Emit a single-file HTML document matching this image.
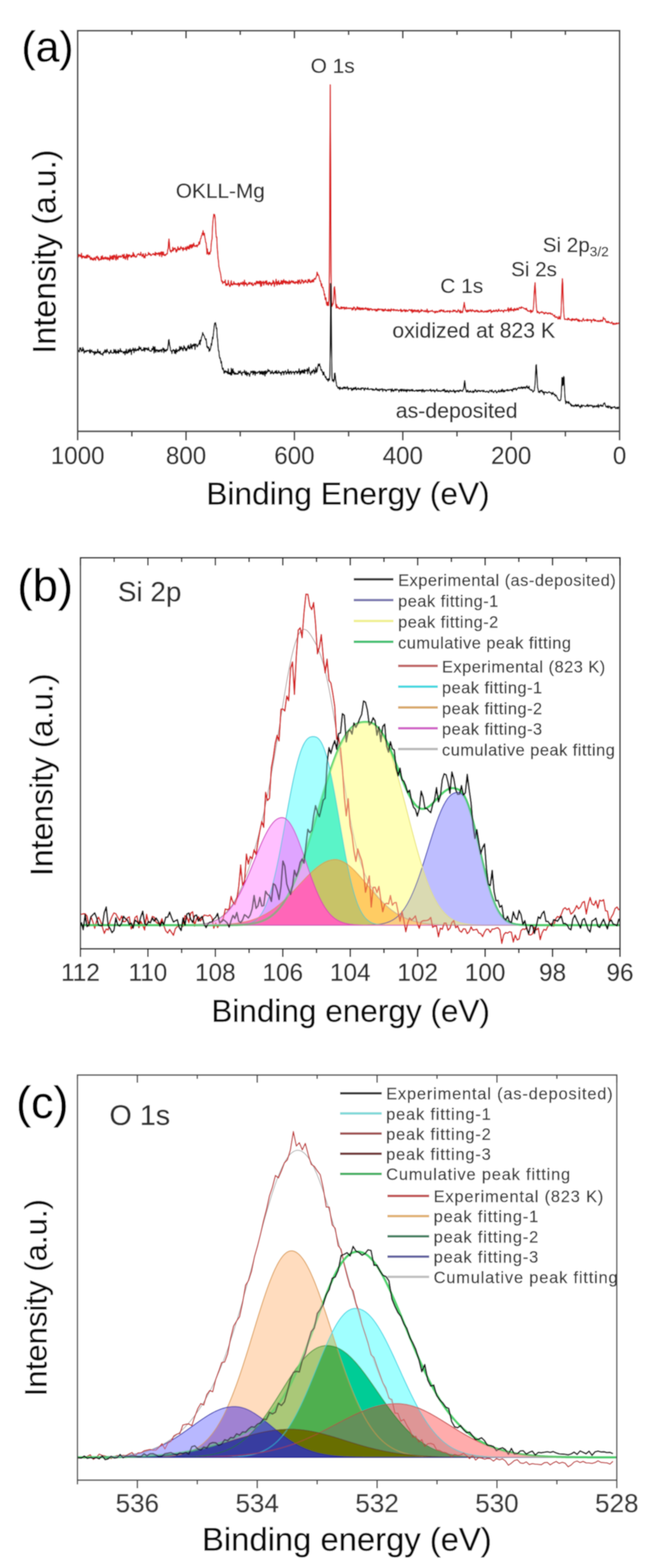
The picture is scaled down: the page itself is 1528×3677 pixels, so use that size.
<!DOCTYPE html>
<html><head><meta charset="utf-8"><title>XPS spectra</title>
<style>html,body{margin:0;padding:0;background:#fff;} svg{display:block;} text{font-family:"Liberation Sans", Arial, Helvetica, sans-serif;}</style>
</head><body>
<svg width="1528" height="3677" viewBox="0 0 1528 3677">
<defs><filter id="soft" x="0" y="0" width="1" height="1"><feGaussianBlur stdDeviation="1"/></filter></defs>
<rect width="1528" height="3677" fill="#fff"/>
<g filter="url(#soft)">
<rect width="1528" height="3677" fill="#fff"/>
<g>
<rect x="182" y="72" width="1270" height="939.5" fill="none" stroke="#4c4c4c" stroke-width="4"/>
<line x1="1452.0" y1="1011.5" x2="1452.0" y2="1032.5" stroke="#4c4c4c" stroke-width="4"/>
<line x1="1452.0" y1="72.0" x2="1452.0" y2="90.0" stroke="#4c4c4c" stroke-width="4"/>
<text x="1452.0" y="1087.5" font-size="56.60" fill="#333" text-anchor="middle" stroke="#333" stroke-width="0.6" >0</text>
<line x1="1325.0" y1="1011.5" x2="1325.0" y2="1023.5" stroke="#4c4c4c" stroke-width="4"/>
<line x1="1325.0" y1="72.0" x2="1325.0" y2="82.0" stroke="#4c4c4c" stroke-width="4"/>
<line x1="1198.0" y1="1011.5" x2="1198.0" y2="1032.5" stroke="#4c4c4c" stroke-width="4"/>
<line x1="1198.0" y1="72.0" x2="1198.0" y2="90.0" stroke="#4c4c4c" stroke-width="4"/>
<text x="1198.0" y="1087.5" font-size="56.60" fill="#333" text-anchor="middle" stroke="#333" stroke-width="0.6" >200</text>
<line x1="1071.0" y1="1011.5" x2="1071.0" y2="1023.5" stroke="#4c4c4c" stroke-width="4"/>
<line x1="1071.0" y1="72.0" x2="1071.0" y2="82.0" stroke="#4c4c4c" stroke-width="4"/>
<line x1="944.0" y1="1011.5" x2="944.0" y2="1032.5" stroke="#4c4c4c" stroke-width="4"/>
<line x1="944.0" y1="72.0" x2="944.0" y2="90.0" stroke="#4c4c4c" stroke-width="4"/>
<text x="944.0" y="1087.5" font-size="56.60" fill="#333" text-anchor="middle" stroke="#333" stroke-width="0.6" >400</text>
<line x1="817.0" y1="1011.5" x2="817.0" y2="1023.5" stroke="#4c4c4c" stroke-width="4"/>
<line x1="817.0" y1="72.0" x2="817.0" y2="82.0" stroke="#4c4c4c" stroke-width="4"/>
<line x1="690.0" y1="1011.5" x2="690.0" y2="1032.5" stroke="#4c4c4c" stroke-width="4"/>
<line x1="690.0" y1="72.0" x2="690.0" y2="90.0" stroke="#4c4c4c" stroke-width="4"/>
<text x="690.0" y="1087.5" font-size="56.60" fill="#333" text-anchor="middle" stroke="#333" stroke-width="0.6" >600</text>
<line x1="563.0" y1="1011.5" x2="563.0" y2="1023.5" stroke="#4c4c4c" stroke-width="4"/>
<line x1="563.0" y1="72.0" x2="563.0" y2="82.0" stroke="#4c4c4c" stroke-width="4"/>
<line x1="436.0" y1="1011.5" x2="436.0" y2="1032.5" stroke="#4c4c4c" stroke-width="4"/>
<line x1="436.0" y1="72.0" x2="436.0" y2="90.0" stroke="#4c4c4c" stroke-width="4"/>
<text x="436.0" y="1087.5" font-size="56.60" fill="#333" text-anchor="middle" stroke="#333" stroke-width="0.6" >800</text>
<line x1="309.0" y1="1011.5" x2="309.0" y2="1023.5" stroke="#4c4c4c" stroke-width="4"/>
<line x1="309.0" y1="72.0" x2="309.0" y2="82.0" stroke="#4c4c4c" stroke-width="4"/>
<line x1="182.0" y1="1011.5" x2="182.0" y2="1032.5" stroke="#4c4c4c" stroke-width="4"/>
<line x1="182.0" y1="72.0" x2="182.0" y2="90.0" stroke="#4c4c4c" stroke-width="4"/>
<text x="182.0" y="1087.5" font-size="56.60" fill="#333" text-anchor="middle" stroke="#333" stroke-width="0.6" >1000</text>
</g>
<polyline points="183,602.9 184,602.7 185,597 186,598 187,597.5 188,601.5 189,599.6 190,602.6 191,594 192,605.9 193,600.5 194,603.4 195,600.9 196,600.3 197,603.4 198,604.9 199,601.7 200,602.1 201,605.2 202,600.2 203,598.3 204,605 205,601.6 206,597.6 207,601.7 208,603.1 209,600.9 210,600.1 211,605.6 212,608.8 213,605.2 214,603.7 215,607.8 216,609.2 217,606 218,608.8 219,610.4 220,606.1 221,604 222,607.9 223,607.5 224,610.4 225,602.2 226,604.3 227,603.6 228,600.5 229,606.8 230,608.1 231,603.8 232,610.9 233,609 234,608.2 235,607.4 236,609.2 237,601.4 238,608 239,607.9 240,599.8 241,606.9 242,604.8 243,608.3 244,604.1 245,605.5 246,606.6 247,602.4 248,607.4 249,605 250,606.9 251,603.4 252,608.9 253,607.2 254,604.4 255,607.1 256,609.2 257,610.9 258,599.3 259,607.6 260,606 261,604 262,600.8 263,608.4 264,599.7 265,605.8 266,608.2 267,598.3 268,602.6 269,599 270,604.2 271,608.4 272,610 273,597 274,601 275,605.2 276,608.1 277,604.1 278,600 279,603.4 280,602.2 281,601.5 282,599.6 283,603.3 284,602.9 285,601.4 286,600.9 287,597.2 288,599.8 289,605.4 290,600.6 291,596.2 292,605.5 293,602.7 294,608 295,601 296,599.1 297,595.7 298,605 299,609.2 300,597.6 301,598.1 302,602.2 303,597.3 304,599.1 305,598.8 306,600.5 307,603.5 308,599.8 309,602.8 310,598.2 311,600.6 312,592.2 313,594.4 314,602 315,597.2 316,601.1 317,600.9 318,603.4 319,601.6 320,602.2 321,598.3 322,596.3 323,596.1 324,596.8 325,594.6 326,596.5 327,597.9 328,599 329,596.9 330,591.5 331,597.7 332,598.7 333,601.5 334,599.7 335,595.5 336,595.2 337,604.5 338,600.1 339,603.7 340,604.7 341,594.6 342,598.7 343,598.9 344,599.1 345,599 346,597.8 347,597.7 348,591.9 349,596.4 350,594.4 351,597.3 352,595.2 353,598.9 354,599.5 355,597.7 356,597.7 357,596.9 358,595 359,595.9 360,594.7 361,597.6 362,596.3 363,598.2 364,591.6 365,599.1 366,593.5 367,593.5 368,595.3 369,594.1 370,597 371,594 372,592.4 373,593.1 374,600.5 375,596.2 376,592 377,596 378,590.7 379,602.1 380,590.8 381,597.6 382,597.8 383,591.1 384,597 385,599.4 386,597.6 387,596.9 388,599.2 389,596.5 390,596.6 391,594.3 392,595.3 393,585.8 394,583.2 395,568 396,560.6 397,569.9 398,584.1 399,589.1 400,587.1 401,591.8 402,587.5 403,588.1 404,588.3 405,579.9 406,588.2 407,583.8 408,584.7 409,581.8 410,581.4 411,583.1 412,588.9 413,591.5 414,585.5 415,589.1 416,584.3 417,578.4 418,585.2 419,586 420,582.8 421,585 422,585.7 423,580.6 424,578.2 425,582.3 426,582.1 427,581.4 428,585.7 429,587.9 430,580.4 431,584 432,584.6 433,583.6 434,584.5 435,579.3 436,582.9 437,587.1 438,582.7 439,577.6 440,581.5 441,583.5 442,580.3 443,576.9 444,583.9 445,574.2 446,580 447,578 448,573.9 449,581.9 450,578.7 451,573.4 452,579.2 453,575.5 454,570.3 455,574.3 456,577.3 457,578.4 458,576.6 459,576 460,577.2 461,574.6 462,579 463,575 464,574.8 465,574.7 466,567.9 467,567.2 468,572.4 469,565.3 470,559.5 471,558.9 472,553.1 473,552.7 474,546.8 475,548.1 476,541.1 477,551.5 478,547.3 479,547 480,556 481,560.7 482,568.1 483,569.3 484,579.8 485,595.8 486,583.5 487,592.6 488,593.4 489,597.3 490,591.9 491,592.9 492,595.9 493,590 494,589.3 495,572.5 496,564.2 497,560.3 498,533.6 499,519.2 500,510.4 501,502.5 502,502.9 503,503.4 504,508.6 505,524 506,546.5 507,556.4 508,556.1 509,580.3 510,590.6 511,605.9 512,611.5 513,625.3 514,628.7 515,634.8 516,638.1 517,642.8 518,649.5 519,658.1 520,660.8 521,658.7 522,665.1 523,662.3 524,662.2 525,660.7 526,662.3 527,663 528,656.5 529,669.4 530,667.9 531,665.2 532,669.5 533,667.4 534,667.1 535,657.5 536,665.1 537,667.6 538,671.3 539,672 540,670.6 541,661.8 542,658.3 543,667.7 544,665.8 545,668.9 546,665.2 547,666.4 548,660.5 549,667.1 550,664.1 551,666.7 552,667.1 553,665.1 554,666.6 555,665.4 556,668 557,667.1 558,663.6 559,663.4 560,671.3 561,665 562,668.7 563,666.7 564,663.4 565,662.7 566,665.7 567,666.1 568,667.3 569,660.9 570,663.2 571,664.9 572,670.6 573,657.1 574,666.6 575,663.3 576,666.5 577,663.4 578,666.3 579,670.3 580,666.2 581,666.5 582,666.2 583,662.4 584,666.8 585,664.2 586,662.1 587,664.7 588,664.1 589,667.4 590,664.7 591,663 592,669.7 593,668.1 594,669.1 595,666.8 596,664.3 597,663.3 598,663.7 599,667.9 600,665 601,659.6 602,664.5 603,659.8 604,665.1 605,660.5 606,660.2 607,664.9 608,664.2 609,658.8 610,667 611,671.8 612,659.4 613,670.6 614,662 615,662.7 616,663.7 617,659.4 618,668.7 619,666 620,661.7 621,663.3 622,659.1 623,663 624,667.4 625,658.3 626,662.7 627,664.6 628,667.7 629,668.7 630,662.5 631,661.6 632,665.6 633,662.8 634,663 635,667.7 636,669.7 637,664.8 638,663.2 639,665.8 640,657.4 641,663.7 642,660.1 643,671.8 644,666 645,664 646,662.8 647,654.9 648,665.8 649,668.9 650,660.8 651,665.6 652,665.7 653,657.9 654,666.3 655,667.7 656,663.8 657,662.8 658,665.6 659,657.7 660,663.2 661,666.4 662,658.6 663,666.1 664,661.3 665,655.6 666,662.2 667,659.3 668,663.6 669,658.5 670,666 671,659.9 672,663.5 673,660.3 674,661.1 675,666.3 676,662.9 677,660.8 678,657.8 679,666 680,664.5 681,660.8 682,662.7 683,658.3 684,658.3 685,658.9 686,662.9 687,662.7 688,659.1 689,664.1 690,664.2 691,662.1 692,665 693,660.4 694,661 695,662.9 696,661.1 697,663.9 698,656.9 699,666 700,658.4 701,660.5 702,656.3 703,663 704,665.2 705,664.5 706,663.6 707,655.5 708,658.1 709,659.1 710,657.5 711,664.4 712,661.2 713,660.4 714,662.1 715,657.2 716,657.3 717,657.3 718,662 719,661.4 720,662.1 721,663.8 722,655.5 723,658.1 724,660.5 725,655.1 726,657.6 727,662.5 728,662.5 729,662.1 730,658.3 731,657.1 732,661.2 733,655.9 734,658 735,660.9 736,654.6 737,652.9 738,654.3 739,655 740,652.4 741,648.7 742,647.4 743,638.2 744,640.3 745,645.1 746,644.2 747,646.3 748,650.4 749,654.4 750,659.2 751,658.5 752,664.3 753,670.6 754,665.4 755,674.2 756,674.8 757,673.9 758,680.8 759,682.2 760,692.1 761,689.4 762,701.8 763,703.1 764,698.2 765,711.7 766,715.7 767,709.1 768,716.5 769,708.5 770,716.5 771,701.8 772,634.8 773,387.1 774,199 775,394.6 776,641 777,705.4 778,718.4 779,716.2 780,713.6 781,712 782,702.9 783,675.3 784,672.4 785,681 786,693 787,716.1 788,722.3 789,714.3 790,721.4 791,719.2 792,719.6 793,723.1 794,721.7 795,722.5 796,724.6 797,724.3 798,723.6 799,719.8 800,719.5 801,724.2 802,720.7 803,722.6 804,720.6 805,722.1 806,720.3 807,725.3 808,720.8 809,722.4 810,722.3 811,724.7 812,720.3 813,722.7 814,722.5 815,723.7 816,723.7 817,722.1 818,723.4 819,722.4 820,723.9 821,722.9 822,722 823,723.1 824,723.8 825,727.1 826,722.5 827,723.9 828,725.9 829,719.9 830,720.5 831,721.5 832,723.4 833,727.8 834,724.3 835,725.8 836,723.4 837,719.6 838,719.9 839,725.6 840,724.2 841,721.7 842,725.9 843,721.4 844,726 845,726.6 846,722.9 847,722.3 848,725.7 849,722.4 850,725.8 851,722.3 852,725.8 853,724.6 854,723.8 855,723 856,725 857,721.4 858,724.2 859,724 860,725.9 861,722.7 862,727.8 863,724.4 864,723 865,727.3 866,727.8 867,724.7 868,723.6 869,725.2 870,724 871,724.7 872,727.9 873,726 874,725.6 875,726 876,725.3 877,726.9 878,727 879,724.9 880,725.8 881,729.8 882,726.4 883,725.4 884,729.3 885,725.8 886,724 887,727 888,724.4 889,725.1 890,726.6 891,725.9 892,724.8 893,725.2 894,725.2 895,728.2 896,725.1 897,725.4 898,729.8 899,725.5 900,729 901,728.7 902,726.3 903,724.2 904,727.4 905,727.8 906,728.4 907,726.9 908,728.8 909,729.2 910,725.1 911,729.4 912,727.3 913,726 914,726.5 915,730.3 916,728.8 917,724.1 918,727.4 919,727 920,727 921,726.5 922,724.9 923,728.9 924,725.9 925,726.9 926,726.5 927,726.4 928,728.9 929,728.3 930,726.6 931,726.2 932,727 933,729.5 934,728.1 935,728.3 936,727.4 937,727.6 938,728.4 939,725 940,730.9 941,726.9 942,727.3 943,730.6 944,728.7 945,728.4 946,727.4 947,725.8 948,728.8 949,730.6 950,727 951,730.9 952,726.7 953,727.5 954,729.6 955,728.8 956,730 957,727.6 958,727.2 959,725.8 960,727 961,727.2 962,726.6 963,729.6 964,727.9 965,725.7 966,733.3 967,727.7 968,727 969,731.2 970,731.1 971,727.2 972,726.7 973,727.5 974,731.1 975,728.7 976,727.9 977,729.2 978,731.3 979,726.9 980,728.6 981,727 982,733 983,732.4 984,731 985,729.1 986,730.5 987,725.8 988,729.9 989,727.2 990,727.2 991,728.3 992,728.9 993,730.5 994,730.7 995,730 996,727.9 997,730.7 998,729.4 999,731.6 1000,728 1001,724.9 1002,728.8 1003,733.3 1004,730.4 1005,729.3 1006,731.1 1007,730.5 1008,730.4 1009,728.7 1010,729.7 1011,729.9 1012,728.5 1013,727.7 1014,729.8 1015,731.2 1016,730.7 1017,730.4 1018,730.5 1019,734 1020,730 1021,731.4 1022,732.9 1023,729.7 1024,730 1025,731.4 1026,732.5 1027,730.1 1028,730.2 1029,729.8 1030,727.6 1031,731.5 1032,729.2 1033,726.7 1034,729.4 1035,726.7 1036,727.9 1037,729.6 1038,728 1039,731.4 1040,727.1 1041,730.1 1042,730.6 1043,732.1 1044,731.2 1045,730 1046,729.8 1047,729.5 1048,731.6 1049,728.5 1050,730.5 1051,729.5 1052,730 1053,729.2 1054,733.2 1055,728.5 1056,730 1057,730.1 1058,730.7 1059,730.4 1060,730.3 1061,731.3 1062,727.1 1063,729.6 1064,727.5 1065,730 1066,727.6 1067,728 1068,729.5 1069,732 1070,730.6 1071,730.1 1072,732 1073,728 1074,726.1 1075,728.9 1076,729.1 1077,731.7 1078,733.3 1079,727.4 1080,733.8 1081,732.3 1082,731 1083,730.2 1084,733.2 1085,727.3 1086,721.4 1087,715.4 1088,709.3 1089,716 1090,722 1091,727.7 1092,729.7 1093,727.8 1094,731.9 1095,727.9 1096,731.1 1097,726.9 1098,730.3 1099,728.2 1100,729.7 1101,728.5 1102,725.9 1103,727.7 1104,729.7 1105,730.7 1106,727.1 1107,726 1108,728.1 1109,729.3 1110,728.5 1111,728.2 1112,731.1 1113,731.3 1114,730.9 1115,728 1116,729.8 1117,729.3 1118,727.2 1119,731.1 1120,729.8 1121,728.8 1122,732 1123,730.9 1124,731.1 1125,731.7 1126,730.8 1127,727.5 1128,729 1129,731.3 1130,728.3 1131,729.7 1132,730.3 1133,732.1 1134,731.8 1135,731.2 1136,729.3 1137,731.2 1138,730.5 1139,729.3 1140,731.9 1141,730.5 1142,728.3 1143,731.8 1144,729.2 1145,730.6 1146,727 1147,729.6 1148,728 1149,728 1150,726.4 1151,733.3 1152,729.4 1153,730 1154,731.5 1155,729.4 1156,730.5 1157,727.3 1158,730 1159,728.9 1160,730.5 1161,729.9 1162,727.3 1163,726.5 1164,727.9 1165,730.9 1166,730.3 1167,730.3 1168,726.2 1169,725 1170,728.6 1171,729 1172,728.6 1173,730.1 1174,729.1 1175,727.2 1176,727.6 1177,729.2 1178,729 1179,728.6 1180,732.5 1181,728.1 1182,728.6 1183,726.6 1184,727.5 1185,728.9 1186,728.9 1187,727.5 1188,728.3 1189,727.6 1190,724.2 1191,721.7 1192,731.1 1193,728.5 1194,726.8 1195,723.9 1196,724.5 1197,728.9 1198,721.7 1199,725.8 1200,727.7 1201,726.3 1202,727.3 1203,725.6 1204,729.8 1205,723.9 1206,723.2 1207,725.8 1208,727.7 1209,725 1210,726.8 1211,723.8 1212,722.5 1213,726.6 1214,726.6 1215,726.3 1216,722.7 1217,721.2 1218,720.9 1219,722.2 1220,723.3 1221,722.9 1222,719.4 1223,721.9 1224,721.3 1225,721.2 1226,721.6 1227,721.9 1228,723.8 1229,723.6 1230,724.4 1231,723.4 1232,725.9 1233,725.6 1234,722.8 1235,727.8 1236,727.2 1237,729.8 1238,728.5 1239,729.2 1240,730.4 1241,730.1 1242,729.4 1243,727.2 1244,733.5 1245,727.7 1246,729.9 1247,731.6 1248,730.8 1249,729.1 1250,722.9 1251,709.1 1252,685.7 1253,671.7 1254,663.1 1255,681.4 1256,702.8 1257,719.1 1258,728.6 1259,733.3 1260,730.3 1261,730.5 1262,733.1 1263,732.8 1264,735.3 1265,733.9 1266,732.7 1267,731.9 1268,732.9 1269,732.4 1270,730.5 1271,733 1272,732.8 1273,732.9 1274,732.7 1275,736.4 1276,734.9 1277,735.4 1278,733 1279,732.4 1280,733.8 1281,734.8 1282,734 1283,734.4 1284,736.5 1285,735.5 1286,733.5 1287,734.6 1288,734.3 1289,735.9 1290,733.7 1291,735.6 1292,737.2 1293,736.7 1294,735.7 1295,736.9 1296,738.8 1297,740.1 1298,741.3 1299,740.3 1300,738.9 1301,744.2 1302,743 1303,743.8 1304,744.3 1305,742.6 1306,744.5 1307,746.1 1308,748.1 1309,747.1 1310,741.8 1311,746.8 1312,747.8 1313,748.4 1314,742.8 1315,731.8 1316,702.2 1317,669.5 1318,653.7 1319,665.2 1320,701.8 1321,729.3 1322,741.7 1323,748.5 1324,749.4 1325,748.2 1326,748.8 1327,748.6 1328,749.5 1329,748.5 1330,750.2 1331,746 1332,748.9 1333,746.5 1334,748.6 1335,750.4 1336,749.6 1337,749.4 1338,749.7 1339,752.3 1340,747.8 1341,751.3 1342,747.2 1343,749.1 1344,750.2 1345,748.5 1346,750.4 1347,751.3 1348,748.1 1349,750 1350,749.6 1351,747 1352,750 1353,749 1354,752.7 1355,749 1356,753.4 1357,749.6 1358,753.9 1359,751.6 1360,751.5 1361,752.1 1362,752.3 1363,753.2 1364,753.8 1365,750.3 1366,748.9 1367,746.5 1368,750.4 1369,752.4 1370,751.8 1371,751.4 1372,750.7 1373,750.2 1374,750.9 1375,752.1 1376,748.5 1377,752.7 1378,749.1 1379,751.3 1380,750.6 1381,751.1 1382,750 1383,749.8 1384,751.4 1385,750 1386,756.1 1387,751.3 1388,750.9 1389,751.1 1390,750.3 1391,748 1392,751.8 1393,752.8 1394,749.8 1395,752.4 1396,750.4 1397,752.4 1398,753.1 1399,753.4 1400,753.3 1401,751.5 1402,754.2 1403,752 1404,753.4 1405,754 1406,752.4 1407,750.8 1408,754 1409,751.2 1410,751.7 1411,751.1 1412,753.7 1413,750.3 1414,744.1 1415,746.5 1416,747.8 1417,748.7 1418,747.5 1419,751.6 1420,754.4 1421,756.1 1422,755.2 1423,753.5 1424,756.8 1425,756.7 1426,753.6 1427,755.4 1428,756.6 1429,756.3 1430,757.4 1431,758 1432,757.7 1433,756.8 1434,754.8 1435,758.3 1436,759.8 1437,761 1438,757.7 1439,757.9 1440,760.5 1441,760.7 1442,759 1443,759.8 1444,757.4 1445,759.9 1446,757.6 1447,758.9 1448,759.1 1449,758.7 1450,756.1" fill="none" stroke="#dc2020" stroke-width="3.0" stroke-linejoin="round" />
<polyline points="183,822.8 184,821.9 185,822.1 186,825.3 187,815.9 188,818.1 189,815.9 190,820.2 191,824.2 192,820.9 193,822.9 194,814.9 195,822.1 196,818.7 197,828 198,825.2 199,825.6 200,822.4 201,824.9 202,825.2 203,822 204,821.7 205,823.2 206,821.7 207,822 208,823.2 209,821.9 210,827.2 211,819.4 212,827.8 213,823.1 214,823.5 215,821 216,825.3 217,825.2 218,826.6 219,824.2 220,826.3 221,832.1 222,827.3 223,824 224,829.1 225,825.5 226,827.9 227,828 228,824.5 229,819.3 230,824.6 231,827.7 232,824.5 233,827.3 234,829.1 235,823.9 236,829.9 237,831.2 238,829.4 239,829.7 240,829.4 241,833.3 242,826.3 243,825.7 244,827.7 245,822.5 246,820.3 247,822.6 248,826.9 249,827.2 250,820.3 251,819.1 252,824.5 253,824.9 254,825.3 255,827.8 256,829.7 257,826.3 258,827.5 259,821.7 260,821.4 261,826.2 262,827.7 263,827.9 264,827.4 265,828 266,828.1 267,819.4 268,822.8 269,826.9 270,827.3 271,820.1 272,829.3 273,823.8 274,824.4 275,826.2 276,827.8 277,820.3 278,828.6 279,825.4 280,822.5 281,824.2 282,817.7 283,822.9 284,825.7 285,822.7 286,824 287,824.6 288,825.2 289,828.5 290,824.9 291,824.1 292,826.8 293,831.9 294,823.5 295,826.3 296,819 297,828.8 298,826.3 299,828.4 300,823.5 301,820 302,826.4 303,825.8 304,820.2 305,817.9 306,824.3 307,822 308,831.4 309,820.2 310,820.4 311,821.6 312,816.2 313,818.7 314,827.1 315,820.9 316,819.1 317,816.7 318,822.9 319,823 320,821.5 321,819.1 322,821.3 323,821.4 324,817.6 325,821.9 326,812.4 327,815.1 328,818.3 329,818.8 330,815 331,820.2 332,822.7 333,820.7 334,820 335,822.1 336,820.7 337,815.5 338,818.7 339,823.9 340,815.7 341,819.8 342,818.3 343,816.6 344,816.3 345,820.2 346,820.9 347,821 348,815.1 349,819 350,821.3 351,823.4 352,822.5 353,823.1 354,824 355,823.2 356,817.6 357,820.7 358,818.1 359,812.5 360,814.9 361,827.8 362,816.9 363,813.2 364,818.8 365,826.1 366,820.8 367,822.4 368,820.1 369,820.8 370,825.4 371,823.9 372,820.9 373,824.3 374,825 375,820.6 376,822.3 377,822.3 378,819.2 379,825.4 380,821 381,819.5 382,816 383,817.4 384,826.9 385,817.9 386,823.3 387,820.6 388,823.7 389,824 390,819.4 391,820.9 392,821.2 393,817.7 394,809.3 395,798.1 396,796.4 397,803.8 398,811.4 399,815.1 400,822.6 401,822.5 402,824.1 403,828.9 404,821.9 405,822.6 406,819.7 407,821.8 408,820.9 409,828.3 410,823.9 411,821 412,829.6 413,818.2 414,825.3 415,825.6 416,823.8 417,820.6 418,820.8 419,819.8 420,823.3 421,812.4 422,818.3 423,820.2 424,817.5 425,813 426,818 427,816 428,821 429,822.7 430,817.9 431,810.8 432,816.4 433,813.6 434,818.8 435,821.9 436,816.9 437,822.5 438,820.4 439,817.3 440,811.8 441,815.1 442,809.5 443,817.7 444,814.3 445,818.3 446,814.3 447,806.5 448,815 449,815.7 450,817.9 451,808.7 452,808.7 453,811.8 454,807.7 455,806.4 456,807.1 457,819.4 458,808.2 459,806.6 460,808.2 461,809.4 462,813.4 463,811.7 464,810.5 465,807.1 466,806.2 467,802.6 468,798.2 469,808.3 470,797.3 471,799.5 472,791.8 473,789.4 474,786.4 475,780 476,783.2 477,784.6 478,787.2 479,788.2 480,793.1 481,794.3 482,797.4 483,794.7 484,803.4 485,813.9 486,811.9 487,816.5 488,814.9 489,814.2 490,824.1 491,818.5 492,822.2 493,818.3 494,814.2 495,805.4 496,809.9 497,799.3 498,790.5 499,794.7 500,784.3 501,775.1 502,765 503,758.6 504,757.2 505,756.9 506,761 507,770.7 508,769.2 509,790.9 510,795.7 511,811.8 512,822.3 513,823.2 514,835.1 515,840.1 516,839.2 517,844.7 518,851.5 519,847.8 520,858.1 521,864.5 522,866.5 523,863.2 524,868 525,875.1 526,875 527,870.7 528,869 529,872.3 530,873.1 531,870.8 532,872 533,875.3 534,876.5 535,865 536,876.7 537,873.9 538,877.5 539,873.5 540,875.2 541,879.3 542,863.7 543,879.3 544,874.6 545,867.8 546,865 547,875.2 548,870.7 549,877.7 550,875.1 551,874 552,877.9 553,875.2 554,877.1 555,877.5 556,875.8 557,877.5 558,877.6 559,870.3 560,874.1 561,874.6 562,873.7 563,869.5 564,873 565,876.1 566,875.6 567,880.1 568,872.8 569,873.4 570,872.9 571,873.7 572,872.7 573,868.4 574,875.9 575,878.1 576,878.5 577,871 578,874 579,881 580,874.3 581,875.8 582,874.1 583,878 584,877.9 585,882.5 586,876.2 587,876 588,870.4 589,873.1 590,872.1 591,873.3 592,870 593,878.5 594,870.8 595,875.3 596,870.1 597,875.5 598,880 599,871.5 600,875.5 601,874 602,875.2 603,875.7 604,872.1 605,873.6 606,872.2 607,871.4 608,870 609,877.4 610,871.6 611,876.4 612,876 613,870.7 614,877.6 615,871.1 616,876.1 617,878.9 618,871.5 619,870.8 620,870.7 621,881.7 622,872.6 623,869.6 624,876.6 625,873.2 626,873.7 627,870.4 628,866.2 629,871.3 630,870.2 631,868.2 632,870 633,870.4 634,876.4 635,876 636,875.4 637,871.8 638,869.3 639,874.6 640,875.1 641,876.9 642,873.4 643,873 644,874.5 645,870.3 646,870.7 647,875.6 648,869.1 649,873.1 650,876 651,874.1 652,874.8 653,869.5 654,872.9 655,872.4 656,875.3 657,874.7 658,873.4 659,879.7 660,875.1 661,872.2 662,871.1 663,873.1 664,871.2 665,878.7 666,875.1 667,872.1 668,870.9 669,869.5 670,872.2 671,877.6 672,875.9 673,872.8 674,873.4 675,866.6 676,875.4 677,872 678,877.4 679,872.1 680,871 681,873.3 682,870.3 683,877 684,873.3 685,873.6 686,873.4 687,871 688,873.8 689,872.7 690,878 691,872.2 692,873.2 693,870.3 694,870.5 695,870.7 696,876.1 697,872 698,874.9 699,870.7 700,870.3 701,864.9 702,874.2 703,878.4 704,870.5 705,876.1 706,874.1 707,868.8 708,873.7 709,868 710,869.9 711,875 712,871.4 713,866.8 714,875.5 715,866.9 716,870 717,869.4 718,869.9 719,867.5 720,864.8 721,876.6 722,867 723,867.1 724,861.8 725,870.3 726,874.3 727,874.7 728,879.2 729,874.9 730,871.1 731,869.8 732,874.5 733,869.4 734,870.2 735,866.2 736,869.7 737,876.2 738,869.4 739,871.1 740,861.5 741,873.8 742,869.6 743,871.5 744,865.1 745,858.4 746,853.7 747,857.9 748,855.4 749,853.2 750,858.8 751,860.2 752,868.1 753,867.3 754,866.8 755,872.3 756,871.7 757,879.4 758,873.4 759,872.5 760,878.8 761,880.1 762,883.9 763,885.7 764,883.4 765,888.7 766,890.5 767,888.8 768,891.2 769,894 770,888.1 771,890 772,891.4 773,879.1 774,805.3 775,665 776,670.8 777,806.3 778,885.7 779,893.1 780,892.5 781,890.4 782,895.3 783,891.5 784,875.6 785,875.1 786,882.1 787,892.7 788,897.1 789,905.3 790,905.8 791,906.3 792,910.4 793,910.6 794,908.4 795,910.9 796,913.5 797,907.7 798,911.4 799,911.8 800,910.4 801,910.9 802,909.9 803,912.7 804,908.9 805,910.2 806,907.2 807,911.1 808,911.2 809,907.7 810,909.1 811,911.5 812,909.8 813,908.6 814,906.5 815,911.3 816,914.1 817,910 818,911.6 819,911.6 820,910.8 821,911.1 822,911.2 823,909.5 824,915.3 825,915.7 826,911.7 827,914.2 828,909.8 829,910.8 830,913.2 831,909.3 832,909.1 833,912 834,908.1 835,914.4 836,912.8 837,912 838,912.7 839,910.1 840,910.1 841,913.1 842,913.4 843,912 844,911.8 845,911 846,914.3 847,909.4 848,910.5 849,911.1 850,909.5 851,909.8 852,910.4 853,913.9 854,915.3 855,912.8 856,909.5 857,911.3 858,912.1 859,911.9 860,911.8 861,913.3 862,909.2 863,911.6 864,912.9 865,913.8 866,913.1 867,912.7 868,912.5 869,911.6 870,913 871,912.5 872,911.7 873,915 874,915 875,912.4 876,914.1 877,915.1 878,913.6 879,913.4 880,914 881,910.4 882,910.9 883,914.2 884,913.8 885,915.7 886,912.6 887,915.3 888,915.3 889,916.9 890,912.2 891,913 892,914.1 893,914.1 894,912 895,912.8 896,911.6 897,917.8 898,913.8 899,913.9 900,912.9 901,914 902,915.4 903,913.5 904,914 905,917.8 906,915.7 907,914.6 908,913.5 909,914.2 910,913 911,914.8 912,913.2 913,913.2 914,913.7 915,912.6 916,914.8 917,918.8 918,913.5 919,911.8 920,916.2 921,914.5 922,918 923,915.3 924,916.3 925,913.4 926,912.1 927,914.5 928,916 929,913.4 930,912.2 931,913.9 932,914.2 933,914.4 934,914.9 935,919.1 936,915.1 937,914.2 938,913.3 939,916.5 940,912.5 941,917.7 942,915.2 943,912.7 944,915.6 945,915.2 946,917.5 947,912.9 948,915.8 949,915.5 950,917.1 951,913.6 952,914.3 953,919 954,916.6 955,913.2 956,916.3 957,914.4 958,914.6 959,913.8 960,917.5 961,915 962,916.2 963,916 964,913.3 965,914.6 966,917.2 967,913.2 968,916.3 969,915.7 970,917 971,917 972,917.3 973,916 974,916.3 975,914.7 976,915 977,917.4 978,914.9 979,917.6 980,917.6 981,914.5 982,916.8 983,914.5 984,916.5 985,914.6 986,916.5 987,916.2 988,914.1 989,919.4 990,917.5 991,913.2 992,916.5 993,915.2 994,919.4 995,915.8 996,916.6 997,915.6 998,917 999,915 1000,914.4 1001,915.1 1002,915.2 1003,917 1004,916.1 1005,915.2 1006,915.3 1007,914.5 1008,916.2 1009,912.6 1010,915.7 1011,918.1 1012,915.5 1013,915 1014,916.2 1015,914.5 1016,914.8 1017,917.3 1018,915.1 1019,919.5 1020,917.1 1021,916 1022,915.1 1023,915.8 1024,912.4 1025,916.6 1026,917.8 1027,917.2 1028,915.5 1029,917.3 1030,917.4 1031,916.1 1032,916.9 1033,918.1 1034,917.1 1035,915.7 1036,916.4 1037,916.6 1038,913.7 1039,916.6 1040,916.2 1041,912.7 1042,913.5 1043,919.5 1044,916.6 1045,918.8 1046,915.9 1047,919.1 1048,917.5 1049,915.4 1050,917 1051,919.2 1052,920.6 1053,917.5 1054,915.8 1055,915.1 1056,917.8 1057,918.5 1058,916.9 1059,916.5 1060,918.1 1061,917.5 1062,917.4 1063,914.1 1064,916.2 1065,920 1066,916.7 1067,920.9 1068,917.4 1069,916.3 1070,917.3 1071,917.9 1072,915.6 1073,917.3 1074,916.2 1075,919.3 1076,916.1 1077,917.1 1078,914.4 1079,914.6 1080,916.8 1081,915.4 1082,916.5 1083,917.4 1084,917.8 1085,914 1086,913.7 1087,909.1 1088,898.3 1089,892.8 1090,898.3 1091,910.8 1092,914.1 1093,919.1 1094,916.5 1095,919.1 1096,914.7 1097,916.7 1098,917.3 1099,920.1 1100,918 1101,919.1 1102,916.5 1103,916.5 1104,919.4 1105,919.7 1106,919.3 1107,919.3 1108,916.4 1109,920.9 1110,917.6 1111,919.5 1112,918.6 1113,914.3 1114,914 1115,914.6 1116,917.3 1117,919.3 1118,917 1119,918.8 1120,915.3 1121,916.4 1122,915.9 1123,917.5 1124,915.5 1125,917.3 1126,918.5 1127,916.7 1128,916 1129,916.7 1130,915.4 1131,915.8 1132,918.9 1133,918.1 1134,915.1 1135,917.1 1136,918.4 1137,919 1138,918.7 1139,919.3 1140,917.6 1141,917.6 1142,917.2 1143,919.5 1144,919.1 1145,920.7 1146,919.6 1147,916.3 1148,915.2 1149,915.4 1150,916.2 1151,918.8 1152,915.4 1153,914.3 1154,917.5 1155,919.2 1156,919.1 1157,920.7 1158,917.8 1159,916.9 1160,917.3 1161,915.6 1162,916.7 1163,920.1 1164,921.5 1165,920.1 1166,918.4 1167,917.5 1168,918.3 1169,914.7 1170,918.9 1171,919.3 1172,917.7 1173,917.8 1174,914.7 1175,918.8 1176,918.6 1177,912.4 1178,915.9 1179,917.3 1180,919.4 1181,914.9 1182,916.2 1183,918.6 1184,916.7 1185,915.3 1186,914.8 1187,915.4 1188,913.8 1189,916.8 1190,913.4 1191,915.7 1192,916.1 1193,916.4 1194,914.4 1195,914.1 1196,914.5 1197,913.9 1198,915.5 1199,913.3 1200,916.6 1201,917.9 1202,911.9 1203,913.5 1204,910.7 1205,913.7 1206,913 1207,911.7 1208,910.1 1209,911.8 1210,915 1211,914.1 1212,911.9 1213,910 1214,910.8 1215,909.3 1216,908.2 1217,908.7 1218,911.2 1219,910.5 1220,910.1 1221,907.8 1222,907.1 1223,911 1224,908.5 1225,911 1226,907.5 1227,910.3 1228,908.8 1229,907.5 1230,907.4 1231,911.2 1232,909.3 1233,907.1 1234,907.7 1235,904.6 1236,910 1237,910.3 1238,908.1 1239,910.4 1240,905.7 1241,913 1242,912.9 1243,913.4 1244,915.2 1245,915.2 1246,913.8 1247,915.2 1248,916.9 1249,919.6 1250,918 1251,916.4 1252,916.5 1253,908.2 1254,900.8 1255,877.5 1256,857 1257,855.2 1258,870.5 1259,890.6 1260,909.6 1261,911.9 1262,919.9 1263,917.8 1264,919.5 1265,920.9 1266,915.9 1267,915.7 1268,917.6 1269,915.5 1270,915.1 1271,918.8 1272,920.8 1273,918.1 1274,919.9 1275,925.5 1276,919.9 1277,918.9 1278,919.3 1279,920.4 1280,919.3 1281,921.1 1282,920.5 1283,921.8 1284,920.6 1285,920.3 1286,919 1287,918.4 1288,920.4 1289,920.3 1290,921.6 1291,921.1 1292,920.7 1293,925.4 1294,922.2 1295,923.8 1296,920.1 1297,923.7 1298,925.2 1299,925.2 1300,924.1 1301,929 1302,926.8 1303,926.6 1304,927.6 1305,931.7 1306,932 1307,935.4 1308,936.4 1309,938.8 1310,938.2 1311,939 1312,940 1313,938.7 1314,937.5 1315,930.3 1316,911.4 1317,885.6 1318,885.7 1319,904.1 1320,897.6 1321,883.1 1322,884.5 1323,911.4 1324,930.5 1325,940 1326,946.7 1327,940.8 1328,943.2 1329,943.9 1330,943.2 1331,941.9 1332,946.3 1333,941.9 1334,944.1 1335,946 1336,945.9 1337,949.6 1338,947.7 1339,952.1 1340,949.4 1341,952.7 1342,951.4 1343,950.8 1344,951.4 1345,953.6 1346,950.9 1347,951.8 1348,950.5 1349,948.4 1350,952.8 1351,952.9 1352,949.8 1353,952.6 1354,951.4 1355,948.6 1356,950.2 1357,953 1358,953.6 1359,952.5 1360,956.6 1361,952.5 1362,950.6 1363,949.3 1364,954.4 1365,951.1 1366,951.2 1367,950.5 1368,950.5 1369,951.3 1370,952.7 1371,952.8 1372,952.5 1373,953.5 1374,951.1 1375,950.2 1376,951.9 1377,948.4 1378,953.4 1379,952.8 1380,952.9 1381,950.1 1382,951.1 1383,952 1384,950.2 1385,950.1 1386,951.6 1387,952.2 1388,950.8 1389,953.7 1390,955.8 1391,953 1392,951.7 1393,951.4 1394,954.7 1395,952.5 1396,953 1397,952.4 1398,951 1399,954.6 1400,951.6 1401,952.2 1402,948.3 1403,955.7 1404,953.3 1405,951.8 1406,950.6 1407,950.9 1408,949.1 1409,952.8 1410,950.4 1411,952.5 1412,951.9 1413,953 1414,948 1415,946 1416,945.6 1417,944.7 1418,947.7 1419,951 1420,954.1 1421,954.2 1422,952.9 1423,955.6 1424,953.1 1425,951.2 1426,956.6 1427,954.1 1428,953.4 1429,952.3 1430,953.7 1431,957.5 1432,954.6 1433,958.6 1434,955 1435,957 1436,955.3 1437,954.6 1438,954.7 1439,955.1 1440,953.6 1441,953.7 1442,956.6 1443,958.2 1444,956.5 1445,956.4 1446,954.9 1447,958.5 1448,958.5 1449,954.8 1450,957" fill="none" stroke="#111" stroke-width="3.0" stroke-linejoin="round" />
<text x="50.2" y="144.1" font-size="100.00" fill="#000" text-anchor="start" stroke="#000" stroke-width="0.6" >(a)</text>
<text x="727.9" y="171.2" font-size="49.00" fill="#333" text-anchor="start" stroke="#333" stroke-width="0.6" >O 1s</text>
<text x="411.9" y="464.1" font-size="48.80" fill="#333" text-anchor="start" stroke="#333" stroke-width="0.6" >OKLL-Mg</text>
<text x="1031.7" y="686.8" font-size="49.00" fill="#333" text-anchor="start" stroke="#333" stroke-width="0.6" >C 1s</text>
<text x="1197.8" y="647.8" font-size="48.30" fill="#333" text-anchor="start" stroke="#333" stroke-width="0.6" >Si 2s</text>
<text x="1272" y="591" font-size="48.3" fill="#333" stroke="#333" stroke-width="0.6">Si 2p<tspan font-size="32" dy="10">3/2</tspan></text>
<text x="919.6" y="791.7" font-size="49.70" fill="#333" text-anchor="start" stroke="#333" stroke-width="0.6" >oxidized at 823 K</text>
<text x="927.4" y="980.0" font-size="49.90" fill="#333" text-anchor="start" stroke="#333" stroke-width="0.6" >as-deposited</text>
<text transform="translate(129.6,590.0) rotate(-90)" font-size="75.5" fill="#111" stroke="#111" stroke-width="0.6" text-anchor="middle">Intensity (a.u.)</text>
<text x="815.5" y="1183.0" font-size="74.20" fill="#111" text-anchor="middle" stroke="#111" stroke-width="0.6" >Binding Energy (eV)</text>
<polygon points="437.5,2169.2 440.5,2169.1 443.5,2169.1 446.5,2169 449.5,2168.9 452.5,2168.8 455.5,2168.6 458.5,2168.5 461.5,2168.3 464.5,2168 467.5,2167.8 470.5,2167.5 473.5,2167.1 476.5,2166.7 479.5,2166.3 482.5,2165.8 485.5,2165.2 488.5,2164.5 491.5,2163.8 494.5,2162.9 497.5,2161.9 500.5,2160.9 503.5,2159.7 506.5,2158.3 509.5,2156.8 512.5,2155.2 515.5,2153.4 518.5,2151.4 521.5,2149.2 524.5,2146.8 527.5,2144.1 530.5,2141.3 533.5,2138.2 536.5,2134.8 539.5,2131.3 542.5,2127.4 545.5,2123.3 548.5,2118.9 551.5,2114.2 554.5,2109.3 557.5,2104.1 560.5,2098.6 563.5,2092.9 566.5,2086.9 569.5,2080.6 572.5,2074.2 575.5,2067.5 578.5,2060.7 581.5,2053.6 584.5,2046.5 587.5,2039.2 590.5,2031.8 593.5,2024.4 596.5,2016.9 599.5,2009.5 602.5,2002.1 605.5,1994.8 608.5,1987.7 611.5,1980.7 614.5,1973.9 617.5,1967.3 620.5,1961.1 623.5,1955.1 626.5,1949.5 629.5,1944.3 632.5,1939.4 635.5,1935 638.5,1931.1 641.5,1927.7 644.5,1924.7 647.5,1922.3 650.5,1920.3 653.5,1918.9 656.5,1918 659.5,1917.5 662.5,1917.6 665.5,1918.2 668.5,1919.5 670.5,1920.7 670.5,2169.5 437.5,2169.5" fill="#ffc0ff"/>
<polygon points="669.5,1923.6 672.5,1907 675.5,1890.5 678.5,1874.3 681.5,1858.6 684.5,1843.4 687.5,1828.8 690.5,1815 693.5,1802.1 696.5,1790.1 699.5,1779.1 702.5,1769.2 705.5,1760.4 708.5,1752.7 711.5,1746.1 714.5,1740.6 717.5,1736.2 720.5,1732.8 723.5,1730.4 726.5,1728.7 729.5,1727.9 732.5,1727.5 735.5,1727.5 738.5,1727.9 741.5,1728.9 744.5,1730.8 747.5,1733.5 750.5,1737.4 753.5,1742.4 756.5,1748.6 759.5,1756 762.5,1764.7 765.5,1774.6 768.5,1785.6 771.5,1797.9 774.5,1811.2 774.5,2169.5 669.5,2169.5" fill="#a6ffff"/>
<polygon points="773.5,1808.7 776.5,1799.9 779.5,1791.4 782.5,1783.1 785.5,1775.2 788.5,1767.6 791.5,1760.3 794.5,1753.4 797.5,1746.9 800.5,1740.7 803.5,1735 806.5,1729.6 809.5,1724.6 812.5,1720.1 815.5,1715.9 818.5,1712.1 821.5,1708.7 824.5,1705.7 827.5,1703.1 830.5,1700.8 833.5,1698.9 836.5,1697.3 839.5,1696 842.5,1695 845.5,1694.3 848.5,1693.9 851.5,1693.6 854.5,1693.5 857.5,1693.5 860.5,1693.6 863.5,1694 866.5,1694.6 869.5,1695.6 872.5,1697 875.5,1698.7 878.5,1700.9 881.5,1703.5 884.5,1706.6 887.5,1710.2 890.5,1714.3 893.5,1718.9 896.5,1724.1 899.5,1729.7 902.5,1735.9 905.5,1742.5 908.5,1749.7 911.5,1757.4 914.5,1765.5 917.5,1774.1 920.5,1783.1 923.5,1792.5 926.5,1802.3 929.5,1812.4 932.5,1822.9 935.5,1833.6 938.5,1844.6 941.5,1855.8 944.5,1867.2 947.5,1878.7 950.5,1890.3 953.5,1901.9 956.5,1913.6 959.5,1925.3 962.5,1936.8 965.5,1948.3 968.5,1959.7 971.5,1970.9 974.5,1981.9 977.5,1992.6 980.5,2003.1 983.5,2013.3 986.5,2023.3 989.5,2032.9 990.5,2036 990.5,2169.5 773.5,2169.5" fill="#ffffb9"/>
<polygon points="989.5,2033.4 992.5,2024.1 995.5,2014.7 998.5,2005.1 1001.5,1995.5 1004.5,1985.9 1007.5,1976.2 1010.5,1966.7 1013.5,1957.3 1016.5,1948.1 1019.5,1939.1 1022.5,1930.4 1025.5,1922.1 1028.5,1914.1 1031.5,1906.6 1034.5,1899.5 1037.5,1893 1040.5,1886.9 1043.5,1881.5 1046.5,1876.6 1049.5,1872.3 1052.5,1868.6 1055.5,1865.6 1058.5,1863.1 1061.5,1861.2 1064.5,1859.8 1067.5,1858.9 1070.5,1858.6 1073.5,1858.5 1076.5,1859 1079.5,1860.4 1082.5,1862.7 1085.5,1866.1 1088.5,1870.6 1091.5,1876.2 1094.5,1882.9 1097.5,1890.6 1100.5,1899.3 1103.5,1908.9 1106.5,1919.4 1109.5,1930.7 1112.5,1942.5 1115.5,1954.8 1118.5,1967.6 1121.5,1980.5 1124.5,1993.6 1127.5,2006.6 1130.5,2019.5 1133.5,2032.1 1136.5,2044.4 1139.5,2056.2 1142.5,2067.6 1145.5,2078.3 1148.5,2088.3 1151.5,2097.7 1154.5,2106.4 1157.5,2114.3 1160.5,2121.6 1163.5,2128.2 1166.5,2134 1169.5,2139.3 1172.5,2143.9 1175.5,2148 1178.5,2151.5 1181.5,2154.5 1184.5,2157.2 1187.5,2159.4 1190.5,2161.3 1193.5,2162.8 1196.5,2164.1 1199.5,2165.2 1202.5,2166.1 1205.5,2166.8 1208.5,2167.4 1211.5,2167.9 1214.5,2168.2 1217.5,2168.5 1220.5,2168.8 1223.5,2169 1226.5,2169.1 1229.5,2169.2 1230.5,2169.2 1230.5,2169.5 989.5,2169.5" fill="#bebeff"/>
<polygon points="475.5,2169.2 478.5,2169.2 481.5,2169.1 484.5,2169.1 487.5,2169 490.5,2169 493.5,2168.9 496.5,2168.8 499.5,2168.8 502.5,2168.7 505.5,2168.6 508.5,2168.5 511.5,2168.4 514.5,2168.2 517.5,2168.1 520.5,2167.9 523.5,2167.8 526.5,2167.6 529.5,2167.4 532.5,2167.2 535.5,2166.9 538.5,2166.7 541.5,2166.4 544.5,2166.1 547.5,2165.8 550.5,2165.4 553.5,2165 556.5,2164.6 559.5,2164.2 562.5,2163.7 565.5,2163.2 568.5,2162.6 571.5,2162 574.5,2161.4 577.5,2160.7 580.5,2160 583.5,2159.2 586.5,2158.3 589.5,2157.5 592.5,2156.5 595.5,2155.5 598.5,2154.4 601.5,2153.3 604.5,2152.1 606.5,2151.3 606.5,2169.5 475.5,2169.5" fill="#ff66b8"/>
<polygon points="605.5,2152.2 608.5,2148.7 611.5,2144.6 614.5,2140 617.5,2134.6 620.5,2128.6 623.5,2121.9 626.5,2114.3 629.5,2106 632.5,2096.8 635.5,2086.7 638.5,2075.8 641.5,2064.1 644.5,2051.5 647.5,2038.2 650.5,2024.1 653.5,2009.4 656.5,1994.1 659.5,1978.3 662.5,1962.1 665.5,1945.7 668.5,1929.1 671.5,1921.5 674.5,1924.2 677.5,1927.6 680.5,1931.8 683.5,1936.5 686.5,1941.9 689.5,1947.9 692.5,1954.5 695.5,1961.5 698.5,1969 701.5,1976.8 704.5,1985 707.5,1993.4 710.5,2002 713.5,2010.7 713.5,2169.5 605.5,2169.5" fill="#dfa5ff"/>
<polygon points="712.5,2008.1 715.5,1999 718.5,1989.7 721.5,1980.2 724.5,1970.6 727.5,1960.8 730.5,1950.8 733.5,1940.8 736.5,1930.6 739.5,1920.4 742.5,1910.2 745.5,1899.9 748.5,1889.7 751.5,1879.5 754.5,1869.4 757.5,1859.4 760.5,1849.5 763.5,1839.8 766.5,1830.2 769.5,1820.8 772.5,1811.7 775.5,1815.9 778.5,1830.5 781.5,1845.9 784.5,1862 787.5,1878.7 790.5,1895.8 793.5,1913.2 796.5,1930.7 799.5,1948.2 802.5,1965.4 805.5,1982.4 808.5,1998.9 811.5,2014.8 814.5,2030 814.5,2169.5 712.5,2169.5" fill="#5af5c8"/>
<polygon points="813.5,2026.4 816.5,2028.6 819.5,2031 822.5,2033.6 825.5,2036.3 828.5,2039.2 831.5,2042.1 834.5,2045.2 837.5,2048.4 840.5,2051.7 843.5,2055.1 846.5,2058.5 849.5,2062 852.5,2065.5 855.5,2069.1 858.5,2072.6 861.5,2076.2 864.5,2079.8 867.5,2083.4 870.5,2086.9 873.5,2090.4 876.5,2093.9 879.5,2097.3 882.5,2100.6 885.5,2103.9 888.5,2107.1 891.5,2110.3 894.5,2113.4 897.5,2116.3 900.5,2119.2 903.5,2122 906.5,2124.7 909.5,2127.4 912.5,2129.9 915.5,2132.3 918.5,2134.6 921.5,2136.8 924.5,2139 927.5,2141 930.5,2142.9 933.5,2144.7 935.5,2145.9 935.5,2169.5 813.5,2169.5" fill="#ffcd64"/>
<polygon points="934.5,2146.6 937.5,2143.5 940.5,2140.1 943.5,2136.4 946.5,2132.3 949.5,2127.9 952.5,2123.1 955.5,2117.9 958.5,2112.3 961.5,2106.4 964.5,2100 967.5,2093.3 970.5,2086.2 973.5,2078.7 976.5,2070.9 979.5,2062.7 982.5,2054.2 985.5,2045.5 988.5,2036.5 991.5,2039.1 994.5,2048.1 997.5,2056.7 1000.5,2065 1003.5,2072.9 1006.5,2080.4 1009.5,2087.6 1012.5,2094.3 1015.5,2100.7 1018.5,2106.6 1021.5,2112.2 1024.5,2117.4 1027.5,2122.3 1030.5,2126.8 1033.5,2131 1036.5,2134.9 1039.5,2138.4 1042.5,2141.7 1045.5,2144.7 1048.5,2147.4 1051.5,2149.9 1054.5,2152.1 1057.5,2154.2 1060.5,2156 1063.5,2157.7 1066.5,2159.1 1069.5,2160.4 1072.5,2161.6 1075.5,2162.6 1078.5,2163.6 1081.5,2164.4 1084.5,2165.1 1087.5,2165.7 1090.5,2166.3 1093.5,2166.7 1096.5,2167.1 1099.5,2167.5 1102.5,2167.8 1105.5,2168.1 1108.5,2168.3 1111.5,2168.5 1114.5,2168.7 1117.5,2168.8 1120.5,2168.9 1123.5,2169 1126.5,2169.1 1129.5,2169.2 1131.5,2169.2 1131.5,2169.5 934.5,2169.5" fill="#dadab2"/>
<polygon points="542.5,2169.2 545.5,2169.2 548.5,2169.1 551.5,2169 554.5,2168.9 557.5,2168.8 560.5,2168.7 563.5,2168.6 566.5,2168.4 569.5,2168.2 572.5,2168 573.5,2167.9 573.5,2169.5 542.5,2169.5" fill="#ff66b8"/>
<polygon points="572.5,2168 575.5,2167.6 578.5,2167.1 581.5,2166.4 584.5,2165.5 587.5,2164.5 590.5,2163.3 593.5,2161.7 596.5,2159.9 599.5,2157.7 602.5,2155.2 605.5,2152.2 608.5,2150.4 611.5,2149.1 614.5,2147.6 617.5,2146.1 620.5,2144.6 623.5,2142.9 626.5,2141.2 629.5,2139.4 632.5,2137.5 635.5,2135.5 638.5,2133.4 641.5,2131.3 644.5,2129.1 647.5,2126.8 650.5,2124.4 653.5,2122 656.5,2119.5 659.5,2116.9 662.5,2114.2 665.5,2111.5 668.5,2108.7 671.5,2105.8 671.5,2169.5 572.5,2169.5" fill="#ff66b8"/>
<polygon points="670.5,2107.2 673.5,2102 676.5,2096.6 679.5,2090.8 682.5,2084.7 685.5,2078.3 688.5,2071.7 691.5,2064.7 694.5,2057.4 697.5,2049.9 700.5,2042.1 703.5,2034 706.5,2025.6 709.5,2017 712.5,2008.1 715.5,2016.5 718.5,2025.3 721.5,2034 724.5,2042.7 727.5,2051.2 727.5,2169.5 670.5,2169.5" fill="#e2aaf5"/>
<polygon points="726.5,2048.6 729.5,2045.8 732.5,2042.9 735.5,2040.2 738.5,2037.6 741.5,2035.1 744.5,2032.7 747.5,2030.4 750.5,2028.3 753.5,2026.3 756.5,2024.4 759.5,2022.7 762.5,2021.2 765.5,2019.8 768.5,2018.6 771.5,2017.6 774.5,2016.8 777.5,2016.2 780.5,2015.8 783.5,2015.5 786.5,2015.5 789.5,2015.8 792.5,2016.3 795.5,2017.1 798.5,2018.1 801.5,2019.3 804.5,2020.8 807.5,2022.4 810.5,2024.3 813.5,2026.4 816.5,2039.8 819.5,2053.7 822.5,2066.7 825.5,2078.9 828.5,2090.1 831.5,2100.3 834.5,2109.7 837.5,2118.1 840.5,2125.6 843.5,2132.2 846.5,2138.1 849.5,2143.2 852.5,2147.7 855.5,2151.5 858.5,2154.8 861.5,2157.5 864.5,2159.8 867.5,2161.8 870.5,2163.3 873.5,2164.6 876.5,2165.7 879.5,2166.5 882.5,2167.2 885.5,2167.8 886.5,2167.9 886.5,2169.5 726.5,2169.5" fill="#c8c369"/>
<polygon points="885.5,2167.8 888.5,2167.4 891.5,2167 894.5,2166.5 897.5,2165.9 900.5,2165.2 903.5,2164.5 906.5,2163.6 909.5,2162.5 912.5,2161.4 915.5,2160 918.5,2158.5 921.5,2156.8 924.5,2154.8 927.5,2152.7 930.5,2150.2 933.5,2147.5 936.5,2146.5 939.5,2148.1 942.5,2149.7 945.5,2151.1 948.5,2152.5 951.5,2153.8 954.5,2155 957.5,2156.2 960.5,2157.2 963.5,2158.2 966.5,2159.2 969.5,2160 972.5,2160.9 975.5,2161.6 978.5,2162.3 981.5,2162.9 984.5,2163.5 987.5,2164.1 990.5,2164.6 993.5,2165 996.5,2165.5 999.5,2165.9 1002.5,2166.2 1005.5,2166.5 1008.5,2166.8 1011.5,2167.1 1014.5,2167.3 1017.5,2167.6 1020.5,2167.8 1023.5,2168 1026.5,2168.1 1029.5,2168.3 1032.5,2168.4 1035.5,2168.5 1038.5,2168.6 1041.5,2168.7 1044.5,2168.8 1047.5,2168.9 1050.5,2169 1053.5,2169 1056.5,2169.1 1059.5,2169.1 1062.5,2169.2 1064.5,2169.2 1064.5,2169.5 885.5,2169.5" fill="#facd82"/>
<polygon points="555.5,2169.2 558.5,2169.1 561.5,2169 564.5,2168.8 567.5,2168.6 570.5,2168.3 573.5,2167.9 576.5,2167.7 579.5,2167.4 582.5,2167.1 585.5,2166.7 588.5,2166.3 591.5,2165.8 594.5,2165.3 597.5,2164.7 600.5,2164.1 603.5,2163.3 606.5,2162.5 609.5,2161.6 612.5,2160.5 615.5,2159.4 618.5,2158.1 621.5,2156.8 624.5,2155.2 627.5,2153.6 630.5,2151.7 633.5,2149.7 636.5,2147.6 639.5,2145.2 642.5,2142.6 645.5,2139.8 648.5,2136.8 651.5,2133.6 654.5,2130.1 657.5,2126.4 660.5,2122.5 663.5,2118.2 666.5,2113.7 669.5,2108.9 672.5,2104.8 675.5,2101.9 678.5,2098.9 681.5,2095.8 684.5,2092.7 687.5,2089.6 690.5,2086.5 693.5,2083.3 696.5,2080.1 699.5,2076.8 702.5,2073.6 705.5,2070.4 708.5,2067.2 711.5,2064 714.5,2060.8 717.5,2057.7 720.5,2054.6 723.5,2051.6 726.5,2048.6 729.5,2056.8 732.5,2065 735.5,2072.9 738.5,2080.6 741.5,2087.9 744.5,2094.9 747.5,2101.5 750.5,2107.8 753.5,2113.7 756.5,2119.2 759.5,2124.3 762.5,2129.1 765.5,2133.5 768.5,2137.5 771.5,2141.2 774.5,2144.5 777.5,2147.6 780.5,2150.3 783.5,2152.8 786.5,2155 789.5,2156.9 792.5,2158.6 795.5,2160.2 798.5,2161.5 801.5,2162.7 804.5,2163.7 807.5,2164.6 810.5,2165.4 813.5,2166 816.5,2166.6 819.5,2167.1 822.5,2167.5 825.5,2167.8 828.5,2168.1 831.5,2168.4 834.5,2168.6 837.5,2168.8 840.5,2168.9 843.5,2169 846.5,2169.1 849.5,2169.2 850.5,2169.2 850.5,2169.5 555.5,2169.5" fill="#ff66b8"/>
<polygon points="859.5,2169.2 862.5,2169.1 865.5,2169 868.5,2168.9 871.5,2168.8 874.5,2168.6 877.5,2168.5 880.5,2168.2 883.5,2168 886.5,2167.9 889.5,2168.3 892.5,2168.6 895.5,2168.8 898.5,2169 901.5,2169.1 903.5,2169.2 903.5,2169.5 859.5,2169.5" fill="#c8c369"/>
<polyline points="189.5,2169.5 191.5,2169.5 193.5,2169.5 195.5,2169.5 197.5,2169.5 199.5,2169.5 201.5,2169.5 203.5,2169.5 205.5,2169.5 207.5,2169.5 209.5,2169.5 211.5,2169.5 213.5,2169.5 215.5,2169.5 217.5,2169.5 219.5,2169.5 221.5,2169.5 223.5,2169.5 225.5,2169.5 227.5,2169.5 229.5,2169.5 231.5,2169.5 233.5,2169.5 235.5,2169.5 237.5,2169.5 239.5,2169.5 241.5,2169.5 243.5,2169.5 245.5,2169.5 247.5,2169.5 249.5,2169.5 251.5,2169.5 253.5,2169.5 255.5,2169.5 257.5,2169.5 259.5,2169.5 261.5,2169.5 263.5,2169.5 265.5,2169.5 267.5,2169.5 269.5,2169.5 271.5,2169.5 273.5,2169.5 275.5,2169.5 277.5,2169.5 279.5,2169.5 281.5,2169.5 283.5,2169.5 285.5,2169.5 287.5,2169.5 289.5,2169.5 291.5,2169.5 293.5,2169.5 295.5,2169.5 297.5,2169.5 299.5,2169.5 301.5,2169.5 303.5,2169.5 305.5,2169.5 307.5,2169.5 309.5,2169.5 311.5,2169.5 313.5,2169.5 315.5,2169.5 317.5,2169.5 319.5,2169.5 321.5,2169.5 323.5,2169.5 325.5,2169.5 327.5,2169.5 329.5,2169.5 331.5,2169.5 333.5,2169.5 335.5,2169.5 337.5,2169.5 339.5,2169.5 341.5,2169.5 343.5,2169.5 345.5,2169.5 347.5,2169.5 349.5,2169.5 351.5,2169.5 353.5,2169.5 355.5,2169.5 357.5,2169.5 359.5,2169.5 361.5,2169.5 363.5,2169.5 365.5,2169.5 367.5,2169.5 369.5,2169.5 371.5,2169.5 373.5,2169.5 375.5,2169.5 377.5,2169.5 379.5,2169.5 381.5,2169.5 383.5,2169.5 385.5,2169.5 387.5,2169.5 389.5,2169.5 391.5,2169.5 393.5,2169.5 395.5,2169.5 397.5,2169.5 399.5,2169.5 401.5,2169.5 403.5,2169.5 405.5,2169.5 407.5,2169.5 409.5,2169.5 411.5,2169.5 413.5,2169.5 415.5,2169.5 417.5,2169.5 419.5,2169.5 421.5,2169.5 423.5,2169.5 425.5,2169.5 427.5,2169.5 429.5,2169.5 431.5,2169.5 433.5,2169.5 435.5,2169.5 437.5,2169.5 439.5,2169.5 441.5,2169.5 443.5,2169.5 445.5,2169.5 447.5,2169.5 449.5,2169.5 451.5,2169.5 453.5,2169.5 455.5,2169.5 457.5,2169.5 459.5,2169.5 461.5,2169.5 463.5,2169.5 465.5,2169.5 467.5,2169.5 469.5,2169.5 471.5,2169.5 473.5,2169.5 475.5,2169.5 477.5,2169.5 479.5,2169.5 481.5,2169.5 483.5,2169.5 485.5,2169.5 487.5,2169.5 489.5,2169.5 491.5,2169.5 493.5,2169.5 495.5,2169.5 497.5,2169.5 499.5,2169.5 501.5,2169.5 503.5,2169.5 505.5,2169.5 507.5,2169.5 509.5,2169.5 511.5,2169.5 513.5,2169.5 515.5,2169.5 517.5,2169.5 519.5,2169.5 521.5,2169.5 523.5,2169.5 525.5,2169.5 527.5,2169.5 529.5,2169.5 531.5,2169.5 533.5,2169.5 535.5,2169.5 537.5,2169.5 539.5,2169.5 541.5,2169.5 543.5,2169.5 545.5,2169.5 547.5,2169.5 549.5,2169.5 551.5,2169.5 553.5,2169.5 555.5,2169.5 557.5,2169.5 559.5,2169.5 561.5,2169.5 563.5,2169.5 565.5,2169.5 567.5,2169.5 569.5,2169.5 571.5,2169.5 573.5,2169.5 575.5,2169.5 577.5,2169.5 579.5,2169.5 581.5,2169.5 583.5,2169.5 585.5,2169.5 587.5,2169.5 589.5,2169.5 591.5,2169.5 593.5,2169.5 595.5,2169.5 597.5,2169.5 599.5,2169.5 601.5,2169.5 603.5,2169.5 605.5,2169.5 607.5,2169.5 609.5,2169.5 611.5,2169.5 613.5,2169.5 615.5,2169.5 617.5,2169.5 619.5,2169.5 621.5,2169.5 623.5,2169.5 625.5,2169.5 627.5,2169.5 629.5,2169.5 631.5,2169.5 633.5,2169.5 635.5,2169.5 637.5,2169.5 639.5,2169.5 641.5,2169.5 643.5,2169.5 645.5,2169.5 647.5,2169.5 649.5,2169.5 651.5,2169.5 653.5,2169.5 655.5,2169.5 657.5,2169.5 659.5,2169.5 661.5,2169.5 663.5,2169.5 665.5,2169.5 667.5,2169.5 669.5,2169.5 671.5,2169.5 673.5,2169.5 675.5,2169.5 677.5,2169.5 679.5,2169.5 681.5,2169.5 683.5,2169.5 685.5,2169.5 687.5,2169.5 689.5,2169.5 691.5,2169.5 693.5,2169.5 695.5,2169.5 697.5,2169.5 699.5,2169.5 701.5,2169.5 703.5,2169.5 705.5,2169.5 707.5,2169.5 709.5,2169.5 711.5,2169.5 713.5,2169.5 715.5,2169.5 717.5,2169.5 719.5,2169.5 721.5,2169.5 723.5,2169.5 725.5,2169.5 727.5,2169.5 729.5,2169.5 731.5,2169.5 733.5,2169.5 735.5,2169.5 737.5,2169.5 739.5,2169.5 741.5,2169.5 743.5,2169.5 745.5,2169.5 747.5,2169.5 749.5,2169.5 751.5,2169.5 753.5,2169.5 755.5,2169.5 757.5,2169.5 759.5,2169.5 761.5,2169.5 763.5,2169.5 765.5,2169.5 767.5,2169.5 769.5,2169.5 771.5,2169.5 773.5,2169.5 775.5,2169.5 777.5,2169.5 779.5,2169.5 781.5,2169.5 783.5,2169.5 785.5,2169.5 787.5,2169.5 789.5,2169.5 791.5,2169.5 793.5,2169.5 795.5,2169.5 797.5,2169.5 799.5,2169.5 801.5,2169.5 803.5,2169.5 805.5,2169.5 807.5,2169.5 809.5,2169.5 811.5,2169.5 813.5,2169.5 815.5,2169.5 817.5,2169.5 819.5,2169.5 821.5,2169.5 823.5,2169.5 825.5,2169.5 827.5,2169.5 829.5,2169.5 831.5,2169.5 833.5,2169.5 835.5,2169.5 837.5,2169.4 839.5,2169.4 841.5,2169.4 843.5,2169.4 845.5,2169.4 847.5,2169.4 849.5,2169.4 851.5,2169.3 853.5,2169.3 855.5,2169.3 857.5,2169.2 859.5,2169.2 861.5,2169.2 863.5,2169.1 865.5,2169 867.5,2169 869.5,2168.9 871.5,2168.8 873.5,2168.7 875.5,2168.6 877.5,2168.5 879.5,2168.3 881.5,2168.1 883.5,2168 885.5,2167.8 887.5,2167.5 889.5,2167.3 891.5,2167 893.5,2166.7 895.5,2166.3 897.5,2165.9 899.5,2165.5 901.5,2165 903.5,2164.5 905.5,2163.9 907.5,2163.2 909.5,2162.5 911.5,2161.8 913.5,2160.9 915.5,2160 917.5,2159 919.5,2157.9 921.5,2156.8 923.5,2155.5 925.5,2154.1 927.5,2152.7 929.5,2151.1 931.5,2149.4 933.5,2147.5 935.5,2145.6 937.5,2143.5 939.5,2141.3 941.5,2138.9 943.5,2136.4 945.5,2133.7 947.5,2130.9 949.5,2127.9 951.5,2124.7 953.5,2121.4 955.5,2117.9 957.5,2114.2 959.5,2110.4 961.5,2106.4 963.5,2102.2 965.5,2097.8 967.5,2093.3 969.5,2088.6 971.5,2083.7 973.5,2078.7 975.5,2073.5 977.5,2068.2 979.5,2062.7 981.5,2057.1 983.5,2051.3 985.5,2045.5 987.5,2039.5 989.5,2033.4 991.5,2027.3 993.5,2021 995.5,2014.7 997.5,2008.3 999.5,2001.9 1001.5,1995.5 1003.5,1989.1 1005.5,1982.6 1007.5,1976.2 1009.5,1969.9 1011.5,1963.5 1013.5,1957.3 1015.5,1951.1 1017.5,1945 1019.5,1939.1 1021.5,1933.3 1023.5,1927.6 1025.5,1922.1 1027.5,1916.7 1029.5,1911.5 1031.5,1906.6 1033.5,1901.8 1035.5,1897.3 1037.5,1893 1039.5,1888.9 1041.5,1885.1 1043.5,1881.5 1045.5,1878.2 1047.5,1875.1 1049.5,1872.3 1051.5,1869.8 1053.5,1867.5 1055.5,1865.6 1057.5,1863.8 1059.5,1862.4 1061.5,1861.2 1063.5,1860.2 1065.5,1859.5 1067.5,1858.9 1069.5,1858.6 1071.5,1858.5 1073.5,1858.5 1075.5,1858.8 1077.5,1859.4 1079.5,1860.4 1081.5,1861.8 1083.5,1863.7 1085.5,1866.1 1087.5,1869 1089.5,1872.3 1091.5,1876.2 1093.5,1880.5 1095.5,1885.3 1097.5,1890.6 1099.5,1896.3 1101.5,1902.4 1103.5,1908.9 1105.5,1915.9 1107.5,1923.1 1109.5,1930.7 1111.5,1938.5 1113.5,1946.6 1115.5,1954.8 1117.5,1963.3 1119.5,1971.9 1121.5,1980.5 1123.5,1989.2 1125.5,1997.9 1127.5,2006.6 1129.5,2015.2 1131.5,2023.7 1133.5,2032.1 1135.5,2040.4 1137.5,2048.4 1139.5,2056.2 1141.5,2063.8 1143.5,2071.2 1145.5,2078.3 1147.5,2085 1149.5,2091.5 1151.5,2097.7 1153.5,2103.6 1155.5,2109.1 1157.5,2114.3 1159.5,2119.3 1161.5,2123.9 1163.5,2128.2 1165.5,2132.2 1167.5,2135.9 1169.5,2139.3 1171.5,2142.4 1173.5,2145.3 1175.5,2148 1177.5,2150.4 1179.5,2152.6 1181.5,2154.5 1183.5,2156.3 1185.5,2157.9 1187.5,2159.4 1189.5,2160.7 1191.5,2161.8 1193.5,2162.8 1195.5,2163.7 1197.5,2164.5 1199.5,2165.2 1201.5,2165.8 1203.5,2166.4 1205.5,2166.8 1207.5,2167.2 1209.5,2167.6 1211.5,2167.9 1213.5,2168.1 1215.5,2168.4 1217.5,2168.5 1219.5,2168.7 1221.5,2168.8 1223.5,2169 1225.5,2169 1227.5,2169.1 1229.5,2169.2 1231.5,2169.2 1233.5,2169.3 1235.5,2169.3 1237.5,2169.4 1239.5,2169.4 1241.5,2169.4 1243.5,2169.4 1245.5,2169.4 1247.5,2169.5 1249.5,2169.5 1251.5,2169.5 1253.5,2169.5 1255.5,2169.5 1257.5,2169.5 1259.5,2169.5 1261.5,2169.5 1263.5,2169.5 1265.5,2169.5 1267.5,2169.5 1269.5,2169.5 1271.5,2169.5 1273.5,2169.5 1275.5,2169.5 1277.5,2169.5 1279.5,2169.5 1281.5,2169.5 1283.5,2169.5 1285.5,2169.5 1287.5,2169.5 1289.5,2169.5 1291.5,2169.5 1293.5,2169.5 1295.5,2169.5 1297.5,2169.5 1299.5,2169.5 1301.5,2169.5 1303.5,2169.5 1305.5,2169.5 1307.5,2169.5 1309.5,2169.5 1311.5,2169.5 1313.5,2169.5 1315.5,2169.5 1317.5,2169.5 1319.5,2169.5 1321.5,2169.5 1323.5,2169.5 1325.5,2169.5 1327.5,2169.5 1329.5,2169.5 1331.5,2169.5 1333.5,2169.5 1335.5,2169.5 1337.5,2169.5 1339.5,2169.5 1341.5,2169.5 1343.5,2169.5 1345.5,2169.5 1347.5,2169.5 1349.5,2169.5 1351.5,2169.5 1353.5,2169.5 1355.5,2169.5 1357.5,2169.5 1359.5,2169.5 1361.5,2169.5 1363.5,2169.5 1365.5,2169.5 1367.5,2169.5 1369.5,2169.5 1371.5,2169.5 1373.5,2169.5 1375.5,2169.5 1377.5,2169.5 1379.5,2169.5 1381.5,2169.5 1383.5,2169.5 1385.5,2169.5 1387.5,2169.5 1389.5,2169.5 1391.5,2169.5 1393.5,2169.5 1395.5,2169.5 1397.5,2169.5 1399.5,2169.5 1401.5,2169.5 1403.5,2169.5 1405.5,2169.5 1407.5,2169.5 1409.5,2169.5 1411.5,2169.5 1413.5,2169.5 1415.5,2169.5 1417.5,2169.5 1419.5,2169.5 1421.5,2169.5 1423.5,2169.5 1425.5,2169.5 1427.5,2169.5 1429.5,2169.5 1431.5,2169.5 1433.5,2169.5 1435.5,2169.5 1437.5,2169.5 1439.5,2169.5 1441.5,2169.5 1443.5,2169.5 1445.5,2169.5 1447.5,2169.5 1449.5,2169.5 1451.5,2169.5" fill="none" stroke="#2828a8" stroke-width="2.5" stroke-linejoin="round" />
<polyline points="189.5,2169.5 191.5,2169.5 193.5,2169.5 195.5,2169.5 197.5,2169.5 199.5,2169.5 201.5,2169.5 203.5,2169.5 205.5,2169.5 207.5,2169.5 209.5,2169.5 211.5,2169.5 213.5,2169.5 215.5,2169.5 217.5,2169.5 219.5,2169.5 221.5,2169.5 223.5,2169.5 225.5,2169.5 227.5,2169.5 229.5,2169.5 231.5,2169.5 233.5,2169.5 235.5,2169.5 237.5,2169.5 239.5,2169.5 241.5,2169.5 243.5,2169.5 245.5,2169.5 247.5,2169.5 249.5,2169.5 251.5,2169.5 253.5,2169.5 255.5,2169.5 257.5,2169.5 259.5,2169.5 261.5,2169.5 263.5,2169.5 265.5,2169.5 267.5,2169.5 269.5,2169.5 271.5,2169.5 273.5,2169.5 275.5,2169.5 277.5,2169.5 279.5,2169.5 281.5,2169.5 283.5,2169.5 285.5,2169.5 287.5,2169.5 289.5,2169.5 291.5,2169.5 293.5,2169.5 295.5,2169.5 297.5,2169.5 299.5,2169.5 301.5,2169.5 303.5,2169.5 305.5,2169.5 307.5,2169.5 309.5,2169.5 311.5,2169.5 313.5,2169.5 315.5,2169.5 317.5,2169.5 319.5,2169.5 321.5,2169.5 323.5,2169.5 325.5,2169.5 327.5,2169.5 329.5,2169.5 331.5,2169.5 333.5,2169.5 335.5,2169.5 337.5,2169.5 339.5,2169.5 341.5,2169.5 343.5,2169.5 345.5,2169.5 347.5,2169.5 349.5,2169.5 351.5,2169.5 353.5,2169.5 355.5,2169.5 357.5,2169.5 359.5,2169.5 361.5,2169.5 363.5,2169.5 365.5,2169.5 367.5,2169.5 369.5,2169.5 371.5,2169.5 373.5,2169.5 375.5,2169.5 377.5,2169.5 379.5,2169.5 381.5,2169.5 383.5,2169.5 385.5,2169.5 387.5,2169.5 389.5,2169.5 391.5,2169.5 393.5,2169.5 395.5,2169.5 397.5,2169.5 399.5,2169.5 401.5,2169.5 403.5,2169.5 405.5,2169.5 407.5,2169.5 409.5,2169.5 411.5,2169.5 413.5,2169.5 415.5,2169.5 417.5,2169.5 419.5,2169.5 421.5,2169.5 423.5,2169.5 425.5,2169.5 427.5,2169.5 429.5,2169.5 431.5,2169.5 433.5,2169.5 435.5,2169.5 437.5,2169.5 439.5,2169.5 441.5,2169.5 443.5,2169.5 445.5,2169.5 447.5,2169.5 449.5,2169.5 451.5,2169.5 453.5,2169.5 455.5,2169.5 457.5,2169.5 459.5,2169.5 461.5,2169.5 463.5,2169.5 465.5,2169.5 467.5,2169.5 469.5,2169.5 471.5,2169.5 473.5,2169.5 475.5,2169.5 477.5,2169.5 479.5,2169.5 481.5,2169.5 483.5,2169.5 485.5,2169.5 487.5,2169.5 489.5,2169.5 491.5,2169.5 493.5,2169.5 495.5,2169.5 497.5,2169.5 499.5,2169.5 501.5,2169.5 503.5,2169.5 505.5,2169.5 507.5,2169.5 509.5,2169.5 511.5,2169.5 513.5,2169.5 515.5,2169.4 517.5,2169.4 519.5,2169.4 521.5,2169.4 523.5,2169.4 525.5,2169.4 527.5,2169.4 529.5,2169.4 531.5,2169.3 533.5,2169.3 535.5,2169.3 537.5,2169.3 539.5,2169.3 541.5,2169.2 543.5,2169.2 545.5,2169.2 547.5,2169.1 549.5,2169.1 551.5,2169 553.5,2169 555.5,2168.9 557.5,2168.8 559.5,2168.7 561.5,2168.7 563.5,2168.6 565.5,2168.5 567.5,2168.4 569.5,2168.2 571.5,2168.1 573.5,2167.9 575.5,2167.8 577.5,2167.6 579.5,2167.4 581.5,2167.2 583.5,2167 585.5,2166.7 587.5,2166.5 589.5,2166.2 591.5,2165.8 593.5,2165.5 595.5,2165.1 597.5,2164.7 599.5,2164.3 601.5,2163.8 603.5,2163.3 605.5,2162.8 607.5,2162.2 609.5,2161.6 611.5,2160.9 613.5,2160.2 615.5,2159.4 617.5,2158.6 619.5,2157.7 621.5,2156.8 623.5,2155.8 625.5,2154.7 627.5,2153.6 629.5,2152.4 631.5,2151.1 633.5,2149.7 635.5,2148.3 637.5,2146.8 639.5,2145.2 641.5,2143.5 643.5,2141.7 645.5,2139.8 647.5,2137.9 649.5,2135.8 651.5,2133.6 653.5,2131.3 655.5,2128.9 657.5,2126.4 659.5,2123.8 661.5,2121.1 663.5,2118.2 665.5,2115.2 667.5,2112.1 669.5,2108.9 671.5,2105.5 673.5,2102 675.5,2098.4 677.5,2094.7 679.5,2090.8 681.5,2086.8 683.5,2082.6 685.5,2078.3 687.5,2073.9 689.5,2069.4 691.5,2064.7 693.5,2059.9 695.5,2055 697.5,2049.9 699.5,2044.7 701.5,2039.4 703.5,2034 705.5,2028.4 707.5,2022.7 709.5,2017 711.5,2011.1 713.5,2005.1 715.5,1999 717.5,1992.8 719.5,1986.6 721.5,1980.2 723.5,1973.8 725.5,1967.3 727.5,1960.8 729.5,1954.1 731.5,1947.5 733.5,1940.8 735.5,1934 737.5,1927.2 739.5,1920.4 741.5,1913.6 743.5,1906.8 745.5,1899.9 747.5,1893.1 749.5,1886.3 751.5,1879.5 753.5,1872.8 755.5,1866.1 757.5,1859.4 759.5,1852.8 761.5,1846.3 763.5,1839.8 765.5,1833.4 767.5,1827.1 769.5,1820.8 771.5,1814.7 773.5,1808.7 775.5,1802.8 777.5,1797 779.5,1791.4 781.5,1785.8 783.5,1780.4 785.5,1775.2 787.5,1770.1 789.5,1765.1 791.5,1760.3 793.5,1755.7 795.5,1751.2 797.5,1746.9 799.5,1742.7 801.5,1738.8 803.5,1735 805.5,1731.3 807.5,1727.9 809.5,1724.6 811.5,1721.5 813.5,1718.6 815.5,1715.9 817.5,1713.3 819.5,1710.9 821.5,1708.7 823.5,1706.7 825.5,1704.8 827.5,1703.1 829.5,1701.5 831.5,1700.1 833.5,1698.9 835.5,1697.8 837.5,1696.8 839.5,1696 841.5,1695.3 843.5,1694.8 845.5,1694.3 847.5,1694 849.5,1693.8 851.5,1693.6 853.5,1693.5 855.5,1693.5 857.5,1693.5 859.5,1693.6 861.5,1693.7 863.5,1694 865.5,1694.4 867.5,1694.9 869.5,1695.6 871.5,1696.5 873.5,1697.5 875.5,1698.7 877.5,1700.1 879.5,1701.7 881.5,1703.5 883.5,1705.5 885.5,1707.8 887.5,1710.2 889.5,1712.9 891.5,1715.8 893.5,1718.9 895.5,1722.3 897.5,1725.9 899.5,1729.7 901.5,1733.8 903.5,1738 905.5,1742.5 907.5,1747.3 909.5,1752.2 911.5,1757.4 913.5,1762.7 915.5,1768.3 917.5,1774.1 919.5,1780 921.5,1786.2 923.5,1792.5 925.5,1799 927.5,1805.6 929.5,1812.4 931.5,1819.4 933.5,1826.4 935.5,1833.6 937.5,1840.9 939.5,1848.3 941.5,1855.8 943.5,1863.4 945.5,1871 947.5,1878.7 949.5,1886.4 951.5,1894.2 953.5,1901.9 955.5,1909.7 957.5,1917.5 959.5,1925.3 961.5,1933 963.5,1940.7 965.5,1948.3 967.5,1955.9 969.5,1963.4 971.5,1970.9 973.5,1978.2 975.5,1985.5 977.5,1992.6 979.5,1999.7 981.5,2006.6 983.5,2013.3 985.5,2020 987.5,2026.5 989.5,2032.9 991.5,2039.1 993.5,2045.1 995.5,2051 997.5,2056.7 999.5,2062.3 1001.5,2067.7 1003.5,2072.9 1005.5,2078 1007.5,2082.9 1009.5,2087.6 1011.5,2092.1 1013.5,2096.5 1015.5,2100.7 1017.5,2104.7 1019.5,2108.5 1021.5,2112.2 1023.5,2115.7 1025.5,2119.1 1027.5,2122.3 1029.5,2125.4 1031.5,2128.3 1033.5,2131 1035.5,2133.6 1037.5,2136.1 1039.5,2138.4 1041.5,2140.7 1043.5,2142.7 1045.5,2144.7 1047.5,2146.5 1049.5,2148.3 1051.5,2149.9 1053.5,2151.4 1055.5,2152.8 1057.5,2154.2 1059.5,2155.4 1061.5,2156.6 1063.5,2157.7 1065.5,2158.7 1067.5,2159.6 1069.5,2160.4 1071.5,2161.2 1073.5,2162 1075.5,2162.6 1077.5,2163.3 1079.5,2163.9 1081.5,2164.4 1083.5,2164.9 1085.5,2165.3 1087.5,2165.7 1089.5,2166.1 1091.5,2166.4 1093.5,2166.7 1095.5,2167 1097.5,2167.3 1099.5,2167.5 1101.5,2167.7 1103.5,2167.9 1105.5,2168.1 1107.5,2168.2 1109.5,2168.4 1111.5,2168.5 1113.5,2168.6 1115.5,2168.7 1117.5,2168.8 1119.5,2168.9 1121.5,2169 1123.5,2169 1125.5,2169.1 1127.5,2169.1 1129.5,2169.2 1131.5,2169.2 1133.5,2169.2 1135.5,2169.3 1137.5,2169.3 1139.5,2169.3 1141.5,2169.4 1143.5,2169.4 1145.5,2169.4 1147.5,2169.4 1149.5,2169.4 1151.5,2169.4 1153.5,2169.4 1155.5,2169.4 1157.5,2169.5 1159.5,2169.5 1161.5,2169.5 1163.5,2169.5 1165.5,2169.5 1167.5,2169.5 1169.5,2169.5 1171.5,2169.5 1173.5,2169.5 1175.5,2169.5 1177.5,2169.5 1179.5,2169.5 1181.5,2169.5 1183.5,2169.5 1185.5,2169.5 1187.5,2169.5 1189.5,2169.5 1191.5,2169.5 1193.5,2169.5 1195.5,2169.5 1197.5,2169.5 1199.5,2169.5 1201.5,2169.5 1203.5,2169.5 1205.5,2169.5 1207.5,2169.5 1209.5,2169.5 1211.5,2169.5 1213.5,2169.5 1215.5,2169.5 1217.5,2169.5 1219.5,2169.5 1221.5,2169.5 1223.5,2169.5 1225.5,2169.5 1227.5,2169.5 1229.5,2169.5 1231.5,2169.5 1233.5,2169.5 1235.5,2169.5 1237.5,2169.5 1239.5,2169.5 1241.5,2169.5 1243.5,2169.5 1245.5,2169.5 1247.5,2169.5 1249.5,2169.5 1251.5,2169.5 1253.5,2169.5 1255.5,2169.5 1257.5,2169.5 1259.5,2169.5 1261.5,2169.5 1263.5,2169.5 1265.5,2169.5 1267.5,2169.5 1269.5,2169.5 1271.5,2169.5 1273.5,2169.5 1275.5,2169.5 1277.5,2169.5 1279.5,2169.5 1281.5,2169.5 1283.5,2169.5 1285.5,2169.5 1287.5,2169.5 1289.5,2169.5 1291.5,2169.5 1293.5,2169.5 1295.5,2169.5 1297.5,2169.5 1299.5,2169.5 1301.5,2169.5 1303.5,2169.5 1305.5,2169.5 1307.5,2169.5 1309.5,2169.5 1311.5,2169.5 1313.5,2169.5 1315.5,2169.5 1317.5,2169.5 1319.5,2169.5 1321.5,2169.5 1323.5,2169.5 1325.5,2169.5 1327.5,2169.5 1329.5,2169.5 1331.5,2169.5 1333.5,2169.5 1335.5,2169.5 1337.5,2169.5 1339.5,2169.5 1341.5,2169.5 1343.5,2169.5 1345.5,2169.5 1347.5,2169.5 1349.5,2169.5 1351.5,2169.5 1353.5,2169.5 1355.5,2169.5 1357.5,2169.5 1359.5,2169.5 1361.5,2169.5 1363.5,2169.5 1365.5,2169.5 1367.5,2169.5 1369.5,2169.5 1371.5,2169.5 1373.5,2169.5 1375.5,2169.5 1377.5,2169.5 1379.5,2169.5 1381.5,2169.5 1383.5,2169.5 1385.5,2169.5 1387.5,2169.5 1389.5,2169.5 1391.5,2169.5 1393.5,2169.5 1395.5,2169.5 1397.5,2169.5 1399.5,2169.5 1401.5,2169.5 1403.5,2169.5 1405.5,2169.5 1407.5,2169.5 1409.5,2169.5 1411.5,2169.5 1413.5,2169.5 1415.5,2169.5 1417.5,2169.5 1419.5,2169.5 1421.5,2169.5 1423.5,2169.5 1425.5,2169.5 1427.5,2169.5 1429.5,2169.5 1431.5,2169.5 1433.5,2169.5 1435.5,2169.5 1437.5,2169.5 1439.5,2169.5 1441.5,2169.5 1443.5,2169.5 1445.5,2169.5 1447.5,2169.5 1449.5,2169.5 1451.5,2169.5" fill="none" stroke="#e6e070" stroke-width="2.5" stroke-linejoin="round" />
<polyline points="189.5,2169.5 191.5,2169.5 193.5,2169.5 195.5,2169.5 197.5,2169.5 199.5,2169.5 201.5,2169.5 203.5,2169.5 205.5,2169.5 207.5,2169.5 209.5,2169.5 211.5,2169.5 213.5,2169.5 215.5,2169.5 217.5,2169.5 219.5,2169.5 221.5,2169.5 223.5,2169.5 225.5,2169.5 227.5,2169.5 229.5,2169.5 231.5,2169.5 233.5,2169.5 235.5,2169.5 237.5,2169.5 239.5,2169.5 241.5,2169.5 243.5,2169.5 245.5,2169.5 247.5,2169.5 249.5,2169.5 251.5,2169.5 253.5,2169.5 255.5,2169.5 257.5,2169.5 259.5,2169.5 261.5,2169.5 263.5,2169.5 265.5,2169.5 267.5,2169.5 269.5,2169.5 271.5,2169.5 273.5,2169.5 275.5,2169.5 277.5,2169.5 279.5,2169.5 281.5,2169.5 283.5,2169.5 285.5,2169.5 287.5,2169.5 289.5,2169.5 291.5,2169.5 293.5,2169.5 295.5,2169.5 297.5,2169.5 299.5,2169.5 301.5,2169.5 303.5,2169.5 305.5,2169.5 307.5,2169.5 309.5,2169.5 311.5,2169.5 313.5,2169.5 315.5,2169.5 317.5,2169.5 319.5,2169.5 321.5,2169.5 323.5,2169.5 325.5,2169.5 327.5,2169.5 329.5,2169.5 331.5,2169.5 333.5,2169.5 335.5,2169.5 337.5,2169.5 339.5,2169.5 341.5,2169.5 343.5,2169.5 345.5,2169.5 347.5,2169.5 349.5,2169.5 351.5,2169.5 353.5,2169.5 355.5,2169.5 357.5,2169.5 359.5,2169.5 361.5,2169.5 363.5,2169.5 365.5,2169.5 367.5,2169.5 369.5,2169.5 371.5,2169.5 373.5,2169.5 375.5,2169.5 377.5,2169.5 379.5,2169.5 381.5,2169.5 383.5,2169.5 385.5,2169.5 387.5,2169.5 389.5,2169.5 391.5,2169.5 393.5,2169.5 395.5,2169.5 397.5,2169.5 399.5,2169.5 401.5,2169.5 403.5,2169.5 405.5,2169.5 407.5,2169.5 409.5,2169.5 411.5,2169.5 413.5,2169.5 415.5,2169.5 417.5,2169.5 419.5,2169.5 421.5,2169.5 423.5,2169.5 425.5,2169.5 427.5,2169.5 429.5,2169.5 431.5,2169.5 433.5,2169.5 435.5,2169.5 437.5,2169.5 439.5,2169.5 441.5,2169.5 443.5,2169.5 445.5,2169.5 447.5,2169.5 449.5,2169.5 451.5,2169.5 453.5,2169.5 455.5,2169.5 457.5,2169.5 459.5,2169.5 461.5,2169.5 463.5,2169.5 465.5,2169.5 467.5,2169.5 469.5,2169.5 471.5,2169.5 473.5,2169.5 475.5,2169.5 477.5,2169.5 479.5,2169.5 481.5,2169.5 483.5,2169.5 485.5,2169.5 487.5,2169.5 489.5,2169.5 491.5,2169.5 493.5,2169.5 495.5,2169.5 497.5,2169.5 499.5,2169.5 501.5,2169.5 503.5,2169.5 505.5,2169.5 507.5,2169.5 509.5,2169.5 511.5,2169.5 513.5,2169.5 515.5,2169.5 517.5,2169.5 519.5,2169.5 521.5,2169.5 523.5,2169.5 525.5,2169.5 527.5,2169.5 529.5,2169.5 531.5,2169.5 533.5,2169.5 535.5,2169.5 537.5,2169.5 539.5,2169.4 541.5,2169.4 543.5,2169.4 545.5,2169.4 547.5,2169.4 549.5,2169.3 551.5,2169.3 553.5,2169.3 555.5,2169.2 557.5,2169.1 559.5,2169.1 561.5,2169 563.5,2168.9 565.5,2168.7 567.5,2168.6 569.5,2168.4 571.5,2168.2 573.5,2167.9 575.5,2167.6 577.5,2167.3 579.5,2166.8 581.5,2166.4 583.5,2165.8 585.5,2165.2 587.5,2164.5 589.5,2163.7 591.5,2162.8 593.5,2161.7 595.5,2160.6 597.5,2159.2 599.5,2157.7 601.5,2156.1 603.5,2154.2 605.5,2152.2 607.5,2149.9 609.5,2147.4 611.5,2144.6 613.5,2141.6 615.5,2138.3 617.5,2134.6 619.5,2130.7 621.5,2126.5 623.5,2121.9 625.5,2116.9 627.5,2111.6 629.5,2106 631.5,2099.9 633.5,2093.5 635.5,2086.7 637.5,2079.6 639.5,2072 641.5,2064.1 643.5,2055.8 645.5,2047.2 647.5,2038.2 649.5,2028.9 651.5,2019.3 653.5,2009.4 655.5,1999.3 657.5,1988.9 659.5,1978.3 661.5,1967.6 663.5,1956.7 665.5,1945.7 667.5,1934.6 669.5,1923.6 671.5,1912.5 673.5,1901.5 675.5,1890.5 677.5,1879.7 679.5,1869 681.5,1858.6 683.5,1848.4 685.5,1838.5 687.5,1828.8 689.5,1819.5 691.5,1810.6 693.5,1802.1 695.5,1794 697.5,1786.3 699.5,1779.1 701.5,1772.4 703.5,1766.1 705.5,1760.4 707.5,1755.1 709.5,1750.4 711.5,1746.1 713.5,1742.3 715.5,1739.1 717.5,1736.2 719.5,1733.9 721.5,1731.9 723.5,1730.4 725.5,1729.2 727.5,1728.4 729.5,1727.9 731.5,1727.6 733.5,1727.5 735.5,1727.5 737.5,1727.7 739.5,1728.2 741.5,1728.9 743.5,1730 745.5,1731.6 747.5,1733.5 749.5,1736 751.5,1738.9 753.5,1742.4 755.5,1746.4 757.5,1750.9 759.5,1756 761.5,1761.6 763.5,1767.8 765.5,1774.6 767.5,1781.8 769.5,1789.6 771.5,1797.9 773.5,1806.6 775.5,1815.9 777.5,1825.5 779.5,1835.5 781.5,1845.9 783.5,1856.6 785.5,1867.5 787.5,1878.7 789.5,1890.1 791.5,1901.6 793.5,1913.2 795.5,1924.9 797.5,1936.5 799.5,1948.2 801.5,1959.7 803.5,1971.1 805.5,1982.4 807.5,1993.4 809.5,2004.2 811.5,2014.8 813.5,2025 815.5,2034.9 817.5,2044.5 819.5,2053.7 821.5,2062.5 823.5,2070.9 825.5,2078.9 827.5,2086.4 829.5,2093.6 831.5,2100.3 833.5,2106.7 835.5,2112.6 837.5,2118.1 839.5,2123.2 841.5,2127.9 843.5,2132.2 845.5,2136.2 847.5,2139.9 849.5,2143.2 851.5,2146.3 853.5,2149 855.5,2151.5 857.5,2153.7 859.5,2155.7 861.5,2157.5 863.5,2159.1 865.5,2160.5 867.5,2161.8 869.5,2162.8 871.5,2163.8 873.5,2164.6 875.5,2165.4 877.5,2166 879.5,2166.5 881.5,2167 883.5,2167.4 885.5,2167.8 887.5,2168 889.5,2168.3 891.5,2168.5 893.5,2168.7 895.5,2168.8 897.5,2168.9 899.5,2169 901.5,2169.1 903.5,2169.2 905.5,2169.3 907.5,2169.3 909.5,2169.3 911.5,2169.4 913.5,2169.4 915.5,2169.4 917.5,2169.4 919.5,2169.5 921.5,2169.5 923.5,2169.5 925.5,2169.5 927.5,2169.5 929.5,2169.5 931.5,2169.5 933.5,2169.5 935.5,2169.5 937.5,2169.5 939.5,2169.5 941.5,2169.5 943.5,2169.5 945.5,2169.5 947.5,2169.5 949.5,2169.5 951.5,2169.5 953.5,2169.5 955.5,2169.5 957.5,2169.5 959.5,2169.5 961.5,2169.5 963.5,2169.5 965.5,2169.5 967.5,2169.5 969.5,2169.5 971.5,2169.5 973.5,2169.5 975.5,2169.5 977.5,2169.5 979.5,2169.5 981.5,2169.5 983.5,2169.5 985.5,2169.5 987.5,2169.5 989.5,2169.5 991.5,2169.5 993.5,2169.5 995.5,2169.5 997.5,2169.5 999.5,2169.5 1001.5,2169.5 1003.5,2169.5 1005.5,2169.5 1007.5,2169.5 1009.5,2169.5 1011.5,2169.5 1013.5,2169.5 1015.5,2169.5 1017.5,2169.5 1019.5,2169.5 1021.5,2169.5 1023.5,2169.5 1025.5,2169.5 1027.5,2169.5 1029.5,2169.5 1031.5,2169.5 1033.5,2169.5 1035.5,2169.5 1037.5,2169.5 1039.5,2169.5 1041.5,2169.5 1043.5,2169.5 1045.5,2169.5 1047.5,2169.5 1049.5,2169.5 1051.5,2169.5 1053.5,2169.5 1055.5,2169.5 1057.5,2169.5 1059.5,2169.5 1061.5,2169.5 1063.5,2169.5 1065.5,2169.5 1067.5,2169.5 1069.5,2169.5 1071.5,2169.5 1073.5,2169.5 1075.5,2169.5 1077.5,2169.5 1079.5,2169.5 1081.5,2169.5 1083.5,2169.5 1085.5,2169.5 1087.5,2169.5 1089.5,2169.5 1091.5,2169.5 1093.5,2169.5 1095.5,2169.5 1097.5,2169.5 1099.5,2169.5 1101.5,2169.5 1103.5,2169.5 1105.5,2169.5 1107.5,2169.5 1109.5,2169.5 1111.5,2169.5 1113.5,2169.5 1115.5,2169.5 1117.5,2169.5 1119.5,2169.5 1121.5,2169.5 1123.5,2169.5 1125.5,2169.5 1127.5,2169.5 1129.5,2169.5 1131.5,2169.5 1133.5,2169.5 1135.5,2169.5 1137.5,2169.5 1139.5,2169.5 1141.5,2169.5 1143.5,2169.5 1145.5,2169.5 1147.5,2169.5 1149.5,2169.5 1151.5,2169.5 1153.5,2169.5 1155.5,2169.5 1157.5,2169.5 1159.5,2169.5 1161.5,2169.5 1163.5,2169.5 1165.5,2169.5 1167.5,2169.5 1169.5,2169.5 1171.5,2169.5 1173.5,2169.5 1175.5,2169.5 1177.5,2169.5 1179.5,2169.5 1181.5,2169.5 1183.5,2169.5 1185.5,2169.5 1187.5,2169.5 1189.5,2169.5 1191.5,2169.5 1193.5,2169.5 1195.5,2169.5 1197.5,2169.5 1199.5,2169.5 1201.5,2169.5 1203.5,2169.5 1205.5,2169.5 1207.5,2169.5 1209.5,2169.5 1211.5,2169.5 1213.5,2169.5 1215.5,2169.5 1217.5,2169.5 1219.5,2169.5 1221.5,2169.5 1223.5,2169.5 1225.5,2169.5 1227.5,2169.5 1229.5,2169.5 1231.5,2169.5 1233.5,2169.5 1235.5,2169.5 1237.5,2169.5 1239.5,2169.5 1241.5,2169.5 1243.5,2169.5 1245.5,2169.5 1247.5,2169.5 1249.5,2169.5 1251.5,2169.5 1253.5,2169.5 1255.5,2169.5 1257.5,2169.5 1259.5,2169.5 1261.5,2169.5 1263.5,2169.5 1265.5,2169.5 1267.5,2169.5 1269.5,2169.5 1271.5,2169.5 1273.5,2169.5 1275.5,2169.5 1277.5,2169.5 1279.5,2169.5 1281.5,2169.5 1283.5,2169.5 1285.5,2169.5 1287.5,2169.5 1289.5,2169.5 1291.5,2169.5 1293.5,2169.5 1295.5,2169.5 1297.5,2169.5 1299.5,2169.5 1301.5,2169.5 1303.5,2169.5 1305.5,2169.5 1307.5,2169.5 1309.5,2169.5 1311.5,2169.5 1313.5,2169.5 1315.5,2169.5 1317.5,2169.5 1319.5,2169.5 1321.5,2169.5 1323.5,2169.5 1325.5,2169.5 1327.5,2169.5 1329.5,2169.5 1331.5,2169.5 1333.5,2169.5 1335.5,2169.5 1337.5,2169.5 1339.5,2169.5 1341.5,2169.5 1343.5,2169.5 1345.5,2169.5 1347.5,2169.5 1349.5,2169.5 1351.5,2169.5 1353.5,2169.5 1355.5,2169.5 1357.5,2169.5 1359.5,2169.5 1361.5,2169.5 1363.5,2169.5 1365.5,2169.5 1367.5,2169.5 1369.5,2169.5 1371.5,2169.5 1373.5,2169.5 1375.5,2169.5 1377.5,2169.5 1379.5,2169.5 1381.5,2169.5 1383.5,2169.5 1385.5,2169.5 1387.5,2169.5 1389.5,2169.5 1391.5,2169.5 1393.5,2169.5 1395.5,2169.5 1397.5,2169.5 1399.5,2169.5 1401.5,2169.5 1403.5,2169.5 1405.5,2169.5 1407.5,2169.5 1409.5,2169.5 1411.5,2169.5 1413.5,2169.5 1415.5,2169.5 1417.5,2169.5 1419.5,2169.5 1421.5,2169.5 1423.5,2169.5 1425.5,2169.5 1427.5,2169.5 1429.5,2169.5 1431.5,2169.5 1433.5,2169.5 1435.5,2169.5 1437.5,2169.5 1439.5,2169.5 1441.5,2169.5 1443.5,2169.5 1445.5,2169.5 1447.5,2169.5 1449.5,2169.5 1451.5,2169.5" fill="none" stroke="#30c8d8" stroke-width="2.5" stroke-linejoin="round" />
<polyline points="189.5,2169.5 191.5,2169.5 193.5,2169.5 195.5,2169.5 197.5,2169.5 199.5,2169.5 201.5,2169.5 203.5,2169.5 205.5,2169.5 207.5,2169.5 209.5,2169.5 211.5,2169.5 213.5,2169.5 215.5,2169.5 217.5,2169.5 219.5,2169.5 221.5,2169.5 223.5,2169.5 225.5,2169.5 227.5,2169.5 229.5,2169.5 231.5,2169.5 233.5,2169.5 235.5,2169.5 237.5,2169.5 239.5,2169.5 241.5,2169.5 243.5,2169.5 245.5,2169.5 247.5,2169.5 249.5,2169.5 251.5,2169.5 253.5,2169.5 255.5,2169.5 257.5,2169.5 259.5,2169.5 261.5,2169.5 263.5,2169.5 265.5,2169.5 267.5,2169.5 269.5,2169.5 271.5,2169.5 273.5,2169.5 275.5,2169.5 277.5,2169.5 279.5,2169.5 281.5,2169.5 283.5,2169.5 285.5,2169.5 287.5,2169.5 289.5,2169.5 291.5,2169.5 293.5,2169.5 295.5,2169.5 297.5,2169.5 299.5,2169.5 301.5,2169.5 303.5,2169.5 305.5,2169.5 307.5,2169.5 309.5,2169.5 311.5,2169.5 313.5,2169.5 315.5,2169.5 317.5,2169.5 319.5,2169.5 321.5,2169.5 323.5,2169.5 325.5,2169.5 327.5,2169.5 329.5,2169.5 331.5,2169.5 333.5,2169.5 335.5,2169.5 337.5,2169.5 339.5,2169.5 341.5,2169.5 343.5,2169.5 345.5,2169.5 347.5,2169.5 349.5,2169.5 351.5,2169.5 353.5,2169.5 355.5,2169.5 357.5,2169.5 359.5,2169.5 361.5,2169.5 363.5,2169.5 365.5,2169.5 367.5,2169.5 369.5,2169.5 371.5,2169.5 373.5,2169.5 375.5,2169.5 377.5,2169.5 379.5,2169.5 381.5,2169.5 383.5,2169.5 385.5,2169.5 387.5,2169.5 389.5,2169.5 391.5,2169.5 393.5,2169.5 395.5,2169.5 397.5,2169.5 399.5,2169.5 401.5,2169.5 403.5,2169.5 405.5,2169.5 407.5,2169.5 409.5,2169.5 411.5,2169.5 413.5,2169.5 415.5,2169.5 417.5,2169.5 419.5,2169.5 421.5,2169.5 423.5,2169.5 425.5,2169.5 427.5,2169.5 429.5,2169.5 431.5,2169.5 433.5,2169.4 435.5,2169.4 437.5,2169.4 439.5,2169.4 441.5,2169.4 443.5,2169.4 445.5,2169.4 447.5,2169.4 449.5,2169.4 451.5,2169.4 453.5,2169.4 455.5,2169.4 457.5,2169.4 459.5,2169.3 461.5,2169.3 463.5,2169.3 465.5,2169.3 467.5,2169.3 469.5,2169.3 471.5,2169.2 473.5,2169.2 475.5,2169.2 477.5,2169.2 479.5,2169.1 481.5,2169.1 483.5,2169.1 485.5,2169.1 487.5,2169 489.5,2169 491.5,2168.9 493.5,2168.9 495.5,2168.9 497.5,2168.8 499.5,2168.8 501.5,2168.7 503.5,2168.6 505.5,2168.6 507.5,2168.5 509.5,2168.4 511.5,2168.4 513.5,2168.3 515.5,2168.2 517.5,2168.1 519.5,2168 521.5,2167.9 523.5,2167.8 525.5,2167.7 527.5,2167.5 529.5,2167.4 531.5,2167.3 533.5,2167.1 535.5,2166.9 537.5,2166.8 539.5,2166.6 541.5,2166.4 543.5,2166.2 545.5,2166 547.5,2165.8 549.5,2165.6 551.5,2165.3 553.5,2165 555.5,2164.8 557.5,2164.5 559.5,2164.2 561.5,2163.9 563.5,2163.5 565.5,2163.2 567.5,2162.8 569.5,2162.4 571.5,2162 573.5,2161.6 575.5,2161.2 577.5,2160.7 579.5,2160.2 581.5,2159.7 583.5,2159.2 585.5,2158.6 587.5,2158.1 589.5,2157.5 591.5,2156.8 593.5,2156.2 595.5,2155.5 597.5,2154.8 599.5,2154.1 601.5,2153.3 603.5,2152.5 605.5,2151.7 607.5,2150.8 609.5,2150 611.5,2149.1 613.5,2148.1 615.5,2147.1 617.5,2146.1 619.5,2145.1 621.5,2144 623.5,2142.9 625.5,2141.8 627.5,2140.6 629.5,2139.4 631.5,2138.1 633.5,2136.8 635.5,2135.5 637.5,2134.1 639.5,2132.7 641.5,2131.3 643.5,2129.9 645.5,2128.4 647.5,2126.8 649.5,2125.2 651.5,2123.6 653.5,2122 655.5,2120.3 657.5,2118.6 659.5,2116.9 661.5,2115.1 663.5,2113.3 665.5,2111.5 667.5,2109.6 669.5,2107.7 671.5,2105.8 673.5,2103.9 675.5,2101.9 677.5,2099.9 679.5,2097.9 681.5,2095.8 683.5,2093.8 685.5,2091.7 687.5,2089.6 689.5,2087.5 691.5,2085.4 693.5,2083.3 695.5,2081.1 697.5,2079 699.5,2076.8 701.5,2074.7 703.5,2072.5 705.5,2070.4 707.5,2068.3 709.5,2066.1 711.5,2064 713.5,2061.9 715.5,2059.8 717.5,2057.7 719.5,2055.7 721.5,2053.6 723.5,2051.6 725.5,2049.6 727.5,2047.7 729.5,2045.8 731.5,2043.9 733.5,2042 735.5,2040.2 737.5,2038.5 739.5,2036.8 741.5,2035.1 743.5,2033.5 745.5,2031.9 747.5,2030.4 749.5,2029 751.5,2027.6 753.5,2026.3 755.5,2025 757.5,2023.8 759.5,2022.7 761.5,2021.7 763.5,2020.7 765.5,2019.8 767.5,2019 769.5,2018.3 771.5,2017.6 773.5,2017.1 775.5,2016.6 777.5,2016.2 779.5,2015.9 781.5,2015.7 783.5,2015.5 785.5,2015.5 787.5,2015.6 789.5,2015.8 791.5,2016.1 793.5,2016.6 795.5,2017.1 797.5,2017.7 799.5,2018.5 801.5,2019.3 803.5,2020.3 805.5,2021.3 807.5,2022.4 809.5,2023.7 811.5,2025 813.5,2026.4 815.5,2027.8 817.5,2029.4 819.5,2031 821.5,2032.7 823.5,2034.5 825.5,2036.3 827.5,2038.2 829.5,2040.1 831.5,2042.1 833.5,2044.2 835.5,2046.3 837.5,2048.4 839.5,2050.6 841.5,2052.8 843.5,2055.1 845.5,2057.4 847.5,2059.7 849.5,2062 851.5,2064.3 853.5,2066.7 855.5,2069.1 857.5,2071.5 859.5,2073.8 861.5,2076.2 863.5,2078.6 865.5,2081 867.5,2083.4 869.5,2085.7 871.5,2088.1 873.5,2090.4 875.5,2092.7 877.5,2095 879.5,2097.3 881.5,2099.5 883.5,2101.7 885.5,2103.9 887.5,2106.1 889.5,2108.2 891.5,2110.3 893.5,2112.3 895.5,2114.4 897.5,2116.3 899.5,2118.3 901.5,2120.2 903.5,2122 905.5,2123.9 907.5,2125.6 909.5,2127.4 911.5,2129.1 913.5,2130.7 915.5,2132.3 917.5,2133.9 919.5,2135.4 921.5,2136.8 923.5,2138.3 925.5,2139.6 927.5,2141 929.5,2142.3 931.5,2143.5 933.5,2144.7 935.5,2145.9 937.5,2147 939.5,2148.1 941.5,2149.2 943.5,2150.2 945.5,2151.1 947.5,2152.1 949.5,2153 951.5,2153.8 953.5,2154.6 955.5,2155.4 957.5,2156.2 959.5,2156.9 961.5,2157.6 963.5,2158.2 965.5,2158.9 967.5,2159.5 969.5,2160 971.5,2160.6 973.5,2161.1 975.5,2161.6 977.5,2162.1 979.5,2162.5 981.5,2162.9 983.5,2163.3 985.5,2163.7 987.5,2164.1 989.5,2164.4 991.5,2164.7 993.5,2165 995.5,2165.3 997.5,2165.6 999.5,2165.9 1001.5,2166.1 1003.5,2166.3 1005.5,2166.5 1007.5,2166.7 1009.5,2166.9 1011.5,2167.1 1013.5,2167.3 1015.5,2167.4 1017.5,2167.6 1019.5,2167.7 1021.5,2167.8 1023.5,2168 1025.5,2168.1 1027.5,2168.2 1029.5,2168.3 1031.5,2168.4 1033.5,2168.4 1035.5,2168.5 1037.5,2168.6 1039.5,2168.7 1041.5,2168.7 1043.5,2168.8 1045.5,2168.9 1047.5,2168.9 1049.5,2168.9 1051.5,2169 1053.5,2169 1055.5,2169.1 1057.5,2169.1 1059.5,2169.1 1061.5,2169.2 1063.5,2169.2 1065.5,2169.2 1067.5,2169.2 1069.5,2169.3 1071.5,2169.3 1073.5,2169.3 1075.5,2169.3 1077.5,2169.3 1079.5,2169.4 1081.5,2169.4 1083.5,2169.4 1085.5,2169.4 1087.5,2169.4 1089.5,2169.4 1091.5,2169.4 1093.5,2169.4 1095.5,2169.4 1097.5,2169.4 1099.5,2169.4 1101.5,2169.4 1103.5,2169.5 1105.5,2169.5 1107.5,2169.5 1109.5,2169.5 1111.5,2169.5 1113.5,2169.5 1115.5,2169.5 1117.5,2169.5 1119.5,2169.5 1121.5,2169.5 1123.5,2169.5 1125.5,2169.5 1127.5,2169.5 1129.5,2169.5 1131.5,2169.5 1133.5,2169.5 1135.5,2169.5 1137.5,2169.5 1139.5,2169.5 1141.5,2169.5 1143.5,2169.5 1145.5,2169.5 1147.5,2169.5 1149.5,2169.5 1151.5,2169.5 1153.5,2169.5 1155.5,2169.5 1157.5,2169.5 1159.5,2169.5 1161.5,2169.5 1163.5,2169.5 1165.5,2169.5 1167.5,2169.5 1169.5,2169.5 1171.5,2169.5 1173.5,2169.5 1175.5,2169.5 1177.5,2169.5 1179.5,2169.5 1181.5,2169.5 1183.5,2169.5 1185.5,2169.5 1187.5,2169.5 1189.5,2169.5 1191.5,2169.5 1193.5,2169.5 1195.5,2169.5 1197.5,2169.5 1199.5,2169.5 1201.5,2169.5 1203.5,2169.5 1205.5,2169.5 1207.5,2169.5 1209.5,2169.5 1211.5,2169.5 1213.5,2169.5 1215.5,2169.5 1217.5,2169.5 1219.5,2169.5 1221.5,2169.5 1223.5,2169.5 1225.5,2169.5 1227.5,2169.5 1229.5,2169.5 1231.5,2169.5 1233.5,2169.5 1235.5,2169.5 1237.5,2169.5 1239.5,2169.5 1241.5,2169.5 1243.5,2169.5 1245.5,2169.5 1247.5,2169.5 1249.5,2169.5 1251.5,2169.5 1253.5,2169.5 1255.5,2169.5 1257.5,2169.5 1259.5,2169.5 1261.5,2169.5 1263.5,2169.5 1265.5,2169.5 1267.5,2169.5 1269.5,2169.5 1271.5,2169.5 1273.5,2169.5 1275.5,2169.5 1277.5,2169.5 1279.5,2169.5 1281.5,2169.5 1283.5,2169.5 1285.5,2169.5 1287.5,2169.5 1289.5,2169.5 1291.5,2169.5 1293.5,2169.5 1295.5,2169.5 1297.5,2169.5 1299.5,2169.5 1301.5,2169.5 1303.5,2169.5 1305.5,2169.5 1307.5,2169.5 1309.5,2169.5 1311.5,2169.5 1313.5,2169.5 1315.5,2169.5 1317.5,2169.5 1319.5,2169.5 1321.5,2169.5 1323.5,2169.5 1325.5,2169.5 1327.5,2169.5 1329.5,2169.5 1331.5,2169.5 1333.5,2169.5 1335.5,2169.5 1337.5,2169.5 1339.5,2169.5 1341.5,2169.5 1343.5,2169.5 1345.5,2169.5 1347.5,2169.5 1349.5,2169.5 1351.5,2169.5 1353.5,2169.5 1355.5,2169.5 1357.5,2169.5 1359.5,2169.5 1361.5,2169.5 1363.5,2169.5 1365.5,2169.5 1367.5,2169.5 1369.5,2169.5 1371.5,2169.5 1373.5,2169.5 1375.5,2169.5 1377.5,2169.5 1379.5,2169.5 1381.5,2169.5 1383.5,2169.5 1385.5,2169.5 1387.5,2169.5 1389.5,2169.5 1391.5,2169.5 1393.5,2169.5 1395.5,2169.5 1397.5,2169.5 1399.5,2169.5 1401.5,2169.5 1403.5,2169.5 1405.5,2169.5 1407.5,2169.5 1409.5,2169.5 1411.5,2169.5 1413.5,2169.5 1415.5,2169.5 1417.5,2169.5 1419.5,2169.5 1421.5,2169.5 1423.5,2169.5 1425.5,2169.5 1427.5,2169.5 1429.5,2169.5 1431.5,2169.5 1433.5,2169.5 1435.5,2169.5 1437.5,2169.5 1439.5,2169.5 1441.5,2169.5 1443.5,2169.5 1445.5,2169.5 1447.5,2169.5 1449.5,2169.5 1451.5,2169.5" fill="none" stroke="#d89040" stroke-width="2.5" stroke-linejoin="round" />
<polyline points="189.5,2169.5 191.5,2169.5 193.5,2169.5 195.5,2169.5 197.5,2169.5 199.5,2169.5 201.5,2169.5 203.5,2169.5 205.5,2169.5 207.5,2169.5 209.5,2169.5 211.5,2169.5 213.5,2169.5 215.5,2169.5 217.5,2169.5 219.5,2169.5 221.5,2169.5 223.5,2169.5 225.5,2169.5 227.5,2169.5 229.5,2169.5 231.5,2169.5 233.5,2169.5 235.5,2169.5 237.5,2169.5 239.5,2169.5 241.5,2169.5 243.5,2169.5 245.5,2169.5 247.5,2169.5 249.5,2169.5 251.5,2169.5 253.5,2169.5 255.5,2169.5 257.5,2169.5 259.5,2169.5 261.5,2169.5 263.5,2169.5 265.5,2169.5 267.5,2169.5 269.5,2169.5 271.5,2169.5 273.5,2169.5 275.5,2169.5 277.5,2169.5 279.5,2169.5 281.5,2169.5 283.5,2169.5 285.5,2169.5 287.5,2169.5 289.5,2169.5 291.5,2169.5 293.5,2169.5 295.5,2169.5 297.5,2169.5 299.5,2169.5 301.5,2169.5 303.5,2169.5 305.5,2169.5 307.5,2169.5 309.5,2169.5 311.5,2169.5 313.5,2169.5 315.5,2169.5 317.5,2169.5 319.5,2169.5 321.5,2169.5 323.5,2169.5 325.5,2169.5 327.5,2169.5 329.5,2169.5 331.5,2169.5 333.5,2169.5 335.5,2169.5 337.5,2169.5 339.5,2169.5 341.5,2169.5 343.5,2169.5 345.5,2169.5 347.5,2169.5 349.5,2169.5 351.5,2169.5 353.5,2169.5 355.5,2169.5 357.5,2169.5 359.5,2169.5 361.5,2169.5 363.5,2169.5 365.5,2169.5 367.5,2169.5 369.5,2169.5 371.5,2169.5 373.5,2169.5 375.5,2169.5 377.5,2169.5 379.5,2169.5 381.5,2169.5 383.5,2169.5 385.5,2169.5 387.5,2169.5 389.5,2169.5 391.5,2169.5 393.5,2169.5 395.5,2169.5 397.5,2169.5 399.5,2169.5 401.5,2169.5 403.5,2169.5 405.5,2169.5 407.5,2169.5 409.5,2169.5 411.5,2169.4 413.5,2169.4 415.5,2169.4 417.5,2169.4 419.5,2169.4 421.5,2169.4 423.5,2169.4 425.5,2169.4 427.5,2169.3 429.5,2169.3 431.5,2169.3 433.5,2169.3 435.5,2169.2 437.5,2169.2 439.5,2169.2 441.5,2169.1 443.5,2169.1 445.5,2169 447.5,2168.9 449.5,2168.9 451.5,2168.8 453.5,2168.7 455.5,2168.6 457.5,2168.5 459.5,2168.4 461.5,2168.3 463.5,2168.1 465.5,2168 467.5,2167.8 469.5,2167.6 471.5,2167.4 473.5,2167.1 475.5,2166.9 477.5,2166.6 479.5,2166.3 481.5,2165.9 483.5,2165.6 485.5,2165.2 487.5,2164.7 489.5,2164.3 491.5,2163.8 493.5,2163.2 495.5,2162.6 497.5,2161.9 499.5,2161.2 501.5,2160.5 503.5,2159.7 505.5,2158.8 507.5,2157.8 509.5,2156.8 511.5,2155.8 513.5,2154.6 515.5,2153.4 517.5,2152 519.5,2150.6 521.5,2149.2 523.5,2147.6 525.5,2145.9 527.5,2144.1 529.5,2142.3 531.5,2140.3 533.5,2138.2 535.5,2136 537.5,2133.7 539.5,2131.3 541.5,2128.7 543.5,2126.1 545.5,2123.3 547.5,2120.4 549.5,2117.4 551.5,2114.2 553.5,2111 555.5,2107.6 557.5,2104.1 559.5,2100.5 561.5,2096.7 563.5,2092.9 565.5,2088.9 567.5,2084.8 569.5,2080.6 571.5,2076.4 573.5,2072 575.5,2067.5 577.5,2063 579.5,2058.3 581.5,2053.6 583.5,2048.9 585.5,2044.1 587.5,2039.2 589.5,2034.3 591.5,2029.3 593.5,2024.4 595.5,2019.4 597.5,2014.5 599.5,2009.5 601.5,2004.6 603.5,1999.7 605.5,1994.8 607.5,1990.1 609.5,1985.3 611.5,1980.7 613.5,1976.1 615.5,1971.7 617.5,1967.3 619.5,1963.1 621.5,1959 623.5,1955.1 625.5,1951.3 627.5,1947.7 629.5,1944.3 631.5,1941 633.5,1937.9 635.5,1935 637.5,1932.4 639.5,1929.9 641.5,1927.7 643.5,1925.6 645.5,1923.8 647.5,1922.3 649.5,1920.9 651.5,1919.8 653.5,1918.9 655.5,1918.2 657.5,1917.8 659.5,1917.5 661.5,1917.5 663.5,1917.7 665.5,1918.2 667.5,1919 669.5,1920.1 671.5,1921.5 673.5,1923.2 675.5,1925.3 677.5,1927.6 679.5,1930.3 681.5,1933.3 683.5,1936.5 685.5,1940.1 687.5,1943.9 689.5,1947.9 691.5,1952.2 693.5,1956.8 695.5,1961.5 697.5,1966.4 699.5,1971.5 701.5,1976.8 703.5,1982.2 705.5,1987.7 707.5,1993.4 709.5,1999.1 711.5,2004.8 713.5,2010.7 715.5,2016.5 717.5,2022.4 719.5,2028.2 721.5,2034 723.5,2039.8 725.5,2045.6 727.5,2051.2 729.5,2056.8 731.5,2062.3 733.5,2067.7 735.5,2072.9 737.5,2078.1 739.5,2083.1 741.5,2087.9 743.5,2092.6 745.5,2097.2 747.5,2101.5 749.5,2105.8 751.5,2109.8 753.5,2113.7 755.5,2117.4 757.5,2121 759.5,2124.3 761.5,2127.6 763.5,2130.6 765.5,2133.5 767.5,2136.2 769.5,2138.8 771.5,2141.2 773.5,2143.5 775.5,2145.6 777.5,2147.6 779.5,2149.4 781.5,2151.2 783.5,2152.8 785.5,2154.3 787.5,2155.6 789.5,2156.9 791.5,2158.1 793.5,2159.2 795.5,2160.2 797.5,2161.1 799.5,2161.9 801.5,2162.7 803.5,2163.4 805.5,2164 807.5,2164.6 809.5,2165.1 811.5,2165.6 813.5,2166 815.5,2166.4 817.5,2166.8 819.5,2167.1 821.5,2167.4 823.5,2167.6 825.5,2167.8 827.5,2168 829.5,2168.2 831.5,2168.4 833.5,2168.5 835.5,2168.6 837.5,2168.8 839.5,2168.8 841.5,2168.9 843.5,2169 845.5,2169.1 847.5,2169.1 849.5,2169.2 851.5,2169.2 853.5,2169.3 855.5,2169.3 857.5,2169.3 859.5,2169.4 861.5,2169.4 863.5,2169.4 865.5,2169.4 867.5,2169.4 869.5,2169.4 871.5,2169.4 873.5,2169.5 875.5,2169.5 877.5,2169.5 879.5,2169.5 881.5,2169.5 883.5,2169.5 885.5,2169.5 887.5,2169.5 889.5,2169.5 891.5,2169.5 893.5,2169.5 895.5,2169.5 897.5,2169.5 899.5,2169.5 901.5,2169.5 903.5,2169.5 905.5,2169.5 907.5,2169.5 909.5,2169.5 911.5,2169.5 913.5,2169.5 915.5,2169.5 917.5,2169.5 919.5,2169.5 921.5,2169.5 923.5,2169.5 925.5,2169.5 927.5,2169.5 929.5,2169.5 931.5,2169.5 933.5,2169.5 935.5,2169.5 937.5,2169.5 939.5,2169.5 941.5,2169.5 943.5,2169.5 945.5,2169.5 947.5,2169.5 949.5,2169.5 951.5,2169.5 953.5,2169.5 955.5,2169.5 957.5,2169.5 959.5,2169.5 961.5,2169.5 963.5,2169.5 965.5,2169.5 967.5,2169.5 969.5,2169.5 971.5,2169.5 973.5,2169.5 975.5,2169.5 977.5,2169.5 979.5,2169.5 981.5,2169.5 983.5,2169.5 985.5,2169.5 987.5,2169.5 989.5,2169.5 991.5,2169.5 993.5,2169.5 995.5,2169.5 997.5,2169.5 999.5,2169.5 1001.5,2169.5 1003.5,2169.5 1005.5,2169.5 1007.5,2169.5 1009.5,2169.5 1011.5,2169.5 1013.5,2169.5 1015.5,2169.5 1017.5,2169.5 1019.5,2169.5 1021.5,2169.5 1023.5,2169.5 1025.5,2169.5 1027.5,2169.5 1029.5,2169.5 1031.5,2169.5 1033.5,2169.5 1035.5,2169.5 1037.5,2169.5 1039.5,2169.5 1041.5,2169.5 1043.5,2169.5 1045.5,2169.5 1047.5,2169.5 1049.5,2169.5 1051.5,2169.5 1053.5,2169.5 1055.5,2169.5 1057.5,2169.5 1059.5,2169.5 1061.5,2169.5 1063.5,2169.5 1065.5,2169.5 1067.5,2169.5 1069.5,2169.5 1071.5,2169.5 1073.5,2169.5 1075.5,2169.5 1077.5,2169.5 1079.5,2169.5 1081.5,2169.5 1083.5,2169.5 1085.5,2169.5 1087.5,2169.5 1089.5,2169.5 1091.5,2169.5 1093.5,2169.5 1095.5,2169.5 1097.5,2169.5 1099.5,2169.5 1101.5,2169.5 1103.5,2169.5 1105.5,2169.5 1107.5,2169.5 1109.5,2169.5 1111.5,2169.5 1113.5,2169.5 1115.5,2169.5 1117.5,2169.5 1119.5,2169.5 1121.5,2169.5 1123.5,2169.5 1125.5,2169.5 1127.5,2169.5 1129.5,2169.5 1131.5,2169.5 1133.5,2169.5 1135.5,2169.5 1137.5,2169.5 1139.5,2169.5 1141.5,2169.5 1143.5,2169.5 1145.5,2169.5 1147.5,2169.5 1149.5,2169.5 1151.5,2169.5 1153.5,2169.5 1155.5,2169.5 1157.5,2169.5 1159.5,2169.5 1161.5,2169.5 1163.5,2169.5 1165.5,2169.5 1167.5,2169.5 1169.5,2169.5 1171.5,2169.5 1173.5,2169.5 1175.5,2169.5 1177.5,2169.5 1179.5,2169.5 1181.5,2169.5 1183.5,2169.5 1185.5,2169.5 1187.5,2169.5 1189.5,2169.5 1191.5,2169.5 1193.5,2169.5 1195.5,2169.5 1197.5,2169.5 1199.5,2169.5 1201.5,2169.5 1203.5,2169.5 1205.5,2169.5 1207.5,2169.5 1209.5,2169.5 1211.5,2169.5 1213.5,2169.5 1215.5,2169.5 1217.5,2169.5 1219.5,2169.5 1221.5,2169.5 1223.5,2169.5 1225.5,2169.5 1227.5,2169.5 1229.5,2169.5 1231.5,2169.5 1233.5,2169.5 1235.5,2169.5 1237.5,2169.5 1239.5,2169.5 1241.5,2169.5 1243.5,2169.5 1245.5,2169.5 1247.5,2169.5 1249.5,2169.5 1251.5,2169.5 1253.5,2169.5 1255.5,2169.5 1257.5,2169.5 1259.5,2169.5 1261.5,2169.5 1263.5,2169.5 1265.5,2169.5 1267.5,2169.5 1269.5,2169.5 1271.5,2169.5 1273.5,2169.5 1275.5,2169.5 1277.5,2169.5 1279.5,2169.5 1281.5,2169.5 1283.5,2169.5 1285.5,2169.5 1287.5,2169.5 1289.5,2169.5 1291.5,2169.5 1293.5,2169.5 1295.5,2169.5 1297.5,2169.5 1299.5,2169.5 1301.5,2169.5 1303.5,2169.5 1305.5,2169.5 1307.5,2169.5 1309.5,2169.5 1311.5,2169.5 1313.5,2169.5 1315.5,2169.5 1317.5,2169.5 1319.5,2169.5 1321.5,2169.5 1323.5,2169.5 1325.5,2169.5 1327.5,2169.5 1329.5,2169.5 1331.5,2169.5 1333.5,2169.5 1335.5,2169.5 1337.5,2169.5 1339.5,2169.5 1341.5,2169.5 1343.5,2169.5 1345.5,2169.5 1347.5,2169.5 1349.5,2169.5 1351.5,2169.5 1353.5,2169.5 1355.5,2169.5 1357.5,2169.5 1359.5,2169.5 1361.5,2169.5 1363.5,2169.5 1365.5,2169.5 1367.5,2169.5 1369.5,2169.5 1371.5,2169.5 1373.5,2169.5 1375.5,2169.5 1377.5,2169.5 1379.5,2169.5 1381.5,2169.5 1383.5,2169.5 1385.5,2169.5 1387.5,2169.5 1389.5,2169.5 1391.5,2169.5 1393.5,2169.5 1395.5,2169.5 1397.5,2169.5 1399.5,2169.5 1401.5,2169.5 1403.5,2169.5 1405.5,2169.5 1407.5,2169.5 1409.5,2169.5 1411.5,2169.5 1413.5,2169.5 1415.5,2169.5 1417.5,2169.5 1419.5,2169.5 1421.5,2169.5 1423.5,2169.5 1425.5,2169.5 1427.5,2169.5 1429.5,2169.5 1431.5,2169.5 1433.5,2169.5 1435.5,2169.5 1437.5,2169.5 1439.5,2169.5 1441.5,2169.5 1443.5,2169.5 1445.5,2169.5 1447.5,2169.5 1449.5,2169.5 1451.5,2169.5" fill="none" stroke="#c828b8" stroke-width="2.5" stroke-linejoin="round" />
<line x1="190.5" y1="2169.5" x2="1451.0" y2="2169.5" stroke="#e060c0" stroke-width="2.5"/>
<polyline points="189.5,2169.5 191.5,2169.5 193.5,2169.5 195.5,2169.5 197.5,2169.5 199.5,2169.5 201.5,2169.5 203.5,2169.5 205.5,2169.5 207.5,2169.5 209.5,2169.5 211.5,2169.5 213.5,2169.5 215.5,2169.5 217.5,2169.5 219.5,2169.5 221.5,2169.5 223.5,2169.5 225.5,2169.5 227.5,2169.5 229.5,2169.5 231.5,2169.5 233.5,2169.5 235.5,2169.5 237.5,2169.5 239.5,2169.5 241.5,2169.5 243.5,2169.5 245.5,2169.5 247.5,2169.5 249.5,2169.5 251.5,2169.5 253.5,2169.5 255.5,2169.5 257.5,2169.5 259.5,2169.5 261.5,2169.5 263.5,2169.5 265.5,2169.5 267.5,2169.5 269.5,2169.5 271.5,2169.5 273.5,2169.5 275.5,2169.5 277.5,2169.5 279.5,2169.5 281.5,2169.5 283.5,2169.5 285.5,2169.5 287.5,2169.5 289.5,2169.5 291.5,2169.5 293.5,2169.5 295.5,2169.5 297.5,2169.5 299.5,2169.5 301.5,2169.5 303.5,2169.5 305.5,2169.5 307.5,2169.5 309.5,2169.5 311.5,2169.5 313.5,2169.5 315.5,2169.5 317.5,2169.5 319.5,2169.5 321.5,2169.5 323.5,2169.5 325.5,2169.5 327.5,2169.5 329.5,2169.5 331.5,2169.5 333.5,2169.5 335.5,2169.5 337.5,2169.5 339.5,2169.5 341.5,2169.5 343.5,2169.5 345.5,2169.5 347.5,2169.5 349.5,2169.5 351.5,2169.5 353.5,2169.5 355.5,2169.5 357.5,2169.5 359.5,2169.5 361.5,2169.5 363.5,2169.5 365.5,2169.5 367.5,2169.5 369.5,2169.5 371.5,2169.5 373.5,2169.5 375.5,2169.5 377.5,2169.5 379.5,2169.5 381.5,2169.5 383.5,2169.5 385.5,2169.5 387.5,2169.5 389.5,2169.5 391.5,2169.5 393.5,2169.5 395.5,2169.5 397.5,2169.5 399.5,2169.5 401.5,2169.5 403.5,2169.5 405.5,2169.5 407.5,2169.4 409.5,2169.4 411.5,2169.4 413.5,2169.4 415.5,2169.4 417.5,2169.4 419.5,2169.4 421.5,2169.4 423.5,2169.3 425.5,2169.3 427.5,2169.3 429.5,2169.3 431.5,2169.2 433.5,2169.2 435.5,2169.2 437.5,2169.1 439.5,2169.1 441.5,2169 443.5,2169 445.5,2168.9 447.5,2168.9 449.5,2168.8 451.5,2168.7 453.5,2168.6 455.5,2168.5 457.5,2168.4 459.5,2168.2 461.5,2168.1 463.5,2167.9 465.5,2167.8 467.5,2167.6 469.5,2167.3 471.5,2167.1 473.5,2166.9 475.5,2166.6 477.5,2166.3 479.5,2165.9 481.5,2165.6 483.5,2165.2 485.5,2164.7 487.5,2164.3 489.5,2163.8 491.5,2163.2 493.5,2162.6 495.5,2162 497.5,2161.3 499.5,2160.5 501.5,2159.7 503.5,2158.8 505.5,2157.9 507.5,2156.9 509.5,2155.8 511.5,2154.6 513.5,2153.4 515.5,2152 517.5,2150.6 519.5,2149.1 521.5,2147.5 523.5,2145.8 525.5,2144.1 527.5,2142.1 529.5,2140.1 531.5,2138 533.5,2135.8 535.5,2133.4 537.5,2130.9 539.5,2128.3 541.5,2125.6 543.5,2122.7 545.5,2119.7 547.5,2116.5 549.5,2113.3 551.5,2109.8 553.5,2106.3 555.5,2102.6 557.5,2098.7 559.5,2094.7 561.5,2090.6 563.5,2086.3 565.5,2081.8 567.5,2077.2 569.5,2072.5 571.5,2067.6 573.5,2062.5 575.5,2057.3 577.5,2051.9 579.5,2046.4 581.5,2040.7 583.5,2034.9 585.5,2028.9 587.5,2022.8 589.5,2016.4 591.5,2010 593.5,2003.3 595.5,1996.5 597.5,1989.5 599.5,1982.3 601.5,1975 603.5,1967.4 605.5,1959.7 607.5,1951.8 609.5,1943.7 611.5,1935.4 613.5,1926.8 615.5,1918.1 617.5,1909.1 619.5,1899.9 621.5,1890.5 623.5,1880.9 625.5,1871 627.5,1860.9 629.5,1850.6 631.5,1840 633.5,1829.3 635.5,1818.3 637.5,1807.1 639.5,1795.7 641.5,1784.1 643.5,1772.3 645.5,1760.4 647.5,1748.3 649.5,1736.1 651.5,1723.7 653.5,1711.3 655.5,1698.8 657.5,1686.3 659.5,1673.7 661.5,1661.2 663.5,1648.7 665.5,1636.3 667.5,1624.2 669.5,1612.3 671.5,1600.8 673.5,1589.5 675.5,1578.7 677.5,1568.2 679.5,1558.2 681.5,1548.7 683.5,1539.7 685.5,1531.2 687.5,1523.3 689.5,1516 691.5,1509.3 693.5,1503.1 695.5,1497.6 697.5,1492.8 699.5,1488.5 701.5,1484.9 703.5,1481.9 705.5,1479.5 707.5,1477.8 709.5,1476.6 711.5,1476 713.5,1475.9 715.5,1476.4 717.5,1477.3 719.5,1478.7 721.5,1480.6 723.5,1482.8 725.5,1485.4 727.5,1488.3 729.5,1491.4 731.5,1494.8 733.5,1498.2 735.5,1501.7 737.5,1505.2 739.5,1509 741.5,1512.9 743.5,1517.1 745.5,1521.6 747.5,1526.5 749.5,1531.7 751.5,1537.3 753.5,1543.4 755.5,1549.8 757.5,1556.7 759.5,1564.1 761.5,1571.9 763.5,1580.1 765.5,1588.9 767.5,1598 769.5,1607.7 771.5,1617.7 773.5,1628.2 775.5,1639 777.5,1650.2 779.5,1661.8 781.5,1673.7 783.5,1685.9 785.5,1698.3 787.5,1710.9 789.5,1723.8 791.5,1736.8 793.5,1749.9 795.5,1763.1 797.5,1776.4 799.5,1789.6 801.5,1802.7 803.5,1815.8 805.5,1828.7 807.5,1841.5 809.5,1854 811.5,1866.3 813.5,1878.4 815.5,1890.2 817.5,1901.6 819.5,1912.8 821.5,1923.5 823.5,1934 825.5,1944 827.5,1953.7 829.5,1963 831.5,1971.9 833.5,1980.4 835.5,1988.5 837.5,1996.2 839.5,2003.6 841.5,2010.7 843.5,2017.3 845.5,2023.7 847.5,2029.7 849.5,2035.4 851.5,2040.9 853.5,2046 855.5,2050.9 857.5,2055.5 859.5,2059.9 861.5,2064.1 863.5,2068.1 865.5,2071.9 867.5,2075.5 869.5,2079 871.5,2082.3 873.5,2085.5 875.5,2088.5 877.5,2091.5 879.5,2094.3 881.5,2097 883.5,2099.6 885.5,2102.1 887.5,2104.6 889.5,2107 891.5,2109.3 893.5,2111.5 895.5,2113.7 897.5,2115.8 899.5,2117.8 901.5,2119.8 903.5,2121.7 905.5,2123.6 907.5,2125.4 909.5,2127.2 911.5,2128.9 913.5,2130.6 915.5,2132.2 917.5,2133.8 919.5,2135.3 921.5,2136.8 923.5,2138.2 925.5,2139.6 927.5,2141 929.5,2142.3 931.5,2143.5 933.5,2144.7 935.5,2145.9 937.5,2147 939.5,2148.1 941.5,2149.2 943.5,2150.2 945.5,2151.1 947.5,2152.1 949.5,2153 951.5,2153.8 953.5,2154.6 955.5,2155.4 957.5,2156.2 959.5,2156.9 961.5,2157.6 963.5,2158.2 965.5,2158.9 967.5,2159.5 969.5,2160 971.5,2160.6 973.5,2161.1 975.5,2161.6 977.5,2162.1 979.5,2162.5 981.5,2162.9 983.5,2163.3 985.5,2163.7 987.5,2164.1 989.5,2164.4 991.5,2164.7 993.5,2165 995.5,2165.3 997.5,2165.6 999.5,2165.9 1001.5,2166.1 1003.5,2166.3 1005.5,2166.5 1007.5,2166.7 1009.5,2166.9 1011.5,2167.1 1013.5,2167.3 1015.5,2167.4 1017.5,2167.6 1019.5,2167.7 1021.5,2167.8 1023.5,2168 1025.5,2168.1 1027.5,2168.2 1029.5,2168.3 1031.5,2168.4 1033.5,2168.4 1035.5,2168.5 1037.5,2168.6 1039.5,2168.7 1041.5,2168.7 1043.5,2168.8 1045.5,2168.9 1047.5,2168.9 1049.5,2168.9 1051.5,2169 1053.5,2169 1055.5,2169.1 1057.5,2169.1 1059.5,2169.1 1061.5,2169.2 1063.5,2169.2 1065.5,2169.2 1067.5,2169.2 1069.5,2169.3 1071.5,2169.3 1073.5,2169.3 1075.5,2169.3 1077.5,2169.3 1079.5,2169.4 1081.5,2169.4 1083.5,2169.4 1085.5,2169.4 1087.5,2169.4 1089.5,2169.4 1091.5,2169.4 1093.5,2169.4 1095.5,2169.4 1097.5,2169.4 1099.5,2169.4 1101.5,2169.4 1103.5,2169.5 1105.5,2169.5 1107.5,2169.5 1109.5,2169.5 1111.5,2169.5 1113.5,2169.5 1115.5,2169.5 1117.5,2169.5 1119.5,2169.5 1121.5,2169.5 1123.5,2169.5 1125.5,2169.5 1127.5,2169.5 1129.5,2169.5 1131.5,2169.5 1133.5,2169.5 1135.5,2169.5 1137.5,2169.5 1139.5,2169.5 1141.5,2169.5 1143.5,2169.5 1145.5,2169.5 1147.5,2169.5 1149.5,2169.5 1151.5,2169.5 1153.5,2169.5 1155.5,2169.5 1157.5,2169.5 1159.5,2169.5 1161.5,2169.5 1163.5,2169.5 1165.5,2169.5 1167.5,2169.5 1169.5,2169.5 1171.5,2169.5 1173.5,2169.5 1175.5,2169.5 1177.5,2169.5 1179.5,2169.5 1181.5,2169.5 1183.5,2169.5 1185.5,2169.5 1187.5,2169.5 1189.5,2169.5 1191.5,2169.5 1193.5,2169.5 1195.5,2169.5 1197.5,2169.5 1199.5,2169.5 1201.5,2169.5 1203.5,2169.5 1205.5,2169.5 1207.5,2169.5 1209.5,2169.5 1211.5,2169.5 1213.5,2169.5 1215.5,2169.5 1217.5,2169.5 1219.5,2169.5 1221.5,2169.5 1223.5,2169.5 1225.5,2169.5 1227.5,2169.5 1229.5,2169.5 1231.5,2169.5 1233.5,2169.5 1235.5,2169.5 1237.5,2169.5 1239.5,2169.5 1241.5,2169.5 1243.5,2169.5 1245.5,2169.5 1247.5,2169.5 1249.5,2169.5 1251.5,2169.5 1253.5,2169.5 1255.5,2169.5 1257.5,2169.5 1259.5,2169.5 1261.5,2169.5 1263.5,2169.5 1265.5,2169.5 1267.5,2169.5 1269.5,2169.5 1271.5,2169.5 1273.5,2169.5 1275.5,2169.5 1277.5,2169.5 1279.5,2169.5 1281.5,2169.5 1283.5,2169.5 1285.5,2169.5 1287.5,2169.5 1289.5,2169.5 1291.5,2169.5 1293.5,2169.5 1295.5,2169.5 1297.5,2169.5 1299.5,2169.5 1301.5,2169.5 1303.5,2169.5 1305.5,2169.5 1307.5,2169.5 1309.5,2169.5 1311.5,2169.5 1313.5,2169.5 1315.5,2169.5 1317.5,2169.5 1319.5,2169.5 1321.5,2169.5 1323.5,2169.5 1325.5,2169.5 1327.5,2169.5 1329.5,2169.5 1331.5,2169.5 1333.5,2169.5 1335.5,2169.5 1337.5,2169.5 1339.5,2169.5 1341.5,2169.5 1343.5,2169.5 1345.5,2169.5 1347.5,2169.5 1349.5,2169.5 1351.5,2169.5 1353.5,2169.5 1355.5,2169.5 1357.5,2169.5 1359.5,2169.5 1361.5,2169.5 1363.5,2169.5 1365.5,2169.5 1367.5,2169.5 1369.5,2169.5 1371.5,2169.5 1373.5,2169.5 1375.5,2169.5 1377.5,2169.5 1379.5,2169.5 1381.5,2169.5 1383.5,2169.5 1385.5,2169.5 1387.5,2169.5 1389.5,2169.5 1391.5,2169.5 1393.5,2169.5 1395.5,2169.5 1397.5,2169.5 1399.5,2169.5 1401.5,2169.5 1403.5,2169.5 1405.5,2169.5 1407.5,2169.5 1409.5,2169.5 1411.5,2169.5 1413.5,2169.5 1415.5,2169.5 1417.5,2169.5 1419.5,2169.5 1421.5,2169.5 1423.5,2169.5 1425.5,2169.5 1427.5,2169.5 1429.5,2169.5 1431.5,2169.5 1433.5,2169.5 1435.5,2169.5 1437.5,2169.5 1439.5,2169.5 1441.5,2169.5 1443.5,2169.5 1445.5,2169.5 1447.5,2169.5 1449.5,2169.5 1451.5,2169.5" fill="none" stroke="#b0a0a0" stroke-width="2" stroke-linejoin="round" />
<polyline points="190.5,2144.2 195,2142.9 199.5,2142.7 204,2148.1 208.5,2171.6 213,2149.2 217.5,2161.3 222,2176.9 226.5,2159.5 231,2150.8 235.5,2160.1 240,2174.3 244.5,2188.8 249,2178.4 253.5,2180.8 258,2160.2 262.5,2149.3 267,2140.9 271.5,2142.8 276,2151.3 280.5,2158.8 285,2148 289.5,2161.7 294,2160.9 298.5,2152.7 303,2149.9 307.5,2178.5 312,2169.9 316.5,2151.6 321,2147.6 325.5,2175.6 330,2160.5 334.5,2169.8 339,2180.9 343.5,2144.1 348,2163.7 352.5,2162.7 357,2149.1 361.5,2150.7 366,2162.9 370.5,2166 375,2165.7 379.5,2154.3 384,2170.7 388.5,2182.9 393,2188 397.5,2179.7 402,2186.5 406.5,2193.3 411,2177.7 415.5,2173.2 420,2170.5 424.5,2168.8 429,2172.5 433.5,2147.1 438,2150.1 442.5,2163.5 447,2141.6 451.5,2137.9 456,2171.6 460.5,2154.3 465,2149.5 469.5,2160.1 474,2153.8 478.5,2145.9 483,2146.8 487.5,2148 492,2145.5 496.5,2151.5 501,2176.6 505.5,2164.4 510,2175.1 514.5,2166.8 519,2159.8 523.5,2152.9 528,2131.5 532.5,2133.3 537,2131.5 541.5,2102.1 546,2116 550.5,2121.2 555,2107.6 559.5,2079 564,2028.4 568.5,2075.8 573,2067.6 577.5,2002.8 582,2026.2 586.5,2008.5 591,2014 595.5,1992.6 600,2003.7 604.5,1975.5 609,1948.5 613.5,1926.4 618,1939.9 622.5,1858.1 627,1877.3 631.5,1871.9 636,1799.9 640.5,1775.6 645,1743 649.5,1724.4 654,1737.5 658.5,1663.1 663,1662.7 667.5,1667.3 672,1632.4 676.5,1643 681,1566.9 685.5,1552.3 690,1628.2 694.5,1537.8 699,1477.5 703.5,1472.3 708,1495.4 712.5,1436.1 717,1393.3 721.5,1393.6 726,1421.1 730.5,1429.5 735,1413.1 739.5,1462.8 744,1533.1 748.5,1518.2 753,1488.3 757.5,1540.3 762,1577.8 766.5,1545.7 771,1595.5 775.5,1601.9 780,1626.9 784.5,1656.8 789,1733.6 793.5,1729.3 798,1755.3 802.5,1804 807,1869.6 811.5,1913.2 816,1873.1 820.5,1935.9 825,1958.4 829.5,1995.4 834,2020 838.5,1990.8 843,2005.4 847.5,2017.6 852,2042 856.5,2092.3 861,2074.1 865.5,2054.1 870,2127 874.5,2080.9 879,2080.6 883.5,2092.9 888,2078.8 892.5,2110 897,2137.9 901.5,2120.5 906,2118.2 910.5,2119.8 915,2100.1 919.5,2122.8 924,2117 928.5,2116.3 933,2138.6 937.5,2160.1 942,2137.2 946.5,2159.1 951,2185 955.5,2164.8 960,2152.6 964.5,2157.6 969,2153.4 973.5,2147.8 978,2165.3 982.5,2176.9 987,2161.7 991.5,2159.2 996,2158.8 1000.5,2158.5 1005,2156.7 1009.5,2151.4 1014,2174.8 1018.5,2171.7 1023,2171.6 1027.5,2196.8 1032,2176.6 1036.5,2179.2 1041,2164.6 1045.5,2164.9 1050,2181.5 1054.5,2176.7 1059,2163.4 1063.5,2159 1068,2175.6 1072.5,2171.6 1077,2182.7 1081.5,2186 1086,2178.1 1090.5,2178.7 1095,2189.4 1099.5,2185.2 1104,2173.6 1108.5,2181.4 1113,2180.2 1117.5,2179.1 1122,2188 1126.5,2189.2 1131,2196.3 1135.5,2185.7 1140,2179 1144.5,2179.3 1149,2186.6 1153.5,2178.7 1158,2178.7 1162.5,2176.4 1167,2175.6 1171.5,2181 1176,2212.2 1180.5,2192.1 1185,2186.9 1189.5,2188.2 1194,2185 1198.5,2186.1 1203,2209.2 1207.5,2192.8 1212,2204.2 1216.5,2202 1221,2182.3 1225.5,2178.2 1230,2179.6 1234.5,2174.2 1239,2191.8 1243.5,2192.7 1248,2189.8 1252.5,2174.3 1257,2180.7 1261.5,2176.3 1266,2203.5 1270.5,2187.4 1275,2179.3 1279.5,2181.6 1284,2172.2 1288.5,2169.1 1293,2165.3 1297.5,2172 1302,2155.3 1306.5,2149.2 1311,2151.1 1315.5,2144 1320,2132.1 1324.5,2128.6 1329,2133.6 1333.5,2129.9 1338,2143.8 1342.5,2140 1347,2133.5 1351.5,2123.6 1356,2131.4 1360.5,2126.9 1365,2116.3 1369.5,2114 1374,2143.5 1378.5,2120.3 1383,2104.6 1387.5,2119.7 1392,2122.6 1396.5,2112.3 1401,2129.6 1405.5,2111 1410,2112.9 1414.5,2109.7 1419,2135.7 1423.5,2136.5 1428,2161.4 1432.5,2150.9 1437,2143.4 1441.5,2130.5 1446,2126.9 1450.5,2134.3" fill="none" stroke="#d42020" stroke-width="3.2" stroke-linejoin="round" />
<polyline points="189.5,2169.5 191.5,2169.5 193.5,2169.5 195.5,2169.5 197.5,2169.5 199.5,2169.5 201.5,2169.5 203.5,2169.5 205.5,2169.5 207.5,2169.5 209.5,2169.5 211.5,2169.5 213.5,2169.5 215.5,2169.5 217.5,2169.5 219.5,2169.5 221.5,2169.5 223.5,2169.5 225.5,2169.5 227.5,2169.5 229.5,2169.5 231.5,2169.5 233.5,2169.5 235.5,2169.5 237.5,2169.5 239.5,2169.5 241.5,2169.5 243.5,2169.5 245.5,2169.5 247.5,2169.5 249.5,2169.5 251.5,2169.5 253.5,2169.5 255.5,2169.5 257.5,2169.5 259.5,2169.5 261.5,2169.5 263.5,2169.5 265.5,2169.5 267.5,2169.5 269.5,2169.5 271.5,2169.5 273.5,2169.5 275.5,2169.5 277.5,2169.5 279.5,2169.5 281.5,2169.5 283.5,2169.5 285.5,2169.5 287.5,2169.5 289.5,2169.5 291.5,2169.5 293.5,2169.5 295.5,2169.5 297.5,2169.5 299.5,2169.5 301.5,2169.5 303.5,2169.5 305.5,2169.5 307.5,2169.5 309.5,2169.5 311.5,2169.5 313.5,2169.5 315.5,2169.5 317.5,2169.5 319.5,2169.5 321.5,2169.5 323.5,2169.5 325.5,2169.5 327.5,2169.5 329.5,2169.5 331.5,2169.5 333.5,2169.5 335.5,2169.5 337.5,2169.5 339.5,2169.5 341.5,2169.5 343.5,2169.5 345.5,2169.5 347.5,2169.5 349.5,2169.5 351.5,2169.5 353.5,2169.5 355.5,2169.5 357.5,2169.5 359.5,2169.5 361.5,2169.5 363.5,2169.5 365.5,2169.5 367.5,2169.5 369.5,2169.5 371.5,2169.5 373.5,2169.5 375.5,2169.5 377.5,2169.5 379.5,2169.5 381.5,2169.5 383.5,2169.5 385.5,2169.5 387.5,2169.5 389.5,2169.5 391.5,2169.5 393.5,2169.5 395.5,2169.5 397.5,2169.5 399.5,2169.5 401.5,2169.5 403.5,2169.5 405.5,2169.5 407.5,2169.5 409.5,2169.5 411.5,2169.5 413.5,2169.5 415.5,2169.5 417.5,2169.5 419.5,2169.5 421.5,2169.5 423.5,2169.5 425.5,2169.5 427.5,2169.5 429.5,2169.5 431.5,2169.5 433.5,2169.5 435.5,2169.5 437.5,2169.5 439.5,2169.5 441.5,2169.5 443.5,2169.5 445.5,2169.5 447.5,2169.5 449.5,2169.5 451.5,2169.5 453.5,2169.5 455.5,2169.5 457.5,2169.5 459.5,2169.5 461.5,2169.5 463.5,2169.5 465.5,2169.5 467.5,2169.5 469.5,2169.5 471.5,2169.5 473.5,2169.5 475.5,2169.5 477.5,2169.5 479.5,2169.5 481.5,2169.5 483.5,2169.5 485.5,2169.5 487.5,2169.5 489.5,2169.5 491.5,2169.5 493.5,2169.5 495.5,2169.5 497.5,2169.5 499.5,2169.5 501.5,2169.5 503.5,2169.5 505.5,2169.5 507.5,2169.5 509.5,2169.5 511.5,2169.5 513.5,2169.5 515.5,2169.4 517.5,2169.4 519.5,2169.4 521.5,2169.4 523.5,2169.4 525.5,2169.4 527.5,2169.4 529.5,2169.4 531.5,2169.3 533.5,2169.3 535.5,2169.3 537.5,2169.3 539.5,2169.3 541.5,2169.2 543.5,2169.2 545.5,2169.2 547.5,2169.1 549.5,2169.1 551.5,2169 553.5,2169 555.5,2168.9 557.5,2168.8 559.5,2168.7 561.5,2168.7 563.5,2168.6 565.5,2168.5 567.5,2168.4 569.5,2168.2 571.5,2168.1 573.5,2167.9 575.5,2167.8 577.5,2167.6 579.5,2167.4 581.5,2167.2 583.5,2167 585.5,2166.7 587.5,2166.5 589.5,2166.2 591.5,2165.8 593.5,2165.5 595.5,2165.1 597.5,2164.7 599.5,2164.3 601.5,2163.8 603.5,2163.3 605.5,2162.8 607.5,2162.2 609.5,2161.6 611.5,2160.9 613.5,2160.2 615.5,2159.4 617.5,2158.6 619.5,2157.7 621.5,2156.8 623.5,2155.8 625.5,2154.7 627.5,2153.6 629.5,2152.4 631.5,2151.1 633.5,2149.7 635.5,2148.3 637.5,2146.8 639.5,2145.2 641.5,2143.5 643.5,2141.7 645.5,2139.8 647.5,2137.9 649.5,2135.8 651.5,2133.6 653.5,2131.3 655.5,2128.9 657.5,2126.4 659.5,2123.8 661.5,2121.1 663.5,2118.2 665.5,2115.2 667.5,2112.1 669.5,2108.9 671.5,2105.5 673.5,2102 675.5,2098.4 677.5,2094.7 679.5,2090.8 681.5,2086.8 683.5,2082.6 685.5,2078.3 687.5,2073.9 689.5,2069.4 691.5,2064.7 693.5,2059.9 695.5,2055 697.5,2049.9 699.5,2044.7 701.5,2039.4 703.5,2034 705.5,2028.4 707.5,2022.7 709.5,2017 711.5,2011.1 713.5,2005.1 715.5,1999 717.5,1992.8 719.5,1986.6 721.5,1980.2 723.5,1973.8 725.5,1967.3 727.5,1960.8 729.5,1954.1 731.5,1947.5 733.5,1940.8 735.5,1934 737.5,1927.2 739.5,1920.4 741.5,1913.6 743.5,1906.8 745.5,1899.9 747.5,1893.1 749.5,1886.3 751.5,1879.5 753.5,1872.8 755.5,1866.1 757.5,1859.4 759.5,1852.8 761.5,1846.3 763.5,1839.8 765.5,1833.4 767.5,1827.1 769.5,1820.8 771.5,1814.7 773.5,1808.7 775.5,1802.8 777.5,1797 779.5,1791.4 781.5,1785.8 783.5,1780.4 785.5,1775.2 787.5,1770.1 789.5,1765.1 791.5,1760.3 793.5,1755.7 795.5,1751.2 797.5,1746.9 799.5,1742.7 801.5,1738.8 803.5,1735 805.5,1731.3 807.5,1727.9 809.5,1724.6 811.5,1721.5 813.5,1718.6 815.5,1715.9 817.5,1713.3 819.5,1710.9 821.5,1708.7 823.5,1706.6 825.5,1704.8 827.5,1703 829.5,1701.5 831.5,1700.1 833.5,1698.8 835.5,1697.7 837.5,1696.8 839.5,1695.9 841.5,1695.3 843.5,1694.7 845.5,1694.2 847.5,1693.9 849.5,1693.6 851.5,1693.4 853.5,1693.3 855.5,1693.3 857.5,1693.3 859.5,1693.3 861.5,1693.4 863.5,1693.6 865.5,1693.9 867.5,1694.4 869.5,1695 871.5,1695.8 873.5,1696.7 875.5,1697.8 877.5,1699.1 879.5,1700.5 881.5,1702.2 883.5,1704 885.5,1706 887.5,1708.2 889.5,1710.7 891.5,1713.3 893.5,1716.1 895.5,1719.1 897.5,1722.3 899.5,1725.7 901.5,1729.2 903.5,1733 905.5,1736.9 907.5,1741 909.5,1745.2 911.5,1749.6 913.5,1754.2 915.5,1758.8 917.5,1763.6 919.5,1768.5 921.5,1773.4 923.5,1778.5 925.5,1783.6 927.5,1788.8 929.5,1794 931.5,1799.2 933.5,1804.5 935.5,1809.7 937.5,1814.9 939.5,1820.1 941.5,1825.2 943.5,1830.2 945.5,1835.2 947.5,1840 949.5,1844.8 951.5,1849.4 953.5,1853.8 955.5,1858.1 957.5,1862.2 959.5,1866.1 961.5,1869.8 963.5,1873.4 965.5,1876.6 967.5,1879.7 969.5,1882.5 971.5,1885.1 973.5,1887.4 975.5,1889.5 977.5,1891.3 979.5,1892.9 981.5,1894.1 983.5,1895.2 985.5,1896 987.5,1896.5 989.5,1896.8 991.5,1896.8 993.5,1896.6 995.5,1896.2 997.5,1895.6 999.5,1894.7 1001.5,1893.7 1003.5,1892.5 1005.5,1891.1 1007.5,1889.6 1009.5,1887.9 1011.5,1886.1 1013.5,1884.2 1015.5,1882.3 1017.5,1880.2 1019.5,1878.1 1021.5,1876 1023.5,1873.8 1025.5,1871.7 1027.5,1869.5 1029.5,1867.4 1031.5,1865.3 1033.5,1863.3 1035.5,1861.4 1037.5,1859.6 1039.5,1857.8 1041.5,1856.2 1043.5,1854.7 1045.5,1853.4 1047.5,1852.2 1049.5,1851.1 1051.5,1850.2 1053.5,1849.5 1055.5,1848.9 1057.5,1848.5 1059.5,1848.3 1061.5,1848.2 1063.5,1848.3 1065.5,1848.6 1067.5,1849 1069.5,1849.6 1071.5,1850.2 1073.5,1851 1075.5,1851.9 1077.5,1853.2 1079.5,1854.8 1081.5,1856.7 1083.5,1859.1 1085.5,1861.9 1087.5,1865.2 1089.5,1868.9 1091.5,1873.1 1093.5,1877.7 1095.5,1882.8 1097.5,1888.3 1099.5,1894.3 1101.5,1900.6 1103.5,1907.4 1105.5,1914.4 1107.5,1921.8 1109.5,1929.5 1111.5,1937.5 1113.5,1945.7 1115.5,1954.1 1117.5,1962.6 1119.5,1971.2 1121.5,1980 1123.5,1988.7 1125.5,1997.5 1127.5,2006.2 1129.5,2014.9 1131.5,2023.5 1133.5,2031.9 1135.5,2040.2 1137.5,2048.2 1139.5,2056.1 1141.5,2063.7 1143.5,2071.1 1145.5,2078.1 1147.5,2084.9 1149.5,2091.4 1151.5,2097.6 1153.5,2103.5 1155.5,2109.1 1157.5,2114.3 1159.5,2119.2 1161.5,2123.8 1163.5,2128.1 1165.5,2132.1 1167.5,2135.8 1169.5,2139.3 1171.5,2142.4 1173.5,2145.3 1175.5,2147.9 1177.5,2150.4 1179.5,2152.5 1181.5,2154.5 1183.5,2156.3 1185.5,2157.9 1187.5,2159.4 1189.5,2160.7 1191.5,2161.8 1193.5,2162.8 1195.5,2163.7 1197.5,2164.5 1199.5,2165.2 1201.5,2165.8 1203.5,2166.4 1205.5,2166.8 1207.5,2167.2 1209.5,2167.6 1211.5,2167.9 1213.5,2168.1 1215.5,2168.4 1217.5,2168.5 1219.5,2168.7 1221.5,2168.8 1223.5,2169 1225.5,2169 1227.5,2169.1 1229.5,2169.2 1231.5,2169.2 1233.5,2169.3 1235.5,2169.3 1237.5,2169.4 1239.5,2169.4 1241.5,2169.4 1243.5,2169.4 1245.5,2169.4 1247.5,2169.5 1249.5,2169.5 1251.5,2169.5 1253.5,2169.5 1255.5,2169.5 1257.5,2169.5 1259.5,2169.5 1261.5,2169.5 1263.5,2169.5 1265.5,2169.5 1267.5,2169.5 1269.5,2169.5 1271.5,2169.5 1273.5,2169.5 1275.5,2169.5 1277.5,2169.5 1279.5,2169.5 1281.5,2169.5 1283.5,2169.5 1285.5,2169.5 1287.5,2169.5 1289.5,2169.5 1291.5,2169.5 1293.5,2169.5 1295.5,2169.5 1297.5,2169.5 1299.5,2169.5 1301.5,2169.5 1303.5,2169.5 1305.5,2169.5 1307.5,2169.5 1309.5,2169.5 1311.5,2169.5 1313.5,2169.5 1315.5,2169.5 1317.5,2169.5 1319.5,2169.5 1321.5,2169.5 1323.5,2169.5 1325.5,2169.5 1327.5,2169.5 1329.5,2169.5 1331.5,2169.5 1333.5,2169.5 1335.5,2169.5 1337.5,2169.5 1339.5,2169.5 1341.5,2169.5 1343.5,2169.5 1345.5,2169.5 1347.5,2169.5 1349.5,2169.5 1351.5,2169.5 1353.5,2169.5 1355.5,2169.5 1357.5,2169.5 1359.5,2169.5 1361.5,2169.5 1363.5,2169.5 1365.5,2169.5 1367.5,2169.5 1369.5,2169.5 1371.5,2169.5 1373.5,2169.5 1375.5,2169.5 1377.5,2169.5 1379.5,2169.5 1381.5,2169.5 1383.5,2169.5 1385.5,2169.5 1387.5,2169.5 1389.5,2169.5 1391.5,2169.5 1393.5,2169.5 1395.5,2169.5 1397.5,2169.5 1399.5,2169.5 1401.5,2169.5 1403.5,2169.5 1405.5,2169.5 1407.5,2169.5 1409.5,2169.5 1411.5,2169.5 1413.5,2169.5 1415.5,2169.5 1417.5,2169.5 1419.5,2169.5 1421.5,2169.5 1423.5,2169.5 1425.5,2169.5 1427.5,2169.5 1429.5,2169.5 1431.5,2169.5 1433.5,2169.5 1435.5,2169.5 1437.5,2169.5 1439.5,2169.5 1441.5,2169.5 1443.5,2169.5 1445.5,2169.5 1447.5,2169.5 1449.5,2169.5 1451.5,2169.5" fill="none" stroke="#3cd060" stroke-width="5.5" stroke-linejoin="round" stroke-opacity="0.9"/>
<polyline points="190.5,2162.8 195,2180.1 199.5,2145 204,2172.8 208.5,2169.2 213,2150.1 217.5,2145.3 222,2140.8 226.5,2152.1 231,2169.5 235.5,2171.1 240,2170.5 244.5,2139.5 249,2127 253.5,2170.6 258,2177.2 262.5,2187 267,2181.9 271.5,2152.3 276,2169.3 280.5,2171.8 285,2164.8 289.5,2148.7 294,2154.7 298.5,2157.3 303,2168.1 307.5,2164.6 312,2176.4 316.5,2157.7 321,2161.6 325.5,2167 330,2149.9 334.5,2136.9 339,2165.8 343.5,2169.8 348,2160.9 352.5,2163.9 357,2152.7 361.5,2160.2 366,2153 370.5,2160.1 375,2171.8 379.5,2161.6 384,2168.4 388.5,2150.7 393,2150.6 397.5,2138.8 402,2151.7 406.5,2162.1 411,2159.3 415.5,2156.7 420,2174.7 424.5,2182.2 429,2152.5 433.5,2169.5 438,2143.5 442.5,2141 447,2155.7 451.5,2163.4 456,2147.7 460.5,2145.7 465,2159.9 469.5,2153 474,2149.1 478.5,2167.3 483,2175.3 487.5,2166.1 492,2162.6 496.5,2162.3 501,2155 505.5,2151 510,2142.1 514.5,2163 519,2161.7 523.5,2156.7 528,2160.2 532.5,2164.2 537,2173.9 541.5,2159 546,2146.7 550.5,2153.8 555,2139.8 559.5,2160.1 564,2163.3 568.5,2157.1 573,2145 577.5,2148.2 582,2152.7 586.5,2145.5 591,2131.3 595.5,2100 600,2130.1 604.5,2124.4 609,2104.4 613.5,2124.7 618,2123.4 622.5,2089.8 627,2097.4 631.5,2100.6 636,2113.7 640.5,2072.2 645,2075.7 649.5,2088.9 654,2109.3 658.5,2079 663,2019.2 667.5,2031.2 672,2072.7 676.5,2086.6 681,2097.3 685.5,2077.7 690,2040.9 694.5,2054.8 699,2042.4 703.5,2022.4 708,2014.5 712.5,2024 717,1982.1 721.5,1944.7 726,1952.4 730.5,1947.3 735,1913.8 739.5,1889.3 744,1905.1 748.5,1915.2 753,1896.1 757.5,1876.4 762,1871.7 766.5,1789.9 771,1753.4 775.5,1766.8 780,1749.1 784.5,1736.9 789,1757.2 793.5,1720.2 798,1718.7 802.5,1673.5 807,1677.5 811.5,1739.8 816,1715.1 820.5,1711.8 825,1721.4 829.5,1695.4 834,1705.7 838.5,1696.9 843,1685 847.5,1675.4 852,1643.7 856.5,1646.7 861,1665.3 865.5,1700 870,1695.4 874.5,1683.2 879,1690.3 883.5,1723.9 888,1704.9 892.5,1739.3 897,1703.6 901.5,1698.2 906,1749.7 910.5,1763.7 915,1739.4 919.5,1755.8 924,1758.8 928.5,1801.9 933,1819.3 937.5,1801.4 942,1828.5 946.5,1832 951,1842.4 955.5,1858.7 960,1852.9 964.5,1878.5 969,1892.8 973.5,1898 978,1913.7 982.5,1897.6 987,1855.3 991.5,1868.9 996,1896.1 1000.5,1896 1005,1901.5 1009.5,1905.7 1014,1887.1 1018.5,1874.8 1023,1847 1027.5,1880.3 1032,1867 1036.5,1828.5 1041,1814.6 1045.5,1816.9 1050,1834.9 1054.5,1860.2 1059,1810.2 1063.5,1826.1 1068,1852.1 1072.5,1862.6 1077,1862.3 1081.5,1842.3 1086,1864.3 1090.5,1859.5 1095,1816.1 1099.5,1851.5 1104,1883 1108.5,1935.6 1113,1965.9 1117.5,1945.8 1122,1974.7 1126.5,2002.7 1131,1987.4 1135.5,1979.2 1140,2036 1144.5,2074.1 1149,2076.5 1153.5,2041.2 1158,2091.2 1162.5,2112.4 1167,2111.4 1171.5,2127.5 1176,2123.3 1180.5,2152.4 1185,2157.8 1189.5,2148.6 1194,2161.1 1198.5,2163.1 1203,2138.4 1207.5,2152.3 1212,2156.8 1216.5,2134.9 1221,2144.5 1225.5,2167.8 1230,2159.1 1234.5,2178.2 1239,2189.6 1243.5,2170 1248,2170.6 1252.5,2188.8 1257,2170.8 1261.5,2150.2 1266,2154 1270.5,2142.3 1275,2136.8 1279.5,2160.7 1284,2160.6 1288.5,2166.5 1293,2171.6 1297.5,2156.8 1302,2157.9 1306.5,2160.3 1311,2153.8 1315.5,2148.8 1320,2165.5 1324.5,2165.6 1329,2168.7 1333.5,2177.5 1338,2180.4 1342.5,2155.3 1347,2146.2 1351.5,2157 1356,2166.4 1360.5,2176.4 1365,2157.4 1369.5,2153.9 1374,2167.2 1378.5,2180 1383,2185.6 1387.5,2159.7 1392,2157.3 1396.5,2153.1 1401,2172.2 1405.5,2174.9 1410,2164.2 1414.5,2155.5 1419,2167.6 1423.5,2178.3 1428,2161.4 1432.5,2157.6 1437,2167 1441.5,2168 1446,2170.9 1450.5,2154.3" fill="none" stroke="#111" stroke-width="3.6" stroke-linejoin="round" />
<g fill-opacity="0.45">
<polygon points="438.5,2169.2 441.5,2169.1 444.5,2169 447.5,2168.9 450.5,2168.8 453.5,2168.7 456.5,2168.6 459.5,2168.4 462.5,2168.2 465.5,2168 468.5,2167.7 471.5,2167.4 474.5,2167 477.5,2166.6 480.5,2166.1 483.5,2165.6 486.5,2165 489.5,2164.3 492.5,2163.5 495.5,2162.6 498.5,2161.6 501.5,2160.5 504.5,2159.2 507.5,2157.8 510.5,2156.3 513.5,2154.6 516.5,2152.7 519.5,2150.6 522.5,2148.4 525.5,2145.9 528.5,2143.2 531.5,2140.3 534.5,2137.1 537.5,2133.7 540.5,2130 543.5,2126.1 546.5,2121.9 549.5,2117.4 552.5,2112.6 555.5,2107.6 558.5,2102.3 561.5,2096.7 564.5,2090.9 567.5,2084.8 570.5,2078.5 573.5,2072 576.5,2065.3 579.5,2058.3 582.5,2051.3 585.5,2044.1 588.5,2036.7 591.5,2029.3 594.5,2021.9 597.5,2014.5 600.5,2007.1 603.5,1999.7 606.5,1992.4 609.5,1985.3 612.5,1978.4 615.5,1971.7 618.5,1965.2 621.5,1959 624.5,1953.2 627.5,1947.7 630.5,1942.6 633.5,1937.9 636.5,1933.7 639.5,1929.9 642.5,1926.6 645.5,1923.8 648.5,1921.6 651.5,1919.8 654.5,1918.5 657.5,1917.8 660.5,1917.5 663.5,1917.7 666.5,1918.5 669.5,1920.1 669.5,1923.6 666.5,1940.2 663.5,1956.7 660.5,1973 657.5,1988.9 654.5,2004.4 651.5,2019.3 648.5,2033.6 645.5,2047.2 642.5,2060 639.5,2072 636.5,2083.2 633.5,2093.5 630.5,2103 627.5,2111.6 624.5,2119.4 621.5,2126.5 618.5,2132.7 615.5,2138.3 612.5,2143.1 609.5,2147.4 606.5,2151.1 603.5,2152.5 600.5,2153.7 597.5,2154.8 594.5,2155.8 591.5,2156.8 588.5,2157.8 585.5,2158.6 582.5,2159.5 579.5,2160.2 576.5,2160.9 573.5,2161.6 570.5,2162.2 567.5,2162.8 564.5,2163.4 561.5,2163.9 558.5,2164.3 555.5,2164.8 552.5,2165.2 549.5,2165.6 546.5,2165.9 543.5,2166.2 540.5,2166.5 537.5,2166.8 534.5,2167 531.5,2167.3 528.5,2167.5 525.5,2167.7 522.5,2167.8 519.5,2168 516.5,2168.1 513.5,2168.3 510.5,2168.4 507.5,2168.5 504.5,2168.6 501.5,2168.7 498.5,2168.8 495.5,2168.9 492.5,2168.9 489.5,2169 486.5,2169 483.5,2169.1 480.5,2169.1 477.5,2169.2 474.5,2169.5 471.5,2169.5 468.5,2169.5 465.5,2169.5 462.5,2169.5 459.5,2169.5 456.5,2169.5 453.5,2169.5 450.5,2169.5 447.5,2169.5 444.5,2169.5 441.5,2169.5 438.5,2169.5" fill="#ffc0ff"/>
<polygon points="670.5,1918 673.5,1901.5 676.5,1885.1 679.5,1869 682.5,1853.5 685.5,1838.5 688.5,1824.1 691.5,1810.6 694.5,1798 697.5,1786.3 700.5,1775.7 703.5,1766.1 706.5,1757.7 709.5,1750.4 712.5,1744.2 715.5,1739.1 718.5,1735 721.5,1731.9 724.5,1729.7 727.5,1728.4 730.5,1727.7 733.5,1727.5 736.5,1727.6 739.5,1728.2 742.5,1729.4 745.5,1731.6 748.5,1734.7 751.5,1738.9 754.5,1744.3 757.5,1750.9 760.5,1758.7 763.5,1767.8 766.5,1778.1 769.5,1789.6 772.5,1802.2 773.5,1806.6 773.5,1808.7 770.5,1817.8 767.5,1827.1 764.5,1836.6 761.5,1846.3 758.5,1856.1 755.5,1866.1 752.5,1876.2 749.5,1886.3 746.5,1896.5 743.5,1906.8 740.5,1917 737.5,1927.2 734.5,1937.4 731.5,1947.5 728.5,1957.5 725.5,1967.3 722.5,1977 719.5,1986.6 716.5,1995.9 713.5,2005.1 710.5,2002 707.5,1993.4 704.5,1985 701.5,1976.8 698.5,1969 695.5,1961.5 692.5,1954.5 689.5,1947.9 686.5,1941.9 683.5,1936.5 680.5,1931.8 677.5,1927.6 674.5,1924.2 671.5,1921.5 670.5,1920.7" fill="#a6ffff"/>
<polygon points="774.5,1805.7 777.5,1797 780.5,1788.6 783.5,1780.4 786.5,1772.6 789.5,1765.1 792.5,1758 795.5,1751.2 798.5,1744.8 801.5,1738.8 804.5,1733.1 807.5,1727.9 810.5,1723.1 813.5,1718.6 816.5,1714.6 819.5,1710.9 822.5,1707.7 825.5,1704.8 828.5,1702.3 831.5,1700.1 834.5,1698.3 837.5,1696.8 840.5,1695.7 843.5,1694.8 846.5,1694.1 849.5,1693.8 852.5,1693.6 855.5,1693.5 858.5,1693.5 861.5,1693.7 864.5,1694.2 867.5,1694.9 870.5,1696 873.5,1697.5 876.5,1699.4 879.5,1701.7 882.5,1704.5 885.5,1707.8 888.5,1711.5 891.5,1715.8 894.5,1720.6 897.5,1725.9 900.5,1731.7 903.5,1738 906.5,1744.9 909.5,1752.2 912.5,1760 915.5,1768.3 918.5,1777 921.5,1786.2 924.5,1795.7 927.5,1805.6 930.5,1815.9 933.5,1826.4 936.5,1837.3 939.5,1848.3 942.5,1859.6 945.5,1871 948.5,1882.6 951.5,1894.2 954.5,1905.8 957.5,1917.5 960.5,1929.1 963.5,1940.7 966.5,1952.1 969.5,1963.4 972.5,1974.6 975.5,1985.5 978.5,1996.2 981.5,2006.6 984.5,2016.7 987.5,2026.5 989.5,2032.9 989.5,2033.4 986.5,2042.5 983.5,2051.3 980.5,2059.9 977.5,2068.2 974.5,2076.1 971.5,2083.7 968.5,2091 965.5,2097.8 962.5,2104.3 959.5,2110.4 956.5,2116.1 953.5,2121.4 950.5,2126.3 947.5,2130.9 944.5,2135 941.5,2138.9 938.5,2142.4 935.5,2145.6 932.5,2144.1 929.5,2142.3 926.5,2140.3 923.5,2138.3 920.5,2136.1 917.5,2133.9 914.5,2131.5 911.5,2129.1 908.5,2126.5 905.5,2123.9 902.5,2121.1 899.5,2118.3 896.5,2115.4 893.5,2112.3 890.5,2109.2 887.5,2106.1 884.5,2102.8 881.5,2099.5 878.5,2096.1 875.5,2092.7 872.5,2089.2 869.5,2085.7 866.5,2082.2 863.5,2078.6 860.5,2075 857.5,2071.5 854.5,2067.9 851.5,2064.3 848.5,2060.8 845.5,2057.4 842.5,2054 839.5,2050.6 836.5,2047.4 833.5,2044.2 830.5,2041.1 827.5,2038.2 824.5,2035.4 821.5,2032.7 818.5,2030.2 815.5,2027.8 812.5,2019.9 809.5,2004.2 806.5,1987.9 803.5,1971.1 800.5,1953.9 797.5,1936.5 794.5,1919 791.5,1901.6 788.5,1884.4 785.5,1867.5 782.5,1851.2 779.5,1835.5 776.5,1820.6 774.5,1811.2" fill="#ffffb9"/>
<polygon points="990.5,2030.3 993.5,2021 996.5,2011.5 999.5,2001.9 1002.5,1992.3 1005.5,1982.6 1008.5,1973 1011.5,1963.5 1014.5,1954.2 1017.5,1945 1020.5,1936.2 1023.5,1927.6 1026.5,1919.4 1029.5,1911.5 1032.5,1904.2 1035.5,1897.3 1038.5,1890.9 1041.5,1885.1 1044.5,1879.8 1047.5,1875.1 1050.5,1871 1053.5,1867.5 1056.5,1864.7 1059.5,1862.4 1062.5,1860.6 1065.5,1859.5 1068.5,1858.8 1071.5,1858.5 1074.5,1858.6 1077.5,1859.4 1080.5,1861.1 1083.5,1863.7 1086.5,1867.5 1089.5,1872.3 1092.5,1878.3 1095.5,1885.3 1098.5,1893.4 1101.5,1902.4 1104.5,1912.4 1107.5,1923.1 1110.5,1934.5 1113.5,1946.6 1116.5,1959.1 1119.5,1971.9 1122.5,1984.9 1125.5,1997.9 1128.5,2010.9 1131.5,2023.7 1134.5,2036.3 1137.5,2048.4 1140.5,2060.1 1143.5,2071.2 1146.5,2081.7 1149.5,2091.5 1152.5,2100.7 1155.5,2109.1 1158.5,2116.8 1161.5,2123.9 1164.5,2130.2 1167.5,2135.9 1170.5,2140.9 1173.5,2145.3 1176.5,2149.2 1179.5,2152.6 1182.5,2155.5 1185.5,2157.9 1188.5,2160 1191.5,2161.8 1194.5,2163.3 1197.5,2164.5 1200.5,2165.5 1203.5,2166.4 1206.5,2167 1209.5,2167.6 1212.5,2168 1215.5,2168.4 1218.5,2168.6 1221.5,2168.8 1224.5,2169 1227.5,2169.1 1229.5,2169.2 1229.5,2169.5 1226.5,2169.5 1223.5,2169.5 1220.5,2169.5 1217.5,2169.5 1214.5,2169.5 1211.5,2169.5 1208.5,2169.5 1205.5,2169.5 1202.5,2169.5 1199.5,2169.5 1196.5,2169.5 1193.5,2169.5 1190.5,2169.5 1187.5,2169.5 1184.5,2169.5 1181.5,2169.5 1178.5,2169.5 1175.5,2169.5 1172.5,2169.5 1169.5,2169.5 1166.5,2169.5 1163.5,2169.5 1160.5,2169.5 1157.5,2169.5 1154.5,2169.5 1151.5,2169.5 1148.5,2169.5 1145.5,2169.5 1142.5,2169.5 1139.5,2169.5 1136.5,2169.5 1133.5,2169.5 1130.5,2169.2 1127.5,2169.1 1124.5,2169 1121.5,2169 1118.5,2168.8 1115.5,2168.7 1112.5,2168.6 1109.5,2168.4 1106.5,2168.2 1103.5,2167.9 1100.5,2167.6 1097.5,2167.3 1094.5,2166.9 1091.5,2166.4 1088.5,2165.9 1085.5,2165.3 1082.5,2164.6 1079.5,2163.9 1076.5,2163 1073.5,2162 1070.5,2160.8 1067.5,2159.6 1064.5,2158.2 1061.5,2156.6 1058.5,2154.8 1055.5,2152.8 1052.5,2150.7 1049.5,2148.3 1046.5,2145.6 1043.5,2142.7 1040.5,2139.6 1037.5,2136.1 1034.5,2132.3 1031.5,2128.3 1028.5,2123.9 1025.5,2119.1 1022.5,2114 1019.5,2108.5 1016.5,2102.7 1013.5,2096.5 1010.5,2089.9 1007.5,2082.9 1004.5,2075.5 1001.5,2067.7 998.5,2059.5 995.5,2051 992.5,2042.1 990.5,2036" fill="#bebeff"/>
<polygon points="476.5,2169.2 479.5,2169.1 482.5,2169.1 485.5,2169.1 488.5,2169 491.5,2168.9 494.5,2168.9 497.5,2168.8 500.5,2168.7 503.5,2168.6 506.5,2168.5 509.5,2168.4 512.5,2168.3 515.5,2168.2 518.5,2168 521.5,2167.9 524.5,2167.7 527.5,2167.5 530.5,2167.3 533.5,2167.1 536.5,2166.9 539.5,2166.6 542.5,2166.3 545.5,2166 548.5,2165.7 551.5,2165.3 554.5,2164.9 557.5,2164.5 560.5,2164 563.5,2163.5 566.5,2163 569.5,2162.4 572.5,2161.8 575.5,2161.2 578.5,2160.5 581.5,2159.7 584.5,2158.9 587.5,2158.1 590.5,2157.1 593.5,2156.2 596.5,2155.2 599.5,2154.1 602.5,2152.9 605.5,2151.7 605.5,2152.2 602.5,2155.2 599.5,2157.7 596.5,2159.9 593.5,2161.7 590.5,2163.3 587.5,2164.5 584.5,2165.5 581.5,2166.4 578.5,2167.1 575.5,2167.6 572.5,2168 569.5,2168.2 566.5,2168.4 563.5,2168.6 560.5,2168.7 557.5,2168.8 554.5,2168.9 551.5,2169 548.5,2169.1 545.5,2169.2 542.5,2169.5 539.5,2169.5 536.5,2169.5 533.5,2169.5 530.5,2169.5 527.5,2169.5 524.5,2169.5 521.5,2169.5 518.5,2169.5 515.5,2169.5 512.5,2169.5 509.5,2169.5 506.5,2169.5 503.5,2169.5 500.5,2169.5 497.5,2169.5 494.5,2169.5 491.5,2169.5 488.5,2169.5 485.5,2169.5 482.5,2169.5 479.5,2169.5 476.5,2169.5" fill="#ff66b8"/>
<polygon points="606.5,2151.1 609.5,2147.4 612.5,2143.1 615.5,2138.3 618.5,2132.7 621.5,2126.5 624.5,2119.4 627.5,2111.6 630.5,2103 633.5,2093.5 636.5,2083.2 639.5,2072 642.5,2060 645.5,2047.2 648.5,2033.6 651.5,2019.3 654.5,2004.4 657.5,1988.9 660.5,1973 663.5,1956.7 666.5,1940.2 669.5,1923.6 672.5,1922.3 675.5,1925.3 678.5,1928.9 681.5,1933.3 684.5,1938.3 687.5,1943.9 690.5,1950.1 693.5,1956.8 696.5,1964 699.5,1971.5 702.5,1979.5 705.5,1987.7 708.5,1996.2 711.5,2004.8 712.5,2007.8 712.5,2008.1 709.5,2017 706.5,2025.6 703.5,2034 700.5,2042.1 697.5,2049.9 694.5,2057.4 691.5,2064.7 688.5,2071.7 685.5,2078.3 682.5,2084.7 679.5,2090.8 676.5,2096.6 673.5,2102 670.5,2106.8 667.5,2109.6 664.5,2112.4 661.5,2115.1 658.5,2117.8 655.5,2120.3 652.5,2122.8 649.5,2125.2 646.5,2127.6 643.5,2129.9 640.5,2132 637.5,2134.1 634.5,2136.2 631.5,2138.1 628.5,2140 625.5,2141.8 622.5,2143.5 619.5,2145.1 616.5,2146.6 613.5,2148.1 610.5,2149.5 607.5,2150.8 606.5,2151.3" fill="#dfa5ff"/>
<polygon points="713.5,2005.1 716.5,1995.9 719.5,1986.6 722.5,1977 725.5,1967.3 728.5,1957.5 731.5,1947.5 734.5,1937.4 737.5,1927.2 740.5,1917 743.5,1906.8 746.5,1896.5 749.5,1886.3 752.5,1876.2 755.5,1866.1 758.5,1856.1 761.5,1846.3 764.5,1836.6 767.5,1827.1 770.5,1817.8 773.5,1808.7 776.5,1820.6 779.5,1835.5 782.5,1851.2 785.5,1867.5 788.5,1884.4 791.5,1901.6 794.5,1919 797.5,1936.5 800.5,1953.9 803.5,1971.1 806.5,1987.9 809.5,2004.2 812.5,2019.9 813.5,2025 813.5,2026.4 810.5,2024.3 807.5,2022.4 804.5,2020.8 801.5,2019.3 798.5,2018.1 795.5,2017.1 792.5,2016.3 789.5,2015.8 786.5,2015.5 783.5,2015.5 780.5,2015.8 777.5,2016.2 774.5,2016.8 771.5,2017.6 768.5,2018.6 765.5,2019.8 762.5,2021.2 759.5,2022.7 756.5,2024.4 753.5,2026.3 750.5,2028.3 747.5,2030.4 744.5,2032.7 741.5,2035.1 738.5,2037.6 735.5,2040.2 732.5,2042.9 729.5,2045.8 726.5,2048.4 723.5,2039.8 720.5,2031.1 717.5,2022.4 714.5,2013.6 713.5,2010.7" fill="#5af5c8"/>
<polygon points="814.5,2027.1 817.5,2029.4 820.5,2031.8 823.5,2034.5 826.5,2037.2 829.5,2040.1 832.5,2043.2 835.5,2046.3 838.5,2049.5 841.5,2052.8 844.5,2056.2 847.5,2059.7 850.5,2063.2 853.5,2066.7 856.5,2070.3 859.5,2073.8 862.5,2077.4 865.5,2081 868.5,2084.5 871.5,2088.1 874.5,2091.5 877.5,2095 880.5,2098.4 883.5,2101.7 886.5,2105 889.5,2108.2 892.5,2111.3 895.5,2114.4 898.5,2117.3 901.5,2120.2 904.5,2123 907.5,2125.6 910.5,2128.2 913.5,2130.7 916.5,2133.1 919.5,2135.4 922.5,2137.6 925.5,2139.6 928.5,2141.6 931.5,2143.5 934.5,2145.3 934.5,2146.6 931.5,2149.4 928.5,2151.9 925.5,2154.1 922.5,2156.2 919.5,2157.9 916.5,2159.5 913.5,2160.9 910.5,2162.2 907.5,2163.2 904.5,2164.2 901.5,2165 898.5,2165.7 895.5,2166.3 892.5,2166.8 889.5,2167.3 886.5,2167.6 883.5,2167.4 880.5,2166.8 877.5,2166 874.5,2165 871.5,2163.8 868.5,2162.3 865.5,2160.5 862.5,2158.3 859.5,2155.7 856.5,2152.7 853.5,2149 850.5,2144.8 847.5,2139.9 844.5,2134.3 841.5,2127.9 838.5,2120.7 835.5,2112.6 832.5,2103.5 829.5,2093.6 826.5,2082.7 823.5,2070.9 820.5,2058.1 817.5,2044.5 814.5,2030" fill="#ffcd64"/>
<polygon points="935.5,2145.6 938.5,2142.4 941.5,2138.9 944.5,2135 947.5,2130.9 950.5,2126.3 953.5,2121.4 956.5,2116.1 959.5,2110.4 962.5,2104.3 965.5,2097.8 968.5,2091 971.5,2083.7 974.5,2076.1 977.5,2068.2 980.5,2059.9 983.5,2051.3 986.5,2042.5 989.5,2033.4 992.5,2042.1 995.5,2051 998.5,2059.5 1001.5,2067.7 1004.5,2075.5 1007.5,2082.9 1010.5,2089.9 1013.5,2096.5 1016.5,2102.7 1019.5,2108.5 1022.5,2114 1025.5,2119.1 1028.5,2123.9 1031.5,2128.3 1034.5,2132.3 1037.5,2136.1 1040.5,2139.6 1043.5,2142.7 1046.5,2145.6 1049.5,2148.3 1052.5,2150.7 1055.5,2152.8 1058.5,2154.8 1061.5,2156.6 1064.5,2158.2 1067.5,2159.6 1070.5,2160.8 1073.5,2162 1076.5,2163 1079.5,2163.9 1082.5,2164.6 1085.5,2165.3 1088.5,2165.9 1091.5,2166.4 1094.5,2166.9 1097.5,2167.3 1100.5,2167.6 1103.5,2167.9 1106.5,2168.2 1109.5,2168.4 1112.5,2168.6 1115.5,2168.7 1118.5,2168.8 1121.5,2169 1124.5,2169 1127.5,2169.1 1130.5,2169.2 1130.5,2169.5 1127.5,2169.5 1124.5,2169.5 1121.5,2169.5 1118.5,2169.5 1115.5,2169.5 1112.5,2169.5 1109.5,2169.5 1106.5,2169.5 1103.5,2169.5 1100.5,2169.5 1097.5,2169.5 1094.5,2169.5 1091.5,2169.5 1088.5,2169.5 1085.5,2169.5 1082.5,2169.5 1079.5,2169.5 1076.5,2169.5 1073.5,2169.5 1070.5,2169.5 1067.5,2169.5 1064.5,2169.5 1061.5,2169.2 1058.5,2169.1 1055.5,2169.1 1052.5,2169 1049.5,2168.9 1046.5,2168.9 1043.5,2168.8 1040.5,2168.7 1037.5,2168.6 1034.5,2168.5 1031.5,2168.4 1028.5,2168.2 1025.5,2168.1 1022.5,2167.9 1019.5,2167.7 1016.5,2167.5 1013.5,2167.3 1010.5,2167 1007.5,2166.7 1004.5,2166.4 1001.5,2166.1 998.5,2165.7 995.5,2165.3 992.5,2164.9 989.5,2164.4 986.5,2163.9 983.5,2163.3 980.5,2162.7 977.5,2162.1 974.5,2161.4 971.5,2160.6 968.5,2159.8 965.5,2158.9 962.5,2157.9 959.5,2156.9 956.5,2155.8 953.5,2154.6 950.5,2153.4 947.5,2152.1 944.5,2150.7 941.5,2149.2 938.5,2147.6 935.5,2145.9" fill="#dadab2"/>
<polygon points="543.5,2169.2 546.5,2169.1 549.5,2169.1 552.5,2169 555.5,2168.9 558.5,2168.8 561.5,2168.7 564.5,2168.5 567.5,2168.4 570.5,2168.2 572.5,2168 572.5,2168 569.5,2168.4 566.5,2168.6 563.5,2168.9 560.5,2169 557.5,2169.1 554.5,2169.5 551.5,2169.5 548.5,2169.5 545.5,2169.5 543.5,2169.5" fill="#ff66b8"/>
<polygon points="573.5,2167.9 576.5,2167.4 579.5,2166.8 582.5,2166.1 585.5,2165.2 588.5,2164.1 591.5,2162.8 594.5,2161.2 597.5,2159.2 600.5,2156.9 603.5,2154.2 606.5,2151.3 609.5,2150 612.5,2148.6 615.5,2147.1 618.5,2145.6 621.5,2144 624.5,2142.3 627.5,2140.6 630.5,2138.7 633.5,2136.8 636.5,2134.8 639.5,2132.7 642.5,2130.6 645.5,2128.4 648.5,2126 651.5,2123.6 654.5,2121.2 657.5,2118.6 660.5,2116 663.5,2113.3 666.5,2110.5 669.5,2107.7 670.5,2106.8 670.5,2107.2 667.5,2112.1 664.5,2116.7 661.5,2121.1 658.5,2125.1 655.5,2128.9 652.5,2132.5 649.5,2135.8 646.5,2138.9 643.5,2141.7 640.5,2144.4 637.5,2146.8 634.5,2149 631.5,2151.1 628.5,2153 625.5,2154.7 622.5,2156.3 619.5,2157.7 616.5,2159 613.5,2160.2 610.5,2161.2 607.5,2162.2 604.5,2163 601.5,2163.8 598.5,2164.5 595.5,2165.1 592.5,2165.7 589.5,2166.2 586.5,2166.6 583.5,2167 580.5,2167.3 577.5,2167.6 574.5,2167.9 573.5,2167.9" fill="#ff66b8"/>
<polygon points="671.5,2105.5 674.5,2100.2 677.5,2094.7 680.5,2088.8 683.5,2082.6 686.5,2076.2 689.5,2069.4 692.5,2062.3 695.5,2055 698.5,2047.3 701.5,2039.4 704.5,2031.2 707.5,2022.7 710.5,2014 713.5,2010.7 716.5,2019.4 719.5,2028.2 722.5,2036.9 725.5,2045.6 726.5,2048.4 726.5,2048.6 723.5,2051.6 720.5,2054.6 717.5,2057.7 714.5,2060.8 711.5,2064 708.5,2067.2 705.5,2070.4 702.5,2073.6 699.5,2076.8 696.5,2080.1 693.5,2083.3 690.5,2086.5 687.5,2089.6 684.5,2092.7 681.5,2095.8 678.5,2098.9 675.5,2101.9 672.5,2104.8 671.5,2105.8" fill="#e2aaf5"/>
<polygon points="727.5,2047.7 730.5,2044.8 733.5,2042 736.5,2039.3 739.5,2036.8 742.5,2034.3 745.5,2031.9 748.5,2029.7 751.5,2027.6 754.5,2025.6 757.5,2023.8 760.5,2022.2 763.5,2020.7 766.5,2019.4 769.5,2018.3 772.5,2017.3 775.5,2016.6 778.5,2016 781.5,2015.7 784.5,2015.5 787.5,2015.6 790.5,2016 793.5,2016.6 796.5,2017.4 799.5,2018.5 802.5,2019.8 805.5,2021.3 808.5,2023 811.5,2025 814.5,2030 817.5,2044.5 820.5,2058.1 823.5,2070.9 826.5,2082.7 829.5,2093.6 832.5,2103.5 835.5,2112.6 838.5,2120.7 841.5,2127.9 844.5,2134.3 847.5,2139.9 850.5,2144.8 853.5,2149 856.5,2152.7 859.5,2155.7 862.5,2158.3 865.5,2160.5 868.5,2162.3 871.5,2163.8 874.5,2165 877.5,2166 880.5,2166.8 883.5,2167.4 885.5,2167.8 885.5,2167.8 882.5,2168.1 879.5,2168.3 876.5,2168.5 873.5,2168.7 870.5,2168.8 867.5,2169 864.5,2169.1 861.5,2169.2 858.5,2169.5 855.5,2169.5 852.5,2169.5 849.5,2169.2 846.5,2169.1 843.5,2169 840.5,2168.9 837.5,2168.8 834.5,2168.6 831.5,2168.4 828.5,2168.1 825.5,2167.8 822.5,2167.5 819.5,2167.1 816.5,2166.6 813.5,2166 810.5,2165.4 807.5,2164.6 804.5,2163.7 801.5,2162.7 798.5,2161.5 795.5,2160.2 792.5,2158.6 789.5,2156.9 786.5,2155 783.5,2152.8 780.5,2150.3 777.5,2147.6 774.5,2144.5 771.5,2141.2 768.5,2137.5 765.5,2133.5 762.5,2129.1 759.5,2124.3 756.5,2119.2 753.5,2113.7 750.5,2107.8 747.5,2101.5 744.5,2094.9 741.5,2087.9 738.5,2080.6 735.5,2072.9 732.5,2065 729.5,2056.8 727.5,2051.2" fill="#c8c369"/>
<polygon points="886.5,2167.6 889.5,2167.3 892.5,2166.8 895.5,2166.3 898.5,2165.7 901.5,2165 904.5,2164.2 907.5,2163.2 910.5,2162.2 913.5,2160.9 916.5,2159.5 919.5,2157.9 922.5,2156.2 925.5,2154.1 928.5,2151.9 931.5,2149.4 934.5,2146.6 937.5,2147 940.5,2148.6 943.5,2150.2 946.5,2151.6 949.5,2153 952.5,2154.2 955.5,2155.4 958.5,2156.5 961.5,2157.6 964.5,2158.6 967.5,2159.5 970.5,2160.3 973.5,2161.1 976.5,2161.8 979.5,2162.5 982.5,2163.1 985.5,2163.7 988.5,2164.2 991.5,2164.7 994.5,2165.2 997.5,2165.6 1000.5,2166 1003.5,2166.3 1006.5,2166.6 1009.5,2166.9 1012.5,2167.2 1015.5,2167.4 1018.5,2167.6 1021.5,2167.8 1024.5,2168 1027.5,2168.2 1030.5,2168.3 1033.5,2168.4 1036.5,2168.6 1039.5,2168.7 1042.5,2168.8 1045.5,2168.9 1048.5,2168.9 1051.5,2169 1054.5,2169.1 1057.5,2169.1 1060.5,2169.2 1063.5,2169.2 1063.5,2169.5 1060.5,2169.5 1057.5,2169.5 1054.5,2169.5 1051.5,2169.5 1048.5,2169.5 1045.5,2169.5 1042.5,2169.5 1039.5,2169.5 1036.5,2169.5 1033.5,2169.5 1030.5,2169.5 1027.5,2169.5 1024.5,2169.5 1021.5,2169.5 1018.5,2169.5 1015.5,2169.5 1012.5,2169.5 1009.5,2169.5 1006.5,2169.5 1003.5,2169.5 1000.5,2169.5 997.5,2169.5 994.5,2169.5 991.5,2169.5 988.5,2169.5 985.5,2169.5 982.5,2169.5 979.5,2169.5 976.5,2169.5 973.5,2169.5 970.5,2169.5 967.5,2169.5 964.5,2169.5 961.5,2169.5 958.5,2169.5 955.5,2169.5 952.5,2169.5 949.5,2169.5 946.5,2169.5 943.5,2169.5 940.5,2169.5 937.5,2169.5 934.5,2169.5 931.5,2169.5 928.5,2169.5 925.5,2169.5 922.5,2169.5 919.5,2169.5 916.5,2169.5 913.5,2169.5 910.5,2169.5 907.5,2169.5 904.5,2169.5 901.5,2169.1 898.5,2169 895.5,2168.8 892.5,2168.6 889.5,2168.3 886.5,2167.9" fill="#facd82"/>
<polygon points="556.5,2169.2 559.5,2169.1 562.5,2168.9 565.5,2168.7 568.5,2168.5 571.5,2168.2 574.5,2167.9 577.5,2167.6 580.5,2167.3 583.5,2167 586.5,2166.6 589.5,2166.2 592.5,2165.7 595.5,2165.1 598.5,2164.5 601.5,2163.8 604.5,2163 607.5,2162.2 610.5,2161.2 613.5,2160.2 616.5,2159 619.5,2157.7 622.5,2156.3 625.5,2154.7 628.5,2153 631.5,2151.1 634.5,2149 637.5,2146.8 640.5,2144.4 643.5,2141.7 646.5,2138.9 649.5,2135.8 652.5,2132.5 655.5,2128.9 658.5,2125.1 661.5,2121.1 664.5,2116.7 667.5,2112.1 670.5,2107.2 673.5,2103.9 676.5,2100.9 679.5,2097.9 682.5,2094.8 685.5,2091.7 688.5,2088.6 691.5,2085.4 694.5,2082.2 697.5,2079 700.5,2075.8 703.5,2072.5 706.5,2069.3 709.5,2066.1 712.5,2062.9 715.5,2059.8 718.5,2056.7 721.5,2053.6 724.5,2050.6 727.5,2051.2 730.5,2059.6 733.5,2067.7 736.5,2075.5 739.5,2083.1 742.5,2090.3 745.5,2097.2 748.5,2103.7 751.5,2109.8 754.5,2115.6 757.5,2121 760.5,2126 763.5,2130.6 766.5,2134.9 769.5,2138.8 772.5,2142.3 775.5,2145.6 778.5,2148.5 781.5,2151.2 784.5,2153.5 787.5,2155.6 790.5,2157.5 793.5,2159.2 796.5,2160.6 799.5,2161.9 802.5,2163.1 805.5,2164 808.5,2164.9 811.5,2165.6 814.5,2166.2 817.5,2166.8 820.5,2167.2 823.5,2167.6 826.5,2167.9 829.5,2168.2 832.5,2168.4 835.5,2168.6 838.5,2168.8 841.5,2168.9 844.5,2169 847.5,2169.1 849.5,2169.2 849.5,2169.5 846.5,2169.5 843.5,2169.5 840.5,2169.5 837.5,2169.5 834.5,2169.5 831.5,2169.5 828.5,2169.5 825.5,2169.5 822.5,2169.5 819.5,2169.5 816.5,2169.5 813.5,2169.5 810.5,2169.5 807.5,2169.5 804.5,2169.5 801.5,2169.5 798.5,2169.5 795.5,2169.5 792.5,2169.5 789.5,2169.5 786.5,2169.5 783.5,2169.5 780.5,2169.5 777.5,2169.5 774.5,2169.5 771.5,2169.5 768.5,2169.5 765.5,2169.5 762.5,2169.5 759.5,2169.5 756.5,2169.5 753.5,2169.5 750.5,2169.5 747.5,2169.5 744.5,2169.5 741.5,2169.5 738.5,2169.5 735.5,2169.5 732.5,2169.5 729.5,2169.5 726.5,2169.5 723.5,2169.5 720.5,2169.5 717.5,2169.5 714.5,2169.5 711.5,2169.5 708.5,2169.5 705.5,2169.5 702.5,2169.5 699.5,2169.5 696.5,2169.5 693.5,2169.5 690.5,2169.5 687.5,2169.5 684.5,2169.5 681.5,2169.5 678.5,2169.5 675.5,2169.5 672.5,2169.5 669.5,2169.5 666.5,2169.5 663.5,2169.5 660.5,2169.5 657.5,2169.5 654.5,2169.5 651.5,2169.5 648.5,2169.5 645.5,2169.5 642.5,2169.5 639.5,2169.5 636.5,2169.5 633.5,2169.5 630.5,2169.5 627.5,2169.5 624.5,2169.5 621.5,2169.5 618.5,2169.5 615.5,2169.5 612.5,2169.5 609.5,2169.5 606.5,2169.5 603.5,2169.5 600.5,2169.5 597.5,2169.5 594.5,2169.5 591.5,2169.5 588.5,2169.5 585.5,2169.5 582.5,2169.5 579.5,2169.5 576.5,2169.5 573.5,2169.5 570.5,2169.5 567.5,2169.5 564.5,2169.5 561.5,2169.5 558.5,2169.5 556.5,2169.5" fill="#ff66b8"/>
<polygon points="860.5,2169.2 863.5,2169.1 866.5,2169 869.5,2168.9 872.5,2168.8 875.5,2168.6 878.5,2168.4 881.5,2168.1 884.5,2167.9 887.5,2168 890.5,2168.4 893.5,2168.7 896.5,2168.9 899.5,2169 902.5,2169.2 902.5,2169.5 899.5,2169.5 896.5,2169.5 893.5,2169.5 890.5,2169.5 887.5,2169.5 884.5,2169.5 881.5,2169.5 878.5,2169.5 875.5,2169.5 872.5,2169.5 869.5,2169.5 866.5,2169.5 863.5,2169.5 860.5,2169.5" fill="#c8c369"/>
</g>
<rect x="188.5" y="1308" width="1264.5" height="917" fill="none" stroke="#111" stroke-width="3.2"/>
<line x1="1453.0" y1="2225.0" x2="1453.0" y2="2244.0" stroke="#111" stroke-width="3.2"/>
<line x1="1453.0" y1="1308.0" x2="1453.0" y2="1326.0" stroke="#111" stroke-width="3.2"/>
<text x="1453.0" y="2300.0" font-size="57.00" fill="#333" text-anchor="middle" stroke="#333" stroke-width="0.6" >96</text>
<line x1="1374.0" y1="2225.0" x2="1374.0" y2="2235.0" stroke="#111" stroke-width="3.2"/>
<line x1="1374.0" y1="1308.0" x2="1374.0" y2="1318.0" stroke="#111" stroke-width="3.2"/>
<line x1="1294.9" y1="2225.0" x2="1294.9" y2="2244.0" stroke="#111" stroke-width="3.2"/>
<line x1="1294.9" y1="1308.0" x2="1294.9" y2="1326.0" stroke="#111" stroke-width="3.2"/>
<text x="1294.9" y="2300.0" font-size="57.00" fill="#333" text-anchor="middle" stroke="#333" stroke-width="0.6" >98</text>
<line x1="1215.9" y1="2225.0" x2="1215.9" y2="2235.0" stroke="#111" stroke-width="3.2"/>
<line x1="1215.9" y1="1308.0" x2="1215.9" y2="1318.0" stroke="#111" stroke-width="3.2"/>
<line x1="1136.9" y1="2225.0" x2="1136.9" y2="2244.0" stroke="#111" stroke-width="3.2"/>
<line x1="1136.9" y1="1308.0" x2="1136.9" y2="1326.0" stroke="#111" stroke-width="3.2"/>
<text x="1136.9" y="2300.0" font-size="57.00" fill="#333" text-anchor="middle" stroke="#333" stroke-width="0.6" >100</text>
<line x1="1057.8" y1="2225.0" x2="1057.8" y2="2235.0" stroke="#111" stroke-width="3.2"/>
<line x1="1057.8" y1="1308.0" x2="1057.8" y2="1318.0" stroke="#111" stroke-width="3.2"/>
<line x1="978.8" y1="2225.0" x2="978.8" y2="2244.0" stroke="#111" stroke-width="3.2"/>
<line x1="978.8" y1="1308.0" x2="978.8" y2="1326.0" stroke="#111" stroke-width="3.2"/>
<text x="978.8" y="2300.0" font-size="57.00" fill="#333" text-anchor="middle" stroke="#333" stroke-width="0.6" >102</text>
<line x1="899.8" y1="2225.0" x2="899.8" y2="2235.0" stroke="#111" stroke-width="3.2"/>
<line x1="899.8" y1="1308.0" x2="899.8" y2="1318.0" stroke="#111" stroke-width="3.2"/>
<line x1="820.8" y1="2225.0" x2="820.8" y2="2244.0" stroke="#111" stroke-width="3.2"/>
<line x1="820.8" y1="1308.0" x2="820.8" y2="1326.0" stroke="#111" stroke-width="3.2"/>
<text x="820.8" y="2300.0" font-size="57.00" fill="#333" text-anchor="middle" stroke="#333" stroke-width="0.6" >104</text>
<line x1="741.7" y1="2225.0" x2="741.7" y2="2235.0" stroke="#111" stroke-width="3.2"/>
<line x1="741.7" y1="1308.0" x2="741.7" y2="1318.0" stroke="#111" stroke-width="3.2"/>
<line x1="662.7" y1="2225.0" x2="662.7" y2="2244.0" stroke="#111" stroke-width="3.2"/>
<line x1="662.7" y1="1308.0" x2="662.7" y2="1326.0" stroke="#111" stroke-width="3.2"/>
<text x="662.7" y="2300.0" font-size="57.00" fill="#333" text-anchor="middle" stroke="#333" stroke-width="0.6" >106</text>
<line x1="583.7" y1="2225.0" x2="583.7" y2="2235.0" stroke="#111" stroke-width="3.2"/>
<line x1="583.7" y1="1308.0" x2="583.7" y2="1318.0" stroke="#111" stroke-width="3.2"/>
<line x1="504.6" y1="2225.0" x2="504.6" y2="2244.0" stroke="#111" stroke-width="3.2"/>
<line x1="504.6" y1="1308.0" x2="504.6" y2="1326.0" stroke="#111" stroke-width="3.2"/>
<text x="504.6" y="2300.0" font-size="57.00" fill="#333" text-anchor="middle" stroke="#333" stroke-width="0.6" >108</text>
<line x1="425.6" y1="2225.0" x2="425.6" y2="2235.0" stroke="#111" stroke-width="3.2"/>
<line x1="425.6" y1="1308.0" x2="425.6" y2="1318.0" stroke="#111" stroke-width="3.2"/>
<line x1="346.6" y1="2225.0" x2="346.6" y2="2244.0" stroke="#111" stroke-width="3.2"/>
<line x1="346.6" y1="1308.0" x2="346.6" y2="1326.0" stroke="#111" stroke-width="3.2"/>
<text x="346.6" y="2300.0" font-size="57.00" fill="#333" text-anchor="middle" stroke="#333" stroke-width="0.6" >110</text>
<line x1="267.5" y1="2225.0" x2="267.5" y2="2235.0" stroke="#111" stroke-width="3.2"/>
<line x1="267.5" y1="1308.0" x2="267.5" y2="1318.0" stroke="#111" stroke-width="3.2"/>
<line x1="188.5" y1="2225.0" x2="188.5" y2="2244.0" stroke="#111" stroke-width="3.2"/>
<line x1="188.5" y1="1308.0" x2="188.5" y2="1326.0" stroke="#111" stroke-width="3.2"/>
<text x="188.5" y="2300.0" font-size="57.00" fill="#333" text-anchor="middle" stroke="#333" stroke-width="0.6" >112</text>
<line x1="829.0" y1="1358.4" x2="922.0" y2="1358.4" stroke="#303030" stroke-width="5.5"/>
<text x="933.0" y="1373.9" font-size="38.50" fill="#3a3a3a" text-anchor="start" stroke="#3a3a3a" stroke-width="0.6" letter-spacing="1.1">Experimental (as-deposited)</text>
<line x1="829.0" y1="1407.3" x2="922.0" y2="1407.3" stroke="#7a78b0" stroke-width="5.5"/>
<text x="933.0" y="1422.8" font-size="38.50" fill="#3a3a3a" text-anchor="start" stroke="#3a3a3a" stroke-width="0.6" letter-spacing="1.1">peak fitting-1</text>
<line x1="829.0" y1="1456.2" x2="922.0" y2="1456.2" stroke="#f0f090" stroke-width="5.5"/>
<text x="933.0" y="1471.7" font-size="38.50" fill="#3a3a3a" text-anchor="start" stroke="#3a3a3a" stroke-width="0.6" letter-spacing="1.1">peak fitting-2</text>
<line x1="829.0" y1="1505.1" x2="922.0" y2="1505.1" stroke="#40c070" stroke-width="5.5"/>
<text x="933.0" y="1520.6" font-size="38.50" fill="#3a3a3a" text-anchor="start" stroke="#3a3a3a" stroke-width="0.6" letter-spacing="1.1">cumulative peak fitting</text>
<line x1="933.0" y1="1561.4" x2="1026.0" y2="1561.4" stroke="#c06060" stroke-width="5.5"/>
<text x="1035.8" y="1576.9" font-size="38.50" fill="#3a3a3a" text-anchor="start" stroke="#3a3a3a" stroke-width="0.6" letter-spacing="1.1">Experimental (823 K)</text>
<line x1="933.0" y1="1610.2" x2="1026.0" y2="1610.2" stroke="#40d8e0" stroke-width="5.5"/>
<text x="1035.8" y="1625.7" font-size="38.50" fill="#3a3a3a" text-anchor="start" stroke="#3a3a3a" stroke-width="0.6" letter-spacing="1.1">peak fitting-1</text>
<line x1="933.0" y1="1659.0" x2="1026.0" y2="1659.0" stroke="#d8a868" stroke-width="5.5"/>
<text x="1035.8" y="1674.5" font-size="38.50" fill="#3a3a3a" text-anchor="start" stroke="#3a3a3a" stroke-width="0.6" letter-spacing="1.1">peak fitting-2</text>
<line x1="933.0" y1="1707.8" x2="1026.0" y2="1707.8" stroke="#d060c8" stroke-width="5.5"/>
<text x="1035.8" y="1723.3" font-size="38.50" fill="#3a3a3a" text-anchor="start" stroke="#3a3a3a" stroke-width="0.6" letter-spacing="1.1">peak fitting-3</text>
<line x1="933.0" y1="1756.6" x2="1026.0" y2="1756.6" stroke="#b8b8b8" stroke-width="5.5"/>
<text x="1035.8" y="1772.1" font-size="38.50" fill="#3a3a3a" text-anchor="start" stroke="#3a3a3a" stroke-width="0.6" letter-spacing="1.1">cumulative peak fitting</text>
<text x="40.5" y="1409.8" font-size="107.00" fill="#000" text-anchor="start" stroke="#000" stroke-width="0.6" >(b)</text>
<text x="276.2" y="1409.6" font-size="65.30" fill="#333" text-anchor="start" stroke="#333" stroke-width="0.6" >Si 2p</text>
<text transform="translate(122.8,1816.8) rotate(-90)" font-size="75" fill="#111" stroke="#111" stroke-width="0.6" text-anchor="middle">Intensity (a.u.)</text>
<text x="821.7" y="2395.7" font-size="73.90" fill="#111" text-anchor="middle" stroke="#111" stroke-width="0.6" >Binding energy (eV)</text>
<polygon points="204.5,3417.2 207.5,3417.2 210.5,3417.1 213.5,3417.1 216.5,3417.1 219.5,3417 222.5,3417 225.5,3416.9 228.5,3416.8 231.5,3416.8 234.5,3416.7 237.5,3416.6 240.5,3416.5 243.5,3416.4 246.5,3416.3 249.5,3416.2 252.5,3416.1 255.5,3416 258.5,3415.8 261.5,3415.7 264.5,3415.5 267.5,3415.3 270.5,3415.1 273.5,3414.9 276.5,3414.7 279.5,3414.5 282.5,3414.2 285.5,3413.9 288.5,3413.6 291.5,3413.3 294.5,3413 297.5,3412.6 300.5,3412.2 303.5,3411.8 306.5,3411.4 309.5,3410.9 312.5,3410.4 315.5,3409.9 318.5,3409.4 321.5,3408.8 324.5,3408.2 327.5,3407.5 330.5,3406.8 333.5,3406.1 336.5,3405.4 339.5,3404.6 342.5,3403.7 345.5,3402.8 348.5,3401.9 351.5,3400.9 354.5,3399.9 357.5,3398.9 360.5,3397.8 363.5,3396.6 366.5,3395.4 369.5,3394.2 372.5,3392.9 375.5,3391.5 378.5,3390.2 381.5,3388.7 384.5,3387.2 387.5,3385.7 390.5,3384.1 393.5,3382.5 396.5,3380.8 399.5,3379.1 402.5,3377.4 405.5,3375.6 408.5,3373.7 411.5,3371.8 414.5,3369.9 417.5,3368 420.5,3366 423.5,3364 426.5,3361.9 429.5,3359.8 432.5,3357.7 435.5,3355.6 438.5,3353.5 441.5,3351.3 444.5,3349.2 447.5,3347 450.5,3344.8 453.5,3342.6 456.5,3340.5 459.5,3338.3 462.5,3336.2 465.5,3334.1 468.5,3331.9 471.5,3329.9 474.5,3327.8 477.5,3325.8 480.5,3323.8 483.5,3321.9 486.5,3320 489.5,3318.2 492.5,3316.4 495.5,3314.7 498.5,3313.1 501.5,3311.5 504.5,3310 507.5,3308.6 510.5,3307.3 513.5,3306 516.5,3304.8 519.5,3303.8 522.5,3302.8 525.5,3301.9 528.5,3301.1 531.5,3300.4 533.5,3300 533.5,3417.5 204.5,3417.5" fill="#b9b9ff"/>
<polygon points="532.5,3301.3 535.5,3294.6 538.5,3287.6 541.5,3280.4 544.5,3272.9 547.5,3265.2 550.5,3257.3 553.5,3249.2 556.5,3240.9 559.5,3232.3 562.5,3223.6 565.5,3214.7 568.5,3205.6 571.5,3196.3 574.5,3186.9 577.5,3177.4 580.5,3167.8 583.5,3158.1 586.5,3148.3 589.5,3138.4 592.5,3128.6 595.5,3118.7 598.5,3108.8 601.5,3099 604.5,3089.2 607.5,3079.5 610.5,3069.9 613.5,3060.5 616.5,3051.2 619.5,3042.1 622.5,3033.2 625.5,3024.5 628.5,3016.1 631.5,3008 634.5,3000.2 637.5,2992.7 640.5,2985.5 643.5,2978.8 646.5,2972.5 649.5,2966.5 652.5,2961 655.5,2956 658.5,2951.5 661.5,2947.4 664.5,2943.8 667.5,2940.8 670.5,2938.2 673.5,2936.2 676.5,2934.8 679.5,2933.9 682.5,2933.5 685.5,2933.7 688.5,2934.3 691.5,2935.4 694.5,2937.1 697.5,2939.1 700.5,2941.7 703.5,2944.7 706.5,2948.2 709.5,2952.1 712.5,2956.4 715.5,2961.1 718.5,2966.3 721.5,2971.8 724.5,2977.8 727.5,2984 730.5,2990.7 733.5,2997.6 736.5,3004.8 739.5,3012.3 742.5,3020.1 745.5,3028.1 748.5,3036.4 751.5,3044.8 754.5,3053.4 757.5,3062.2 760.5,3071.1 763.5,3080.1 766.5,3089.2 769.5,3098.4 772.5,3107.7 775.5,3117 778.5,3126.3 778.5,3417.5 532.5,3417.5" fill="#ffdcbe"/>
<polygon points="777.5,3126.5 780.5,3120.6 783.5,3115 786.5,3109.6 789.5,3104.5 792.5,3099.7 795.5,3095.3 798.5,3091.1 801.5,3087.3 804.5,3083.8 807.5,3080.7 810.5,3077.9 813.5,3075.5 816.5,3073.4 819.5,3071.7 822.5,3070.4 825.5,3069.4 828.5,3068.8 831.5,3068.5 834.5,3068.5 837.5,3068.8 840.5,3069.2 843.5,3070 846.5,3071.1 849.5,3072.4 852.5,3074 855.5,3075.9 858.5,3078.1 861.5,3080.6 864.5,3083.4 867.5,3086.4 870.5,3089.8 873.5,3093.4 876.5,3097.2 879.5,3101.3 882.5,3105.7 885.5,3110.3 888.5,3115.1 891.5,3120.1 894.5,3125.3 897.5,3130.7 900.5,3136.3 903.5,3142.1 906.5,3148 909.5,3154 912.5,3160.2 915.5,3166.4 918.5,3172.8 921.5,3179.2 924.5,3185.7 927.5,3192.3 930.5,3198.9 933.5,3205.5 936.5,3212.1 939.5,3218.8 942.5,3225.4 945.5,3232 948.5,3238.5 951.5,3245 954.5,3251.4 957.5,3257.8 960.5,3264 963.5,3270.2 966.5,3276.3 969.5,3282.3 972.5,3288.1 975.5,3293.9 978.5,3299.5 980.5,3303.2 980.5,3417.5 777.5,3417.5" fill="#a0ffff"/>
<polygon points="979.5,3301.5 982.5,3302.7 985.5,3304 988.5,3305.3 991.5,3306.6 994.5,3308 997.5,3309.5 1000.5,3311 1003.5,3312.5 1006.5,3314.1 1009.5,3315.7 1012.5,3317.4 1015.5,3319.1 1018.5,3320.8 1021.5,3322.6 1024.5,3324.3 1027.5,3326.1 1030.5,3327.9 1033.5,3329.8 1036.5,3331.6 1039.5,3333.5 1042.5,3335.4 1045.5,3337.2 1048.5,3339.1 1051.5,3341 1054.5,3342.9 1057.5,3344.8 1060.5,3346.6 1063.5,3348.5 1066.5,3350.4 1069.5,3352.2 1072.5,3354.1 1075.5,3355.9 1078.5,3357.7 1081.5,3359.5 1084.5,3361.3 1087.5,3363 1090.5,3364.8 1093.5,3366.5 1096.5,3368.1 1099.5,3369.8 1102.5,3371.4 1105.5,3373 1108.5,3374.6 1111.5,3376.1 1114.5,3377.6 1117.5,3379.1 1120.5,3380.5 1123.5,3382 1126.5,3383.3 1129.5,3384.7 1132.5,3386 1135.5,3387.3 1138.5,3388.5 1141.5,3389.7 1144.5,3390.9 1147.5,3392 1150.5,3393.1 1153.5,3394.2 1156.5,3395.3 1159.5,3396.3 1162.5,3397.2 1165.5,3398.2 1168.5,3399.1 1171.5,3400 1174.5,3400.8 1177.5,3401.6 1180.5,3402.4 1183.5,3403.1 1186.5,3403.9 1189.5,3404.6 1192.5,3405.2 1195.5,3405.9 1198.5,3406.5 1201.5,3407.1 1204.5,3407.6 1207.5,3408.2 1210.5,3408.7 1213.5,3409.2 1216.5,3409.6 1219.5,3410.1 1222.5,3410.5 1225.5,3410.9 1228.5,3411.3 1231.5,3411.7 1234.5,3412 1237.5,3412.3 1240.5,3412.7 1243.5,3413 1246.5,3413.2 1249.5,3413.5 1252.5,3413.8 1255.5,3414 1258.5,3414.2 1261.5,3414.4 1264.5,3414.6 1267.5,3414.8 1270.5,3415 1273.5,3415.2 1276.5,3415.3 1279.5,3415.5 1282.5,3415.6 1285.5,3415.7 1288.5,3415.9 1291.5,3416 1294.5,3416.1 1297.5,3416.2 1300.5,3416.3 1303.5,3416.4 1306.5,3416.5 1309.5,3416.5 1312.5,3416.6 1315.5,3416.7 1318.5,3416.7 1321.5,3416.8 1324.5,3416.8 1327.5,3416.9 1330.5,3416.9 1333.5,3417 1336.5,3417 1339.5,3417.1 1342.5,3417.1 1345.5,3417.1 1348.5,3417.2 1351.5,3417.2 1353.5,3417.2 1353.5,3417.5 979.5,3417.5" fill="#ffacac"/>
<polygon points="238.5,3417.2 241.5,3417.2 244.5,3417.2 247.5,3417.1 250.5,3417.1 253.5,3417.1 256.5,3417 259.5,3417 262.5,3417 265.5,3416.9 268.5,3416.9 271.5,3416.9 274.5,3416.8 277.5,3416.8 280.5,3416.7 283.5,3416.7 286.5,3416.6 289.5,3416.5 292.5,3416.5 295.5,3416.4 298.5,3416.3 301.5,3416.3 304.5,3416.2 307.5,3416.1 310.5,3416 313.5,3415.9 316.5,3415.8 319.5,3415.7 322.5,3415.6 325.5,3415.5 328.5,3415.3 331.5,3415.2 334.5,3415.1 337.5,3414.9 340.5,3414.8 343.5,3414.6 346.5,3414.5 349.5,3414.3 352.5,3414.1 355.5,3413.9 358.5,3413.7 361.5,3413.5 364.5,3413.3 367.5,3413.1 370.5,3412.9 373.5,3412.6 376.5,3412.4 379.5,3412.1 382.5,3411.8 385.5,3411.5 388.5,3411.2 391.5,3410.9 394.5,3410.6 397.5,3410.3 400.5,3409.9 403.5,3409.6 406.5,3409.2 409.5,3408.8 412.5,3408.4 415.5,3408 418.5,3407.6 421.5,3407.1 424.5,3406.7 427.5,3406.2 430.5,3405.7 433.5,3405.2 436.5,3404.7 439.5,3404.2 442.5,3403.7 445.5,3403.1 448.5,3402.5 448.5,3417.5 238.5,3417.5" fill="#373ca0"/>
<polygon points="447.5,3402.8 450.5,3401.4 453.5,3400 456.5,3398.4 459.5,3396.7 462.5,3394.9 465.5,3392.9 468.5,3390.8 471.5,3388.6 474.5,3386.2 477.5,3383.6 480.5,3380.9 483.5,3378 486.5,3375 489.5,3371.7 492.5,3368.3 495.5,3364.6 498.5,3360.8 501.5,3356.7 504.5,3352.5 507.5,3348 510.5,3343.2 513.5,3338.3 516.5,3333.1 519.5,3327.6 522.5,3322 525.5,3316 528.5,3309.9 531.5,3303.5 534.5,3299.8 537.5,3299.4 540.5,3299 543.5,3298.7 546.5,3298.6 549.5,3298.5 552.5,3298.6 555.5,3298.8 558.5,3299.1 561.5,3299.6 564.5,3300.2 567.5,3301 570.5,3301.9 573.5,3302.9 576.5,3304 579.5,3305.3 582.5,3306.6 585.5,3308.1 588.5,3309.7 591.5,3311.4 594.5,3313.2 597.5,3315.1 600.5,3317 603.5,3319.1 606.5,3321.2 609.5,3323.3 612.5,3325.6 615.5,3327.9 616.5,3328.6 616.5,3417.5 447.5,3417.5" fill="#a082d2"/>
<polygon points="615.5,3328.6 618.5,3324.6 621.5,3320.4 624.5,3316.2 627.5,3311.8 630.5,3307.4 633.5,3303 636.5,3298.4 639.5,3293.8 642.5,3289.2 645.5,3284.5 648.5,3279.8 651.5,3275 654.5,3270.2 657.5,3265.4 660.5,3260.6 663.5,3255.8 666.5,3251 669.5,3246.3 672.5,3241.5 675.5,3236.8 678.5,3232.2 681.5,3227.6 684.5,3223.1 687.5,3218.6 690.5,3214.3 693.5,3210 696.5,3205.9 699.5,3201.8 702.5,3197.9 705.5,3194.1 708.5,3190.5 711.5,3187 714.5,3183.7 717.5,3180.5 720.5,3177.5 723.5,3174.7 726.5,3172 729.5,3169.6 732.5,3167.3 735.5,3165.2 738.5,3163.4 741.5,3161.7 744.5,3160.2 747.5,3158.9 750.5,3157.9 753.5,3157 756.5,3156.4 759.5,3155.9 762.5,3155.6 764.5,3155.5 764.5,3417.5 615.5,3417.5" fill="#aac878"/>
<polygon points="763.5,3156.8 766.5,3149.9 769.5,3143.3 772.5,3136.8 775.5,3130.6 778.5,3126.3 781.5,3135.5 784.5,3144.8 787.5,3154 789.5,3160.2 789.5,3417.5 763.5,3417.5" fill="#b9d7a0"/>
<polygon points="788.5,3159.7 791.5,3161 794.5,3162.4 797.5,3164 800.5,3165.7 803.5,3167.7 806.5,3169.7 809.5,3172 812.5,3174.3 815.5,3176.9 818.5,3179.6 821.5,3182.4 824.5,3185.3 827.5,3188.4 830.5,3191.6 833.5,3195 836.5,3198.4 839.5,3202 842.5,3205.6 845.5,3209.4 848.5,3213.2 851.5,3217.1 854.5,3221.1 857.5,3225.2 860.5,3229.3 863.5,3233.5 866.5,3237.7 869.5,3242 872.5,3246.3 875.5,3250.6 878.5,3254.9 881.5,3259.3 884.5,3263.6 887.5,3268 890.5,3272.3 893.5,3276.7 896.5,3281 899.5,3285.3 902.5,3289.5 905.5,3293.7 905.5,3417.5 788.5,3417.5" fill="#00cd96"/>
<polygon points="904.5,3293.4 907.5,3293 910.5,3292.6 913.5,3292.3 916.5,3292 919.5,3291.8 922.5,3291.7 925.5,3291.6 928.5,3291.5 931.5,3291.5 934.5,3291.6 937.5,3291.7 940.5,3292 943.5,3292.3 946.5,3292.7 949.5,3293.1 952.5,3293.6 955.5,3294.2 958.5,3294.9 961.5,3295.7 964.5,3296.5 967.5,3297.3 970.5,3298.3 973.5,3299.3 976.5,3300.4 979.5,3301.5 982.5,3306.8 985.5,3312 988.5,3317.2 991.5,3322.2 994.5,3327 997.5,3331.7 1000.5,3336.2 1003.5,3340.6 1006.5,3344.8 1009.5,3348.9 1012.5,3352.8 1015.5,3356.5 1018.5,3360.1 1021.5,3363.6 1024.5,3366.9 1027.5,3370 1030.5,3373 1033.5,3375.9 1036.5,3378.6 1039.5,3381.1 1042.5,3383.6 1045.5,3385.9 1048.5,3388.1 1051.5,3390.2 1054.5,3392.1 1057.5,3393.9 1060.5,3395.7 1063.5,3397.3 1066.5,3398.8 1069.5,3400.3 1072.5,3401.6 1075.5,3402.8 1078.5,3404 1081.5,3405.1 1084.5,3406.1 1087.5,3407 1090.5,3407.9 1093.5,3408.7 1096.5,3409.5 1099.5,3410.2 1102.5,3410.8 1105.5,3411.4 1108.5,3412 1111.5,3412.5 1114.5,3412.9 1117.5,3413.4 1120.5,3413.7 1123.5,3414.1 1126.5,3414.4 1129.5,3414.7 1132.5,3415 1135.5,3415.2 1138.5,3415.5 1141.5,3415.7 1144.5,3415.9 1147.5,3416 1150.5,3416.2 1153.5,3416.3 1156.5,3416.4 1159.5,3416.6 1162.5,3416.7 1165.5,3416.8 1168.5,3416.8 1171.5,3416.9 1174.5,3417 1177.5,3417 1180.5,3417.1 1183.5,3417.1 1186.5,3417.2 1188.5,3417.2 1188.5,3417.5 904.5,3417.5" fill="#de9696"/>
<polygon points="340.5,3417.2 343.5,3417.2 346.5,3417.1 349.5,3417.1 352.5,3417 355.5,3416.9 358.5,3416.9 361.5,3416.8 364.5,3416.7 367.5,3416.6 370.5,3416.5 373.5,3416.3 376.5,3416.2 379.5,3416 382.5,3415.9 385.5,3415.7 388.5,3415.4 391.5,3415.2 394.5,3414.9 397.5,3414.6 400.5,3414.3 403.5,3414 406.5,3413.6 409.5,3413.1 412.5,3412.7 415.5,3412.2 418.5,3411.6 421.5,3411 424.5,3410.3 427.5,3409.6 430.5,3408.8 433.5,3407.9 436.5,3407 439.5,3405.9 442.5,3404.8 445.5,3403.6 448.5,3402.5 451.5,3402 454.5,3401.4 457.5,3400.8 460.5,3400.1 463.5,3399.5 466.5,3398.8 469.5,3398.2 472.5,3397.5 475.5,3396.8 478.5,3396.1 481.5,3395.3 484.5,3394.6 487.5,3393.9 490.5,3393.1 493.5,3392.3 496.5,3391.5 499.5,3390.7 502.5,3389.9 505.5,3389.1 508.5,3388.3 511.5,3387.4 514.5,3386.6 517.5,3385.7 520.5,3384.9 523.5,3384 526.5,3383.1 529.5,3382.3 532.5,3381.4 535.5,3380.5 538.5,3379.6 541.5,3378.7 544.5,3377.8 547.5,3376.9 550.5,3376 553.5,3375.1 556.5,3374.2 559.5,3373.4 562.5,3372.5 565.5,3371.6 568.5,3370.7 571.5,3369.9 574.5,3369 577.5,3368.2 580.5,3367.3 582.5,3366.8 582.5,3417.5 340.5,3417.5" fill="#373ca0"/>
<polygon points="581.5,3367.6 584.5,3364.7 587.5,3361.7 590.5,3358.6 593.5,3355.4 596.5,3352.1 599.5,3348.7 602.5,3345.1 605.5,3341.5 608.5,3337.8 611.5,3333.9 614.5,3330 617.5,3329.4 620.5,3331.8 623.5,3334.2 626.5,3336.6 629.5,3339 632.5,3341.5 635.5,3343.9 638.5,3346.4 641.5,3348.9 644.5,3351.3 647.5,3353.8 647.5,3417.5 581.5,3417.5" fill="#555fb9"/>
<polygon points="646.5,3353.5 649.5,3353.2 652.5,3352.9 655.5,3352.6 658.5,3352.3 661.5,3352.1 664.5,3351.9 667.5,3351.8 670.5,3351.7 673.5,3351.6 674.5,3351.6 674.5,3417.5 646.5,3417.5" fill="#696e00"/>
<polygon points="673.5,3351.7 676.5,3347.3 679.5,3342.6 682.5,3337.8 685.5,3332.8 688.5,3327.6 691.5,3322.1 694.5,3316.5 697.5,3310.7 700.5,3304.8 703.5,3298.6 706.5,3292.3 709.5,3285.9 712.5,3279.2 715.5,3272.5 718.5,3265.6 721.5,3258.6 724.5,3251.5 727.5,3244.3 730.5,3237 733.5,3229.6 736.5,3222.2 739.5,3214.8 742.5,3207.4 745.5,3200 748.5,3192.6 751.5,3185.3 754.5,3178 757.5,3170.8 760.5,3163.7 763.5,3156.8 766.5,3155.5 769.5,3155.6 772.5,3155.8 775.5,3156.2 778.5,3156.7 781.5,3157.4 784.5,3158.3 787.5,3159.3 790.5,3163.2 793.5,3172.3 796.5,3181.3 799.5,3190.2 802.5,3199 805.5,3207.7 808.5,3216.2 811.5,3224.5 814.5,3232.7 817.5,3240.8 820.5,3248.6 823.5,3256.3 826.5,3263.8 829.5,3271 832.5,3278.1 835.5,3285 838.5,3291.6 841.5,3298 844.5,3304.3 847.5,3310.3 848.5,3312.2 848.5,3417.5 673.5,3417.5" fill="#50af50"/>
<polygon points="847.5,3310.3 850.5,3309.1 853.5,3307.9 856.5,3306.7 859.5,3305.6 862.5,3304.4 865.5,3303.4 868.5,3302.3 871.5,3301.4 874.5,3300.4 877.5,3299.5 880.5,3298.6 883.5,3297.8 886.5,3297 889.5,3296.3 892.5,3295.6 895.5,3295 898.5,3294.4 901.5,3293.9 904.5,3293.4 907.5,3296.5 910.5,3300.6 913.5,3304.7 916.5,3308.8 919.5,3312.7 922.5,3316.6 925.5,3320.5 928.5,3324.3 931.5,3328 934.5,3331.6 937.5,3335.1 940.5,3338.6 943.5,3342 946.5,3345.2 949.5,3348.4 952.5,3351.6 955.5,3354.6 958.5,3357.5 961.5,3360.4 964.5,3363.1 967.5,3365.8 970.5,3368.4 973.5,3370.9 976.5,3373.3 979.5,3375.6 982.5,3377.8 985.5,3379.9 988.5,3382 991.5,3384 994.5,3385.8 997.5,3387.7 1000.5,3389.4 1003.5,3391 1006.5,3392.6 1009.5,3394.1 1012.5,3395.5 1015.5,3396.9 1018.5,3398.2 1021.5,3399.4 1024.5,3400.6 1027.5,3401.7 1030.5,3402.7 1033.5,3403.7 1036.5,3404.6 1039.5,3405.5 1042.5,3406.3 1045.5,3407.1 1048.5,3407.8 1051.5,3408.5 1054.5,3409.2 1057.5,3409.8 1060.5,3410.3 1063.5,3410.9 1066.5,3411.4 1069.5,3411.8 1072.5,3412.3 1075.5,3412.7 1078.5,3413.1 1081.5,3413.4 1084.5,3413.7 1087.5,3414 1090.5,3414.3 1093.5,3414.6 1096.5,3414.8 1099.5,3415.1 1102.5,3415.3 1105.5,3415.5 1108.5,3415.6 1111.5,3415.8 1114.5,3415.9 1117.5,3416.1 1120.5,3416.2 1123.5,3416.3 1126.5,3416.4 1129.5,3416.5 1132.5,3416.6 1135.5,3416.7 1138.5,3416.8 1141.5,3416.8 1144.5,3416.9 1147.5,3417 1150.5,3417 1153.5,3417.1 1156.5,3417.1 1159.5,3417.1 1162.5,3417.2 1164.5,3417.2 1164.5,3417.5 847.5,3417.5" fill="#64915a"/>
<polygon points="404.5,3417.2 407.5,3417.2 410.5,3417.1 413.5,3417.1 416.5,3417 419.5,3417 422.5,3416.9 425.5,3416.9 428.5,3416.8 431.5,3416.7 434.5,3416.6 437.5,3416.5 440.5,3416.4 443.5,3416.3 446.5,3416.1 449.5,3416 452.5,3415.8 455.5,3415.6 458.5,3415.4 461.5,3415.2 464.5,3415 467.5,3414.7 470.5,3414.5 473.5,3414.2 476.5,3413.8 479.5,3413.5 482.5,3413.1 485.5,3412.7 488.5,3412.2 491.5,3411.8 494.5,3411.2 497.5,3410.7 500.5,3410.1 503.5,3409.4 506.5,3408.7 509.5,3408 512.5,3407.2 515.5,3406.3 518.5,3405.4 521.5,3404.4 524.5,3403.4 527.5,3402.2 530.5,3401.1 533.5,3399.8 536.5,3398.5 539.5,3397.1 542.5,3395.6 545.5,3394 548.5,3392.3 551.5,3390.6 554.5,3388.7 557.5,3386.8 560.5,3384.8 563.5,3382.6 566.5,3380.4 569.5,3378 572.5,3375.6 575.5,3373 578.5,3370.4 581.5,3367.6 584.5,3366.2 587.5,3365.4 590.5,3364.6 593.5,3363.9 596.5,3363.1 599.5,3362.3 602.5,3361.6 605.5,3360.9 608.5,3360.2 611.5,3359.5 614.5,3358.9 617.5,3358.3 620.5,3357.7 623.5,3357.1 626.5,3356.5 629.5,3356 632.5,3355.5 635.5,3355 638.5,3354.6 641.5,3354.2 644.5,3353.8 647.5,3353.8 650.5,3356.2 653.5,3358.6 656.5,3361 659.5,3363.3 662.5,3365.6 663.5,3366.4 663.5,3417.5 404.5,3417.5" fill="#373ca0"/>
<polygon points="662.5,3366.3 665.5,3362.6 668.5,3358.6 671.5,3354.5 674.5,3351.6 677.5,3351.5 680.5,3351.5 683.5,3351.5 686.5,3351.6 689.5,3351.7 692.5,3351.8 695.5,3352 698.5,3352.2 701.5,3352.4 704.5,3352.7 707.5,3353 710.5,3353.4 713.5,3353.7 716.5,3354.2 719.5,3354.6 722.5,3355.1 725.5,3355.6 728.5,3356.1 731.5,3356.7 734.5,3357.3 737.5,3357.9 740.5,3358.6 743.5,3359.2 746.5,3359.9 748.5,3360.4 748.5,3417.5 662.5,3417.5" fill="#696e00"/>
<polygon points="747.5,3360.5 750.5,3359 753.5,3357.5 756.5,3355.9 759.5,3354.4 762.5,3352.9 765.5,3351.3 768.5,3349.8 771.5,3348.2 774.5,3346.6 777.5,3345.1 780.5,3343.5 783.5,3341.9 786.5,3340.3 789.5,3338.7 792.5,3337.1 795.5,3335.6 798.5,3334 801.5,3332.4 804.5,3330.9 807.5,3329.3 810.5,3327.8 813.5,3326.3 816.5,3324.8 819.5,3323.3 822.5,3321.8 825.5,3320.3 828.5,3318.9 831.5,3317.5 834.5,3316.1 837.5,3314.7 840.5,3313.4 843.5,3312 846.5,3310.8 849.5,3314.1 852.5,3319.8 855.5,3325.2 858.5,3330.4 861.5,3335.4 864.5,3340.2 867.5,3344.8 870.5,3349.2 873.5,3353.4 876.5,3357.3 879.5,3361.1 882.5,3364.8 885.5,3368.2 888.5,3371.4 891.5,3374.5 894.5,3377.4 897.5,3380.2 900.5,3382.8 903.5,3385.2 906.5,3387.5 909.5,3389.7 912.5,3391.7 915.5,3393.7 918.5,3395.4 921.5,3397.1 924.5,3398.7 927.5,3400.2 930.5,3401.5 933.5,3402.8 936.5,3404 939.5,3405.1 942.5,3406.1 945.5,3407.1 948.5,3408 951.5,3408.8 954.5,3409.5 957.5,3410.2 960.5,3410.9 963.5,3411.4 966.5,3412 969.5,3412.5 970.5,3412.7 970.5,3417.5 747.5,3417.5" fill="#64915a"/>
<polygon points="969.5,3412.5 972.5,3412.8 975.5,3413 978.5,3413.3 981.5,3413.5 984.5,3413.7 987.5,3413.9 990.5,3414.1 993.5,3414.3 996.5,3414.5 999.5,3414.7 1002.5,3414.8 1005.5,3415 1008.5,3415.1 1011.5,3415.3 1014.5,3415.4 1017.5,3415.5 1020.5,3415.7 1023.5,3415.8 1026.5,3415.9 1029.5,3416 1032.5,3416.1 1035.5,3416.2 1038.5,3416.3 1041.5,3416.3 1044.5,3416.4 1047.5,3416.5 1050.5,3416.5 1053.5,3416.6 1056.5,3416.7 1059.5,3416.7 1062.5,3416.8 1065.5,3416.8 1068.5,3416.9 1071.5,3416.9 1074.5,3417 1077.5,3417 1080.5,3417 1083.5,3417.1 1086.5,3417.1 1089.5,3417.1 1092.5,3417.2 1095.5,3417.2 1098.5,3417.2 1098.5,3417.5 969.5,3417.5" fill="#738719"/>
<polygon points="425.5,3417.2 428.5,3417.2 431.5,3417.2 434.5,3417.1 437.5,3417.1 440.5,3417.1 443.5,3417 446.5,3417 449.5,3417 452.5,3416.9 455.5,3416.9 458.5,3416.9 461.5,3416.8 464.5,3416.8 467.5,3416.7 470.5,3416.7 473.5,3416.6 476.5,3416.6 479.5,3416.5 482.5,3416.4 485.5,3416.4 488.5,3416.3 491.5,3416.2 494.5,3416.1 497.5,3416 500.5,3415.9 503.5,3415.8 506.5,3415.7 509.5,3415.6 512.5,3415.5 515.5,3415.4 518.5,3415.3 521.5,3415.1 524.5,3415 527.5,3414.8 530.5,3414.7 533.5,3414.5 536.5,3414.3 539.5,3414.2 542.5,3414 545.5,3413.8 548.5,3413.6 551.5,3413.3 554.5,3413.1 557.5,3412.9 560.5,3412.6 563.5,3412.3 566.5,3412.1 569.5,3411.8 572.5,3411.5 575.5,3411.2 578.5,3410.8 581.5,3410.5 584.5,3410.1 587.5,3409.8 590.5,3409.4 593.5,3409 596.5,3408.6 599.5,3408.1 602.5,3407.7 605.5,3407.2 605.5,3417.5 425.5,3417.5" fill="#373ca0"/>
<polygon points="604.5,3407.5 607.5,3406.4 610.5,3405.3 613.5,3404.1 616.5,3402.8 619.5,3401.4 622.5,3399.9 625.5,3398.3 628.5,3396.5 631.5,3394.6 634.5,3392.6 637.5,3390.5 640.5,3388.2 643.5,3385.7 646.5,3383.1 649.5,3380.3 652.5,3377.4 655.5,3374.3 658.5,3371 661.5,3367.5 664.5,3367.1 667.5,3369.4 670.5,3371.6 673.5,3373.7 676.5,3375.8 679.5,3377.9 682.5,3379.8 685.5,3381.8 688.5,3383.6 691.5,3385.4 691.5,3417.5 604.5,3417.5" fill="#373ca0"/>
<polygon points="690.5,3385.3 693.5,3384.2 696.5,3383.1 699.5,3381.9 702.5,3380.7 705.5,3379.5 708.5,3378.3 711.5,3377 714.5,3375.8 717.5,3374.5 720.5,3373.2 723.5,3371.8 726.5,3370.5 729.5,3369.1 732.5,3367.7 735.5,3366.3 738.5,3364.9 741.5,3363.4 744.5,3361.9 747.5,3360.5 750.5,3360.9 753.5,3361.6 756.5,3362.4 759.5,3363.2 762.5,3364 765.5,3364.8 768.5,3365.7 771.5,3366.5 774.5,3367.4 777.5,3368.3 780.5,3369.2 783.5,3370.1 786.5,3371 789.5,3371.9 792.5,3372.8 795.5,3373.8 798.5,3374.7 801.5,3375.7 804.5,3376.6 807.5,3377.5 810.5,3378.5 813.5,3379.4 816.5,3380.4 819.5,3381.3 822.5,3382.2 825.5,3383.2 828.5,3384.1 831.5,3385 834.5,3385.9 837.5,3386.8 840.5,3387.7 843.5,3388.6 846.5,3389.4 849.5,3390.3 852.5,3391.2 855.5,3392 858.5,3392.8 861.5,3393.6 864.5,3394.4 867.5,3395.2 870.5,3396 873.5,3396.7 876.5,3397.5 879.5,3398.2 882.5,3398.9 885.5,3399.6 888.5,3400.2 891.5,3400.9 894.5,3401.5 897.5,3402.2 900.5,3402.8 903.5,3403.4 906.5,3404 909.5,3404.5 912.5,3405.1 915.5,3405.6 918.5,3406.1 921.5,3406.6 924.5,3407.1 927.5,3407.5 930.5,3408 933.5,3408.4 936.5,3408.8 939.5,3409.2 942.5,3409.6 945.5,3410 948.5,3410.4 951.5,3410.7 954.5,3411.1 957.5,3411.4 960.5,3411.7 963.5,3412 966.5,3412.3 969.5,3412.5 972.5,3413 975.5,3413.4 978.5,3413.8 981.5,3414.1 984.5,3414.4 987.5,3414.7 990.5,3415 993.5,3415.2 996.5,3415.5 999.5,3415.7 1002.5,3415.9 1005.5,3416 1008.5,3416.2 1011.5,3416.3 1014.5,3416.4 1017.5,3416.5 1020.5,3416.6 1023.5,3416.7 1026.5,3416.8 1029.5,3416.9 1032.5,3417 1035.5,3417 1038.5,3417.1 1041.5,3417.1 1044.5,3417.2 1047.5,3417.2 1047.5,3417.5 690.5,3417.5" fill="#696e00"/>
<polygon points="515.5,3417.2 518.5,3417.2 521.5,3417.1 524.5,3417.1 527.5,3417 530.5,3416.9 533.5,3416.8 536.5,3416.7 539.5,3416.6 542.5,3416.5 545.5,3416.4 548.5,3416.2 551.5,3416.1 554.5,3415.9 557.5,3415.7 560.5,3415.5 563.5,3415.2 566.5,3414.9 569.5,3414.6 572.5,3414.2 575.5,3413.9 578.5,3413.4 581.5,3413 584.5,3412.4 587.5,3411.9 590.5,3411.2 593.5,3410.6 596.5,3409.8 599.5,3409 602.5,3408.1 605.5,3407.2 608.5,3406.7 611.5,3406.2 614.5,3405.7 617.5,3405.2 620.5,3404.6 623.5,3404 626.5,3403.4 629.5,3402.8 632.5,3402.2 635.5,3401.5 638.5,3400.8 641.5,3400.1 644.5,3399.4 647.5,3398.6 650.5,3397.9 653.5,3397.1 656.5,3396.3 659.5,3395.4 662.5,3394.5 665.5,3393.7 668.5,3392.7 671.5,3391.8 674.5,3390.8 677.5,3389.9 680.5,3388.9 683.5,3387.8 686.5,3386.8 689.5,3385.7 692.5,3386 695.5,3387.8 698.5,3389.4 701.5,3391 704.5,3392.6 707.5,3394 710.5,3395.4 713.5,3396.8 716.5,3398.1 719.5,3399.3 722.5,3400.5 725.5,3401.6 728.5,3402.7 731.5,3403.7 734.5,3404.7 737.5,3405.6 740.5,3406.4 743.5,3407.2 746.5,3408 749.5,3408.7 752.5,3409.3 755.5,3410 758.5,3410.6 761.5,3411.1 764.5,3411.6 767.5,3412.1 770.5,3412.5 773.5,3412.9 776.5,3413.3 779.5,3413.7 782.5,3414 785.5,3414.3 788.5,3414.6 791.5,3414.9 794.5,3415.1 797.5,3415.3 800.5,3415.5 803.5,3415.7 806.5,3415.9 809.5,3416 812.5,3416.2 815.5,3416.3 818.5,3416.4 821.5,3416.5 824.5,3416.6 827.5,3416.7 830.5,3416.8 833.5,3416.9 836.5,3416.9 839.5,3417 842.5,3417.1 845.5,3417.1 848.5,3417.1 851.5,3417.2 853.5,3417.2 853.5,3417.5 515.5,3417.5" fill="#373ca0"/>
<polyline points="182.5,3417.5 184.5,3417.5 186.5,3417.5 188.5,3417.5 190.5,3417.5 192.5,3417.5 194.5,3417.5 196.5,3417.5 198.5,3417.5 200.5,3417.5 202.5,3417.5 204.5,3417.5 206.5,3417.5 208.5,3417.5 210.5,3417.5 212.5,3417.5 214.5,3417.5 216.5,3417.5 218.5,3417.5 220.5,3417.5 222.5,3417.5 224.5,3417.5 226.5,3417.5 228.5,3417.5 230.5,3417.5 232.5,3417.5 234.5,3417.5 236.5,3417.5 238.5,3417.5 240.5,3417.5 242.5,3417.5 244.5,3417.5 246.5,3417.5 248.5,3417.5 250.5,3417.5 252.5,3417.5 254.5,3417.5 256.5,3417.5 258.5,3417.5 260.5,3417.5 262.5,3417.5 264.5,3417.5 266.5,3417.5 268.5,3417.5 270.5,3417.5 272.5,3417.5 274.5,3417.5 276.5,3417.5 278.5,3417.5 280.5,3417.5 282.5,3417.5 284.5,3417.5 286.5,3417.5 288.5,3417.5 290.5,3417.5 292.5,3417.5 294.5,3417.5 296.5,3417.5 298.5,3417.5 300.5,3417.5 302.5,3417.4 304.5,3417.4 306.5,3417.4 308.5,3417.4 310.5,3417.4 312.5,3417.4 314.5,3417.4 316.5,3417.4 318.5,3417.4 320.5,3417.4 322.5,3417.4 324.5,3417.4 326.5,3417.3 328.5,3417.3 330.5,3417.3 332.5,3417.3 334.5,3417.3 336.5,3417.2 338.5,3417.2 340.5,3417.2 342.5,3417.2 344.5,3417.1 346.5,3417.1 348.5,3417.1 350.5,3417 352.5,3417 354.5,3417 356.5,3416.9 358.5,3416.9 360.5,3416.8 362.5,3416.8 364.5,3416.7 366.5,3416.6 368.5,3416.5 370.5,3416.5 372.5,3416.4 374.5,3416.3 376.5,3416.2 378.5,3416.1 380.5,3416 382.5,3415.9 384.5,3415.7 386.5,3415.6 388.5,3415.4 390.5,3415.3 392.5,3415.1 394.5,3414.9 396.5,3414.7 398.5,3414.5 400.5,3414.3 402.5,3414.1 404.5,3413.8 406.5,3413.6 408.5,3413.3 410.5,3413 412.5,3412.7 414.5,3412.3 416.5,3412 418.5,3411.6 420.5,3411.2 422.5,3410.8 424.5,3410.3 426.5,3409.8 428.5,3409.3 430.5,3408.8 432.5,3408.2 434.5,3407.6 436.5,3407 438.5,3406.3 440.5,3405.6 442.5,3404.8 444.5,3404 446.5,3403.2 448.5,3402.3 450.5,3401.4 452.5,3400.5 454.5,3399.4 456.5,3398.4 458.5,3397.3 460.5,3396.1 462.5,3394.9 464.5,3393.6 466.5,3392.2 468.5,3390.8 470.5,3389.3 472.5,3387.8 474.5,3386.2 476.5,3384.5 478.5,3382.8 480.5,3380.9 482.5,3379 484.5,3377 486.5,3375 488.5,3372.8 490.5,3370.6 492.5,3368.3 494.5,3365.9 496.5,3363.4 498.5,3360.8 500.5,3358.1 502.5,3355.3 504.5,3352.5 506.5,3349.5 508.5,3346.4 510.5,3343.2 512.5,3339.9 514.5,3336.6 516.5,3333.1 518.5,3329.5 520.5,3325.8 522.5,3322 524.5,3318 526.5,3314 528.5,3309.9 530.5,3305.6 532.5,3301.3 534.5,3296.8 536.5,3292.3 538.5,3287.6 540.5,3282.8 542.5,3277.9 544.5,3272.9 546.5,3267.8 548.5,3262.6 550.5,3257.3 552.5,3251.9 554.5,3246.4 556.5,3240.9 558.5,3235.2 560.5,3229.4 562.5,3223.6 564.5,3217.6 566.5,3211.6 568.5,3205.6 570.5,3199.4 572.5,3193.2 574.5,3186.9 576.5,3180.6 578.5,3174.2 580.5,3167.8 582.5,3161.3 584.5,3154.8 586.5,3148.3 588.5,3141.7 590.5,3135.2 592.5,3128.6 594.5,3122 596.5,3115.4 598.5,3108.8 600.5,3102.2 602.5,3095.7 604.5,3089.2 606.5,3082.7 608.5,3076.3 610.5,3069.9 612.5,3063.6 614.5,3057.3 616.5,3051.2 618.5,3045.1 620.5,3039.1 622.5,3033.2 624.5,3027.4 626.5,3021.7 628.5,3016.1 630.5,3010.6 632.5,3005.3 634.5,3000.2 636.5,2995.1 638.5,2990.3 640.5,2985.5 642.5,2981 644.5,2976.6 646.5,2972.5 648.5,2968.5 650.5,2964.7 652.5,2961 654.5,2957.6 656.5,2954.4 658.5,2951.5 660.5,2948.7 662.5,2946.1 664.5,2943.8 666.5,2941.7 668.5,2939.9 670.5,2938.2 672.5,2936.8 674.5,2935.7 676.5,2934.8 678.5,2934.1 680.5,2933.7 682.5,2933.5 684.5,2933.6 686.5,2933.8 688.5,2934.3 690.5,2935 692.5,2935.9 694.5,2937.1 696.5,2938.4 698.5,2939.9 700.5,2941.7 702.5,2943.6 704.5,2945.8 706.5,2948.2 708.5,2950.7 710.5,2953.5 712.5,2956.4 714.5,2959.5 716.5,2962.8 718.5,2966.3 720.5,2970 722.5,2973.8 724.5,2977.8 726.5,2981.9 728.5,2986.2 730.5,2990.7 732.5,2995.2 734.5,3000 736.5,3004.8 738.5,3009.8 740.5,3014.9 742.5,3020.1 744.5,3025.4 746.5,3030.8 748.5,3036.4 750.5,3042 752.5,3047.7 754.5,3053.4 756.5,3059.3 758.5,3065.1 760.5,3071.1 762.5,3077.1 764.5,3083.2 766.5,3089.2 768.5,3095.4 770.5,3101.5 772.5,3107.7 774.5,3113.9 776.5,3120.1 778.5,3126.3 780.5,3132.4 782.5,3138.6 784.5,3144.8 786.5,3151 788.5,3157.1 790.5,3163.2 792.5,3169.3 794.5,3175.3 796.5,3181.3 798.5,3187.3 800.5,3193.2 802.5,3199 804.5,3204.8 806.5,3210.5 808.5,3216.2 810.5,3221.8 812.5,3227.3 814.5,3232.7 816.5,3238.1 818.5,3243.4 820.5,3248.6 822.5,3253.8 824.5,3258.8 826.5,3263.8 828.5,3268.6 830.5,3273.4 832.5,3278.1 834.5,3282.7 836.5,3287.2 838.5,3291.6 840.5,3295.9 842.5,3300.1 844.5,3304.3 846.5,3308.3 848.5,3312.2 850.5,3316 852.5,3319.8 854.5,3323.4 856.5,3327 858.5,3330.4 860.5,3333.8 862.5,3337 864.5,3340.2 866.5,3343.3 868.5,3346.3 870.5,3349.2 872.5,3352 874.5,3354.7 876.5,3357.3 878.5,3359.9 880.5,3362.4 882.5,3364.8 884.5,3367.1 886.5,3369.3 888.5,3371.4 890.5,3373.5 892.5,3375.5 894.5,3377.4 896.5,3379.3 898.5,3381.1 900.5,3382.8 902.5,3384.4 904.5,3386 906.5,3387.5 908.5,3389 910.5,3390.4 912.5,3391.7 914.5,3393 916.5,3394.3 918.5,3395.4 920.5,3396.6 922.5,3397.7 924.5,3398.7 926.5,3399.7 928.5,3400.6 930.5,3401.5 932.5,3402.4 934.5,3403.2 936.5,3404 938.5,3404.7 940.5,3405.4 942.5,3406.1 944.5,3406.8 946.5,3407.4 948.5,3408 950.5,3408.5 952.5,3409 954.5,3409.5 956.5,3410 958.5,3410.4 960.5,3410.9 962.5,3411.3 964.5,3411.6 966.5,3412 968.5,3412.3 970.5,3412.7 972.5,3413 974.5,3413.2 976.5,3413.5 978.5,3413.8 980.5,3414 982.5,3414.2 984.5,3414.4 986.5,3414.6 988.5,3414.8 990.5,3415 992.5,3415.2 994.5,3415.3 996.5,3415.5 998.5,3415.6 1000.5,3415.7 1002.5,3415.9 1004.5,3416 1006.5,3416.1 1008.5,3416.2 1010.5,3416.3 1012.5,3416.4 1014.5,3416.4 1016.5,3416.5 1018.5,3416.6 1020.5,3416.6 1022.5,3416.7 1024.5,3416.8 1026.5,3416.8 1028.5,3416.9 1030.5,3416.9 1032.5,3417 1034.5,3417 1036.5,3417 1038.5,3417.1 1040.5,3417.1 1042.5,3417.1 1044.5,3417.2 1046.5,3417.2 1048.5,3417.2 1050.5,3417.2 1052.5,3417.3 1054.5,3417.3 1056.5,3417.3 1058.5,3417.3 1060.5,3417.3 1062.5,3417.3 1064.5,3417.4 1066.5,3417.4 1068.5,3417.4 1070.5,3417.4 1072.5,3417.4 1074.5,3417.4 1076.5,3417.4 1078.5,3417.4 1080.5,3417.4 1082.5,3417.4 1084.5,3417.4 1086.5,3417.4 1088.5,3417.4 1090.5,3417.5 1092.5,3417.5 1094.5,3417.5 1096.5,3417.5 1098.5,3417.5 1100.5,3417.5 1102.5,3417.5 1104.5,3417.5 1106.5,3417.5 1108.5,3417.5 1110.5,3417.5 1112.5,3417.5 1114.5,3417.5 1116.5,3417.5 1118.5,3417.5 1120.5,3417.5 1122.5,3417.5 1124.5,3417.5 1126.5,3417.5 1128.5,3417.5 1130.5,3417.5 1132.5,3417.5 1134.5,3417.5 1136.5,3417.5 1138.5,3417.5 1140.5,3417.5 1142.5,3417.5 1144.5,3417.5 1146.5,3417.5 1148.5,3417.5 1150.5,3417.5 1152.5,3417.5 1154.5,3417.5 1156.5,3417.5 1158.5,3417.5 1160.5,3417.5 1162.5,3417.5 1164.5,3417.5 1166.5,3417.5 1168.5,3417.5 1170.5,3417.5 1172.5,3417.5 1174.5,3417.5 1176.5,3417.5 1178.5,3417.5 1180.5,3417.5 1182.5,3417.5 1184.5,3417.5 1186.5,3417.5 1188.5,3417.5 1190.5,3417.5 1192.5,3417.5 1194.5,3417.5 1196.5,3417.5 1198.5,3417.5 1200.5,3417.5 1202.5,3417.5 1204.5,3417.5 1206.5,3417.5 1208.5,3417.5 1210.5,3417.5 1212.5,3417.5 1214.5,3417.5 1216.5,3417.5 1218.5,3417.5 1220.5,3417.5 1222.5,3417.5 1224.5,3417.5 1226.5,3417.5 1228.5,3417.5 1230.5,3417.5 1232.5,3417.5 1234.5,3417.5 1236.5,3417.5 1238.5,3417.5 1240.5,3417.5 1242.5,3417.5 1244.5,3417.5 1246.5,3417.5 1248.5,3417.5 1250.5,3417.5 1252.5,3417.5 1254.5,3417.5 1256.5,3417.5 1258.5,3417.5 1260.5,3417.5 1262.5,3417.5 1264.5,3417.5 1266.5,3417.5 1268.5,3417.5 1270.5,3417.5 1272.5,3417.5 1274.5,3417.5 1276.5,3417.5 1278.5,3417.5 1280.5,3417.5 1282.5,3417.5 1284.5,3417.5 1286.5,3417.5 1288.5,3417.5 1290.5,3417.5 1292.5,3417.5 1294.5,3417.5 1296.5,3417.5 1298.5,3417.5 1300.5,3417.5 1302.5,3417.5 1304.5,3417.5 1306.5,3417.5 1308.5,3417.5 1310.5,3417.5 1312.5,3417.5 1314.5,3417.5 1316.5,3417.5 1318.5,3417.5 1320.5,3417.5 1322.5,3417.5 1324.5,3417.5 1326.5,3417.5 1328.5,3417.5 1330.5,3417.5 1332.5,3417.5 1334.5,3417.5 1336.5,3417.5 1338.5,3417.5 1340.5,3417.5 1342.5,3417.5 1344.5,3417.5 1346.5,3417.5 1348.5,3417.5 1350.5,3417.5 1352.5,3417.5 1354.5,3417.5 1356.5,3417.5 1358.5,3417.5 1360.5,3417.5 1362.5,3417.5 1364.5,3417.5 1366.5,3417.5 1368.5,3417.5 1370.5,3417.5 1372.5,3417.5 1374.5,3417.5 1376.5,3417.5 1378.5,3417.5 1380.5,3417.5 1382.5,3417.5 1384.5,3417.5 1386.5,3417.5 1388.5,3417.5 1390.5,3417.5 1392.5,3417.5 1394.5,3417.5 1396.5,3417.5 1398.5,3417.5 1400.5,3417.5 1402.5,3417.5 1404.5,3417.5 1406.5,3417.5 1408.5,3417.5 1410.5,3417.5 1412.5,3417.5 1414.5,3417.5 1416.5,3417.5 1418.5,3417.5 1420.5,3417.5 1422.5,3417.5 1424.5,3417.5 1426.5,3417.5 1428.5,3417.5 1430.5,3417.5 1432.5,3417.5 1434.5,3417.5 1436.5,3417.5 1438.5,3417.5 1440.5,3417.5 1442.5,3417.5 1443.5,3417.5" fill="none" stroke="#d89848" stroke-width="2.5" stroke-linejoin="round" />
<polyline points="182.5,3417.5 184.5,3417.5 186.5,3417.5 188.5,3417.5 190.5,3417.5 192.5,3417.5 194.5,3417.5 196.5,3417.5 198.5,3417.5 200.5,3417.5 202.5,3417.5 204.5,3417.5 206.5,3417.5 208.5,3417.5 210.5,3417.5 212.5,3417.5 214.5,3417.5 216.5,3417.5 218.5,3417.5 220.5,3417.5 222.5,3417.5 224.5,3417.5 226.5,3417.5 228.5,3417.5 230.5,3417.5 232.5,3417.5 234.5,3417.5 236.5,3417.5 238.5,3417.5 240.5,3417.5 242.5,3417.5 244.5,3417.5 246.5,3417.5 248.5,3417.5 250.5,3417.5 252.5,3417.5 254.5,3417.5 256.5,3417.5 258.5,3417.5 260.5,3417.5 262.5,3417.5 264.5,3417.5 266.5,3417.5 268.5,3417.5 270.5,3417.5 272.5,3417.5 274.5,3417.5 276.5,3417.5 278.5,3417.5 280.5,3417.5 282.5,3417.5 284.5,3417.5 286.5,3417.5 288.5,3417.5 290.5,3417.5 292.5,3417.5 294.5,3417.5 296.5,3417.5 298.5,3417.5 300.5,3417.5 302.5,3417.5 304.5,3417.5 306.5,3417.5 308.5,3417.5 310.5,3417.5 312.5,3417.5 314.5,3417.5 316.5,3417.5 318.5,3417.5 320.5,3417.5 322.5,3417.5 324.5,3417.5 326.5,3417.5 328.5,3417.5 330.5,3417.5 332.5,3417.5 334.5,3417.5 336.5,3417.5 338.5,3417.5 340.5,3417.5 342.5,3417.5 344.5,3417.5 346.5,3417.5 348.5,3417.5 350.5,3417.5 352.5,3417.5 354.5,3417.5 356.5,3417.5 358.5,3417.5 360.5,3417.5 362.5,3417.5 364.5,3417.4 366.5,3417.4 368.5,3417.4 370.5,3417.4 372.5,3417.4 374.5,3417.4 376.5,3417.4 378.5,3417.4 380.5,3417.4 382.5,3417.4 384.5,3417.4 386.5,3417.4 388.5,3417.3 390.5,3417.3 392.5,3417.3 394.5,3417.3 396.5,3417.3 398.5,3417.3 400.5,3417.3 402.5,3417.2 404.5,3417.2 406.5,3417.2 408.5,3417.2 410.5,3417.1 412.5,3417.1 414.5,3417.1 416.5,3417 418.5,3417 420.5,3417 422.5,3416.9 424.5,3416.9 426.5,3416.8 428.5,3416.8 430.5,3416.7 432.5,3416.7 434.5,3416.6 436.5,3416.5 438.5,3416.5 440.5,3416.4 442.5,3416.3 444.5,3416.2 446.5,3416.1 448.5,3416 450.5,3415.9 452.5,3415.8 454.5,3415.7 456.5,3415.6 458.5,3415.4 460.5,3415.3 462.5,3415.2 464.5,3415 466.5,3414.8 468.5,3414.7 470.5,3414.5 472.5,3414.3 474.5,3414.1 476.5,3413.8 478.5,3413.6 480.5,3413.4 482.5,3413.1 484.5,3412.8 486.5,3412.5 488.5,3412.2 490.5,3411.9 492.5,3411.6 494.5,3411.2 496.5,3410.9 498.5,3410.5 500.5,3410.1 502.5,3409.6 504.5,3409.2 506.5,3408.7 508.5,3408.2 510.5,3407.7 512.5,3407.2 514.5,3406.6 516.5,3406 518.5,3405.4 520.5,3404.7 522.5,3404.1 524.5,3403.4 526.5,3402.6 528.5,3401.9 530.5,3401.1 532.5,3400.2 534.5,3399.4 536.5,3398.5 538.5,3397.5 540.5,3396.6 542.5,3395.6 544.5,3394.5 546.5,3393.5 548.5,3392.3 550.5,3391.2 552.5,3390 554.5,3388.7 556.5,3387.5 558.5,3386.1 560.5,3384.8 562.5,3383.3 564.5,3381.9 566.5,3380.4 568.5,3378.8 570.5,3377.2 572.5,3375.6 574.5,3373.9 576.5,3372.2 578.5,3370.4 580.5,3368.5 582.5,3366.7 584.5,3364.7 586.5,3362.7 588.5,3360.7 590.5,3358.6 592.5,3356.5 594.5,3354.3 596.5,3352.1 598.5,3349.8 600.5,3347.5 602.5,3345.1 604.5,3342.7 606.5,3340.3 608.5,3337.8 610.5,3335.2 612.5,3332.6 614.5,3330 616.5,3327.3 618.5,3324.6 620.5,3321.8 622.5,3319 624.5,3316.2 626.5,3313.3 628.5,3310.4 630.5,3307.4 632.5,3304.5 634.5,3301.5 636.5,3298.4 638.5,3295.4 640.5,3292.3 642.5,3289.2 644.5,3286.1 646.5,3282.9 648.5,3279.8 650.5,3276.6 652.5,3273.4 654.5,3270.2 656.5,3267 658.5,3263.8 660.5,3260.6 662.5,3257.4 664.5,3254.2 666.5,3251 668.5,3247.8 670.5,3244.7 672.5,3241.5 674.5,3238.4 676.5,3235.3 678.5,3232.2 680.5,3229.1 682.5,3226.1 684.5,3223.1 686.5,3220.1 688.5,3217.2 690.5,3214.3 692.5,3211.4 694.5,3208.6 696.5,3205.9 698.5,3203.2 700.5,3200.5 702.5,3197.9 704.5,3195.4 706.5,3192.9 708.5,3190.5 710.5,3188.1 712.5,3185.9 714.5,3183.7 716.5,3181.5 718.5,3179.5 720.5,3177.5 722.5,3175.6 724.5,3173.8 726.5,3172 728.5,3170.4 730.5,3168.8 732.5,3167.3 734.5,3165.9 736.5,3164.6 738.5,3163.4 740.5,3162.2 742.5,3161.2 744.5,3160.2 746.5,3159.3 748.5,3158.6 750.5,3157.9 752.5,3157.3 754.5,3156.8 756.5,3156.4 758.5,3156 760.5,3155.8 762.5,3155.6 764.5,3155.5 766.5,3155.5 768.5,3155.5 770.5,3155.6 772.5,3155.8 774.5,3156.1 776.5,3156.4 778.5,3156.7 780.5,3157.2 782.5,3157.7 784.5,3158.3 786.5,3159 788.5,3159.7 790.5,3160.5 792.5,3161.4 794.5,3162.4 796.5,3163.4 798.5,3164.6 800.5,3165.7 802.5,3167 804.5,3168.3 806.5,3169.7 808.5,3171.2 810.5,3172.7 812.5,3174.3 814.5,3176 816.5,3177.8 818.5,3179.6 820.5,3181.4 822.5,3183.3 824.5,3185.3 826.5,3187.4 828.5,3189.5 830.5,3191.6 832.5,3193.8 834.5,3196.1 836.5,3198.4 838.5,3200.8 840.5,3203.2 842.5,3205.6 844.5,3208.1 846.5,3210.6 848.5,3213.2 850.5,3215.8 852.5,3218.5 854.5,3221.1 856.5,3223.8 858.5,3226.6 860.5,3229.3 862.5,3232.1 864.5,3234.9 866.5,3237.7 868.5,3240.6 870.5,3243.4 872.5,3246.3 874.5,3249.2 876.5,3252 878.5,3254.9 880.5,3257.8 882.5,3260.7 884.5,3263.6 886.5,3266.5 888.5,3269.4 890.5,3272.3 892.5,3275.2 894.5,3278.1 896.5,3281 898.5,3283.8 900.5,3286.7 902.5,3289.5 904.5,3292.3 906.5,3295.1 908.5,3297.9 910.5,3300.6 912.5,3303.4 914.5,3306.1 916.5,3308.8 918.5,3311.4 920.5,3314 922.5,3316.6 924.5,3319.2 926.5,3321.7 928.5,3324.3 930.5,3326.7 932.5,3329.2 934.5,3331.6 936.5,3333.9 938.5,3336.3 940.5,3338.6 942.5,3340.8 944.5,3343.1 946.5,3345.2 948.5,3347.4 950.5,3349.5 952.5,3351.6 954.5,3353.6 956.5,3355.6 958.5,3357.5 960.5,3359.4 962.5,3361.3 964.5,3363.1 966.5,3364.9 968.5,3366.7 970.5,3368.4 972.5,3370.1 974.5,3371.7 976.5,3373.3 978.5,3374.8 980.5,3376.3 982.5,3377.8 984.5,3379.2 986.5,3380.6 988.5,3382 990.5,3383.3 992.5,3384.6 994.5,3385.8 996.5,3387.1 998.5,3388.2 1000.5,3389.4 1002.5,3390.5 1004.5,3391.6 1006.5,3392.6 1008.5,3393.6 1010.5,3394.6 1012.5,3395.5 1014.5,3396.4 1016.5,3397.3 1018.5,3398.2 1020.5,3399 1022.5,3399.8 1024.5,3400.6 1026.5,3401.3 1028.5,3402 1030.5,3402.7 1032.5,3403.4 1034.5,3404 1036.5,3404.6 1038.5,3405.2 1040.5,3405.8 1042.5,3406.3 1044.5,3406.8 1046.5,3407.4 1048.5,3407.8 1050.5,3408.3 1052.5,3408.7 1054.5,3409.2 1056.5,3409.6 1058.5,3410 1060.5,3410.3 1062.5,3410.7 1064.5,3411.1 1066.5,3411.4 1068.5,3411.7 1070.5,3412 1072.5,3412.3 1074.5,3412.6 1076.5,3412.8 1078.5,3413.1 1080.5,3413.3 1082.5,3413.5 1084.5,3413.7 1086.5,3413.9 1088.5,3414.1 1090.5,3414.3 1092.5,3414.5 1094.5,3414.7 1096.5,3414.8 1098.5,3415 1100.5,3415.1 1102.5,3415.3 1104.5,3415.4 1106.5,3415.5 1108.5,3415.6 1110.5,3415.7 1112.5,3415.8 1114.5,3415.9 1116.5,3416 1118.5,3416.1 1120.5,3416.2 1122.5,3416.3 1124.5,3416.4 1126.5,3416.4 1128.5,3416.5 1130.5,3416.6 1132.5,3416.6 1134.5,3416.7 1136.5,3416.7 1138.5,3416.8 1140.5,3416.8 1142.5,3416.9 1144.5,3416.9 1146.5,3417 1148.5,3417 1150.5,3417 1152.5,3417.1 1154.5,3417.1 1156.5,3417.1 1158.5,3417.1 1160.5,3417.2 1162.5,3417.2 1164.5,3417.2 1166.5,3417.2 1168.5,3417.2 1170.5,3417.3 1172.5,3417.3 1174.5,3417.3 1176.5,3417.3 1178.5,3417.3 1180.5,3417.3 1182.5,3417.3 1184.5,3417.4 1186.5,3417.4 1188.5,3417.4 1190.5,3417.4 1192.5,3417.4 1194.5,3417.4 1196.5,3417.4 1198.5,3417.4 1200.5,3417.4 1202.5,3417.4 1204.5,3417.4 1206.5,3417.4 1208.5,3417.4 1210.5,3417.4 1212.5,3417.5 1214.5,3417.5 1216.5,3417.5 1218.5,3417.5 1220.5,3417.5 1222.5,3417.5 1224.5,3417.5 1226.5,3417.5 1228.5,3417.5 1230.5,3417.5 1232.5,3417.5 1234.5,3417.5 1236.5,3417.5 1238.5,3417.5 1240.5,3417.5 1242.5,3417.5 1244.5,3417.5 1246.5,3417.5 1248.5,3417.5 1250.5,3417.5 1252.5,3417.5 1254.5,3417.5 1256.5,3417.5 1258.5,3417.5 1260.5,3417.5 1262.5,3417.5 1264.5,3417.5 1266.5,3417.5 1268.5,3417.5 1270.5,3417.5 1272.5,3417.5 1274.5,3417.5 1276.5,3417.5 1278.5,3417.5 1280.5,3417.5 1282.5,3417.5 1284.5,3417.5 1286.5,3417.5 1288.5,3417.5 1290.5,3417.5 1292.5,3417.5 1294.5,3417.5 1296.5,3417.5 1298.5,3417.5 1300.5,3417.5 1302.5,3417.5 1304.5,3417.5 1306.5,3417.5 1308.5,3417.5 1310.5,3417.5 1312.5,3417.5 1314.5,3417.5 1316.5,3417.5 1318.5,3417.5 1320.5,3417.5 1322.5,3417.5 1324.5,3417.5 1326.5,3417.5 1328.5,3417.5 1330.5,3417.5 1332.5,3417.5 1334.5,3417.5 1336.5,3417.5 1338.5,3417.5 1340.5,3417.5 1342.5,3417.5 1344.5,3417.5 1346.5,3417.5 1348.5,3417.5 1350.5,3417.5 1352.5,3417.5 1354.5,3417.5 1356.5,3417.5 1358.5,3417.5 1360.5,3417.5 1362.5,3417.5 1364.5,3417.5 1366.5,3417.5 1368.5,3417.5 1370.5,3417.5 1372.5,3417.5 1374.5,3417.5 1376.5,3417.5 1378.5,3417.5 1380.5,3417.5 1382.5,3417.5 1384.5,3417.5 1386.5,3417.5 1388.5,3417.5 1390.5,3417.5 1392.5,3417.5 1394.5,3417.5 1396.5,3417.5 1398.5,3417.5 1400.5,3417.5 1402.5,3417.5 1404.5,3417.5 1406.5,3417.5 1408.5,3417.5 1410.5,3417.5 1412.5,3417.5 1414.5,3417.5 1416.5,3417.5 1418.5,3417.5 1420.5,3417.5 1422.5,3417.5 1424.5,3417.5 1426.5,3417.5 1428.5,3417.5 1430.5,3417.5 1432.5,3417.5 1434.5,3417.5 1436.5,3417.5 1438.5,3417.5 1440.5,3417.5 1442.5,3417.5 1443.5,3417.5" fill="none" stroke="#208020" stroke-width="2.5" stroke-linejoin="round" />
<polyline points="182.5,3417.4 184.5,3417.4 186.5,3417.3 188.5,3417.3 190.5,3417.3 192.5,3417.3 194.5,3417.3 196.5,3417.3 198.5,3417.3 200.5,3417.2 202.5,3417.2 204.5,3417.2 206.5,3417.2 208.5,3417.2 210.5,3417.1 212.5,3417.1 214.5,3417.1 216.5,3417.1 218.5,3417 220.5,3417 222.5,3417 224.5,3416.9 226.5,3416.9 228.5,3416.8 230.5,3416.8 232.5,3416.7 234.5,3416.7 236.5,3416.6 238.5,3416.6 240.5,3416.5 242.5,3416.5 244.5,3416.4 246.5,3416.3 248.5,3416.3 250.5,3416.2 252.5,3416.1 254.5,3416 256.5,3415.9 258.5,3415.8 260.5,3415.7 262.5,3415.6 264.5,3415.5 266.5,3415.4 268.5,3415.3 270.5,3415.1 272.5,3415 274.5,3414.8 276.5,3414.7 278.5,3414.5 280.5,3414.4 282.5,3414.2 284.5,3414 286.5,3413.8 288.5,3413.6 290.5,3413.4 292.5,3413.2 294.5,3413 296.5,3412.7 298.5,3412.5 300.5,3412.2 302.5,3412 304.5,3411.7 306.5,3411.4 308.5,3411.1 310.5,3410.8 312.5,3410.4 314.5,3410.1 316.5,3409.7 318.5,3409.4 320.5,3409 322.5,3408.6 324.5,3408.2 326.5,3407.7 328.5,3407.3 330.5,3406.8 332.5,3406.4 334.5,3405.9 336.5,3405.4 338.5,3404.8 340.5,3404.3 342.5,3403.7 344.5,3403.1 346.5,3402.5 348.5,3401.9 350.5,3401.3 352.5,3400.6 354.5,3399.9 356.5,3399.2 358.5,3398.5 360.5,3397.8 362.5,3397 364.5,3396.2 366.5,3395.4 368.5,3394.6 370.5,3393.8 372.5,3392.9 374.5,3392 376.5,3391.1 378.5,3390.2 380.5,3389.2 382.5,3388.2 384.5,3387.2 386.5,3386.2 388.5,3385.2 390.5,3384.1 392.5,3383.1 394.5,3382 396.5,3380.8 398.5,3379.7 400.5,3378.5 402.5,3377.4 404.5,3376.2 406.5,3375 408.5,3373.7 410.5,3372.5 412.5,3371.2 414.5,3369.9 416.5,3368.6 418.5,3367.3 420.5,3366 422.5,3364.6 424.5,3363.3 426.5,3361.9 428.5,3360.5 430.5,3359.1 432.5,3357.7 434.5,3356.3 436.5,3354.9 438.5,3353.5 440.5,3352 442.5,3350.6 444.5,3349.2 446.5,3347.7 448.5,3346.3 450.5,3344.8 452.5,3343.4 454.5,3341.9 456.5,3340.5 458.5,3339 460.5,3337.6 462.5,3336.2 464.5,3334.8 466.5,3333.3 468.5,3331.9 470.5,3330.6 472.5,3329.2 474.5,3327.8 476.5,3326.5 478.5,3325.2 480.5,3323.8 482.5,3322.6 484.5,3321.3 486.5,3320 488.5,3318.8 490.5,3317.6 492.5,3316.4 494.5,3315.3 496.5,3314.2 498.5,3313.1 500.5,3312 502.5,3311 504.5,3310 506.5,3309.1 508.5,3308.1 510.5,3307.3 512.5,3306.4 514.5,3305.6 516.5,3304.8 518.5,3304.1 520.5,3303.4 522.5,3302.8 524.5,3302.2 526.5,3301.6 528.5,3301.1 530.5,3300.6 532.5,3300.2 534.5,3299.8 536.5,3299.5 538.5,3299.2 540.5,3299 542.5,3298.8 544.5,3298.6 546.5,3298.6 548.5,3298.5 550.5,3298.5 552.5,3298.6 554.5,3298.7 556.5,3298.9 558.5,3299.1 560.5,3299.4 562.5,3299.8 564.5,3300.2 566.5,3300.7 568.5,3301.3 570.5,3301.9 572.5,3302.5 574.5,3303.2 576.5,3304 578.5,3304.8 580.5,3305.7 582.5,3306.6 584.5,3307.6 586.5,3308.6 588.5,3309.7 590.5,3310.8 592.5,3312 594.5,3313.2 596.5,3314.4 598.5,3315.7 600.5,3317 602.5,3318.4 604.5,3319.8 606.5,3321.2 608.5,3322.6 610.5,3324.1 612.5,3325.6 614.5,3327.1 616.5,3328.6 618.5,3330.2 620.5,3331.8 622.5,3333.4 624.5,3335 626.5,3336.6 628.5,3338.2 630.5,3339.8 632.5,3341.5 634.5,3343.1 636.5,3344.8 638.5,3346.4 640.5,3348.1 642.5,3349.7 644.5,3351.3 646.5,3353 648.5,3354.6 650.5,3356.2 652.5,3357.8 654.5,3359.4 656.5,3361 658.5,3362.5 660.5,3364.1 662.5,3365.6 664.5,3367.1 666.5,3368.6 668.5,3370.1 670.5,3371.6 672.5,3373 674.5,3374.4 676.5,3375.8 678.5,3377.2 680.5,3378.5 682.5,3379.8 684.5,3381.1 686.5,3382.4 688.5,3383.6 690.5,3384.8 692.5,3386 694.5,3387.2 696.5,3388.3 698.5,3389.4 700.5,3390.5 702.5,3391.5 704.5,3392.6 706.5,3393.5 708.5,3394.5 710.5,3395.4 712.5,3396.4 714.5,3397.2 716.5,3398.1 718.5,3398.9 720.5,3399.7 722.5,3400.5 724.5,3401.3 726.5,3402 728.5,3402.7 730.5,3403.4 732.5,3404 734.5,3404.7 736.5,3405.3 738.5,3405.8 740.5,3406.4 742.5,3406.9 744.5,3407.5 746.5,3408 748.5,3408.4 750.5,3408.9 752.5,3409.3 754.5,3409.8 756.5,3410.2 758.5,3410.6 760.5,3410.9 762.5,3411.3 764.5,3411.6 766.5,3411.9 768.5,3412.2 770.5,3412.5 772.5,3412.8 774.5,3413.1 776.5,3413.3 778.5,3413.6 780.5,3413.8 782.5,3414 784.5,3414.2 786.5,3414.4 788.5,3414.6 790.5,3414.8 792.5,3414.9 794.5,3415.1 796.5,3415.2 798.5,3415.4 800.5,3415.5 802.5,3415.6 804.5,3415.8 806.5,3415.9 808.5,3416 810.5,3416.1 812.5,3416.2 814.5,3416.3 816.5,3416.3 818.5,3416.4 820.5,3416.5 822.5,3416.6 824.5,3416.6 826.5,3416.7 828.5,3416.7 830.5,3416.8 832.5,3416.8 834.5,3416.9 836.5,3416.9 838.5,3417 840.5,3417 842.5,3417.1 844.5,3417.1 846.5,3417.1 848.5,3417.1 850.5,3417.2 852.5,3417.2 854.5,3417.2 856.5,3417.2 858.5,3417.3 860.5,3417.3 862.5,3417.3 864.5,3417.3 866.5,3417.3 868.5,3417.3 870.5,3417.4 872.5,3417.4 874.5,3417.4 876.5,3417.4 878.5,3417.4 880.5,3417.4 882.5,3417.4 884.5,3417.4 886.5,3417.4 888.5,3417.4 890.5,3417.4 892.5,3417.4 894.5,3417.4 896.5,3417.5 898.5,3417.5 900.5,3417.5 902.5,3417.5 904.5,3417.5 906.5,3417.5 908.5,3417.5 910.5,3417.5 912.5,3417.5 914.5,3417.5 916.5,3417.5 918.5,3417.5 920.5,3417.5 922.5,3417.5 924.5,3417.5 926.5,3417.5 928.5,3417.5 930.5,3417.5 932.5,3417.5 934.5,3417.5 936.5,3417.5 938.5,3417.5 940.5,3417.5 942.5,3417.5 944.5,3417.5 946.5,3417.5 948.5,3417.5 950.5,3417.5 952.5,3417.5 954.5,3417.5 956.5,3417.5 958.5,3417.5 960.5,3417.5 962.5,3417.5 964.5,3417.5 966.5,3417.5 968.5,3417.5 970.5,3417.5 972.5,3417.5 974.5,3417.5 976.5,3417.5 978.5,3417.5 980.5,3417.5 982.5,3417.5 984.5,3417.5 986.5,3417.5 988.5,3417.5 990.5,3417.5 992.5,3417.5 994.5,3417.5 996.5,3417.5 998.5,3417.5 1000.5,3417.5 1002.5,3417.5 1004.5,3417.5 1006.5,3417.5 1008.5,3417.5 1010.5,3417.5 1012.5,3417.5 1014.5,3417.5 1016.5,3417.5 1018.5,3417.5 1020.5,3417.5 1022.5,3417.5 1024.5,3417.5 1026.5,3417.5 1028.5,3417.5 1030.5,3417.5 1032.5,3417.5 1034.5,3417.5 1036.5,3417.5 1038.5,3417.5 1040.5,3417.5 1042.5,3417.5 1044.5,3417.5 1046.5,3417.5 1048.5,3417.5 1050.5,3417.5 1052.5,3417.5 1054.5,3417.5 1056.5,3417.5 1058.5,3417.5 1060.5,3417.5 1062.5,3417.5 1064.5,3417.5 1066.5,3417.5 1068.5,3417.5 1070.5,3417.5 1072.5,3417.5 1074.5,3417.5 1076.5,3417.5 1078.5,3417.5 1080.5,3417.5 1082.5,3417.5 1084.5,3417.5 1086.5,3417.5 1088.5,3417.5 1090.5,3417.5 1092.5,3417.5 1094.5,3417.5 1096.5,3417.5 1098.5,3417.5 1100.5,3417.5 1102.5,3417.5 1104.5,3417.5 1106.5,3417.5 1108.5,3417.5 1110.5,3417.5 1112.5,3417.5 1114.5,3417.5 1116.5,3417.5 1118.5,3417.5 1120.5,3417.5 1122.5,3417.5 1124.5,3417.5 1126.5,3417.5 1128.5,3417.5 1130.5,3417.5 1132.5,3417.5 1134.5,3417.5 1136.5,3417.5 1138.5,3417.5 1140.5,3417.5 1142.5,3417.5 1144.5,3417.5 1146.5,3417.5 1148.5,3417.5 1150.5,3417.5 1152.5,3417.5 1154.5,3417.5 1156.5,3417.5 1158.5,3417.5 1160.5,3417.5 1162.5,3417.5 1164.5,3417.5 1166.5,3417.5 1168.5,3417.5 1170.5,3417.5 1172.5,3417.5 1174.5,3417.5 1176.5,3417.5 1178.5,3417.5 1180.5,3417.5 1182.5,3417.5 1184.5,3417.5 1186.5,3417.5 1188.5,3417.5 1190.5,3417.5 1192.5,3417.5 1194.5,3417.5 1196.5,3417.5 1198.5,3417.5 1200.5,3417.5 1202.5,3417.5 1204.5,3417.5 1206.5,3417.5 1208.5,3417.5 1210.5,3417.5 1212.5,3417.5 1214.5,3417.5 1216.5,3417.5 1218.5,3417.5 1220.5,3417.5 1222.5,3417.5 1224.5,3417.5 1226.5,3417.5 1228.5,3417.5 1230.5,3417.5 1232.5,3417.5 1234.5,3417.5 1236.5,3417.5 1238.5,3417.5 1240.5,3417.5 1242.5,3417.5 1244.5,3417.5 1246.5,3417.5 1248.5,3417.5 1250.5,3417.5 1252.5,3417.5 1254.5,3417.5 1256.5,3417.5 1258.5,3417.5 1260.5,3417.5 1262.5,3417.5 1264.5,3417.5 1266.5,3417.5 1268.5,3417.5 1270.5,3417.5 1272.5,3417.5 1274.5,3417.5 1276.5,3417.5 1278.5,3417.5 1280.5,3417.5 1282.5,3417.5 1284.5,3417.5 1286.5,3417.5 1288.5,3417.5 1290.5,3417.5 1292.5,3417.5 1294.5,3417.5 1296.5,3417.5 1298.5,3417.5 1300.5,3417.5 1302.5,3417.5 1304.5,3417.5 1306.5,3417.5 1308.5,3417.5 1310.5,3417.5 1312.5,3417.5 1314.5,3417.5 1316.5,3417.5 1318.5,3417.5 1320.5,3417.5 1322.5,3417.5 1324.5,3417.5 1326.5,3417.5 1328.5,3417.5 1330.5,3417.5 1332.5,3417.5 1334.5,3417.5 1336.5,3417.5 1338.5,3417.5 1340.5,3417.5 1342.5,3417.5 1344.5,3417.5 1346.5,3417.5 1348.5,3417.5 1350.5,3417.5 1352.5,3417.5 1354.5,3417.5 1356.5,3417.5 1358.5,3417.5 1360.5,3417.5 1362.5,3417.5 1364.5,3417.5 1366.5,3417.5 1368.5,3417.5 1370.5,3417.5 1372.5,3417.5 1374.5,3417.5 1376.5,3417.5 1378.5,3417.5 1380.5,3417.5 1382.5,3417.5 1384.5,3417.5 1386.5,3417.5 1388.5,3417.5 1390.5,3417.5 1392.5,3417.5 1394.5,3417.5 1396.5,3417.5 1398.5,3417.5 1400.5,3417.5 1402.5,3417.5 1404.5,3417.5 1406.5,3417.5 1408.5,3417.5 1410.5,3417.5 1412.5,3417.5 1414.5,3417.5 1416.5,3417.5 1418.5,3417.5 1420.5,3417.5 1422.5,3417.5 1424.5,3417.5 1426.5,3417.5 1428.5,3417.5 1430.5,3417.5 1432.5,3417.5 1434.5,3417.5 1436.5,3417.5 1438.5,3417.5 1440.5,3417.5 1442.5,3417.5 1443.5,3417.5" fill="none" stroke="#2020a0" stroke-width="2.5" stroke-linejoin="round" />
<polyline points="182.5,3417.5 184.5,3417.5 186.5,3417.5 188.5,3417.5 190.5,3417.5 192.5,3417.5 194.5,3417.5 196.5,3417.5 198.5,3417.5 200.5,3417.5 202.5,3417.5 204.5,3417.5 206.5,3417.5 208.5,3417.5 210.5,3417.5 212.5,3417.5 214.5,3417.5 216.5,3417.5 218.5,3417.5 220.5,3417.5 222.5,3417.5 224.5,3417.5 226.5,3417.5 228.5,3417.5 230.5,3417.5 232.5,3417.5 234.5,3417.5 236.5,3417.5 238.5,3417.5 240.5,3417.5 242.5,3417.5 244.5,3417.5 246.5,3417.5 248.5,3417.5 250.5,3417.5 252.5,3417.5 254.5,3417.5 256.5,3417.5 258.5,3417.5 260.5,3417.5 262.5,3417.5 264.5,3417.5 266.5,3417.5 268.5,3417.5 270.5,3417.5 272.5,3417.5 274.5,3417.5 276.5,3417.5 278.5,3417.5 280.5,3417.5 282.5,3417.5 284.5,3417.5 286.5,3417.5 288.5,3417.5 290.5,3417.5 292.5,3417.5 294.5,3417.5 296.5,3417.5 298.5,3417.5 300.5,3417.5 302.5,3417.5 304.5,3417.5 306.5,3417.5 308.5,3417.5 310.5,3417.5 312.5,3417.5 314.5,3417.5 316.5,3417.5 318.5,3417.5 320.5,3417.5 322.5,3417.5 324.5,3417.5 326.5,3417.5 328.5,3417.5 330.5,3417.5 332.5,3417.5 334.5,3417.5 336.5,3417.5 338.5,3417.5 340.5,3417.5 342.5,3417.5 344.5,3417.5 346.5,3417.5 348.5,3417.5 350.5,3417.5 352.5,3417.5 354.5,3417.5 356.5,3417.5 358.5,3417.5 360.5,3417.5 362.5,3417.5 364.5,3417.5 366.5,3417.5 368.5,3417.5 370.5,3417.5 372.5,3417.5 374.5,3417.5 376.5,3417.5 378.5,3417.5 380.5,3417.5 382.5,3417.5 384.5,3417.5 386.5,3417.5 388.5,3417.5 390.5,3417.5 392.5,3417.5 394.5,3417.5 396.5,3417.5 398.5,3417.5 400.5,3417.5 402.5,3417.5 404.5,3417.5 406.5,3417.5 408.5,3417.5 410.5,3417.5 412.5,3417.5 414.5,3417.5 416.5,3417.5 418.5,3417.5 420.5,3417.5 422.5,3417.5 424.5,3417.5 426.5,3417.5 428.5,3417.5 430.5,3417.5 432.5,3417.5 434.5,3417.5 436.5,3417.5 438.5,3417.5 440.5,3417.5 442.5,3417.5 444.5,3417.5 446.5,3417.5 448.5,3417.5 450.5,3417.5 452.5,3417.5 454.5,3417.5 456.5,3417.5 458.5,3417.5 460.5,3417.5 462.5,3417.5 464.5,3417.5 466.5,3417.5 468.5,3417.5 470.5,3417.5 472.5,3417.5 474.5,3417.5 476.5,3417.5 478.5,3417.5 480.5,3417.4 482.5,3417.4 484.5,3417.4 486.5,3417.4 488.5,3417.4 490.5,3417.4 492.5,3417.4 494.5,3417.4 496.5,3417.4 498.5,3417.4 500.5,3417.4 502.5,3417.3 504.5,3417.3 506.5,3417.3 508.5,3417.3 510.5,3417.3 512.5,3417.2 514.5,3417.2 516.5,3417.2 518.5,3417.2 520.5,3417.1 522.5,3417.1 524.5,3417.1 526.5,3417 528.5,3417 530.5,3416.9 532.5,3416.9 534.5,3416.8 536.5,3416.7 538.5,3416.7 540.5,3416.6 542.5,3416.5 544.5,3416.4 546.5,3416.3 548.5,3416.2 550.5,3416.1 552.5,3416 554.5,3415.9 556.5,3415.8 558.5,3415.6 560.5,3415.5 562.5,3415.3 564.5,3415.1 566.5,3414.9 568.5,3414.7 570.5,3414.5 572.5,3414.2 574.5,3414 576.5,3413.7 578.5,3413.4 580.5,3413.1 582.5,3412.8 584.5,3412.4 586.5,3412.1 588.5,3411.7 590.5,3411.2 592.5,3410.8 594.5,3410.3 596.5,3409.8 598.5,3409.3 600.5,3408.7 602.5,3408.1 604.5,3407.5 606.5,3406.8 608.5,3406.1 610.5,3405.3 612.5,3404.5 614.5,3403.7 616.5,3402.8 618.5,3401.9 620.5,3400.9 622.5,3399.9 624.5,3398.8 626.5,3397.7 628.5,3396.5 630.5,3395.3 632.5,3394 634.5,3392.6 636.5,3391.2 638.5,3389.7 640.5,3388.2 642.5,3386.5 644.5,3384.9 646.5,3383.1 648.5,3381.3 650.5,3379.4 652.5,3377.4 654.5,3375.3 656.5,3373.2 658.5,3371 660.5,3368.7 662.5,3366.3 664.5,3363.8 666.5,3361.3 668.5,3358.6 670.5,3355.9 672.5,3353.1 674.5,3350.2 676.5,3347.3 678.5,3344.2 680.5,3341 682.5,3337.8 684.5,3334.5 686.5,3331.1 688.5,3327.6 690.5,3324 692.5,3320.3 694.5,3316.5 696.5,3312.7 698.5,3308.8 700.5,3304.8 702.5,3300.7 704.5,3296.6 706.5,3292.3 708.5,3288 710.5,3283.7 712.5,3279.2 714.5,3274.7 716.5,3270.2 718.5,3265.6 720.5,3260.9 722.5,3256.2 724.5,3251.5 726.5,3246.7 728.5,3241.8 730.5,3237 732.5,3232.1 734.5,3227.2 736.5,3222.2 738.5,3217.3 740.5,3212.4 742.5,3207.4 744.5,3202.5 746.5,3197.5 748.5,3192.6 750.5,3187.7 752.5,3182.8 754.5,3178 756.5,3173.2 758.5,3168.4 760.5,3163.7 762.5,3159.1 764.5,3154.5 766.5,3149.9 768.5,3145.5 770.5,3141.1 772.5,3136.8 774.5,3132.6 776.5,3128.5 778.5,3124.5 780.5,3120.6 782.5,3116.8 784.5,3113.2 786.5,3109.6 788.5,3106.2 790.5,3102.9 792.5,3099.7 794.5,3096.7 796.5,3093.8 798.5,3091.1 800.5,3088.5 802.5,3086.1 804.5,3083.8 806.5,3081.7 808.5,3079.7 810.5,3077.9 812.5,3076.2 814.5,3074.8 816.5,3073.4 818.5,3072.3 820.5,3071.3 822.5,3070.4 824.5,3069.7 826.5,3069.2 828.5,3068.8 830.5,3068.6 832.5,3068.5 834.5,3068.5 836.5,3068.7 838.5,3068.9 840.5,3069.2 842.5,3069.7 844.5,3070.3 846.5,3071.1 848.5,3071.9 850.5,3072.9 852.5,3074 854.5,3075.3 856.5,3076.6 858.5,3078.1 860.5,3079.8 862.5,3081.5 864.5,3083.4 866.5,3085.4 868.5,3087.5 870.5,3089.8 872.5,3092.1 874.5,3094.6 876.5,3097.2 878.5,3099.9 880.5,3102.8 882.5,3105.7 884.5,3108.7 886.5,3111.9 888.5,3115.1 890.5,3118.4 892.5,3121.8 894.5,3125.3 896.5,3128.9 898.5,3132.6 900.5,3136.3 902.5,3140.1 904.5,3144 906.5,3148 908.5,3152 910.5,3156.1 912.5,3160.2 914.5,3164.3 916.5,3168.5 918.5,3172.8 920.5,3177.1 922.5,3181.4 924.5,3185.7 926.5,3190.1 928.5,3194.5 930.5,3198.9 932.5,3203.3 934.5,3207.7 936.5,3212.1 938.5,3216.6 940.5,3221 942.5,3225.4 944.5,3229.8 946.5,3234.1 948.5,3238.5 950.5,3242.8 952.5,3247.1 954.5,3251.4 956.5,3255.7 958.5,3259.9 960.5,3264 962.5,3268.2 964.5,3272.3 966.5,3276.3 968.5,3280.3 970.5,3284.3 972.5,3288.1 974.5,3292 976.5,3295.8 978.5,3299.5 980.5,3303.2 982.5,3306.8 984.5,3310.3 986.5,3313.8 988.5,3317.2 990.5,3320.5 992.5,3323.8 994.5,3327 996.5,3330.2 998.5,3333.2 1000.5,3336.2 1002.5,3339.2 1004.5,3342 1006.5,3344.8 1008.5,3347.6 1010.5,3350.2 1012.5,3352.8 1014.5,3355.3 1016.5,3357.8 1018.5,3360.1 1020.5,3362.5 1022.5,3364.7 1024.5,3366.9 1026.5,3369 1028.5,3371 1030.5,3373 1032.5,3374.9 1034.5,3376.8 1036.5,3378.6 1038.5,3380.3 1040.5,3382 1042.5,3383.6 1044.5,3385.1 1046.5,3386.6 1048.5,3388.1 1050.5,3389.5 1052.5,3390.8 1054.5,3392.1 1056.5,3393.3 1058.5,3394.5 1060.5,3395.7 1062.5,3396.8 1064.5,3397.8 1066.5,3398.8 1068.5,3399.8 1070.5,3400.7 1072.5,3401.6 1074.5,3402.4 1076.5,3403.2 1078.5,3404 1080.5,3404.7 1082.5,3405.4 1084.5,3406.1 1086.5,3406.7 1088.5,3407.3 1090.5,3407.9 1092.5,3408.5 1094.5,3409 1096.5,3409.5 1098.5,3410 1100.5,3410.4 1102.5,3410.8 1104.5,3411.2 1106.5,3411.6 1108.5,3412 1110.5,3412.3 1112.5,3412.6 1114.5,3412.9 1116.5,3413.2 1118.5,3413.5 1120.5,3413.7 1122.5,3414 1124.5,3414.2 1126.5,3414.4 1128.5,3414.6 1130.5,3414.8 1132.5,3415 1134.5,3415.2 1136.5,3415.3 1138.5,3415.5 1140.5,3415.6 1142.5,3415.7 1144.5,3415.9 1146.5,3416 1148.5,3416.1 1150.5,3416.2 1152.5,3416.3 1154.5,3416.4 1156.5,3416.4 1158.5,3416.5 1160.5,3416.6 1162.5,3416.7 1164.5,3416.7 1166.5,3416.8 1168.5,3416.8 1170.5,3416.9 1172.5,3416.9 1174.5,3417 1176.5,3417 1178.5,3417.1 1180.5,3417.1 1182.5,3417.1 1184.5,3417.2 1186.5,3417.2 1188.5,3417.2 1190.5,3417.2 1192.5,3417.3 1194.5,3417.3 1196.5,3417.3 1198.5,3417.3 1200.5,3417.3 1202.5,3417.3 1204.5,3417.4 1206.5,3417.4 1208.5,3417.4 1210.5,3417.4 1212.5,3417.4 1214.5,3417.4 1216.5,3417.4 1218.5,3417.4 1220.5,3417.4 1222.5,3417.4 1224.5,3417.4 1226.5,3417.4 1228.5,3417.5 1230.5,3417.5 1232.5,3417.5 1234.5,3417.5 1236.5,3417.5 1238.5,3417.5 1240.5,3417.5 1242.5,3417.5 1244.5,3417.5 1246.5,3417.5 1248.5,3417.5 1250.5,3417.5 1252.5,3417.5 1254.5,3417.5 1256.5,3417.5 1258.5,3417.5 1260.5,3417.5 1262.5,3417.5 1264.5,3417.5 1266.5,3417.5 1268.5,3417.5 1270.5,3417.5 1272.5,3417.5 1274.5,3417.5 1276.5,3417.5 1278.5,3417.5 1280.5,3417.5 1282.5,3417.5 1284.5,3417.5 1286.5,3417.5 1288.5,3417.5 1290.5,3417.5 1292.5,3417.5 1294.5,3417.5 1296.5,3417.5 1298.5,3417.5 1300.5,3417.5 1302.5,3417.5 1304.5,3417.5 1306.5,3417.5 1308.5,3417.5 1310.5,3417.5 1312.5,3417.5 1314.5,3417.5 1316.5,3417.5 1318.5,3417.5 1320.5,3417.5 1322.5,3417.5 1324.5,3417.5 1326.5,3417.5 1328.5,3417.5 1330.5,3417.5 1332.5,3417.5 1334.5,3417.5 1336.5,3417.5 1338.5,3417.5 1340.5,3417.5 1342.5,3417.5 1344.5,3417.5 1346.5,3417.5 1348.5,3417.5 1350.5,3417.5 1352.5,3417.5 1354.5,3417.5 1356.5,3417.5 1358.5,3417.5 1360.5,3417.5 1362.5,3417.5 1364.5,3417.5 1366.5,3417.5 1368.5,3417.5 1370.5,3417.5 1372.5,3417.5 1374.5,3417.5 1376.5,3417.5 1378.5,3417.5 1380.5,3417.5 1382.5,3417.5 1384.5,3417.5 1386.5,3417.5 1388.5,3417.5 1390.5,3417.5 1392.5,3417.5 1394.5,3417.5 1396.5,3417.5 1398.5,3417.5 1400.5,3417.5 1402.5,3417.5 1404.5,3417.5 1406.5,3417.5 1408.5,3417.5 1410.5,3417.5 1412.5,3417.5 1414.5,3417.5 1416.5,3417.5 1418.5,3417.5 1420.5,3417.5 1422.5,3417.5 1424.5,3417.5 1426.5,3417.5 1428.5,3417.5 1430.5,3417.5 1432.5,3417.5 1434.5,3417.5 1436.5,3417.5 1438.5,3417.5 1440.5,3417.5 1442.5,3417.5 1443.5,3417.5" fill="none" stroke="#30d0e0" stroke-width="2.5" stroke-linejoin="round" />
<polyline points="182.5,3417.5 184.5,3417.5 186.5,3417.5 188.5,3417.5 190.5,3417.5 192.5,3417.5 194.5,3417.5 196.5,3417.5 198.5,3417.5 200.5,3417.5 202.5,3417.5 204.5,3417.5 206.5,3417.5 208.5,3417.5 210.5,3417.5 212.5,3417.5 214.5,3417.5 216.5,3417.5 218.5,3417.5 220.5,3417.5 222.5,3417.5 224.5,3417.5 226.5,3417.5 228.5,3417.5 230.5,3417.5 232.5,3417.5 234.5,3417.5 236.5,3417.5 238.5,3417.5 240.5,3417.5 242.5,3417.5 244.5,3417.5 246.5,3417.5 248.5,3417.5 250.5,3417.5 252.5,3417.5 254.5,3417.5 256.5,3417.5 258.5,3417.5 260.5,3417.5 262.5,3417.5 264.5,3417.5 266.5,3417.5 268.5,3417.5 270.5,3417.5 272.5,3417.5 274.5,3417.5 276.5,3417.5 278.5,3417.5 280.5,3417.5 282.5,3417.5 284.5,3417.5 286.5,3417.5 288.5,3417.5 290.5,3417.5 292.5,3417.5 294.5,3417.5 296.5,3417.5 298.5,3417.5 300.5,3417.5 302.5,3417.5 304.5,3417.5 306.5,3417.5 308.5,3417.5 310.5,3417.5 312.5,3417.5 314.5,3417.5 316.5,3417.5 318.5,3417.5 320.5,3417.5 322.5,3417.5 324.5,3417.5 326.5,3417.5 328.5,3417.5 330.5,3417.5 332.5,3417.5 334.5,3417.5 336.5,3417.5 338.5,3417.5 340.5,3417.5 342.5,3417.5 344.5,3417.5 346.5,3417.5 348.5,3417.5 350.5,3417.5 352.5,3417.5 354.5,3417.5 356.5,3417.4 358.5,3417.4 360.5,3417.4 362.5,3417.4 364.5,3417.4 366.5,3417.4 368.5,3417.4 370.5,3417.4 372.5,3417.4 374.5,3417.4 376.5,3417.4 378.5,3417.4 380.5,3417.4 382.5,3417.4 384.5,3417.4 386.5,3417.4 388.5,3417.4 390.5,3417.4 392.5,3417.4 394.5,3417.4 396.5,3417.4 398.5,3417.3 400.5,3417.3 402.5,3417.3 404.5,3417.3 406.5,3417.3 408.5,3417.3 410.5,3417.3 412.5,3417.3 414.5,3417.3 416.5,3417.3 418.5,3417.3 420.5,3417.2 422.5,3417.2 424.5,3417.2 426.5,3417.2 428.5,3417.2 430.5,3417.2 432.5,3417.2 434.5,3417.1 436.5,3417.1 438.5,3417.1 440.5,3417.1 442.5,3417.1 444.5,3417 446.5,3417 448.5,3417 450.5,3417 452.5,3416.9 454.5,3416.9 456.5,3416.9 458.5,3416.9 460.5,3416.8 462.5,3416.8 464.5,3416.8 466.5,3416.7 468.5,3416.7 470.5,3416.7 472.5,3416.6 474.5,3416.6 476.5,3416.6 478.5,3416.5 480.5,3416.5 482.5,3416.4 484.5,3416.4 486.5,3416.3 488.5,3416.3 490.5,3416.2 492.5,3416.2 494.5,3416.1 496.5,3416.1 498.5,3416 500.5,3415.9 502.5,3415.9 504.5,3415.8 506.5,3415.7 508.5,3415.7 510.5,3415.6 512.5,3415.5 514.5,3415.4 516.5,3415.3 518.5,3415.3 520.5,3415.2 522.5,3415.1 524.5,3415 526.5,3414.9 528.5,3414.8 530.5,3414.7 532.5,3414.6 534.5,3414.5 536.5,3414.3 538.5,3414.2 540.5,3414.1 542.5,3414 544.5,3413.8 546.5,3413.7 548.5,3413.6 550.5,3413.4 552.5,3413.3 554.5,3413.1 556.5,3412.9 558.5,3412.8 560.5,3412.6 562.5,3412.4 564.5,3412.3 566.5,3412.1 568.5,3411.9 570.5,3411.7 572.5,3411.5 574.5,3411.3 576.5,3411.1 578.5,3410.8 580.5,3410.6 582.5,3410.4 584.5,3410.1 586.5,3409.9 588.5,3409.6 590.5,3409.4 592.5,3409.1 594.5,3408.8 596.5,3408.6 598.5,3408.3 600.5,3408 602.5,3407.7 604.5,3407.4 606.5,3407.1 608.5,3406.7 610.5,3406.4 612.5,3406.1 614.5,3405.7 616.5,3405.3 618.5,3405 620.5,3404.6 622.5,3404.2 624.5,3403.8 626.5,3403.4 628.5,3403 630.5,3402.6 632.5,3402.2 634.5,3401.7 636.5,3401.3 638.5,3400.8 640.5,3400.4 642.5,3399.9 644.5,3399.4 646.5,3398.9 648.5,3398.4 650.5,3397.9 652.5,3397.3 654.5,3396.8 656.5,3396.3 658.5,3395.7 660.5,3395.1 662.5,3394.5 664.5,3394 666.5,3393.4 668.5,3392.7 670.5,3392.1 672.5,3391.5 674.5,3390.8 676.5,3390.2 678.5,3389.5 680.5,3388.9 682.5,3388.2 684.5,3387.5 686.5,3386.8 688.5,3386 690.5,3385.3 692.5,3384.6 694.5,3383.8 696.5,3383.1 698.5,3382.3 700.5,3381.5 702.5,3380.7 704.5,3379.9 706.5,3379.1 708.5,3378.3 710.5,3377.5 712.5,3376.6 714.5,3375.8 716.5,3374.9 718.5,3374 720.5,3373.2 722.5,3372.3 724.5,3371.4 726.5,3370.5 728.5,3369.6 730.5,3368.6 732.5,3367.7 734.5,3366.8 736.5,3365.8 738.5,3364.9 740.5,3363.9 742.5,3362.9 744.5,3361.9 746.5,3361 748.5,3360 750.5,3359 752.5,3358 754.5,3357 756.5,3355.9 758.5,3354.9 760.5,3353.9 762.5,3352.9 764.5,3351.8 766.5,3350.8 768.5,3349.8 770.5,3348.7 772.5,3347.7 774.5,3346.6 776.5,3345.6 778.5,3344.5 780.5,3343.5 782.5,3342.4 784.5,3341.4 786.5,3340.3 788.5,3339.3 790.5,3338.2 792.5,3337.1 794.5,3336.1 796.5,3335 798.5,3334 800.5,3333 802.5,3331.9 804.5,3330.9 806.5,3329.9 808.5,3328.8 810.5,3327.8 812.5,3326.8 814.5,3325.8 816.5,3324.8 818.5,3323.8 820.5,3322.8 822.5,3321.8 824.5,3320.8 826.5,3319.9 828.5,3318.9 830.5,3317.9 832.5,3317 834.5,3316.1 836.5,3315.2 838.5,3314.3 840.5,3313.4 842.5,3312.5 844.5,3311.6 846.5,3310.8 848.5,3309.9 850.5,3309.1 852.5,3308.3 854.5,3307.5 856.5,3306.7 858.5,3305.9 860.5,3305.2 862.5,3304.4 864.5,3303.7 866.5,3303 868.5,3302.3 870.5,3301.7 872.5,3301 874.5,3300.4 876.5,3299.8 878.5,3299.2 880.5,3298.6 882.5,3298.1 884.5,3297.6 886.5,3297 888.5,3296.6 890.5,3296.1 892.5,3295.6 894.5,3295.2 896.5,3294.8 898.5,3294.4 900.5,3294.1 902.5,3293.7 904.5,3293.4 906.5,3293.1 908.5,3292.9 910.5,3292.6 912.5,3292.4 914.5,3292.2 916.5,3292 918.5,3291.9 920.5,3291.8 922.5,3291.7 924.5,3291.6 926.5,3291.5 928.5,3291.5 930.5,3291.5 932.5,3291.5 934.5,3291.6 936.5,3291.7 938.5,3291.8 940.5,3292 942.5,3292.2 944.5,3292.4 946.5,3292.7 948.5,3292.9 950.5,3293.3 952.5,3293.6 954.5,3294 956.5,3294.5 958.5,3294.9 960.5,3295.4 962.5,3295.9 964.5,3296.5 966.5,3297 968.5,3297.7 970.5,3298.3 972.5,3299 974.5,3299.7 976.5,3300.4 978.5,3301.1 980.5,3301.9 982.5,3302.7 984.5,3303.5 986.5,3304.4 988.5,3305.3 990.5,3306.2 992.5,3307.1 994.5,3308 996.5,3309 998.5,3310 1000.5,3311 1002.5,3312 1004.5,3313.1 1006.5,3314.1 1008.5,3315.2 1010.5,3316.3 1012.5,3317.4 1014.5,3318.5 1016.5,3319.7 1018.5,3320.8 1020.5,3322 1022.5,3323.1 1024.5,3324.3 1026.5,3325.5 1028.5,3326.7 1030.5,3327.9 1032.5,3329.2 1034.5,3330.4 1036.5,3331.6 1038.5,3332.9 1040.5,3334.1 1042.5,3335.4 1044.5,3336.6 1046.5,3337.9 1048.5,3339.1 1050.5,3340.4 1052.5,3341.6 1054.5,3342.9 1056.5,3344.1 1058.5,3345.4 1060.5,3346.6 1062.5,3347.9 1064.5,3349.1 1066.5,3350.4 1068.5,3351.6 1070.5,3352.8 1072.5,3354.1 1074.5,3355.3 1076.5,3356.5 1078.5,3357.7 1080.5,3358.9 1082.5,3360.1 1084.5,3361.3 1086.5,3362.4 1088.5,3363.6 1090.5,3364.8 1092.5,3365.9 1094.5,3367 1096.5,3368.1 1098.5,3369.2 1100.5,3370.3 1102.5,3371.4 1104.5,3372.5 1106.5,3373.5 1108.5,3374.6 1110.5,3375.6 1112.5,3376.6 1114.5,3377.6 1116.5,3378.6 1118.5,3379.6 1120.5,3380.5 1122.5,3381.5 1124.5,3382.4 1126.5,3383.3 1128.5,3384.2 1130.5,3385.1 1132.5,3386 1134.5,3386.8 1136.5,3387.7 1138.5,3388.5 1140.5,3389.3 1142.5,3390.1 1144.5,3390.9 1146.5,3391.7 1148.5,3392.4 1150.5,3393.1 1152.5,3393.9 1154.5,3394.6 1156.5,3395.3 1158.5,3395.9 1160.5,3396.6 1162.5,3397.2 1164.5,3397.9 1166.5,3398.5 1168.5,3399.1 1170.5,3399.7 1172.5,3400.2 1174.5,3400.8 1176.5,3401.3 1178.5,3401.9 1180.5,3402.4 1182.5,3402.9 1184.5,3403.4 1186.5,3403.9 1188.5,3404.3 1190.5,3404.8 1192.5,3405.2 1194.5,3405.7 1196.5,3406.1 1198.5,3406.5 1200.5,3406.9 1202.5,3407.3 1204.5,3407.6 1206.5,3408 1208.5,3408.3 1210.5,3408.7 1212.5,3409 1214.5,3409.3 1216.5,3409.6 1218.5,3409.9 1220.5,3410.2 1222.5,3410.5 1224.5,3410.8 1226.5,3411 1228.5,3411.3 1230.5,3411.5 1232.5,3411.8 1234.5,3412 1236.5,3412.2 1238.5,3412.5 1240.5,3412.7 1242.5,3412.9 1244.5,3413 1246.5,3413.2 1248.5,3413.4 1250.5,3413.6 1252.5,3413.8 1254.5,3413.9 1256.5,3414.1 1258.5,3414.2 1260.5,3414.4 1262.5,3414.5 1264.5,3414.6 1266.5,3414.8 1268.5,3414.9 1270.5,3415 1272.5,3415.1 1274.5,3415.2 1276.5,3415.3 1278.5,3415.4 1280.5,3415.5 1282.5,3415.6 1284.5,3415.7 1286.5,3415.8 1288.5,3415.9 1290.5,3415.9 1292.5,3416 1294.5,3416.1 1296.5,3416.2 1298.5,3416.2 1300.5,3416.3 1302.5,3416.3 1304.5,3416.4 1306.5,3416.5 1308.5,3416.5 1310.5,3416.6 1312.5,3416.6 1314.5,3416.6 1316.5,3416.7 1318.5,3416.7 1320.5,3416.8 1322.5,3416.8 1324.5,3416.8 1326.5,3416.9 1328.5,3416.9 1330.5,3416.9 1332.5,3417 1334.5,3417 1336.5,3417 1338.5,3417.1 1340.5,3417.1 1342.5,3417.1 1344.5,3417.1 1346.5,3417.1 1348.5,3417.2 1350.5,3417.2 1352.5,3417.2 1354.5,3417.2 1356.5,3417.2 1358.5,3417.2 1360.5,3417.3 1362.5,3417.3 1364.5,3417.3 1366.5,3417.3 1368.5,3417.3 1370.5,3417.3 1372.5,3417.3 1374.5,3417.3 1376.5,3417.4 1378.5,3417.4 1380.5,3417.4 1382.5,3417.4 1384.5,3417.4 1386.5,3417.4 1388.5,3417.4 1390.5,3417.4 1392.5,3417.4 1394.5,3417.4 1396.5,3417.4 1398.5,3417.4 1400.5,3417.4 1402.5,3417.4 1404.5,3417.4 1406.5,3417.4 1408.5,3417.4 1410.5,3417.4 1412.5,3417.5 1414.5,3417.5 1416.5,3417.5 1418.5,3417.5 1420.5,3417.5 1422.5,3417.5 1424.5,3417.5 1426.5,3417.5 1428.5,3417.5 1430.5,3417.5 1432.5,3417.5 1434.5,3417.5 1436.5,3417.5 1438.5,3417.5 1440.5,3417.5 1442.5,3417.5 1443.5,3417.5" fill="none" stroke="#c04040" stroke-width="2.5" stroke-linejoin="round" />
<polyline points="182.5,3417.4 184.5,3417.4 186.5,3417.4 188.5,3417.4 190.5,3417.4 192.5,3417.4 194.5,3417.4 196.5,3417.4 198.5,3417.4 200.5,3417.4 202.5,3417.4 204.5,3417.4 206.5,3417.4 208.5,3417.4 210.5,3417.4 212.5,3417.3 214.5,3417.3 216.5,3417.3 218.5,3417.3 220.5,3417.3 222.5,3417.3 224.5,3417.3 226.5,3417.3 228.5,3417.3 230.5,3417.3 232.5,3417.2 234.5,3417.2 236.5,3417.2 238.5,3417.2 240.5,3417.2 242.5,3417.2 244.5,3417.2 246.5,3417.1 248.5,3417.1 250.5,3417.1 252.5,3417.1 254.5,3417.1 256.5,3417 258.5,3417 260.5,3417 262.5,3417 264.5,3416.9 266.5,3416.9 268.5,3416.9 270.5,3416.9 272.5,3416.8 274.5,3416.8 276.5,3416.8 278.5,3416.7 280.5,3416.7 282.5,3416.7 284.5,3416.6 286.5,3416.6 288.5,3416.6 290.5,3416.5 292.5,3416.5 294.5,3416.4 296.5,3416.4 298.5,3416.3 300.5,3416.3 302.5,3416.2 304.5,3416.2 306.5,3416.1 308.5,3416.1 310.5,3416 312.5,3415.9 314.5,3415.9 316.5,3415.8 318.5,3415.7 320.5,3415.7 322.5,3415.6 324.5,3415.5 326.5,3415.4 328.5,3415.3 330.5,3415.3 332.5,3415.2 334.5,3415.1 336.5,3415 338.5,3414.9 340.5,3414.8 342.5,3414.7 344.5,3414.6 346.5,3414.5 348.5,3414.4 350.5,3414.2 352.5,3414.1 354.5,3414 356.5,3413.9 358.5,3413.7 360.5,3413.6 362.5,3413.5 364.5,3413.3 366.5,3413.2 368.5,3413 370.5,3412.9 372.5,3412.7 374.5,3412.5 376.5,3412.4 378.5,3412.2 380.5,3412 382.5,3411.8 384.5,3411.6 386.5,3411.4 388.5,3411.2 390.5,3411 392.5,3410.8 394.5,3410.6 396.5,3410.4 398.5,3410.2 400.5,3409.9 402.5,3409.7 404.5,3409.4 406.5,3409.2 408.5,3408.9 410.5,3408.7 412.5,3408.4 414.5,3408.1 416.5,3407.9 418.5,3407.6 420.5,3407.3 422.5,3407 424.5,3406.7 426.5,3406.4 428.5,3406.1 430.5,3405.7 432.5,3405.4 434.5,3405.1 436.5,3404.7 438.5,3404.4 440.5,3404 442.5,3403.7 444.5,3403.3 446.5,3402.9 448.5,3402.5 450.5,3402.2 452.5,3401.8 454.5,3401.4 456.5,3401 458.5,3400.5 460.5,3400.1 462.5,3399.7 464.5,3399.3 466.5,3398.8 468.5,3398.4 470.5,3397.9 472.5,3397.5 474.5,3397 476.5,3396.5 478.5,3396.1 480.5,3395.6 482.5,3395.1 484.5,3394.6 486.5,3394.1 488.5,3393.6 490.5,3393.1 492.5,3392.6 494.5,3392.1 496.5,3391.5 498.5,3391 500.5,3390.5 502.5,3389.9 504.5,3389.4 506.5,3388.8 508.5,3388.3 510.5,3387.7 512.5,3387.2 514.5,3386.6 516.5,3386 518.5,3385.5 520.5,3384.9 522.5,3384.3 524.5,3383.7 526.5,3383.1 528.5,3382.6 530.5,3382 532.5,3381.4 534.5,3380.8 536.5,3380.2 538.5,3379.6 540.5,3379 542.5,3378.4 544.5,3377.8 546.5,3377.2 548.5,3376.6 550.5,3376 552.5,3375.4 554.5,3374.8 556.5,3374.2 558.5,3373.7 560.5,3373.1 562.5,3372.5 564.5,3371.9 566.5,3371.3 568.5,3370.7 570.5,3370.2 572.5,3369.6 574.5,3369 576.5,3368.4 578.5,3367.9 580.5,3367.3 582.5,3366.8 584.5,3366.2 586.5,3365.7 588.5,3365.2 590.5,3364.6 592.5,3364.1 594.5,3363.6 596.5,3363.1 598.5,3362.6 600.5,3362.1 602.5,3361.6 604.5,3361.1 606.5,3360.7 608.5,3360.2 610.5,3359.8 612.5,3359.3 614.5,3358.9 616.5,3358.5 618.5,3358.1 620.5,3357.7 622.5,3357.3 624.5,3356.9 626.5,3356.5 628.5,3356.2 630.5,3355.8 632.5,3355.5 634.5,3355.2 636.5,3354.9 638.5,3354.6 640.5,3354.3 642.5,3354 644.5,3353.8 646.5,3353.5 648.5,3353.3 650.5,3353.1 652.5,3352.9 654.5,3352.7 656.5,3352.5 658.5,3352.3 660.5,3352.2 662.5,3352.1 664.5,3351.9 666.5,3351.8 668.5,3351.7 670.5,3351.7 672.5,3351.6 674.5,3351.6 676.5,3351.5 678.5,3351.5 680.5,3351.5 682.5,3351.5 684.5,3351.5 686.5,3351.6 688.5,3351.6 690.5,3351.7 692.5,3351.8 694.5,3351.9 696.5,3352.1 698.5,3352.2 700.5,3352.4 702.5,3352.5 704.5,3352.7 706.5,3352.9 708.5,3353.1 710.5,3353.4 712.5,3353.6 714.5,3353.9 716.5,3354.2 718.5,3354.5 720.5,3354.8 722.5,3355.1 724.5,3355.4 726.5,3355.8 728.5,3356.1 730.5,3356.5 732.5,3356.9 734.5,3357.3 736.5,3357.7 738.5,3358.1 740.5,3358.6 742.5,3359 744.5,3359.5 746.5,3359.9 748.5,3360.4 750.5,3360.9 752.5,3361.4 754.5,3361.9 756.5,3362.4 758.5,3362.9 760.5,3363.5 762.5,3364 764.5,3364.6 766.5,3365.1 768.5,3365.7 770.5,3366.2 772.5,3366.8 774.5,3367.4 776.5,3368 778.5,3368.6 780.5,3369.2 782.5,3369.8 784.5,3370.4 786.5,3371 788.5,3371.6 790.5,3372.2 792.5,3372.8 794.5,3373.5 796.5,3374.1 798.5,3374.7 800.5,3375.3 802.5,3376 804.5,3376.6 806.5,3377.2 808.5,3377.9 810.5,3378.5 812.5,3379.1 814.5,3379.7 816.5,3380.4 818.5,3381 820.5,3381.6 822.5,3382.2 824.5,3382.9 826.5,3383.5 828.5,3384.1 830.5,3384.7 832.5,3385.3 834.5,3385.9 836.5,3386.5 838.5,3387.1 840.5,3387.7 842.5,3388.3 844.5,3388.9 846.5,3389.4 848.5,3390 850.5,3390.6 852.5,3391.2 854.5,3391.7 856.5,3392.3 858.5,3392.8 860.5,3393.4 862.5,3393.9 864.5,3394.4 866.5,3394.9 868.5,3395.5 870.5,3396 872.5,3396.5 874.5,3397 876.5,3397.5 878.5,3397.9 880.5,3398.4 882.5,3398.9 884.5,3399.3 886.5,3399.8 888.5,3400.2 890.5,3400.7 892.5,3401.1 894.5,3401.5 896.5,3402 898.5,3402.4 900.5,3402.8 902.5,3403.2 904.5,3403.6 906.5,3404 908.5,3404.3 910.5,3404.7 912.5,3405.1 914.5,3405.4 916.5,3405.8 918.5,3406.1 920.5,3406.4 922.5,3406.8 924.5,3407.1 926.5,3407.4 928.5,3407.7 930.5,3408 932.5,3408.3 934.5,3408.6 936.5,3408.8 938.5,3409.1 940.5,3409.4 942.5,3409.6 944.5,3409.9 946.5,3410.1 948.5,3410.4 950.5,3410.6 952.5,3410.8 954.5,3411.1 956.5,3411.3 958.5,3411.5 960.5,3411.7 962.5,3411.9 964.5,3412.1 966.5,3412.3 968.5,3412.4 970.5,3412.6 972.5,3412.8 974.5,3413 976.5,3413.1 978.5,3413.3 980.5,3413.4 982.5,3413.6 984.5,3413.7 986.5,3413.9 988.5,3414 990.5,3414.1 992.5,3414.3 994.5,3414.4 996.5,3414.5 998.5,3414.6 1000.5,3414.7 1002.5,3414.8 1004.5,3414.9 1006.5,3415 1008.5,3415.1 1010.5,3415.2 1012.5,3415.3 1014.5,3415.4 1016.5,3415.5 1018.5,3415.6 1020.5,3415.7 1022.5,3415.7 1024.5,3415.8 1026.5,3415.9 1028.5,3415.9 1030.5,3416 1032.5,3416.1 1034.5,3416.1 1036.5,3416.2 1038.5,3416.3 1040.5,3416.3 1042.5,3416.4 1044.5,3416.4 1046.5,3416.5 1048.5,3416.5 1050.5,3416.5 1052.5,3416.6 1054.5,3416.6 1056.5,3416.7 1058.5,3416.7 1060.5,3416.7 1062.5,3416.8 1064.5,3416.8 1066.5,3416.8 1068.5,3416.9 1070.5,3416.9 1072.5,3416.9 1074.5,3417 1076.5,3417 1078.5,3417 1080.5,3417 1082.5,3417.1 1084.5,3417.1 1086.5,3417.1 1088.5,3417.1 1090.5,3417.1 1092.5,3417.2 1094.5,3417.2 1096.5,3417.2 1098.5,3417.2 1100.5,3417.2 1102.5,3417.2 1104.5,3417.2 1106.5,3417.3 1108.5,3417.3 1110.5,3417.3 1112.5,3417.3 1114.5,3417.3 1116.5,3417.3 1118.5,3417.3 1120.5,3417.3 1122.5,3417.3 1124.5,3417.4 1126.5,3417.4 1128.5,3417.4 1130.5,3417.4 1132.5,3417.4 1134.5,3417.4 1136.5,3417.4 1138.5,3417.4 1140.5,3417.4 1142.5,3417.4 1144.5,3417.4 1146.5,3417.4 1148.5,3417.4 1150.5,3417.4 1152.5,3417.4 1154.5,3417.4 1156.5,3417.4 1158.5,3417.4 1160.5,3417.4 1162.5,3417.4 1164.5,3417.5 1166.5,3417.5 1168.5,3417.5 1170.5,3417.5 1172.5,3417.5 1174.5,3417.5 1176.5,3417.5 1178.5,3417.5 1180.5,3417.5 1182.5,3417.5 1184.5,3417.5 1186.5,3417.5 1188.5,3417.5 1190.5,3417.5 1192.5,3417.5 1194.5,3417.5 1196.5,3417.5 1198.5,3417.5 1200.5,3417.5 1202.5,3417.5 1204.5,3417.5 1206.5,3417.5 1208.5,3417.5 1210.5,3417.5 1212.5,3417.5 1214.5,3417.5 1216.5,3417.5 1218.5,3417.5 1220.5,3417.5 1222.5,3417.5 1224.5,3417.5 1226.5,3417.5 1228.5,3417.5 1230.5,3417.5 1232.5,3417.5 1234.5,3417.5 1236.5,3417.5 1238.5,3417.5 1240.5,3417.5 1242.5,3417.5 1244.5,3417.5 1246.5,3417.5 1248.5,3417.5 1250.5,3417.5 1252.5,3417.5 1254.5,3417.5 1256.5,3417.5 1258.5,3417.5 1260.5,3417.5 1262.5,3417.5 1264.5,3417.5 1266.5,3417.5 1268.5,3417.5 1270.5,3417.5 1272.5,3417.5 1274.5,3417.5 1276.5,3417.5 1278.5,3417.5 1280.5,3417.5 1282.5,3417.5 1284.5,3417.5 1286.5,3417.5 1288.5,3417.5 1290.5,3417.5 1292.5,3417.5 1294.5,3417.5 1296.5,3417.5 1298.5,3417.5 1300.5,3417.5 1302.5,3417.5 1304.5,3417.5 1306.5,3417.5 1308.5,3417.5 1310.5,3417.5 1312.5,3417.5 1314.5,3417.5 1316.5,3417.5 1318.5,3417.5 1320.5,3417.5 1322.5,3417.5 1324.5,3417.5 1326.5,3417.5 1328.5,3417.5 1330.5,3417.5 1332.5,3417.5 1334.5,3417.5 1336.5,3417.5 1338.5,3417.5 1340.5,3417.5 1342.5,3417.5 1344.5,3417.5 1346.5,3417.5 1348.5,3417.5 1350.5,3417.5 1352.5,3417.5 1354.5,3417.5 1356.5,3417.5 1358.5,3417.5 1360.5,3417.5 1362.5,3417.5 1364.5,3417.5 1366.5,3417.5 1368.5,3417.5 1370.5,3417.5 1372.5,3417.5 1374.5,3417.5 1376.5,3417.5 1378.5,3417.5 1380.5,3417.5 1382.5,3417.5 1384.5,3417.5 1386.5,3417.5 1388.5,3417.5 1390.5,3417.5 1392.5,3417.5 1394.5,3417.5 1396.5,3417.5 1398.5,3417.5 1400.5,3417.5 1402.5,3417.5 1404.5,3417.5 1406.5,3417.5 1408.5,3417.5 1410.5,3417.5 1412.5,3417.5 1414.5,3417.5 1416.5,3417.5 1418.5,3417.5 1420.5,3417.5 1422.5,3417.5 1424.5,3417.5 1426.5,3417.5 1428.5,3417.5 1430.5,3417.5 1432.5,3417.5 1434.5,3417.5 1436.5,3417.5 1438.5,3417.5 1440.5,3417.5 1442.5,3417.5 1443.5,3417.5" fill="none" stroke="#603020" stroke-width="2" stroke-linejoin="round" />
<line x1="183.5" y1="3417.5" x2="1443.5" y2="3417.5" stroke="#2020a0" stroke-width="3"/>
<polyline points="182.5,3417.4 184.5,3417.4 186.5,3417.3 188.5,3417.3 190.5,3417.3 192.5,3417.3 194.5,3417.3 196.5,3417.3 198.5,3417.3 200.5,3417.2 202.5,3417.2 204.5,3417.2 206.5,3417.2 208.5,3417.2 210.5,3417.1 212.5,3417.1 214.5,3417.1 216.5,3417 218.5,3417 220.5,3417 222.5,3417 224.5,3416.9 226.5,3416.9 228.5,3416.8 230.5,3416.8 232.5,3416.7 234.5,3416.7 236.5,3416.6 238.5,3416.6 240.5,3416.5 242.5,3416.5 244.5,3416.4 246.5,3416.3 248.5,3416.2 250.5,3416.2 252.5,3416.1 254.5,3416 256.5,3415.9 258.5,3415.8 260.5,3415.7 262.5,3415.6 264.5,3415.5 266.5,3415.4 268.5,3415.2 270.5,3415.1 272.5,3415 274.5,3414.8 276.5,3414.7 278.5,3414.5 280.5,3414.4 282.5,3414.2 284.5,3414 286.5,3413.8 288.5,3413.6 290.5,3413.4 292.5,3413.2 294.5,3412.9 296.5,3412.7 298.5,3412.5 300.5,3412.2 302.5,3411.9 304.5,3411.6 306.5,3411.3 308.5,3411 310.5,3410.7 312.5,3410.4 314.5,3410 316.5,3409.6 318.5,3409.3 320.5,3408.9 322.5,3408.4 324.5,3408 326.5,3407.6 328.5,3407.1 330.5,3406.6 332.5,3406.1 334.5,3405.6 336.5,3405.1 338.5,3404.5 340.5,3404 342.5,3403.4 344.5,3402.8 346.5,3402.1 348.5,3401.5 350.5,3400.8 352.5,3400.1 354.5,3399.3 356.5,3398.6 358.5,3397.8 360.5,3397 362.5,3396.2 364.5,3395.4 366.5,3394.5 368.5,3393.6 370.5,3392.7 372.5,3391.7 374.5,3390.7 376.5,3389.7 378.5,3388.7 380.5,3387.6 382.5,3386.5 384.5,3385.3 386.5,3384.2 388.5,3383 390.5,3381.8 392.5,3380.5 394.5,3379.2 396.5,3377.9 398.5,3376.5 400.5,3375.1 402.5,3373.7 404.5,3372.2 406.5,3370.7 408.5,3369.2 410.5,3367.6 412.5,3366 414.5,3364.3 416.5,3362.6 418.5,3360.9 420.5,3359.1 422.5,3357.3 424.5,3355.5 426.5,3353.6 428.5,3351.6 430.5,3349.6 432.5,3347.6 434.5,3345.5 436.5,3343.4 438.5,3341.2 440.5,3339 442.5,3336.7 444.5,3334.4 446.5,3332.1 448.5,3329.6 450.5,3327.2 452.5,3324.6 454.5,3322.1 456.5,3319.4 458.5,3316.7 460.5,3314 462.5,3311.2 464.5,3308.3 466.5,3305.4 468.5,3302.4 470.5,3299.4 472.5,3296.3 474.5,3293.1 476.5,3289.8 478.5,3286.5 480.5,3283.1 482.5,3279.7 484.5,3276.2 486.5,3272.6 488.5,3268.9 490.5,3265.1 492.5,3261.3 494.5,3257.4 496.5,3253.4 498.5,3249.4 500.5,3245.2 502.5,3241 504.5,3236.7 506.5,3232.3 508.5,3227.8 510.5,3223.2 512.5,3218.5 514.5,3213.8 516.5,3208.9 518.5,3204 520.5,3198.9 522.5,3193.8 524.5,3188.6 526.5,3183.3 528.5,3177.9 530.5,3172.3 532.5,3166.7 534.5,3161 536.5,3155.2 538.5,3149.4 540.5,3143.4 542.5,3137.3 544.5,3131.1 546.5,3124.8 548.5,3118.5 550.5,3112 552.5,3105.5 554.5,3098.9 556.5,3092.2 558.5,3085.4 560.5,3078.6 562.5,3071.7 564.5,3064.8 566.5,3057.7 568.5,3050.7 570.5,3043.5 572.5,3036.3 574.5,3029.1 576.5,3021.8 578.5,3014.4 580.5,3007 582.5,2999.6 584.5,2992.2 586.5,2984.7 588.5,2977.2 590.5,2969.6 592.5,2962.1 594.5,2954.5 596.5,2946.9 598.5,2939.4 600.5,2931.8 602.5,2924.2 604.5,2916.7 606.5,2909.2 608.5,2901.7 610.5,2894.2 612.5,2886.8 614.5,2879.4 616.5,2872.1 618.5,2864.8 620.5,2857.6 622.5,2850.5 624.5,2843.5 626.5,2836.5 628.5,2829.7 630.5,2822.9 632.5,2816.3 634.5,2809.7 636.5,2803.3 638.5,2797 640.5,2790.9 642.5,2784.9 644.5,2779 646.5,2773.3 648.5,2767.8 650.5,2762.4 652.5,2757.3 654.5,2752.3 656.5,2747.4 658.5,2742.8 660.5,2738.4 662.5,2734.2 664.5,2730.2 666.5,2726.4 668.5,2722.8 670.5,2719.5 672.5,2716.4 674.5,2713.5 676.5,2710.9 678.5,2708.5 680.5,2706.3 682.5,2704.4 684.5,2702.8 686.5,2701.3 688.5,2700.1 690.5,2699.1 692.5,2698.4 694.5,2697.8 696.5,2697.6 698.5,2697.5 700.5,2697.7 702.5,2698.1 704.5,2698.7 706.5,2699.6 708.5,2700.7 710.5,2702.1 712.5,2703.6 714.5,2705.4 716.5,2707.5 718.5,2709.7 720.5,2712.2 722.5,2714.9 724.5,2717.8 726.5,2720.9 728.5,2724.3 730.5,2727.8 732.5,2731.6 734.5,2735.5 736.5,2739.7 738.5,2744 740.5,2748.5 742.5,2753.2 744.5,2758.1 746.5,2763.2 748.5,2768.4 750.5,2773.8 752.5,2779.3 754.5,2785 756.5,2790.8 758.5,2796.7 760.5,2802.8 762.5,2809 764.5,2815.3 766.5,2821.7 768.5,2828.2 770.5,2834.7 772.5,2841.3 774.5,2848 776.5,2854.7 778.5,2861.6 780.5,2868.4 782.5,2875.4 784.5,2882.3 786.5,2889.4 788.5,2896.4 790.5,2903.5 792.5,2910.7 794.5,2917.8 796.5,2925 798.5,2932.2 800.5,2939.4 802.5,2946.6 804.5,2953.9 806.5,2961.1 808.5,2968.4 810.5,2975.6 812.5,2982.8 814.5,2990 816.5,2997.2 818.5,3004.4 820.5,3011.5 822.5,3018.7 824.5,3025.8 826.5,3032.8 828.5,3039.9 830.5,3046.8 832.5,3053.8 834.5,3060.7 836.5,3067.5 838.5,3074.4 840.5,3081.1 842.5,3087.8 844.5,3094.5 846.5,3101 848.5,3107.6 850.5,3114 852.5,3120.4 854.5,3126.8 856.5,3133 858.5,3139.3 860.5,3145.4 862.5,3151.4 864.5,3157.4 866.5,3163.3 868.5,3169.2 870.5,3174.9 872.5,3180.6 874.5,3186.2 876.5,3191.8 878.5,3197.2 880.5,3202.6 882.5,3207.9 884.5,3213.1 886.5,3218.2 888.5,3223.3 890.5,3228.3 892.5,3233.2 894.5,3238 896.5,3242.7 898.5,3247.3 900.5,3251.9 902.5,3256.4 904.5,3260.8 906.5,3265.1 908.5,3269.4 910.5,3273.5 912.5,3277.6 914.5,3281.6 916.5,3285.5 918.5,3289.3 920.5,3293.1 922.5,3296.8 924.5,3300.4 926.5,3303.9 928.5,3307.4 930.5,3310.7 932.5,3314 934.5,3317.3 936.5,3320.4 938.5,3323.5 940.5,3326.5 942.5,3329.4 944.5,3332.3 946.5,3335.1 948.5,3337.8 950.5,3340.5 952.5,3343.1 954.5,3345.6 956.5,3348.1 958.5,3350.5 960.5,3352.8 962.5,3355.1 964.5,3357.3 966.5,3359.4 968.5,3361.5 970.5,3363.5 972.5,3365.5 974.5,3367.4 976.5,3369.3 978.5,3371.1 980.5,3372.8 982.5,3374.5 984.5,3376.2 986.5,3377.8 988.5,3379.3 990.5,3380.8 992.5,3382.3 994.5,3383.7 996.5,3385 998.5,3386.3 1000.5,3387.6 1002.5,3388.8 1004.5,3390 1006.5,3391.2 1008.5,3392.3 1010.5,3393.3 1012.5,3394.4 1014.5,3395.4 1016.5,3396.3 1018.5,3397.3 1020.5,3398.1 1022.5,3399 1024.5,3399.8 1026.5,3400.6 1028.5,3401.4 1030.5,3402.1 1032.5,3402.8 1034.5,3403.5 1036.5,3404.2 1038.5,3404.8 1040.5,3405.4 1042.5,3406 1044.5,3406.5 1046.5,3407 1048.5,3407.6 1050.5,3408 1052.5,3408.5 1054.5,3408.9 1056.5,3409.4 1058.5,3409.8 1060.5,3410.2 1062.5,3410.5 1064.5,3410.9 1066.5,3411.2 1068.5,3411.6 1070.5,3411.9 1072.5,3412.2 1074.5,3412.5 1076.5,3412.7 1078.5,3413 1080.5,3413.2 1082.5,3413.5 1084.5,3413.7 1086.5,3413.9 1088.5,3414.1 1090.5,3414.3 1092.5,3414.5 1094.5,3414.6 1096.5,3414.8 1098.5,3415 1100.5,3415.1 1102.5,3415.2 1104.5,3415.4 1106.5,3415.5 1108.5,3415.6 1110.5,3415.7 1112.5,3415.8 1114.5,3415.9 1116.5,3416 1118.5,3416.1 1120.5,3416.2 1122.5,3416.3 1124.5,3416.4 1126.5,3416.4 1128.5,3416.5 1130.5,3416.6 1132.5,3416.6 1134.5,3416.7 1136.5,3416.7 1138.5,3416.8 1140.5,3416.8 1142.5,3416.9 1144.5,3416.9 1146.5,3416.9 1148.5,3417 1150.5,3417 1152.5,3417.1 1154.5,3417.1 1156.5,3417.1 1158.5,3417.1 1160.5,3417.2 1162.5,3417.2 1164.5,3417.2 1166.5,3417.2 1168.5,3417.2 1170.5,3417.3 1172.5,3417.3 1174.5,3417.3 1176.5,3417.3 1178.5,3417.3 1180.5,3417.3 1182.5,3417.3 1184.5,3417.4 1186.5,3417.4 1188.5,3417.4 1190.5,3417.4 1192.5,3417.4 1194.5,3417.4 1196.5,3417.4 1198.5,3417.4 1200.5,3417.4 1202.5,3417.4 1204.5,3417.4 1206.5,3417.4 1208.5,3417.4 1210.5,3417.4 1212.5,3417.5 1214.5,3417.5 1216.5,3417.5 1218.5,3417.5 1220.5,3417.5 1222.5,3417.5 1224.5,3417.5 1226.5,3417.5 1228.5,3417.5 1230.5,3417.5 1232.5,3417.5 1234.5,3417.5 1236.5,3417.5 1238.5,3417.5 1240.5,3417.5 1242.5,3417.5 1244.5,3417.5 1246.5,3417.5 1248.5,3417.5 1250.5,3417.5 1252.5,3417.5 1254.5,3417.5 1256.5,3417.5 1258.5,3417.5 1260.5,3417.5 1262.5,3417.5 1264.5,3417.5 1266.5,3417.5 1268.5,3417.5 1270.5,3417.5 1272.5,3417.5 1274.5,3417.5 1276.5,3417.5 1278.5,3417.5 1280.5,3417.5 1282.5,3417.5 1284.5,3417.5 1286.5,3417.5 1288.5,3417.5 1290.5,3417.5 1292.5,3417.5 1294.5,3417.5 1296.5,3417.5 1298.5,3417.5 1300.5,3417.5 1302.5,3417.5 1304.5,3417.5 1306.5,3417.5 1308.5,3417.5 1310.5,3417.5 1312.5,3417.5 1314.5,3417.5 1316.5,3417.5 1318.5,3417.5 1320.5,3417.5 1322.5,3417.5 1324.5,3417.5 1326.5,3417.5 1328.5,3417.5 1330.5,3417.5 1332.5,3417.5 1334.5,3417.5 1336.5,3417.5 1338.5,3417.5 1340.5,3417.5 1342.5,3417.5 1344.5,3417.5 1346.5,3417.5 1348.5,3417.5 1350.5,3417.5 1352.5,3417.5 1354.5,3417.5 1356.5,3417.5 1358.5,3417.5 1360.5,3417.5 1362.5,3417.5 1364.5,3417.5 1366.5,3417.5 1368.5,3417.5 1370.5,3417.5 1372.5,3417.5 1374.5,3417.5 1376.5,3417.5 1378.5,3417.5 1380.5,3417.5 1382.5,3417.5 1384.5,3417.5 1386.5,3417.5 1388.5,3417.5 1390.5,3417.5 1392.5,3417.5 1394.5,3417.5 1396.5,3417.5 1398.5,3417.5 1400.5,3417.5 1402.5,3417.5 1404.5,3417.5 1406.5,3417.5 1408.5,3417.5 1410.5,3417.5 1412.5,3417.5 1414.5,3417.5 1416.5,3417.5 1418.5,3417.5 1420.5,3417.5 1422.5,3417.5 1424.5,3417.5 1426.5,3417.5 1428.5,3417.5 1430.5,3417.5 1432.5,3417.5 1434.5,3417.5 1436.5,3417.5 1438.5,3417.5 1440.5,3417.5 1442.5,3417.5 1443.5,3417.5" fill="none" stroke="#b0b0b0" stroke-width="2" stroke-linejoin="round" />
<polyline points="183.5,3419.7 190.5,3417.2 197.5,3419.3 204.5,3415.1 211.5,3411.3 218.5,3422.4 225.5,3418.4 232.5,3409.9 239.5,3413 246.5,3414.2 253.5,3417.2 260.5,3420.3 267.5,3416.4 274.5,3413.3 281.5,3416 288.5,3412.8 295.5,3413.5 302.5,3409.4 309.5,3406.2 316.5,3414.7 323.5,3407 330.5,3407.1 337.5,3402.3 344.5,3400.4 351.5,3398.9 358.5,3400.8 365.5,3400.5 372.5,3394.2 379.5,3385.5 386.5,3397.9 393.5,3384.1 400.5,3380 407.5,3367.1 414.5,3363 421.5,3361.6 428.5,3341.7 435.5,3339.9 442.5,3339.1 449.5,3343.2 456.5,3322.1 463.5,3303.1 470.5,3291.3 477.5,3294.8 484.5,3270.5 491.5,3260.8 498.5,3263.7 505.5,3234.9 512.5,3215.8 519.5,3195.3 526.5,3193.9 533.5,3174.8 540.5,3137.6 547.5,3109.4 554.5,3097.8 561.5,3087.7 568.5,3054.9 575.5,3013.8 582.5,3002.9 589.5,2981.1 596.5,2946.6 603.5,2922.2 610.5,2894.2 617.5,2863 624.5,2836.2 631.5,2804.4 638.5,2783.6 645.5,2756.4 652.5,2762.3 659.5,2746.1 666.5,2727 673.5,2719.8 680.5,2696.7 687.5,2653.6 694.5,2687.5 701.5,2679.7 708.5,2696.4 715.5,2681.3 722.5,2708.2 729.5,2730.5 736.5,2735.1 743.5,2745.4 750.5,2754.7 757.5,2785.6 764.5,2830.6 771.5,2830.7 778.5,2872.5 785.5,2880.3 792.5,2921.3 799.5,2929.9 806.5,2964.6 813.5,2992.5 820.5,3017.2 827.5,3027.1 834.5,3057.3 841.5,3076.4 848.5,3106.2 855.5,3127 862.5,3149.2 869.5,3177 876.5,3183.3 883.5,3204.2 890.5,3223.8 897.5,3243.2 904.5,3255 911.5,3279 918.5,3282 925.5,3313.7 932.5,3314.4 939.5,3332.3 946.5,3328.6 953.5,3342.5 960.5,3353.6 967.5,3370.3 974.5,3368.1 981.5,3381.5 988.5,3375.9 995.5,3391.9 1002.5,3385.8 1009.5,3384.7 1016.5,3387.5 1023.5,3400.4 1030.5,3401.3 1037.5,3405.6 1044.5,3406.3 1051.5,3410.3 1058.5,3416.3 1065.5,3410.4 1072.5,3413.3 1079.5,3411.8 1086.5,3407.7 1093.5,3413.7 1100.5,3420.5 1107.5,3412.9 1114.5,3423.9 1121.5,3418.5 1128.5,3419.3 1135.5,3421.9 1142.5,3419.9 1149.5,3421 1156.5,3426.2 1163.5,3420.5 1170.5,3423.3 1177.5,3421 1184.5,3426 1191.5,3436 1198.5,3431.1 1205.5,3425.1 1212.5,3423.1 1219.5,3430.7 1226.5,3431.6 1233.5,3428.1 1240.5,3434.5 1247.5,3432.2 1254.5,3433.5 1261.5,3434 1268.5,3434.9 1275.5,3430.1 1282.5,3429.2 1289.5,3435.2 1296.5,3430.5 1303.5,3427.1 1310.5,3431.8 1317.5,3429.1 1324.5,3431.3 1331.5,3439.7 1338.5,3435.4 1345.5,3428.6 1352.5,3426.1 1359.5,3429.8 1366.5,3427 1373.5,3430.5 1380.5,3430.7 1387.5,3431.8 1394.5,3429.8 1401.5,3425.7 1408.5,3429.4 1415.5,3430 1422.5,3430.5 1429.5,3433.4 1436.5,3426.7" fill="none" stroke="#c03030" stroke-width="2.6" stroke-linejoin="round" />
<polyline points="182.5,3417.4 184.5,3417.4 186.5,3417.4 188.5,3417.4 190.5,3417.4 192.5,3417.4 194.5,3417.4 196.5,3417.4 198.5,3417.4 200.5,3417.4 202.5,3417.4 204.5,3417.4 206.5,3417.4 208.5,3417.4 210.5,3417.4 212.5,3417.3 214.5,3417.3 216.5,3417.3 218.5,3417.3 220.5,3417.3 222.5,3417.3 224.5,3417.3 226.5,3417.3 228.5,3417.3 230.5,3417.3 232.5,3417.2 234.5,3417.2 236.5,3417.2 238.5,3417.2 240.5,3417.2 242.5,3417.2 244.5,3417.2 246.5,3417.1 248.5,3417.1 250.5,3417.1 252.5,3417.1 254.5,3417.1 256.5,3417 258.5,3417 260.5,3417 262.5,3417 264.5,3416.9 266.5,3416.9 268.5,3416.9 270.5,3416.9 272.5,3416.8 274.5,3416.8 276.5,3416.8 278.5,3416.7 280.5,3416.7 282.5,3416.7 284.5,3416.6 286.5,3416.6 288.5,3416.5 290.5,3416.5 292.5,3416.5 294.5,3416.4 296.5,3416.4 298.5,3416.3 300.5,3416.3 302.5,3416.2 304.5,3416.2 306.5,3416.1 308.5,3416 310.5,3416 312.5,3415.9 314.5,3415.9 316.5,3415.8 318.5,3415.7 320.5,3415.6 322.5,3415.6 324.5,3415.5 326.5,3415.4 328.5,3415.3 330.5,3415.2 332.5,3415.1 334.5,3415.1 336.5,3415 338.5,3414.9 340.5,3414.8 342.5,3414.7 344.5,3414.5 346.5,3414.4 348.5,3414.3 350.5,3414.2 352.5,3414.1 354.5,3413.9 356.5,3413.8 358.5,3413.7 360.5,3413.5 362.5,3413.4 364.5,3413.2 366.5,3413.1 368.5,3412.9 370.5,3412.8 372.5,3412.6 374.5,3412.4 376.5,3412.3 378.5,3412.1 380.5,3411.9 382.5,3411.7 384.5,3411.5 386.5,3411.3 388.5,3411.1 390.5,3410.9 392.5,3410.7 394.5,3410.5 396.5,3410.2 398.5,3410 400.5,3409.8 402.5,3409.5 404.5,3409.3 406.5,3409 408.5,3408.7 410.5,3408.5 412.5,3408.2 414.5,3407.9 416.5,3407.6 418.5,3407.3 420.5,3407 422.5,3406.7 424.5,3406.4 426.5,3406.1 428.5,3405.7 430.5,3405.4 432.5,3405.1 434.5,3404.7 436.5,3404.3 438.5,3404 440.5,3403.6 442.5,3403.2 444.5,3402.8 446.5,3402.4 448.5,3402 450.5,3401.6 452.5,3401.2 454.5,3400.8 456.5,3400.3 458.5,3399.9 460.5,3399.4 462.5,3399 464.5,3398.5 466.5,3398 468.5,3397.6 470.5,3397.1 472.5,3396.6 474.5,3396.1 476.5,3395.6 478.5,3395 480.5,3394.5 482.5,3394 484.5,3393.4 486.5,3392.9 488.5,3392.3 490.5,3391.7 492.5,3391.2 494.5,3390.6 496.5,3390 498.5,3389.4 500.5,3388.8 502.5,3388.1 504.5,3387.5 506.5,3386.9 508.5,3386.2 510.5,3385.6 512.5,3384.9 514.5,3384.2 516.5,3383.6 518.5,3382.9 520.5,3382.2 522.5,3381.5 524.5,3380.8 526.5,3380 528.5,3379.3 530.5,3378.6 532.5,3377.8 534.5,3377 536.5,3376.3 538.5,3375.5 540.5,3374.7 542.5,3373.9 544.5,3373.1 546.5,3372.3 548.5,3371.4 550.5,3370.6 552.5,3369.7 554.5,3368.8 556.5,3367.9 558.5,3367 560.5,3366.1 562.5,3365.2 564.5,3364.2 566.5,3363.3 568.5,3362.3 570.5,3361.3 572.5,3360.3 574.5,3359.3 576.5,3358.2 578.5,3357.2 580.5,3356.1 582.5,3354.9 584.5,3353.8 586.5,3352.7 588.5,3351.5 590.5,3350.3 592.5,3349 594.5,3347.8 596.5,3346.5 598.5,3345.1 600.5,3343.8 602.5,3342.4 604.5,3341 606.5,3339.5 608.5,3338 610.5,3336.5 612.5,3334.9 614.5,3333.3 616.5,3331.7 618.5,3329.9 620.5,3328.2 622.5,3326.4 624.5,3324.6 626.5,3322.7 628.5,3320.7 630.5,3318.7 632.5,3316.6 634.5,3314.5 636.5,3312.3 638.5,3310.1 640.5,3307.8 642.5,3305.4 644.5,3303 646.5,3300.5 648.5,3297.9 650.5,3295.3 652.5,3292.6 654.5,3289.8 656.5,3286.9 658.5,3284 660.5,3281 662.5,3277.9 664.5,3274.7 666.5,3271.5 668.5,3268.1 670.5,3264.7 672.5,3261.2 674.5,3257.6 676.5,3254 678.5,3250.2 680.5,3246.4 682.5,3242.5 684.5,3238.5 686.5,3234.4 688.5,3230.2 690.5,3226 692.5,3221.7 694.5,3217.3 696.5,3212.8 698.5,3208.3 700.5,3203.7 702.5,3199 704.5,3194.2 706.5,3189.4 708.5,3184.5 710.5,3179.5 712.5,3174.5 714.5,3169.4 716.5,3164.3 718.5,3159.1 720.5,3153.8 722.5,3148.6 724.5,3143.2 726.5,3137.9 728.5,3132.5 730.5,3127.1 732.5,3121.7 734.5,3116.2 736.5,3110.7 738.5,3105.3 740.5,3099.8 742.5,3094.3 744.5,3088.9 746.5,3083.4 748.5,3078 750.5,3072.6 752.5,3067.2 754.5,3061.8 756.5,3056.5 758.5,3051.3 760.5,3046.1 762.5,3040.9 764.5,3035.9 766.5,3030.8 768.5,3025.9 770.5,3021.1 772.5,3016.3 774.5,3011.6 776.5,3007.1 778.5,3002.6 780.5,2998.3 782.5,2994 784.5,2989.9 786.5,2985.9 788.5,2982.1 790.5,2978.3 792.5,2974.7 794.5,2971.3 796.5,2968 798.5,2964.8 800.5,2961.8 802.5,2959 804.5,2956.3 806.5,2953.8 808.5,2951.4 810.5,2949.2 812.5,2947.1 814.5,2945.3 816.5,2943.6 818.5,2942 820.5,2940.6 822.5,2939.4 824.5,2938.4 826.5,2937.5 828.5,2936.8 830.5,2936.2 832.5,2935.8 834.5,2935.5 836.5,2935.3 838.5,2935.3 840.5,2935.3 842.5,2935.5 844.5,2935.8 846.5,2936.3 848.5,2936.9 850.5,2937.6 852.5,2938.5 854.5,2939.5 856.5,2940.6 858.5,2941.9 860.5,2943.3 862.5,2944.8 864.5,2946.5 866.5,2948.4 868.5,2950.3 870.5,2952.4 872.5,2954.6 874.5,2957 876.5,2959.5 878.5,2962.1 880.5,2964.8 882.5,2967.7 884.5,2970.6 886.5,2973.7 888.5,2976.9 890.5,2980.2 892.5,2983.6 894.5,2987.1 896.5,2990.7 898.5,2994.4 900.5,2998.2 902.5,3002.1 904.5,3006 906.5,3010.1 908.5,3014.2 910.5,3018.4 912.5,3022.6 914.5,3027 916.5,3031.3 918.5,3035.8 920.5,3040.3 922.5,3044.8 924.5,3049.4 926.5,3054 928.5,3058.7 930.5,3063.4 932.5,3068.1 934.5,3072.9 936.5,3077.7 938.5,3082.5 940.5,3087.3 942.5,3092.2 944.5,3097 946.5,3101.9 948.5,3106.8 950.5,3111.7 952.5,3116.6 954.5,3121.5 956.5,3126.4 958.5,3131.3 960.5,3136.1 962.5,3141 964.5,3145.8 966.5,3150.6 968.5,3155.4 970.5,3160.2 972.5,3164.9 974.5,3169.6 976.5,3174.3 978.5,3178.9 980.5,3183.5 982.5,3188 984.5,3192.6 986.5,3197 988.5,3201.4 990.5,3205.8 992.5,3210.1 994.5,3214.4 996.5,3218.7 998.5,3222.8 1000.5,3226.9 1002.5,3231 1004.5,3235 1006.5,3239 1008.5,3242.9 1010.5,3246.7 1012.5,3250.5 1014.5,3254.2 1016.5,3257.9 1018.5,3261.5 1020.5,3265.1 1022.5,3268.6 1024.5,3272 1026.5,3275.4 1028.5,3278.7 1030.5,3282 1032.5,3285.2 1034.5,3288.3 1036.5,3291.4 1038.5,3294.4 1040.5,3297.4 1042.5,3300.3 1044.5,3303.2 1046.5,3306 1048.5,3308.7 1050.5,3311.4 1052.5,3314 1054.5,3316.6 1056.5,3319.2 1058.5,3321.6 1060.5,3324.1 1062.5,3326.4 1064.5,3328.8 1066.5,3331 1068.5,3333.3 1070.5,3335.5 1072.5,3337.6 1074.5,3339.7 1076.5,3341.7 1078.5,3343.7 1080.5,3345.7 1082.5,3347.6 1084.5,3349.5 1086.5,3351.3 1088.5,3353.1 1090.5,3354.8 1092.5,3356.5 1094.5,3358.2 1096.5,3359.8 1098.5,3361.4 1100.5,3363 1102.5,3364.5 1104.5,3366 1106.5,3367.4 1108.5,3368.8 1110.5,3370.2 1112.5,3371.5 1114.5,3372.9 1116.5,3374.1 1118.5,3375.4 1120.5,3376.6 1122.5,3377.8 1124.5,3379 1126.5,3380.1 1128.5,3381.2 1130.5,3382.3 1132.5,3383.4 1134.5,3384.4 1136.5,3385.4 1138.5,3386.4 1140.5,3387.3 1142.5,3388.3 1144.5,3389.2 1146.5,3390.1 1148.5,3390.9 1150.5,3391.8 1152.5,3392.6 1154.5,3393.4 1156.5,3394.1 1158.5,3394.9 1160.5,3395.6 1162.5,3396.3 1164.5,3397 1166.5,3397.7 1168.5,3398.4 1170.5,3399 1172.5,3399.6 1174.5,3400.2 1176.5,3400.8 1178.5,3401.4 1180.5,3402 1182.5,3402.5 1184.5,3403 1186.5,3403.5 1188.5,3404 1190.5,3404.5 1192.5,3405 1194.5,3405.4 1196.5,3405.9 1198.5,3406.3 1200.5,3406.7 1202.5,3407.1 1204.5,3407.5 1206.5,3407.8 1208.5,3408.2 1210.5,3408.6 1212.5,3408.9 1214.5,3409.2 1216.5,3409.5 1218.5,3409.9 1220.5,3410.1 1222.5,3410.4 1224.5,3410.7 1226.5,3411 1228.5,3411.2 1230.5,3411.5 1232.5,3411.7 1234.5,3412 1236.5,3412.2 1238.5,3412.4 1240.5,3412.6 1242.5,3412.8 1244.5,3413 1246.5,3413.2 1248.5,3413.4 1250.5,3413.6 1252.5,3413.7 1254.5,3413.9 1256.5,3414.1 1258.5,3414.2 1260.5,3414.3 1262.5,3414.5 1264.5,3414.6 1266.5,3414.7 1268.5,3414.9 1270.5,3415 1272.5,3415.1 1274.5,3415.2 1276.5,3415.3 1278.5,3415.4 1280.5,3415.5 1282.5,3415.6 1284.5,3415.7 1286.5,3415.8 1288.5,3415.9 1290.5,3415.9 1292.5,3416 1294.5,3416.1 1296.5,3416.2 1298.5,3416.2 1300.5,3416.3 1302.5,3416.3 1304.5,3416.4 1306.5,3416.5 1308.5,3416.5 1310.5,3416.6 1312.5,3416.6 1314.5,3416.6 1316.5,3416.7 1318.5,3416.7 1320.5,3416.8 1322.5,3416.8 1324.5,3416.8 1326.5,3416.9 1328.5,3416.9 1330.5,3416.9 1332.5,3417 1334.5,3417 1336.5,3417 1338.5,3417.1 1340.5,3417.1 1342.5,3417.1 1344.5,3417.1 1346.5,3417.1 1348.5,3417.2 1350.5,3417.2 1352.5,3417.2 1354.5,3417.2 1356.5,3417.2 1358.5,3417.2 1360.5,3417.3 1362.5,3417.3 1364.5,3417.3 1366.5,3417.3 1368.5,3417.3 1370.5,3417.3 1372.5,3417.3 1374.5,3417.3 1376.5,3417.4 1378.5,3417.4 1380.5,3417.4 1382.5,3417.4 1384.5,3417.4 1386.5,3417.4 1388.5,3417.4 1390.5,3417.4 1392.5,3417.4 1394.5,3417.4 1396.5,3417.4 1398.5,3417.4 1400.5,3417.4 1402.5,3417.4 1404.5,3417.4 1406.5,3417.4 1408.5,3417.4 1410.5,3417.4 1412.5,3417.5 1414.5,3417.5 1416.5,3417.5 1418.5,3417.5 1420.5,3417.5 1422.5,3417.5 1424.5,3417.5 1426.5,3417.5 1428.5,3417.5 1430.5,3417.5 1432.5,3417.5 1434.5,3417.5 1436.5,3417.5 1438.5,3417.5 1440.5,3417.5 1442.5,3417.5 1443.5,3417.5" fill="none" stroke="#3cd060" stroke-width="5.5" stroke-linejoin="round" stroke-opacity="0.9"/>
<polyline points="183.5,3418.2 190.5,3419.3 197.5,3414.4 204.5,3419.8 211.5,3418.2 218.5,3419.8 225.5,3418.2 232.5,3421 239.5,3414.2 246.5,3422.9 253.5,3421 260.5,3415 267.5,3419.1 274.5,3418.3 281.5,3410.8 288.5,3418.6 295.5,3414.4 302.5,3415.4 309.5,3413.9 316.5,3414.3 323.5,3415.8 330.5,3415.6 337.5,3409.2 344.5,3413.5 351.5,3409.1 358.5,3408.9 365.5,3411.8 372.5,3415.9 379.5,3414.5 386.5,3408.9 393.5,3407.7 400.5,3406.3 407.5,3409.5 414.5,3411.9 421.5,3406.9 428.5,3408.8 435.5,3405.9 442.5,3410 449.5,3392.6 456.5,3390.4 463.5,3397.8 470.5,3400.2 477.5,3393.3 484.5,3395.5 491.5,3385.5 498.5,3382.9 505.5,3383.4 512.5,3389.4 519.5,3386.3 526.5,3376.1 533.5,3378.4 540.5,3371 547.5,3371.9 554.5,3362.3 561.5,3365.4 568.5,3357.9 575.5,3358.5 582.5,3350.9 589.5,3345.7 596.5,3347.2 603.5,3339.5 610.5,3336.6 617.5,3328 624.5,3328.8 631.5,3311.9 638.5,3315.7 645.5,3311.6 652.5,3290.6 659.5,3296 666.5,3287.5 673.5,3263 680.5,3235.1 687.5,3218.6 694.5,3215.8 701.5,3217.3 708.5,3189.7 715.5,3174 722.5,3146.1 729.5,3122.4 736.5,3114.5 743.5,3080.1 750.5,3070.5 757.5,3059.4 764.5,3036.2 771.5,3024.5 778.5,2997.6 785.5,2994.7 792.5,2979.4 799.5,2944.1 806.5,2941.5 813.5,2937.6 820.5,2945.3 827.5,2922.9 834.5,2934.1 841.5,2937.4 848.5,2943.6 855.5,2939.7 862.5,2930.8 869.5,2932.4 876.5,2967.3 883.5,2966.7 890.5,2980.8 897.5,2990.6 904.5,2993.5 911.5,3003.7 918.5,3046.3 925.5,3063.5 932.5,3078 939.5,3087.1 946.5,3104.7 953.5,3114.9 960.5,3136.8 967.5,3149.1 974.5,3164.5 981.5,3187.7 988.5,3216.7 995.5,3200 1002.5,3236.2 1009.5,3250.5 1016.5,3248 1023.5,3272.8 1030.5,3282.7 1037.5,3289.4 1044.5,3299.5 1051.5,3302.7 1058.5,3333.6 1065.5,3345.9 1072.5,3348.1 1079.5,3342.8 1086.5,3353.1 1093.5,3359.7 1100.5,3358.1 1107.5,3366.6 1114.5,3375.9 1121.5,3374.9 1128.5,3371.6 1135.5,3378.2 1142.5,3389.6 1149.5,3389.6 1156.5,3392 1163.5,3401.9 1170.5,3397.4 1177.5,3395 1184.5,3399.3 1191.5,3410.2 1198.5,3396.5 1205.5,3409.7 1212.5,3408.7 1219.5,3402.4 1226.5,3402.3 1233.5,3409.8 1240.5,3405.6 1247.5,3402.9 1254.5,3412 1261.5,3406 1268.5,3406.7 1275.5,3405.6 1282.5,3404.4 1289.5,3405.9 1296.5,3404 1303.5,3407.2 1310.5,3409.4 1317.5,3409.8 1324.5,3410.4 1331.5,3411.7 1338.5,3409.5 1345.5,3405.3 1352.5,3410.6 1359.5,3402.5 1366.5,3405.7 1373.5,3409.1 1380.5,3403 1387.5,3412.7 1394.5,3404.6 1401.5,3402.8 1408.5,3404.8 1415.5,3404.5 1422.5,3406.4 1429.5,3405.7 1436.5,3409" fill="none" stroke="#111" stroke-width="3.4" stroke-linejoin="round" />
<g fill-opacity="0.45">
<polygon points="205.5,3417.2 208.5,3417.2 211.5,3417.1 214.5,3417.1 217.5,3417 220.5,3417 223.5,3416.9 226.5,3416.9 229.5,3416.8 232.5,3416.7 235.5,3416.7 238.5,3416.6 241.5,3416.5 244.5,3416.4 247.5,3416.3 250.5,3416.2 253.5,3416 256.5,3415.9 259.5,3415.8 262.5,3415.6 265.5,3415.4 268.5,3415.3 271.5,3415.1 274.5,3414.8 277.5,3414.6 280.5,3414.4 283.5,3414.1 286.5,3413.8 289.5,3413.5 292.5,3413.2 295.5,3412.9 298.5,3412.5 301.5,3412.1 304.5,3411.7 307.5,3411.2 310.5,3410.8 313.5,3410.3 316.5,3409.7 319.5,3409.2 322.5,3408.6 325.5,3408 328.5,3407.3 331.5,3406.6 334.5,3405.9 337.5,3405.1 340.5,3404.3 343.5,3403.4 346.5,3402.5 349.5,3401.6 352.5,3400.6 355.5,3399.6 358.5,3398.5 361.5,3397.4 364.5,3396.2 367.5,3395 370.5,3393.8 373.5,3392.4 376.5,3391.1 379.5,3389.7 382.5,3388.2 385.5,3386.7 388.5,3385.2 391.5,3383.6 394.5,3382 397.5,3380.3 400.5,3378.5 403.5,3376.8 406.5,3375 409.5,3373.1 412.5,3371.2 415.5,3369.3 418.5,3367.3 421.5,3365.3 424.5,3363.3 427.5,3361.2 430.5,3359.1 433.5,3357 436.5,3354.9 439.5,3352.8 442.5,3350.6 445.5,3348.4 448.5,3346.3 451.5,3344.1 454.5,3341.9 457.5,3339.8 460.5,3337.6 463.5,3335.5 466.5,3333.3 469.5,3331.3 472.5,3329.2 475.5,3327.2 478.5,3325.2 481.5,3323.2 484.5,3321.3 487.5,3319.4 490.5,3317.6 493.5,3315.9 496.5,3314.2 499.5,3312.6 502.5,3311 505.5,3309.5 508.5,3308.1 511.5,3306.8 514.5,3305.6 517.5,3304.5 520.5,3303.4 523.5,3302.5 526.5,3301.6 529.5,3300.9 532.5,3300.2 532.5,3301.3 529.5,3307.8 526.5,3314 523.5,3320 520.5,3325.8 517.5,3331.3 514.5,3336.6 511.5,3341.6 508.5,3346.4 505.5,3351 502.5,3355.3 499.5,3359.5 496.5,3363.4 493.5,3367.1 490.5,3370.6 487.5,3373.9 484.5,3377 481.5,3380 478.5,3382.8 475.5,3385.4 472.5,3387.8 469.5,3390.1 466.5,3392.2 463.5,3394.2 460.5,3396.1 457.5,3397.8 454.5,3399.4 451.5,3400.9 448.5,3402.3 445.5,3403.1 442.5,3403.7 439.5,3404.2 436.5,3404.7 433.5,3405.2 430.5,3405.7 427.5,3406.2 424.5,3406.7 421.5,3407.1 418.5,3407.6 415.5,3408 412.5,3408.4 409.5,3408.8 406.5,3409.2 403.5,3409.6 400.5,3409.9 397.5,3410.3 394.5,3410.6 391.5,3410.9 388.5,3411.2 385.5,3411.5 382.5,3411.8 379.5,3412.1 376.5,3412.4 373.5,3412.6 370.5,3412.9 367.5,3413.1 364.5,3413.3 361.5,3413.5 358.5,3413.7 355.5,3413.9 352.5,3414.1 349.5,3414.3 346.5,3414.5 343.5,3414.6 340.5,3414.8 337.5,3414.9 334.5,3415.1 331.5,3415.2 328.5,3415.3 325.5,3415.5 322.5,3415.6 319.5,3415.7 316.5,3415.8 313.5,3415.9 310.5,3416 307.5,3416.1 304.5,3416.2 301.5,3416.3 298.5,3416.3 295.5,3416.4 292.5,3416.5 289.5,3416.5 286.5,3416.6 283.5,3416.7 280.5,3416.7 277.5,3416.8 274.5,3416.8 271.5,3416.9 268.5,3416.9 265.5,3416.9 262.5,3417 259.5,3417 256.5,3417 253.5,3417.1 250.5,3417.1 247.5,3417.1 244.5,3417.2 241.5,3417.2 238.5,3417.5 235.5,3417.5 232.5,3417.5 229.5,3417.5 226.5,3417.5 223.5,3417.5 220.5,3417.5 217.5,3417.5 214.5,3417.5 211.5,3417.5 208.5,3417.5 205.5,3417.5" fill="#b9b9ff"/>
<polygon points="533.5,3299.1 536.5,3292.3 539.5,3285.2 542.5,3277.9 545.5,3270.4 548.5,3262.6 551.5,3254.6 554.5,3246.4 557.5,3238 560.5,3229.4 563.5,3220.6 566.5,3211.6 569.5,3202.5 572.5,3193.2 575.5,3183.8 578.5,3174.2 581.5,3164.6 584.5,3154.8 587.5,3145 590.5,3135.2 593.5,3125.3 596.5,3115.4 599.5,3105.5 602.5,3095.7 605.5,3086 608.5,3076.3 611.5,3066.8 614.5,3057.3 617.5,3048.1 620.5,3039.1 623.5,3030.2 626.5,3021.7 629.5,3013.3 632.5,3005.3 635.5,2997.6 638.5,2990.3 641.5,2983.3 644.5,2976.6 647.5,2970.4 650.5,2964.7 653.5,2959.3 656.5,2954.4 659.5,2950 662.5,2946.1 665.5,2942.7 668.5,2939.9 671.5,2937.5 674.5,2935.7 677.5,2934.4 680.5,2933.7 683.5,2933.5 686.5,2933.8 689.5,2934.6 692.5,2935.9 695.5,2937.7 698.5,2939.9 701.5,2942.6 704.5,2945.8 707.5,2949.4 710.5,2953.5 713.5,2957.9 716.5,2962.8 719.5,2968.1 722.5,2973.8 725.5,2979.8 728.5,2986.2 731.5,2992.9 734.5,3000 737.5,3007.3 740.5,3014.9 743.5,3022.8 746.5,3030.8 749.5,3039.2 752.5,3047.7 755.5,3056.3 758.5,3065.1 761.5,3074.1 764.5,3083.2 767.5,3092.3 770.5,3101.5 773.5,3110.8 776.5,3120.1 777.5,3123.2 777.5,3126.5 774.5,3132.6 771.5,3139 768.5,3145.5 765.5,3152.2 762.5,3155.6 759.5,3155.9 756.5,3156.4 753.5,3157 750.5,3157.9 747.5,3158.9 744.5,3160.2 741.5,3161.7 738.5,3163.4 735.5,3165.2 732.5,3167.3 729.5,3169.6 726.5,3172 723.5,3174.7 720.5,3177.5 717.5,3180.5 714.5,3183.7 711.5,3187 708.5,3190.5 705.5,3194.1 702.5,3197.9 699.5,3201.8 696.5,3205.9 693.5,3210 690.5,3214.3 687.5,3218.6 684.5,3223.1 681.5,3227.6 678.5,3232.2 675.5,3236.8 672.5,3241.5 669.5,3246.3 666.5,3251 663.5,3255.8 660.5,3260.6 657.5,3265.4 654.5,3270.2 651.5,3275 648.5,3279.8 645.5,3284.5 642.5,3289.2 639.5,3293.8 636.5,3298.4 633.5,3303 630.5,3307.4 627.5,3311.8 624.5,3316.2 621.5,3320.4 618.5,3324.6 615.5,3327.9 612.5,3325.6 609.5,3323.3 606.5,3321.2 603.5,3319.1 600.5,3317 597.5,3315.1 594.5,3313.2 591.5,3311.4 588.5,3309.7 585.5,3308.1 582.5,3306.6 579.5,3305.3 576.5,3304 573.5,3302.9 570.5,3301.9 567.5,3301 564.5,3300.2 561.5,3299.6 558.5,3299.1 555.5,3298.8 552.5,3298.6 549.5,3298.5 546.5,3298.6 543.5,3298.7 540.5,3299 537.5,3299.4 534.5,3299.8 533.5,3300" fill="#ffdcbe"/>
<polygon points="778.5,3124.5 781.5,3118.7 784.5,3113.2 787.5,3107.9 790.5,3102.9 793.5,3098.2 796.5,3093.8 799.5,3089.8 802.5,3086.1 805.5,3082.7 808.5,3079.7 811.5,3077.1 814.5,3074.8 817.5,3072.8 820.5,3071.3 823.5,3070.1 826.5,3069.2 829.5,3068.7 832.5,3068.5 835.5,3068.6 838.5,3068.9 841.5,3069.5 844.5,3070.3 847.5,3071.5 850.5,3072.9 853.5,3074.6 856.5,3076.6 859.5,3078.9 862.5,3081.5 865.5,3084.4 868.5,3087.5 871.5,3090.9 874.5,3094.6 877.5,3098.6 880.5,3102.8 883.5,3107.2 886.5,3111.9 889.5,3116.7 892.5,3121.8 895.5,3127.1 898.5,3132.6 901.5,3138.2 904.5,3144 907.5,3150 910.5,3156.1 913.5,3162.2 916.5,3168.5 919.5,3174.9 922.5,3181.4 925.5,3187.9 928.5,3194.5 931.5,3201.1 934.5,3207.7 937.5,3214.3 940.5,3221 943.5,3227.6 946.5,3234.1 949.5,3240.7 952.5,3247.1 955.5,3253.5 958.5,3259.9 961.5,3266.1 964.5,3272.3 967.5,3278.3 970.5,3284.3 973.5,3290.1 976.5,3295.8 979.5,3301.3 979.5,3301.5 976.5,3300.4 973.5,3299.3 970.5,3298.3 967.5,3297.3 964.5,3296.5 961.5,3295.7 958.5,3294.9 955.5,3294.2 952.5,3293.6 949.5,3293.1 946.5,3292.7 943.5,3292.3 940.5,3292 937.5,3291.7 934.5,3291.6 931.5,3291.5 928.5,3291.5 925.5,3291.6 922.5,3291.7 919.5,3291.8 916.5,3292 913.5,3292.3 910.5,3292.6 907.5,3293 904.5,3292.3 901.5,3288.1 898.5,3283.8 895.5,3279.5 892.5,3275.2 889.5,3270.9 886.5,3266.5 883.5,3262.2 880.5,3257.8 877.5,3253.5 874.5,3249.2 871.5,3244.8 868.5,3240.6 865.5,3236.3 862.5,3232.1 859.5,3227.9 856.5,3223.8 853.5,3219.8 850.5,3215.8 847.5,3211.9 844.5,3208.1 841.5,3204.4 838.5,3200.8 835.5,3197.3 832.5,3193.8 829.5,3190.5 826.5,3187.4 823.5,3184.3 820.5,3181.4 817.5,3178.6 814.5,3176 811.5,3173.5 808.5,3171.2 805.5,3169 802.5,3167 799.5,3165.1 796.5,3163.4 793.5,3161.9 790.5,3160.5 787.5,3154 784.5,3144.8 781.5,3135.5 778.5,3126.3" fill="#a0ffff"/>
<polygon points="980.5,3301.9 983.5,3303.1 986.5,3304.4 989.5,3305.7 992.5,3307.1 995.5,3308.5 998.5,3310 1001.5,3311.5 1004.5,3313.1 1007.5,3314.7 1010.5,3316.3 1013.5,3318 1016.5,3319.7 1019.5,3321.4 1022.5,3323.1 1025.5,3324.9 1028.5,3326.7 1031.5,3328.6 1034.5,3330.4 1037.5,3332.2 1040.5,3334.1 1043.5,3336 1046.5,3337.9 1049.5,3339.7 1052.5,3341.6 1055.5,3343.5 1058.5,3345.4 1061.5,3347.3 1064.5,3349.1 1067.5,3351 1070.5,3352.8 1073.5,3354.7 1076.5,3356.5 1079.5,3358.3 1082.5,3360.1 1085.5,3361.9 1088.5,3363.6 1091.5,3365.3 1094.5,3367 1097.5,3368.7 1100.5,3370.3 1103.5,3372 1106.5,3373.5 1109.5,3375.1 1112.5,3376.6 1115.5,3378.1 1118.5,3379.6 1121.5,3381 1124.5,3382.4 1127.5,3383.8 1130.5,3385.1 1133.5,3386.4 1136.5,3387.7 1139.5,3388.9 1142.5,3390.1 1145.5,3391.3 1148.5,3392.4 1151.5,3393.5 1154.5,3394.6 1157.5,3395.6 1160.5,3396.6 1163.5,3397.5 1166.5,3398.5 1169.5,3399.4 1172.5,3400.2 1175.5,3401.1 1178.5,3401.9 1181.5,3402.6 1184.5,3403.4 1187.5,3404.1 1190.5,3404.8 1193.5,3405.4 1196.5,3406.1 1199.5,3406.7 1202.5,3407.3 1205.5,3407.8 1208.5,3408.3 1211.5,3408.8 1214.5,3409.3 1217.5,3409.8 1220.5,3410.2 1223.5,3410.6 1226.5,3411 1229.5,3411.4 1232.5,3411.8 1235.5,3412.1 1238.5,3412.5 1241.5,3412.8 1244.5,3413 1247.5,3413.3 1250.5,3413.6 1253.5,3413.8 1256.5,3414.1 1259.5,3414.3 1262.5,3414.5 1265.5,3414.7 1268.5,3414.9 1271.5,3415.1 1274.5,3415.2 1277.5,3415.4 1280.5,3415.5 1283.5,3415.7 1286.5,3415.8 1289.5,3415.9 1292.5,3416 1295.5,3416.1 1298.5,3416.2 1301.5,3416.3 1304.5,3416.4 1307.5,3416.5 1310.5,3416.6 1313.5,3416.6 1316.5,3416.7 1319.5,3416.8 1322.5,3416.8 1325.5,3416.9 1328.5,3416.9 1331.5,3417 1334.5,3417 1337.5,3417 1340.5,3417.1 1343.5,3417.1 1346.5,3417.1 1349.5,3417.2 1352.5,3417.2 1352.5,3417.5 1349.5,3417.5 1346.5,3417.5 1343.5,3417.5 1340.5,3417.5 1337.5,3417.5 1334.5,3417.5 1331.5,3417.5 1328.5,3417.5 1325.5,3417.5 1322.5,3417.5 1319.5,3417.5 1316.5,3417.5 1313.5,3417.5 1310.5,3417.5 1307.5,3417.5 1304.5,3417.5 1301.5,3417.5 1298.5,3417.5 1295.5,3417.5 1292.5,3417.5 1289.5,3417.5 1286.5,3417.5 1283.5,3417.5 1280.5,3417.5 1277.5,3417.5 1274.5,3417.5 1271.5,3417.5 1268.5,3417.5 1265.5,3417.5 1262.5,3417.5 1259.5,3417.5 1256.5,3417.5 1253.5,3417.5 1250.5,3417.5 1247.5,3417.5 1244.5,3417.5 1241.5,3417.5 1238.5,3417.5 1235.5,3417.5 1232.5,3417.5 1229.5,3417.5 1226.5,3417.5 1223.5,3417.5 1220.5,3417.5 1217.5,3417.5 1214.5,3417.5 1211.5,3417.5 1208.5,3417.5 1205.5,3417.5 1202.5,3417.5 1199.5,3417.5 1196.5,3417.5 1193.5,3417.5 1190.5,3417.5 1187.5,3417.2 1184.5,3417.2 1181.5,3417.1 1178.5,3417.1 1175.5,3417 1172.5,3416.9 1169.5,3416.9 1166.5,3416.8 1163.5,3416.7 1160.5,3416.6 1157.5,3416.5 1154.5,3416.4 1151.5,3416.2 1148.5,3416.1 1145.5,3415.9 1142.5,3415.7 1139.5,3415.5 1136.5,3415.3 1133.5,3415.1 1130.5,3414.8 1127.5,3414.5 1124.5,3414.2 1121.5,3413.9 1118.5,3413.5 1115.5,3413.1 1112.5,3412.6 1109.5,3412.1 1106.5,3411.6 1103.5,3411 1100.5,3410.4 1097.5,3409.7 1094.5,3409 1091.5,3408.2 1088.5,3407.3 1085.5,3406.4 1082.5,3405.4 1079.5,3404.4 1076.5,3403.2 1073.5,3402 1070.5,3400.7 1067.5,3399.3 1064.5,3397.8 1061.5,3396.2 1058.5,3394.5 1055.5,3392.7 1052.5,3390.8 1049.5,3388.8 1046.5,3386.6 1043.5,3384.4 1040.5,3382 1037.5,3379.4 1034.5,3376.8 1031.5,3374 1028.5,3371 1025.5,3367.9 1022.5,3364.7 1019.5,3361.3 1016.5,3357.8 1013.5,3354.1 1010.5,3350.2 1007.5,3346.2 1004.5,3342 1001.5,3337.7 998.5,3333.2 995.5,3328.6 992.5,3323.8 989.5,3318.9 986.5,3313.8 983.5,3308.5 980.5,3303.2" fill="#ffacac"/>
<polygon points="239.5,3417.2 242.5,3417.2 245.5,3417.1 248.5,3417.1 251.5,3417.1 254.5,3417.1 257.5,3417 260.5,3417 263.5,3417 266.5,3416.9 269.5,3416.9 272.5,3416.8 275.5,3416.8 278.5,3416.7 281.5,3416.7 284.5,3416.6 287.5,3416.6 290.5,3416.5 293.5,3416.4 296.5,3416.4 299.5,3416.3 302.5,3416.2 305.5,3416.1 308.5,3416.1 311.5,3416 314.5,3415.9 317.5,3415.8 320.5,3415.7 323.5,3415.5 326.5,3415.4 329.5,3415.3 332.5,3415.2 335.5,3415 338.5,3414.9 341.5,3414.7 344.5,3414.6 347.5,3414.4 350.5,3414.2 353.5,3414.1 356.5,3413.9 359.5,3413.7 362.5,3413.5 365.5,3413.2 368.5,3413 371.5,3412.8 374.5,3412.5 377.5,3412.3 380.5,3412 383.5,3411.7 386.5,3411.4 389.5,3411.1 392.5,3410.8 395.5,3410.5 398.5,3410.2 401.5,3409.8 404.5,3409.4 407.5,3409.1 410.5,3408.7 413.5,3408.3 416.5,3407.9 419.5,3407.4 422.5,3407 425.5,3406.5 428.5,3406.1 431.5,3405.6 434.5,3405.1 437.5,3404.6 440.5,3404 443.5,3403.5 446.5,3402.9 447.5,3402.7 447.5,3402.8 444.5,3404 441.5,3405.2 438.5,3406.3 435.5,3407.3 432.5,3408.2 429.5,3409 426.5,3409.8 423.5,3410.5 420.5,3411.2 417.5,3411.8 414.5,3412.3 411.5,3412.8 408.5,3413.3 405.5,3413.7 402.5,3414.1 399.5,3414.4 396.5,3414.7 393.5,3415 390.5,3415.3 387.5,3415.5 384.5,3415.7 381.5,3415.9 378.5,3416.1 375.5,3416.2 372.5,3416.4 369.5,3416.5 366.5,3416.6 363.5,3416.7 360.5,3416.8 357.5,3416.9 354.5,3417 351.5,3417 348.5,3417.1 345.5,3417.1 342.5,3417.2 339.5,3417.5 336.5,3417.5 333.5,3417.5 330.5,3417.5 327.5,3417.5 324.5,3417.5 321.5,3417.5 318.5,3417.5 315.5,3417.5 312.5,3417.5 309.5,3417.5 306.5,3417.5 303.5,3417.5 300.5,3417.5 297.5,3417.5 294.5,3417.5 291.5,3417.5 288.5,3417.5 285.5,3417.5 282.5,3417.5 279.5,3417.5 276.5,3417.5 273.5,3417.5 270.5,3417.5 267.5,3417.5 264.5,3417.5 261.5,3417.5 258.5,3417.5 255.5,3417.5 252.5,3417.5 249.5,3417.5 246.5,3417.5 243.5,3417.5 240.5,3417.5 239.5,3417.5" fill="#373ca0"/>
<polygon points="448.5,3402.3 451.5,3400.9 454.5,3399.4 457.5,3397.8 460.5,3396.1 463.5,3394.2 466.5,3392.2 469.5,3390.1 472.5,3387.8 475.5,3385.4 478.5,3382.8 481.5,3380 484.5,3377 487.5,3373.9 490.5,3370.6 493.5,3367.1 496.5,3363.4 499.5,3359.5 502.5,3355.3 505.5,3351 508.5,3346.4 511.5,3341.6 514.5,3336.6 517.5,3331.3 520.5,3325.8 523.5,3320 526.5,3314 529.5,3307.8 532.5,3301.3 535.5,3299.7 538.5,3299.2 541.5,3298.9 544.5,3298.6 547.5,3298.5 550.5,3298.5 553.5,3298.6 556.5,3298.9 559.5,3299.3 562.5,3299.8 565.5,3300.5 568.5,3301.3 571.5,3302.2 574.5,3303.2 577.5,3304.4 580.5,3305.7 583.5,3307.1 586.5,3308.6 589.5,3310.3 592.5,3312 595.5,3313.8 598.5,3315.7 601.5,3317.7 604.5,3319.8 607.5,3321.9 610.5,3324.1 613.5,3326.3 615.5,3327.9 615.5,3328.6 612.5,3332.6 609.5,3336.5 606.5,3340.3 603.5,3343.9 600.5,3347.5 597.5,3351 594.5,3354.3 591.5,3357.6 588.5,3360.7 585.5,3363.7 582.5,3366.7 579.5,3367.6 576.5,3368.4 573.5,3369.3 570.5,3370.2 567.5,3371 564.5,3371.9 561.5,3372.8 558.5,3373.7 555.5,3374.5 552.5,3375.4 549.5,3376.3 546.5,3377.2 543.5,3378.1 540.5,3379 537.5,3379.9 534.5,3380.8 531.5,3381.7 528.5,3382.6 525.5,3383.4 522.5,3384.3 519.5,3385.2 516.5,3386 513.5,3386.9 510.5,3387.7 507.5,3388.6 504.5,3389.4 501.5,3390.2 498.5,3391 495.5,3391.8 492.5,3392.6 489.5,3393.3 486.5,3394.1 483.5,3394.9 480.5,3395.6 477.5,3396.3 474.5,3397 471.5,3397.7 468.5,3398.4 465.5,3399 462.5,3399.7 459.5,3400.3 456.5,3401 453.5,3401.6 450.5,3402.2 448.5,3402.5" fill="#a082d2"/>
<polygon points="616.5,3327.3 619.5,3323.2 622.5,3319 625.5,3314.7 628.5,3310.4 631.5,3306 634.5,3301.5 637.5,3296.9 640.5,3292.3 643.5,3287.6 646.5,3282.9 649.5,3278.2 652.5,3273.4 655.5,3268.6 658.5,3263.8 661.5,3259 664.5,3254.2 667.5,3249.4 670.5,3244.7 673.5,3239.9 676.5,3235.3 679.5,3230.6 682.5,3226.1 685.5,3221.6 688.5,3217.2 691.5,3212.8 694.5,3208.6 697.5,3204.5 700.5,3200.5 703.5,3196.6 706.5,3192.9 709.5,3189.3 712.5,3185.9 715.5,3182.6 718.5,3179.5 721.5,3176.5 724.5,3173.8 727.5,3171.2 730.5,3168.8 733.5,3166.6 736.5,3164.6 739.5,3162.8 742.5,3161.2 745.5,3159.8 748.5,3158.6 751.5,3157.6 754.5,3156.8 757.5,3156.2 760.5,3155.8 763.5,3155.6 763.5,3156.8 760.5,3163.7 757.5,3170.8 754.5,3178 751.5,3185.3 748.5,3192.6 745.5,3200 742.5,3207.4 739.5,3214.8 736.5,3222.2 733.5,3229.6 730.5,3237 727.5,3244.3 724.5,3251.5 721.5,3258.6 718.5,3265.6 715.5,3272.5 712.5,3279.2 709.5,3285.9 706.5,3292.3 703.5,3298.6 700.5,3304.8 697.5,3310.7 694.5,3316.5 691.5,3322.1 688.5,3327.6 685.5,3332.8 682.5,3337.8 679.5,3342.6 676.5,3347.3 673.5,3351.6 670.5,3351.7 667.5,3351.8 664.5,3351.9 661.5,3352.1 658.5,3352.3 655.5,3352.6 652.5,3352.9 649.5,3353.2 646.5,3353 643.5,3350.5 640.5,3348.1 637.5,3345.6 634.5,3343.1 631.5,3340.7 628.5,3338.2 625.5,3335.8 622.5,3333.4 619.5,3331 616.5,3328.6" fill="#aac878"/>
<polygon points="764.5,3154.5 767.5,3147.7 770.5,3141.1 773.5,3134.7 776.5,3128.5 779.5,3129.4 782.5,3138.6 785.5,3147.9 788.5,3157.1 788.5,3159.7 785.5,3158.6 782.5,3157.7 779.5,3157 776.5,3156.4 773.5,3155.9 770.5,3155.6 767.5,3155.5 764.5,3155.5" fill="#b9d7a0"/>
<polygon points="789.5,3160.1 792.5,3161.4 795.5,3162.9 798.5,3164.6 801.5,3166.4 804.5,3168.3 807.5,3170.5 810.5,3172.7 813.5,3175.2 816.5,3177.8 819.5,3180.5 822.5,3183.3 825.5,3186.3 828.5,3189.5 831.5,3192.7 834.5,3196.1 837.5,3199.6 840.5,3203.2 843.5,3206.9 846.5,3210.6 849.5,3214.5 852.5,3218.5 855.5,3222.5 858.5,3226.6 861.5,3230.7 864.5,3234.9 867.5,3239.1 870.5,3243.4 873.5,3247.7 876.5,3252 879.5,3256.4 882.5,3260.7 885.5,3265.1 888.5,3269.4 891.5,3273.8 894.5,3278.1 897.5,3282.4 900.5,3286.7 903.5,3290.9 904.5,3292.3 904.5,3293.4 901.5,3293.9 898.5,3294.4 895.5,3295 892.5,3295.6 889.5,3296.3 886.5,3297 883.5,3297.8 880.5,3298.6 877.5,3299.5 874.5,3300.4 871.5,3301.4 868.5,3302.3 865.5,3303.4 862.5,3304.4 859.5,3305.6 856.5,3306.7 853.5,3307.9 850.5,3309.1 847.5,3310.3 844.5,3304.3 841.5,3298 838.5,3291.6 835.5,3285 832.5,3278.1 829.5,3271 826.5,3263.8 823.5,3256.3 820.5,3248.6 817.5,3240.8 814.5,3232.7 811.5,3224.5 808.5,3216.2 805.5,3207.7 802.5,3199 799.5,3190.2 796.5,3181.3 793.5,3172.3 790.5,3163.2 789.5,3160.2" fill="#00cd96"/>
<polygon points="905.5,3293.3 908.5,3292.9 911.5,3292.5 914.5,3292.2 917.5,3292 920.5,3291.8 923.5,3291.6 926.5,3291.5 929.5,3291.5 932.5,3291.5 935.5,3291.6 938.5,3291.8 941.5,3292.1 944.5,3292.4 947.5,3292.8 950.5,3293.3 953.5,3293.8 956.5,3294.5 959.5,3295.2 962.5,3295.9 965.5,3296.8 968.5,3297.7 971.5,3298.6 974.5,3299.7 977.5,3300.8 980.5,3303.2 983.5,3308.5 986.5,3313.8 989.5,3318.9 992.5,3323.8 995.5,3328.6 998.5,3333.2 1001.5,3337.7 1004.5,3342 1007.5,3346.2 1010.5,3350.2 1013.5,3354.1 1016.5,3357.8 1019.5,3361.3 1022.5,3364.7 1025.5,3367.9 1028.5,3371 1031.5,3374 1034.5,3376.8 1037.5,3379.4 1040.5,3382 1043.5,3384.4 1046.5,3386.6 1049.5,3388.8 1052.5,3390.8 1055.5,3392.7 1058.5,3394.5 1061.5,3396.2 1064.5,3397.8 1067.5,3399.3 1070.5,3400.7 1073.5,3402 1076.5,3403.2 1079.5,3404.4 1082.5,3405.4 1085.5,3406.4 1088.5,3407.3 1091.5,3408.2 1094.5,3409 1097.5,3409.7 1100.5,3410.4 1103.5,3411 1106.5,3411.6 1109.5,3412.1 1112.5,3412.6 1115.5,3413.1 1118.5,3413.5 1121.5,3413.9 1124.5,3414.2 1127.5,3414.5 1130.5,3414.8 1133.5,3415.1 1136.5,3415.3 1139.5,3415.5 1142.5,3415.7 1145.5,3415.9 1148.5,3416.1 1151.5,3416.2 1154.5,3416.4 1157.5,3416.5 1160.5,3416.6 1163.5,3416.7 1166.5,3416.8 1169.5,3416.9 1172.5,3416.9 1175.5,3417 1178.5,3417.1 1181.5,3417.1 1184.5,3417.2 1187.5,3417.2 1187.5,3417.5 1184.5,3417.5 1181.5,3417.5 1178.5,3417.5 1175.5,3417.5 1172.5,3417.5 1169.5,3417.5 1166.5,3417.5 1163.5,3417.2 1160.5,3417.2 1157.5,3417.1 1154.5,3417.1 1151.5,3417 1148.5,3417 1145.5,3416.9 1142.5,3416.9 1139.5,3416.8 1136.5,3416.7 1133.5,3416.7 1130.5,3416.6 1127.5,3416.5 1124.5,3416.4 1121.5,3416.3 1118.5,3416.1 1115.5,3416 1112.5,3415.8 1109.5,3415.7 1106.5,3415.5 1103.5,3415.3 1100.5,3415.1 1097.5,3414.9 1094.5,3414.7 1091.5,3414.4 1088.5,3414.1 1085.5,3413.8 1082.5,3413.5 1079.5,3413.2 1076.5,3412.8 1073.5,3412.4 1070.5,3412 1067.5,3411.5 1064.5,3411.1 1061.5,3410.5 1058.5,3410 1055.5,3409.4 1052.5,3408.7 1049.5,3408.1 1046.5,3407.4 1043.5,3406.6 1040.5,3405.8 1037.5,3404.9 1034.5,3404 1031.5,3403 1028.5,3402 1025.5,3400.9 1022.5,3399.8 1019.5,3398.6 1016.5,3397.3 1013.5,3396 1010.5,3394.6 1007.5,3393.1 1004.5,3391.6 1001.5,3389.9 998.5,3388.2 995.5,3386.5 992.5,3384.6 989.5,3382.7 986.5,3380.6 983.5,3378.5 980.5,3376.3 977.5,3374.1 974.5,3371.7 971.5,3369.2 968.5,3366.7 965.5,3364 962.5,3361.3 959.5,3358.5 956.5,3355.6 953.5,3352.6 950.5,3349.5 947.5,3346.3 944.5,3343.1 941.5,3339.7 938.5,3336.3 935.5,3332.8 932.5,3329.2 929.5,3325.5 926.5,3321.7 923.5,3317.9 920.5,3314 917.5,3310.1 914.5,3306.1 911.5,3302 908.5,3297.9 905.5,3293.7" fill="#de9696"/>
<polygon points="341.5,3417.2 344.5,3417.1 347.5,3417.1 350.5,3417 353.5,3417 356.5,3416.9 359.5,3416.8 362.5,3416.8 365.5,3416.7 368.5,3416.5 371.5,3416.4 374.5,3416.3 377.5,3416.1 380.5,3416 383.5,3415.8 386.5,3415.6 389.5,3415.4 392.5,3415.1 395.5,3414.8 398.5,3414.5 401.5,3414.2 404.5,3413.8 407.5,3413.4 410.5,3413 413.5,3412.5 416.5,3412 419.5,3411.4 422.5,3410.8 425.5,3410.1 428.5,3409.3 431.5,3408.5 434.5,3407.6 437.5,3406.6 440.5,3405.6 443.5,3404.4 446.5,3403.2 449.5,3402.4 452.5,3401.8 455.5,3401.2 458.5,3400.5 461.5,3399.9 464.5,3399.3 467.5,3398.6 470.5,3397.9 473.5,3397.2 476.5,3396.5 479.5,3395.8 482.5,3395.1 485.5,3394.4 488.5,3393.6 491.5,3392.8 494.5,3392.1 497.5,3391.3 500.5,3390.5 503.5,3389.7 506.5,3388.8 509.5,3388 512.5,3387.2 515.5,3386.3 518.5,3385.5 521.5,3384.6 524.5,3383.7 527.5,3382.8 530.5,3382 533.5,3381.1 536.5,3380.2 539.5,3379.3 542.5,3378.4 545.5,3377.5 548.5,3376.6 551.5,3375.7 554.5,3374.8 557.5,3373.9 560.5,3373.1 563.5,3372.2 566.5,3371.3 569.5,3370.4 572.5,3369.6 575.5,3368.7 578.5,3367.9 581.5,3367.1 581.5,3367.6 578.5,3370.4 575.5,3373 572.5,3375.6 569.5,3378 566.5,3380.4 563.5,3382.6 560.5,3384.8 557.5,3386.8 554.5,3388.7 551.5,3390.6 548.5,3392.3 545.5,3394 542.5,3395.6 539.5,3397.1 536.5,3398.5 533.5,3399.8 530.5,3401.1 527.5,3402.2 524.5,3403.4 521.5,3404.4 518.5,3405.4 515.5,3406.3 512.5,3407.2 509.5,3408 506.5,3408.7 503.5,3409.4 500.5,3410.1 497.5,3410.7 494.5,3411.2 491.5,3411.8 488.5,3412.2 485.5,3412.7 482.5,3413.1 479.5,3413.5 476.5,3413.8 473.5,3414.2 470.5,3414.5 467.5,3414.7 464.5,3415 461.5,3415.2 458.5,3415.4 455.5,3415.6 452.5,3415.8 449.5,3416 446.5,3416.1 443.5,3416.3 440.5,3416.4 437.5,3416.5 434.5,3416.6 431.5,3416.7 428.5,3416.8 425.5,3416.9 422.5,3416.9 419.5,3417 416.5,3417 413.5,3417.1 410.5,3417.1 407.5,3417.2 404.5,3417.5 401.5,3417.5 398.5,3417.5 395.5,3417.5 392.5,3417.5 389.5,3417.5 386.5,3417.5 383.5,3417.5 380.5,3417.5 377.5,3417.5 374.5,3417.5 371.5,3417.5 368.5,3417.5 365.5,3417.5 362.5,3417.5 359.5,3417.5 356.5,3417.5 353.5,3417.5 350.5,3417.5 347.5,3417.5 344.5,3417.5 341.5,3417.5" fill="#373ca0"/>
<polygon points="582.5,3366.7 585.5,3363.7 588.5,3360.7 591.5,3357.6 594.5,3354.3 597.5,3351 600.5,3347.5 603.5,3343.9 606.5,3340.3 609.5,3336.5 612.5,3332.6 615.5,3328.6 618.5,3330.2 621.5,3332.6 624.5,3335 627.5,3337.4 630.5,3339.8 633.5,3342.3 636.5,3344.8 639.5,3347.2 642.5,3349.7 645.5,3352.2 646.5,3353 646.5,3353.5 643.5,3353.9 640.5,3354.3 637.5,3354.7 634.5,3355.2 631.5,3355.7 628.5,3356.2 625.5,3356.7 622.5,3357.3 619.5,3357.9 616.5,3358.5 613.5,3359.1 610.5,3359.8 607.5,3360.4 604.5,3361.1 601.5,3361.9 598.5,3362.6 595.5,3363.3 592.5,3364.1 589.5,3364.9 586.5,3365.7 583.5,3366.5 582.5,3366.8" fill="#555fb9"/>
<polygon points="647.5,3353.4 650.5,3353.1 653.5,3352.8 656.5,3352.5 659.5,3352.3 662.5,3352.1 665.5,3351.9 668.5,3351.7 671.5,3351.6 673.5,3351.6 673.5,3351.7 670.5,3355.9 667.5,3360 664.5,3363.8 661.5,3364.9 658.5,3362.5 655.5,3360.2 652.5,3357.8 649.5,3355.4 647.5,3353.8" fill="#696e00"/>
<polygon points="674.5,3350.2 677.5,3345.7 680.5,3341 683.5,3336.1 686.5,3331.1 689.5,3325.8 692.5,3320.3 695.5,3314.6 698.5,3308.8 701.5,3302.8 704.5,3296.6 707.5,3290.2 710.5,3283.7 713.5,3277 716.5,3270.2 719.5,3263.3 722.5,3256.2 725.5,3249.1 728.5,3241.8 731.5,3234.5 734.5,3227.2 737.5,3219.8 740.5,3212.4 743.5,3204.9 746.5,3197.5 749.5,3190.1 752.5,3182.8 755.5,3175.6 758.5,3168.4 761.5,3161.4 764.5,3155.5 767.5,3155.5 770.5,3155.6 773.5,3155.9 776.5,3156.4 779.5,3157 782.5,3157.7 785.5,3158.6 788.5,3159.7 791.5,3166.2 794.5,3175.3 797.5,3184.3 800.5,3193.2 803.5,3201.9 806.5,3210.5 809.5,3219 812.5,3227.3 815.5,3235.4 818.5,3243.4 821.5,3251.2 824.5,3258.8 827.5,3266.2 830.5,3273.4 833.5,3280.4 836.5,3287.2 839.5,3293.8 842.5,3300.1 845.5,3306.3 847.5,3310.3 847.5,3310.3 844.5,3311.6 841.5,3312.9 838.5,3314.3 835.5,3315.6 832.5,3317 829.5,3318.4 826.5,3319.9 823.5,3321.3 820.5,3322.8 817.5,3324.3 814.5,3325.8 811.5,3327.3 808.5,3328.8 805.5,3330.4 802.5,3331.9 799.5,3333.5 796.5,3335 793.5,3336.6 790.5,3338.2 787.5,3339.8 784.5,3341.4 781.5,3342.9 778.5,3344.5 775.5,3346.1 772.5,3347.7 769.5,3349.2 766.5,3350.8 763.5,3352.4 760.5,3353.9 757.5,3355.4 754.5,3357 751.5,3358.5 748.5,3360 745.5,3359.7 742.5,3359 739.5,3358.3 736.5,3357.7 733.5,3357.1 730.5,3356.5 727.5,3355.9 724.5,3355.4 721.5,3354.9 718.5,3354.5 715.5,3354 712.5,3353.6 709.5,3353.2 706.5,3352.9 703.5,3352.6 700.5,3352.4 697.5,3352.1 694.5,3351.9 691.5,3351.8 688.5,3351.6 685.5,3351.6 682.5,3351.5 679.5,3351.5 676.5,3351.5 674.5,3351.6" fill="#50af50"/>
<polygon points="848.5,3309.9 851.5,3308.7 854.5,3307.5 857.5,3306.3 860.5,3305.2 863.5,3304.1 866.5,3303 869.5,3302 872.5,3301 875.5,3300.1 878.5,3299.2 881.5,3298.4 884.5,3297.6 887.5,3296.8 890.5,3296.1 893.5,3295.4 896.5,3294.8 899.5,3294.3 902.5,3293.7 905.5,3293.7 908.5,3297.9 911.5,3302 914.5,3306.1 917.5,3310.1 920.5,3314 923.5,3317.9 926.5,3321.7 929.5,3325.5 932.5,3329.2 935.5,3332.8 938.5,3336.3 941.5,3339.7 944.5,3343.1 947.5,3346.3 950.5,3349.5 953.5,3352.6 956.5,3355.6 959.5,3358.5 962.5,3361.3 965.5,3364 968.5,3366.7 971.5,3369.2 974.5,3371.7 977.5,3374.1 980.5,3376.3 983.5,3378.5 986.5,3380.6 989.5,3382.7 992.5,3384.6 995.5,3386.5 998.5,3388.2 1001.5,3389.9 1004.5,3391.6 1007.5,3393.1 1010.5,3394.6 1013.5,3396 1016.5,3397.3 1019.5,3398.6 1022.5,3399.8 1025.5,3400.9 1028.5,3402 1031.5,3403 1034.5,3404 1037.5,3404.9 1040.5,3405.8 1043.5,3406.6 1046.5,3407.4 1049.5,3408.1 1052.5,3408.7 1055.5,3409.4 1058.5,3410 1061.5,3410.5 1064.5,3411.1 1067.5,3411.5 1070.5,3412 1073.5,3412.4 1076.5,3412.8 1079.5,3413.2 1082.5,3413.5 1085.5,3413.8 1088.5,3414.1 1091.5,3414.4 1094.5,3414.7 1097.5,3414.9 1100.5,3415.1 1103.5,3415.3 1106.5,3415.5 1109.5,3415.7 1112.5,3415.8 1115.5,3416 1118.5,3416.1 1121.5,3416.3 1124.5,3416.4 1127.5,3416.5 1130.5,3416.6 1133.5,3416.7 1136.5,3416.7 1139.5,3416.8 1142.5,3416.9 1145.5,3416.9 1148.5,3417 1151.5,3417 1154.5,3417.1 1157.5,3417.1 1160.5,3417.2 1163.5,3417.2 1163.5,3417.5 1160.5,3417.5 1157.5,3417.5 1154.5,3417.5 1151.5,3417.5 1148.5,3417.5 1145.5,3417.5 1142.5,3417.5 1139.5,3417.5 1136.5,3417.5 1133.5,3417.5 1130.5,3417.5 1127.5,3417.5 1124.5,3417.5 1121.5,3417.5 1118.5,3417.5 1115.5,3417.5 1112.5,3417.5 1109.5,3417.5 1106.5,3417.5 1103.5,3417.5 1100.5,3417.5 1097.5,3417.2 1094.5,3417.2 1091.5,3417.1 1088.5,3417.1 1085.5,3417.1 1082.5,3417.1 1079.5,3417 1076.5,3417 1073.5,3416.9 1070.5,3416.9 1067.5,3416.9 1064.5,3416.8 1061.5,3416.8 1058.5,3416.7 1055.5,3416.6 1052.5,3416.6 1049.5,3416.5 1046.5,3416.5 1043.5,3416.4 1040.5,3416.3 1037.5,3416.2 1034.5,3416.1 1031.5,3416 1028.5,3415.9 1025.5,3415.8 1022.5,3415.7 1019.5,3415.6 1016.5,3415.5 1013.5,3415.4 1010.5,3415.2 1007.5,3415.1 1004.5,3414.9 1001.5,3414.8 998.5,3414.6 995.5,3414.4 992.5,3414.3 989.5,3414.1 986.5,3413.9 983.5,3413.7 980.5,3413.4 977.5,3413.2 974.5,3413 971.5,3412.7 968.5,3412.3 965.5,3411.8 962.5,3411.3 959.5,3410.6 956.5,3410 953.5,3409.3 950.5,3408.5 947.5,3407.7 944.5,3406.8 941.5,3405.8 938.5,3404.7 935.5,3403.6 932.5,3402.4 929.5,3401.1 926.5,3399.7 923.5,3398.2 920.5,3396.6 917.5,3394.9 914.5,3393 911.5,3391.1 908.5,3389 905.5,3386.8 902.5,3384.4 899.5,3381.9 896.5,3379.3 893.5,3376.5 890.5,3373.5 887.5,3370.4 884.5,3367.1 881.5,3363.6 878.5,3359.9 875.5,3356 872.5,3352 869.5,3347.7 866.5,3343.3 863.5,3338.6 860.5,3333.8 857.5,3328.7 854.5,3323.4 851.5,3317.9 848.5,3312.2" fill="#64915a"/>
<polygon points="405.5,3417.2 408.5,3417.2 411.5,3417.1 414.5,3417.1 417.5,3417 420.5,3417 423.5,3416.9 426.5,3416.8 429.5,3416.8 432.5,3416.7 435.5,3416.6 438.5,3416.5 441.5,3416.3 444.5,3416.2 447.5,3416.1 450.5,3415.9 453.5,3415.8 456.5,3415.6 459.5,3415.4 462.5,3415.2 465.5,3414.9 468.5,3414.7 471.5,3414.4 474.5,3414.1 477.5,3413.7 480.5,3413.4 483.5,3413 486.5,3412.5 489.5,3412.1 492.5,3411.6 495.5,3411 498.5,3410.5 501.5,3409.8 504.5,3409.2 507.5,3408.5 510.5,3407.7 513.5,3406.9 516.5,3406 519.5,3405.1 522.5,3404.1 525.5,3403 528.5,3401.9 531.5,3400.7 534.5,3399.4 537.5,3398 540.5,3396.6 543.5,3395.1 546.5,3393.5 549.5,3391.8 552.5,3390 555.5,3388.1 558.5,3386.1 561.5,3384.1 564.5,3381.9 567.5,3379.6 570.5,3377.2 573.5,3374.8 576.5,3372.2 579.5,3369.5 582.5,3366.8 585.5,3366 588.5,3365.2 591.5,3364.4 594.5,3363.6 597.5,3362.8 600.5,3362.1 603.5,3361.4 606.5,3360.7 609.5,3360 612.5,3359.3 615.5,3358.7 618.5,3358.1 621.5,3357.5 624.5,3356.9 627.5,3356.4 630.5,3355.8 633.5,3355.3 636.5,3354.9 639.5,3354.4 642.5,3354 645.5,3353.6 648.5,3354.6 651.5,3357 654.5,3359.4 657.5,3361.8 660.5,3364.1 662.5,3365.6 662.5,3366.3 659.5,3369.8 656.5,3373.2 653.5,3376.4 650.5,3379.4 647.5,3382.2 644.5,3384.9 641.5,3387.4 638.5,3389.7 635.5,3391.9 632.5,3394 629.5,3395.9 626.5,3397.7 623.5,3399.4 620.5,3400.9 617.5,3402.4 614.5,3403.7 611.5,3404.9 608.5,3406.1 605.5,3407.1 602.5,3407.7 599.5,3408.1 596.5,3408.6 593.5,3409 590.5,3409.4 587.5,3409.8 584.5,3410.1 581.5,3410.5 578.5,3410.8 575.5,3411.2 572.5,3411.5 569.5,3411.8 566.5,3412.1 563.5,3412.3 560.5,3412.6 557.5,3412.9 554.5,3413.1 551.5,3413.3 548.5,3413.6 545.5,3413.8 542.5,3414 539.5,3414.2 536.5,3414.3 533.5,3414.5 530.5,3414.7 527.5,3414.8 524.5,3415 521.5,3415.1 518.5,3415.3 515.5,3415.4 512.5,3415.5 509.5,3415.6 506.5,3415.7 503.5,3415.8 500.5,3415.9 497.5,3416 494.5,3416.1 491.5,3416.2 488.5,3416.3 485.5,3416.4 482.5,3416.4 479.5,3416.5 476.5,3416.6 473.5,3416.6 470.5,3416.7 467.5,3416.7 464.5,3416.8 461.5,3416.8 458.5,3416.9 455.5,3416.9 452.5,3416.9 449.5,3417 446.5,3417 443.5,3417 440.5,3417.1 437.5,3417.1 434.5,3417.1 431.5,3417.2 428.5,3417.2 425.5,3417.5 422.5,3417.5 419.5,3417.5 416.5,3417.5 413.5,3417.5 410.5,3417.5 407.5,3417.5 405.5,3417.5" fill="#373ca0"/>
<polygon points="663.5,3365.1 666.5,3361.3 669.5,3357.3 672.5,3353.1 675.5,3351.5 678.5,3351.5 681.5,3351.5 684.5,3351.5 687.5,3351.6 690.5,3351.7 693.5,3351.9 696.5,3352.1 699.5,3352.3 702.5,3352.5 705.5,3352.8 708.5,3353.1 711.5,3353.5 714.5,3353.9 717.5,3354.3 720.5,3354.8 723.5,3355.2 726.5,3355.8 729.5,3356.3 732.5,3356.9 735.5,3357.5 738.5,3358.1 741.5,3358.8 744.5,3359.5 747.5,3360.2 747.5,3360.5 744.5,3361.9 741.5,3363.4 738.5,3364.9 735.5,3366.3 732.5,3367.7 729.5,3369.1 726.5,3370.5 723.5,3371.8 720.5,3373.2 717.5,3374.5 714.5,3375.8 711.5,3377 708.5,3378.3 705.5,3379.5 702.5,3380.7 699.5,3381.9 696.5,3383.1 693.5,3384.2 690.5,3384.8 687.5,3383 684.5,3381.1 681.5,3379.2 678.5,3377.2 675.5,3375.1 672.5,3373 669.5,3370.9 666.5,3368.6 663.5,3366.4" fill="#696e00"/>
<polygon points="748.5,3360 751.5,3358.5 754.5,3357 757.5,3355.4 760.5,3353.9 763.5,3352.4 766.5,3350.8 769.5,3349.2 772.5,3347.7 775.5,3346.1 778.5,3344.5 781.5,3342.9 784.5,3341.4 787.5,3339.8 790.5,3338.2 793.5,3336.6 796.5,3335 799.5,3333.5 802.5,3331.9 805.5,3330.4 808.5,3328.8 811.5,3327.3 814.5,3325.8 817.5,3324.3 820.5,3322.8 823.5,3321.3 826.5,3319.9 829.5,3318.4 832.5,3317 835.5,3315.6 838.5,3314.3 841.5,3312.9 844.5,3311.6 847.5,3310.3 850.5,3316 853.5,3321.6 856.5,3327 859.5,3332.1 862.5,3337 865.5,3341.8 868.5,3346.3 871.5,3350.6 874.5,3354.7 877.5,3358.6 880.5,3362.4 883.5,3365.9 886.5,3369.3 889.5,3372.5 892.5,3375.5 895.5,3378.4 898.5,3381.1 901.5,3383.6 904.5,3386 907.5,3388.3 910.5,3390.4 913.5,3392.4 916.5,3394.3 919.5,3396 922.5,3397.7 925.5,3399.2 928.5,3400.6 931.5,3402 934.5,3403.2 937.5,3404.4 940.5,3405.4 943.5,3406.4 946.5,3407.4 949.5,3408.2 952.5,3409 955.5,3409.8 958.5,3410.4 961.5,3411.1 964.5,3411.6 967.5,3412.2 969.5,3412.5 969.5,3412.5 966.5,3412.3 963.5,3412 960.5,3411.7 957.5,3411.4 954.5,3411.1 951.5,3410.7 948.5,3410.4 945.5,3410 942.5,3409.6 939.5,3409.2 936.5,3408.8 933.5,3408.4 930.5,3408 927.5,3407.5 924.5,3407.1 921.5,3406.6 918.5,3406.1 915.5,3405.6 912.5,3405.1 909.5,3404.5 906.5,3404 903.5,3403.4 900.5,3402.8 897.5,3402.2 894.5,3401.5 891.5,3400.9 888.5,3400.2 885.5,3399.6 882.5,3398.9 879.5,3398.2 876.5,3397.5 873.5,3396.7 870.5,3396 867.5,3395.2 864.5,3394.4 861.5,3393.6 858.5,3392.8 855.5,3392 852.5,3391.2 849.5,3390.3 846.5,3389.4 843.5,3388.6 840.5,3387.7 837.5,3386.8 834.5,3385.9 831.5,3385 828.5,3384.1 825.5,3383.2 822.5,3382.2 819.5,3381.3 816.5,3380.4 813.5,3379.4 810.5,3378.5 807.5,3377.5 804.5,3376.6 801.5,3375.7 798.5,3374.7 795.5,3373.8 792.5,3372.8 789.5,3371.9 786.5,3371 783.5,3370.1 780.5,3369.2 777.5,3368.3 774.5,3367.4 771.5,3366.5 768.5,3365.7 765.5,3364.8 762.5,3364 759.5,3363.2 756.5,3362.4 753.5,3361.6 750.5,3360.9 748.5,3360.4" fill="#64915a"/>
<polygon points="970.5,3412.6 973.5,3412.9 976.5,3413.1 979.5,3413.4 982.5,3413.6 985.5,3413.8 988.5,3414 991.5,3414.2 994.5,3414.4 997.5,3414.6 1000.5,3414.7 1003.5,3414.9 1006.5,3415 1009.5,3415.2 1012.5,3415.3 1015.5,3415.5 1018.5,3415.6 1021.5,3415.7 1024.5,3415.8 1027.5,3415.9 1030.5,3416 1033.5,3416.1 1036.5,3416.2 1039.5,3416.3 1042.5,3416.4 1045.5,3416.4 1048.5,3416.5 1051.5,3416.6 1054.5,3416.6 1057.5,3416.7 1060.5,3416.7 1063.5,3416.8 1066.5,3416.8 1069.5,3416.9 1072.5,3416.9 1075.5,3417 1078.5,3417 1081.5,3417 1084.5,3417.1 1087.5,3417.1 1090.5,3417.1 1093.5,3417.2 1096.5,3417.2 1097.5,3417.2 1097.5,3417.5 1094.5,3417.5 1091.5,3417.5 1088.5,3417.5 1085.5,3417.5 1082.5,3417.5 1079.5,3417.5 1076.5,3417.5 1073.5,3417.5 1070.5,3417.5 1067.5,3417.5 1064.5,3417.5 1061.5,3417.5 1058.5,3417.5 1055.5,3417.5 1052.5,3417.5 1049.5,3417.5 1046.5,3417.2 1043.5,3417.2 1040.5,3417.1 1037.5,3417.1 1034.5,3417 1031.5,3416.9 1028.5,3416.9 1025.5,3416.8 1022.5,3416.7 1019.5,3416.6 1016.5,3416.5 1013.5,3416.4 1010.5,3416.3 1007.5,3416.1 1004.5,3416 1001.5,3415.8 998.5,3415.6 995.5,3415.4 992.5,3415.2 989.5,3414.9 986.5,3414.6 983.5,3414.3 980.5,3414 977.5,3413.6 974.5,3413.2 971.5,3412.8 970.5,3412.7" fill="#738719"/>
<polygon points="426.5,3417.2 429.5,3417.2 432.5,3417.2 435.5,3417.1 438.5,3417.1 441.5,3417.1 444.5,3417 447.5,3417 450.5,3417 453.5,3416.9 456.5,3416.9 459.5,3416.9 462.5,3416.8 465.5,3416.8 468.5,3416.7 471.5,3416.7 474.5,3416.6 477.5,3416.5 480.5,3416.5 483.5,3416.4 486.5,3416.3 489.5,3416.3 492.5,3416.2 495.5,3416.1 498.5,3416 501.5,3415.9 504.5,3415.8 507.5,3415.7 510.5,3415.6 513.5,3415.5 516.5,3415.3 519.5,3415.2 522.5,3415.1 525.5,3414.9 528.5,3414.8 531.5,3414.6 534.5,3414.5 537.5,3414.3 540.5,3414.1 543.5,3413.9 546.5,3413.7 549.5,3413.5 552.5,3413.3 555.5,3413 558.5,3412.8 561.5,3412.5 564.5,3412.3 567.5,3412 570.5,3411.7 573.5,3411.4 576.5,3411.1 579.5,3410.7 582.5,3410.4 585.5,3410 588.5,3409.6 591.5,3409.3 594.5,3408.8 597.5,3408.4 600.5,3408 603.5,3407.5 604.5,3407.4 604.5,3407.5 601.5,3408.4 598.5,3409.3 595.5,3410.1 592.5,3410.8 589.5,3411.5 586.5,3412.1 583.5,3412.6 580.5,3413.1 577.5,3413.6 574.5,3414 571.5,3414.4 568.5,3414.7 565.5,3415 562.5,3415.3 559.5,3415.5 556.5,3415.8 553.5,3416 550.5,3416.1 547.5,3416.3 544.5,3416.4 541.5,3416.6 538.5,3416.7 535.5,3416.8 532.5,3416.9 529.5,3416.9 526.5,3417 523.5,3417.1 520.5,3417.1 517.5,3417.2 514.5,3417.5 511.5,3417.5 508.5,3417.5 505.5,3417.5 502.5,3417.5 499.5,3417.5 496.5,3417.5 493.5,3417.5 490.5,3417.5 487.5,3417.5 484.5,3417.5 481.5,3417.5 478.5,3417.5 475.5,3417.5 472.5,3417.5 469.5,3417.5 466.5,3417.5 463.5,3417.5 460.5,3417.5 457.5,3417.5 454.5,3417.5 451.5,3417.5 448.5,3417.5 445.5,3417.5 442.5,3417.5 439.5,3417.5 436.5,3417.5 433.5,3417.5 430.5,3417.5 427.5,3417.5 426.5,3417.5" fill="#373ca0"/>
<polygon points="605.5,3407.1 608.5,3406.1 611.5,3404.9 614.5,3403.7 617.5,3402.4 620.5,3400.9 623.5,3399.4 626.5,3397.7 629.5,3395.9 632.5,3394 635.5,3391.9 638.5,3389.7 641.5,3387.4 644.5,3384.9 647.5,3382.2 650.5,3379.4 653.5,3376.4 656.5,3373.2 659.5,3369.8 662.5,3366.3 665.5,3367.9 668.5,3370.1 671.5,3372.3 674.5,3374.4 677.5,3376.5 680.5,3378.5 683.5,3380.5 686.5,3382.4 689.5,3384.2 690.5,3384.8 690.5,3385.3 687.5,3386.4 684.5,3387.5 681.5,3388.5 678.5,3389.5 675.5,3390.5 672.5,3391.5 669.5,3392.4 666.5,3393.4 663.5,3394.3 660.5,3395.1 657.5,3396 654.5,3396.8 651.5,3397.6 648.5,3398.4 645.5,3399.1 642.5,3399.9 639.5,3400.6 636.5,3401.3 633.5,3401.9 630.5,3402.6 627.5,3403.2 624.5,3403.8 621.5,3404.4 618.5,3405 615.5,3405.5 612.5,3406.1 609.5,3406.6 606.5,3407.1 605.5,3407.2" fill="#373ca0"/>
<polygon points="691.5,3385 694.5,3383.8 697.5,3382.7 700.5,3381.5 703.5,3380.3 706.5,3379.1 709.5,3377.9 712.5,3376.6 715.5,3375.3 718.5,3374 721.5,3372.7 724.5,3371.4 727.5,3370 730.5,3368.6 733.5,3367.2 736.5,3365.8 739.5,3364.4 742.5,3362.9 745.5,3361.4 748.5,3360.4 751.5,3361.1 754.5,3361.9 757.5,3362.7 760.5,3363.5 763.5,3364.3 766.5,3365.1 769.5,3366 772.5,3366.8 775.5,3367.7 778.5,3368.6 781.5,3369.5 784.5,3370.4 787.5,3371.3 790.5,3372.2 793.5,3373.2 796.5,3374.1 799.5,3375 802.5,3376 805.5,3376.9 808.5,3377.9 811.5,3378.8 814.5,3379.7 817.5,3380.7 820.5,3381.6 823.5,3382.5 826.5,3383.5 829.5,3384.4 832.5,3385.3 835.5,3386.2 838.5,3387.1 841.5,3388 844.5,3388.9 847.5,3389.7 850.5,3390.6 853.5,3391.4 856.5,3392.3 859.5,3393.1 862.5,3393.9 865.5,3394.7 868.5,3395.5 871.5,3396.2 874.5,3397 877.5,3397.7 880.5,3398.4 883.5,3399.1 886.5,3399.8 889.5,3400.5 892.5,3401.1 895.5,3401.8 898.5,3402.4 901.5,3403 904.5,3403.6 907.5,3404.1 910.5,3404.7 913.5,3405.2 916.5,3405.8 919.5,3406.3 922.5,3406.8 925.5,3407.2 928.5,3407.7 931.5,3408.1 934.5,3408.6 937.5,3409 940.5,3409.4 943.5,3409.8 946.5,3410.1 949.5,3410.5 952.5,3410.8 955.5,3411.2 958.5,3411.5 961.5,3411.8 964.5,3412.1 967.5,3412.4 970.5,3412.7 973.5,3413.1 976.5,3413.5 979.5,3413.9 982.5,3414.2 985.5,3414.5 988.5,3414.8 991.5,3415.1 994.5,3415.3 997.5,3415.5 1000.5,3415.7 1003.5,3415.9 1006.5,3416.1 1009.5,3416.2 1012.5,3416.4 1015.5,3416.5 1018.5,3416.6 1021.5,3416.7 1024.5,3416.8 1027.5,3416.8 1030.5,3416.9 1033.5,3417 1036.5,3417 1039.5,3417.1 1042.5,3417.1 1045.5,3417.2 1046.5,3417.2 1046.5,3417.5 1043.5,3417.5 1040.5,3417.5 1037.5,3417.5 1034.5,3417.5 1031.5,3417.5 1028.5,3417.5 1025.5,3417.5 1022.5,3417.5 1019.5,3417.5 1016.5,3417.5 1013.5,3417.5 1010.5,3417.5 1007.5,3417.5 1004.5,3417.5 1001.5,3417.5 998.5,3417.5 995.5,3417.5 992.5,3417.5 989.5,3417.5 986.5,3417.5 983.5,3417.5 980.5,3417.5 977.5,3417.5 974.5,3417.5 971.5,3417.5 968.5,3417.5 965.5,3417.5 962.5,3417.5 959.5,3417.5 956.5,3417.5 953.5,3417.5 950.5,3417.5 947.5,3417.5 944.5,3417.5 941.5,3417.5 938.5,3417.5 935.5,3417.5 932.5,3417.5 929.5,3417.5 926.5,3417.5 923.5,3417.5 920.5,3417.5 917.5,3417.5 914.5,3417.5 911.5,3417.5 908.5,3417.5 905.5,3417.5 902.5,3417.5 899.5,3417.5 896.5,3417.5 893.5,3417.5 890.5,3417.5 887.5,3417.5 884.5,3417.5 881.5,3417.5 878.5,3417.5 875.5,3417.5 872.5,3417.5 869.5,3417.5 866.5,3417.5 863.5,3417.5 860.5,3417.5 857.5,3417.5 854.5,3417.5 851.5,3417.2 848.5,3417.1 845.5,3417.1 842.5,3417.1 839.5,3417 836.5,3416.9 833.5,3416.9 830.5,3416.8 827.5,3416.7 824.5,3416.6 821.5,3416.5 818.5,3416.4 815.5,3416.3 812.5,3416.2 809.5,3416 806.5,3415.9 803.5,3415.7 800.5,3415.5 797.5,3415.3 794.5,3415.1 791.5,3414.9 788.5,3414.6 785.5,3414.3 782.5,3414 779.5,3413.7 776.5,3413.3 773.5,3412.9 770.5,3412.5 767.5,3412.1 764.5,3411.6 761.5,3411.1 758.5,3410.6 755.5,3410 752.5,3409.3 749.5,3408.7 746.5,3408 743.5,3407.2 740.5,3406.4 737.5,3405.6 734.5,3404.7 731.5,3403.7 728.5,3402.7 725.5,3401.6 722.5,3400.5 719.5,3399.3 716.5,3398.1 713.5,3396.8 710.5,3395.4 707.5,3394 704.5,3392.6 701.5,3391 698.5,3389.4 695.5,3387.8 692.5,3386 691.5,3385.4" fill="#696e00"/>
<polygon points="516.5,3417.2 519.5,3417.1 522.5,3417.1 525.5,3417 528.5,3417 531.5,3416.9 534.5,3416.8 537.5,3416.7 540.5,3416.6 543.5,3416.5 546.5,3416.3 549.5,3416.2 552.5,3416 555.5,3415.8 558.5,3415.6 561.5,3415.4 564.5,3415.1 567.5,3414.8 570.5,3414.5 573.5,3414.1 576.5,3413.7 579.5,3413.3 582.5,3412.8 585.5,3412.3 588.5,3411.7 591.5,3411 594.5,3410.3 597.5,3409.5 600.5,3408.7 603.5,3407.8 606.5,3407.1 609.5,3406.6 612.5,3406.1 615.5,3405.5 618.5,3405 621.5,3404.4 624.5,3403.8 627.5,3403.2 630.5,3402.6 633.5,3401.9 636.5,3401.3 639.5,3400.6 642.5,3399.9 645.5,3399.1 648.5,3398.4 651.5,3397.6 654.5,3396.8 657.5,3396 660.5,3395.1 663.5,3394.3 666.5,3393.4 669.5,3392.4 672.5,3391.5 675.5,3390.5 678.5,3389.5 681.5,3388.5 684.5,3387.5 687.5,3386.4 690.5,3385.3 693.5,3386.6 696.5,3388.3 699.5,3390 702.5,3391.5 705.5,3393.1 708.5,3394.5 711.5,3395.9 714.5,3397.2 717.5,3398.5 720.5,3399.7 723.5,3400.9 726.5,3402 729.5,3403 732.5,3404 735.5,3405 738.5,3405.8 741.5,3406.7 744.5,3407.5 747.5,3408.2 750.5,3408.9 753.5,3409.6 756.5,3410.2 759.5,3410.7 762.5,3411.3 765.5,3411.8 768.5,3412.2 771.5,3412.7 774.5,3413.1 777.5,3413.5 780.5,3413.8 783.5,3414.1 786.5,3414.4 789.5,3414.7 792.5,3414.9 795.5,3415.2 798.5,3415.4 801.5,3415.6 804.5,3415.8 807.5,3415.9 810.5,3416.1 813.5,3416.2 816.5,3416.3 819.5,3416.5 822.5,3416.6 825.5,3416.7 828.5,3416.7 831.5,3416.8 834.5,3416.9 837.5,3417 840.5,3417 843.5,3417.1 846.5,3417.1 849.5,3417.2 852.5,3417.2 852.5,3417.5 849.5,3417.5 846.5,3417.5 843.5,3417.5 840.5,3417.5 837.5,3417.5 834.5,3417.5 831.5,3417.5 828.5,3417.5 825.5,3417.5 822.5,3417.5 819.5,3417.5 816.5,3417.5 813.5,3417.5 810.5,3417.5 807.5,3417.5 804.5,3417.5 801.5,3417.5 798.5,3417.5 795.5,3417.5 792.5,3417.5 789.5,3417.5 786.5,3417.5 783.5,3417.5 780.5,3417.5 777.5,3417.5 774.5,3417.5 771.5,3417.5 768.5,3417.5 765.5,3417.5 762.5,3417.5 759.5,3417.5 756.5,3417.5 753.5,3417.5 750.5,3417.5 747.5,3417.5 744.5,3417.5 741.5,3417.5 738.5,3417.5 735.5,3417.5 732.5,3417.5 729.5,3417.5 726.5,3417.5 723.5,3417.5 720.5,3417.5 717.5,3417.5 714.5,3417.5 711.5,3417.5 708.5,3417.5 705.5,3417.5 702.5,3417.5 699.5,3417.5 696.5,3417.5 693.5,3417.5 690.5,3417.5 687.5,3417.5 684.5,3417.5 681.5,3417.5 678.5,3417.5 675.5,3417.5 672.5,3417.5 669.5,3417.5 666.5,3417.5 663.5,3417.5 660.5,3417.5 657.5,3417.5 654.5,3417.5 651.5,3417.5 648.5,3417.5 645.5,3417.5 642.5,3417.5 639.5,3417.5 636.5,3417.5 633.5,3417.5 630.5,3417.5 627.5,3417.5 624.5,3417.5 621.5,3417.5 618.5,3417.5 615.5,3417.5 612.5,3417.5 609.5,3417.5 606.5,3417.5 603.5,3417.5 600.5,3417.5 597.5,3417.5 594.5,3417.5 591.5,3417.5 588.5,3417.5 585.5,3417.5 582.5,3417.5 579.5,3417.5 576.5,3417.5 573.5,3417.5 570.5,3417.5 567.5,3417.5 564.5,3417.5 561.5,3417.5 558.5,3417.5 555.5,3417.5 552.5,3417.5 549.5,3417.5 546.5,3417.5 543.5,3417.5 540.5,3417.5 537.5,3417.5 534.5,3417.5 531.5,3417.5 528.5,3417.5 525.5,3417.5 522.5,3417.5 519.5,3417.5 516.5,3417.5" fill="#373ca0"/>
</g>
<rect x="181.5" y="2521" width="1264.0" height="950" fill="none" stroke="#4a4a4a" stroke-width="3.2"/>
<line x1="1445.5" y1="3471.0" x2="1445.5" y2="3490.0" stroke="#4a4a4a" stroke-width="3.2"/>
<line x1="1445.5" y1="2521.0" x2="1445.5" y2="2539.0" stroke="#4a4a4a" stroke-width="3.2"/>
<text x="1445.5" y="3545.8" font-size="61.00" fill="#3a3a3a" text-anchor="middle" stroke="#3a3a3a" stroke-width="0.6" >528</text>
<line x1="1305.1" y1="3471.0" x2="1305.1" y2="3481.0" stroke="#4a4a4a" stroke-width="3.2"/>
<line x1="1305.1" y1="2521.0" x2="1305.1" y2="2530.0" stroke="#4a4a4a" stroke-width="3.2"/>
<line x1="1164.6" y1="3471.0" x2="1164.6" y2="3490.0" stroke="#4a4a4a" stroke-width="3.2"/>
<line x1="1164.6" y1="2521.0" x2="1164.6" y2="2539.0" stroke="#4a4a4a" stroke-width="3.2"/>
<text x="1164.6" y="3545.8" font-size="61.00" fill="#3a3a3a" text-anchor="middle" stroke="#3a3a3a" stroke-width="0.6" >530</text>
<line x1="1024.2" y1="3471.0" x2="1024.2" y2="3481.0" stroke="#4a4a4a" stroke-width="3.2"/>
<line x1="1024.2" y1="2521.0" x2="1024.2" y2="2530.0" stroke="#4a4a4a" stroke-width="3.2"/>
<line x1="883.7" y1="3471.0" x2="883.7" y2="3490.0" stroke="#4a4a4a" stroke-width="3.2"/>
<line x1="883.7" y1="2521.0" x2="883.7" y2="2539.0" stroke="#4a4a4a" stroke-width="3.2"/>
<text x="883.7" y="3545.8" font-size="61.00" fill="#3a3a3a" text-anchor="middle" stroke="#3a3a3a" stroke-width="0.6" >532</text>
<line x1="743.3" y1="3471.0" x2="743.3" y2="3481.0" stroke="#4a4a4a" stroke-width="3.2"/>
<line x1="743.3" y1="2521.0" x2="743.3" y2="2530.0" stroke="#4a4a4a" stroke-width="3.2"/>
<line x1="602.8" y1="3471.0" x2="602.8" y2="3490.0" stroke="#4a4a4a" stroke-width="3.2"/>
<line x1="602.8" y1="2521.0" x2="602.8" y2="2539.0" stroke="#4a4a4a" stroke-width="3.2"/>
<text x="602.8" y="3545.8" font-size="61.00" fill="#3a3a3a" text-anchor="middle" stroke="#3a3a3a" stroke-width="0.6" >534</text>
<line x1="462.4" y1="3471.0" x2="462.4" y2="3481.0" stroke="#4a4a4a" stroke-width="3.2"/>
<line x1="462.4" y1="2521.0" x2="462.4" y2="2530.0" stroke="#4a4a4a" stroke-width="3.2"/>
<line x1="321.9" y1="3471.0" x2="321.9" y2="3490.0" stroke="#4a4a4a" stroke-width="3.2"/>
<line x1="321.9" y1="2521.0" x2="321.9" y2="2539.0" stroke="#4a4a4a" stroke-width="3.2"/>
<text x="321.9" y="3545.8" font-size="61.00" fill="#3a3a3a" text-anchor="middle" stroke="#3a3a3a" stroke-width="0.6" >536</text>
<line x1="181.5" y1="3471.0" x2="181.5" y2="3481.0" stroke="#4a4a4a" stroke-width="3.2"/>
<line x1="181.5" y1="2521.0" x2="181.5" y2="2530.0" stroke="#4a4a4a" stroke-width="3.2"/>
<line x1="797.0" y1="2563.8" x2="894.5" y2="2563.8" stroke="#303030" stroke-width="5.5"/>
<text x="905.0" y="2578.3" font-size="38.50" fill="#3a3a3a" text-anchor="start" stroke="#3a3a3a" stroke-width="0.6" letter-spacing="1.9">Experimental (as-deposited)</text>
<line x1="797.0" y1="2611.1" x2="894.5" y2="2611.1" stroke="#80d8d8" stroke-width="5.5"/>
<text x="905.0" y="2625.6" font-size="38.50" fill="#3a3a3a" text-anchor="start" stroke="#3a3a3a" stroke-width="0.6" letter-spacing="1.9">peak fitting-1</text>
<line x1="797.0" y1="2658.3" x2="894.5" y2="2658.3" stroke="#a05050" stroke-width="5.5"/>
<text x="905.0" y="2672.8" font-size="38.50" fill="#3a3a3a" text-anchor="start" stroke="#3a3a3a" stroke-width="0.6" letter-spacing="1.9">peak fitting-2</text>
<line x1="797.0" y1="2705.6" x2="894.5" y2="2705.6" stroke="#703030" stroke-width="5.5"/>
<text x="905.0" y="2720.1" font-size="38.50" fill="#3a3a3a" text-anchor="start" stroke="#3a3a3a" stroke-width="0.6" letter-spacing="1.9">peak fitting-3</text>
<line x1="797.0" y1="2752.8" x2="894.5" y2="2752.8" stroke="#40b060" stroke-width="5.5"/>
<text x="905.0" y="2767.3" font-size="38.50" fill="#3a3a3a" text-anchor="start" stroke="#3a3a3a" stroke-width="0.6" letter-spacing="1.9">Cumulative peak fitting</text>
<line x1="908.0" y1="2804.4" x2="1005.7" y2="2804.4" stroke="#c05050" stroke-width="5.5"/>
<text x="1016.2" y="2818.9" font-size="38.50" fill="#3a3a3a" text-anchor="start" stroke="#3a3a3a" stroke-width="0.6" letter-spacing="1.9">Experimental (823 K)</text>
<line x1="908.0" y1="2851.8" x2="1005.7" y2="2851.8" stroke="#e0b070" stroke-width="5.5"/>
<text x="1016.2" y="2866.3" font-size="38.50" fill="#3a3a3a" text-anchor="start" stroke="#3a3a3a" stroke-width="0.6" letter-spacing="1.9">peak fitting-1</text>
<line x1="908.0" y1="2899.3" x2="1005.7" y2="2899.3" stroke="#408060" stroke-width="5.5"/>
<text x="1016.2" y="2913.8" font-size="38.50" fill="#3a3a3a" text-anchor="start" stroke="#3a3a3a" stroke-width="0.6" letter-spacing="1.9">peak fitting-2</text>
<line x1="908.0" y1="2946.8" x2="1005.7" y2="2946.8" stroke="#6060a0" stroke-width="5.5"/>
<text x="1016.2" y="2961.2" font-size="38.50" fill="#3a3a3a" text-anchor="start" stroke="#3a3a3a" stroke-width="0.6" letter-spacing="1.9">peak fitting-3</text>
<line x1="908.0" y1="2994.2" x2="1005.7" y2="2994.2" stroke="#c0c0c0" stroke-width="5.5"/>
<text x="1016.2" y="3008.7" font-size="38.50" fill="#3a3a3a" text-anchor="start" stroke="#3a3a3a" stroke-width="0.6" letter-spacing="1.9">Cumulative peak fitting</text>
<text x="37.8" y="2621.6" font-size="105.20" fill="#000" text-anchor="start" stroke="#000" stroke-width="0.6" >(c)</text>
<text x="256.6" y="2638.0" font-size="67.30" fill="#333" text-anchor="start" stroke="#333" stroke-width="0.6" >O 1s</text>
<text transform="translate(109,3043.2) rotate(-90)" font-size="73" fill="#111" stroke="#111" stroke-width="0.6" text-anchor="middle">Intensity (a.u.)</text>
<text x="812.9" y="3635.8" font-size="76.80" fill="#111" text-anchor="middle" stroke="#111" stroke-width="0.6" >Binding energy (eV)</text>
</g>
</svg>
</body></html>
